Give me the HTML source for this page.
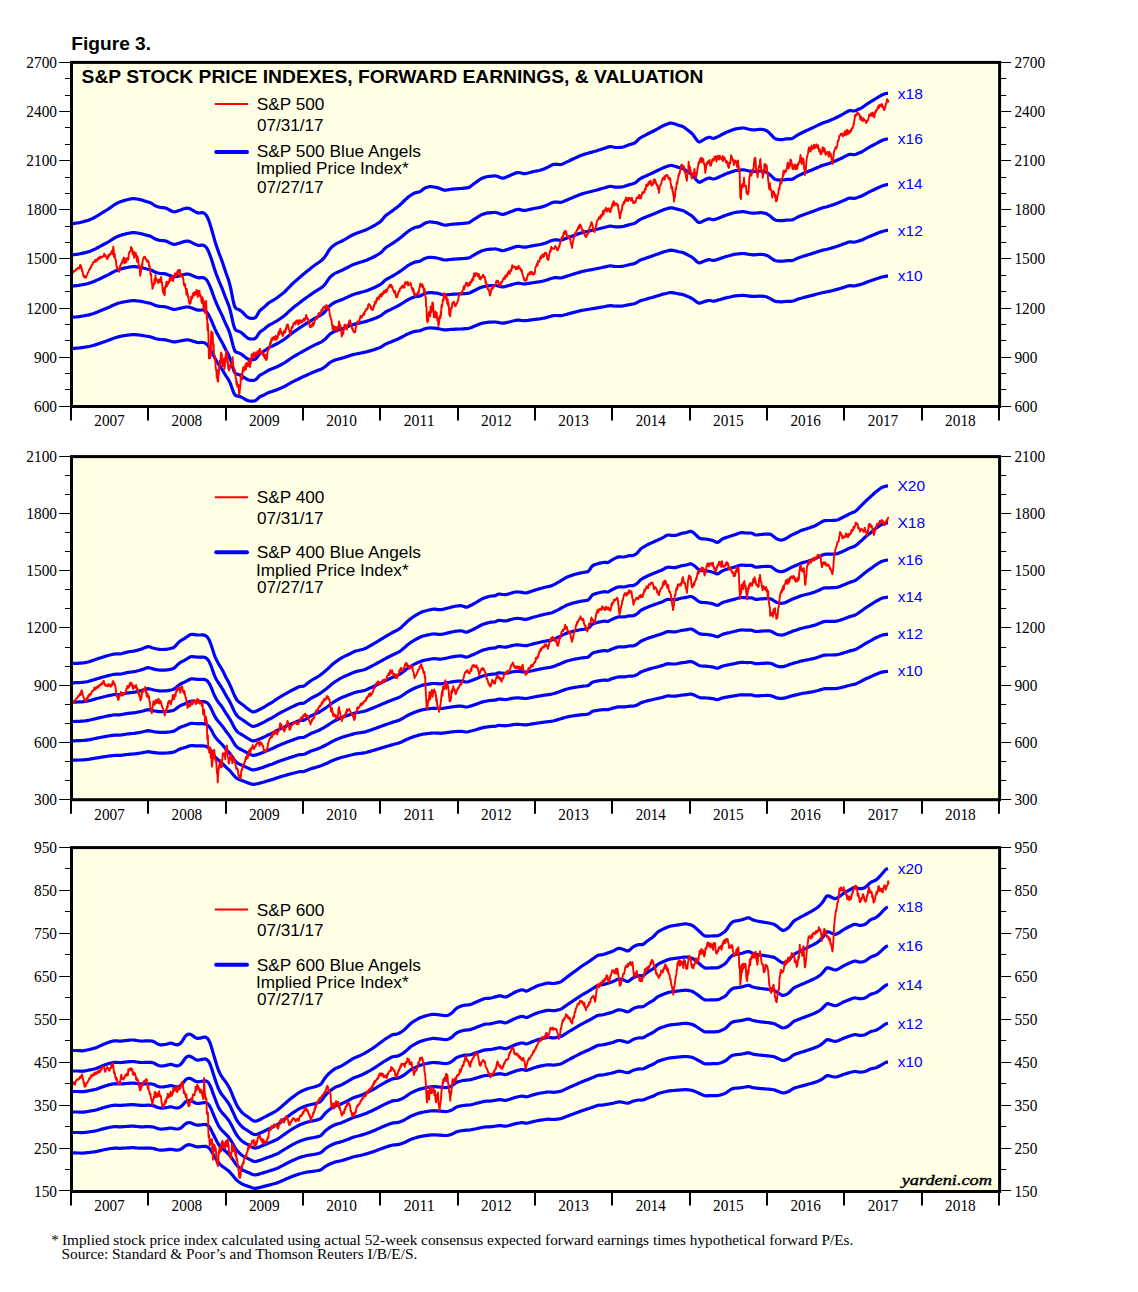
<!DOCTYPE html>
<html><head><meta charset="utf-8"><title>Figure 3</title><style>html,body{margin:0;padding:0;background:#fff}svg{display:block}</style></head><body>
<svg width="1138" height="1292" viewBox="0 0 1138 1292">
<style>
.ax{font-family:"Liberation Serif","Times New Roman",serif;font-size:16px;fill:#000}
.b{fill:none;stroke:#0000ff;stroke-width:3.2;stroke-linejoin:round;stroke-linecap:butt}
.r{fill:none;stroke:#ff0000;stroke-width:1.9;stroke-linejoin:round}
</style>
<rect width="1138" height="1292" fill="#fff"/>
<text x="71.36" y="49.80" textLength="79.72" lengthAdjust="spacingAndGlyphs" style='font-family:"Liberation Sans",Arial,sans-serif;font-size:19.00px;font-weight:bold;font-style:normal;fill:#000'>Figure 3.</text>
<rect x="71.5" y="62.4" width="928.1" height="344.1" fill="#ffffe6"/>
<polyline class="b" points="72.0,348.5 73.0,348.4 74.0,348.4 75.0,348.3 76.0,348.2 77.0,348.1 78.0,348.1 79.0,348.0 80.0,347.8 81.0,347.7 82.0,347.6 83.0,347.4 84.0,347.3 85.0,347.1 86.0,347.0 87.0,346.8 88.0,346.7 89.0,346.5 90.0,346.2 91.0,346.0 92.0,345.7 93.0,345.5 94.0,345.2 95.0,344.9 96.0,344.6 97.0,344.2 98.0,343.9 99.0,343.6 100.0,343.2 101.0,342.9 102.0,342.5 103.0,342.2 104.0,341.9 105.0,341.5 106.0,341.2 107.0,340.8 108.0,340.5 109.0,340.1 110.0,339.7 111.0,339.3 112.0,338.9 113.0,338.5 114.0,338.2 115.0,337.8 116.0,337.5 117.0,337.2 118.0,336.9 119.0,336.6 120.0,336.4 121.0,336.2 122.0,336.0 123.0,335.8 124.0,335.7 125.0,335.5 126.0,335.4 127.0,335.2 128.0,335.1 129.0,335.0 130.0,334.9 131.0,334.7 132.0,334.6 133.0,334.6 134.0,334.6 135.0,334.6 136.0,334.7 137.0,334.8 138.0,334.9 139.0,335.0 140.0,335.1 141.0,335.3 142.0,335.4 143.0,335.6 144.0,335.8 145.0,336.0 146.0,336.1 147.0,336.3 148.0,336.5 149.0,336.6 150.0,336.8 151.0,337.0 152.0,337.4 153.0,337.7 154.0,338.1 155.0,338.5 156.0,338.8 157.0,339.0 158.0,339.1 159.0,339.3 160.0,339.4 161.0,339.5 162.0,339.6 163.0,339.6 164.0,339.7 165.0,339.8 166.0,339.9 167.0,340.2 168.0,340.5 169.0,340.8 170.0,341.0 171.0,341.3 172.0,341.6 173.0,341.8 174.0,341.9 175.0,341.9 176.0,341.8 177.0,341.6 178.0,341.4 179.0,341.2 180.0,341.0 181.0,340.8 182.0,340.6 183.0,340.4 184.0,340.2 185.0,340.1 186.0,340.0 187.0,339.9 188.0,339.9 189.0,340.0 190.0,340.2 191.0,340.5 192.0,340.9 193.0,341.2 194.0,341.5 195.0,341.8 196.0,342.1 197.0,342.4 198.0,342.5 199.0,342.6 200.0,342.5 201.0,342.4 202.0,342.4 203.0,342.5 204.0,342.7 205.0,343.1 206.0,343.7 207.0,344.5 208.0,345.7 209.0,347.1 210.0,348.7 211.0,350.5 212.0,352.4 213.0,354.4 214.0,356.4 215.0,358.3 216.0,360.1 217.0,361.8 218.0,363.4 219.0,364.9 220.0,366.4 221.0,367.8 222.0,369.3 223.0,370.9 224.0,372.6 225.0,374.3 226.0,375.9 227.0,377.4 228.0,378.9 229.0,380.7 230.0,382.7 231.0,385.2 232.0,388.0 233.0,390.9 234.0,393.3 235.0,394.9 236.0,395.6 237.0,395.9 238.0,396.1 239.0,396.4 240.0,396.6 241.0,397.0 242.0,397.4 243.0,398.0 244.0,398.6 245.0,399.2 246.0,399.7 247.0,400.2 248.0,400.6 249.0,400.9 250.0,401.0 251.0,401.1 252.0,401.1 253.0,401.1 254.0,401.0 255.0,400.8 256.0,400.3 257.0,399.5 258.0,398.4 259.0,397.5 260.0,396.7 261.0,396.2 262.0,395.8 263.0,395.4 264.0,395.0 265.0,394.4 266.0,393.9 267.0,393.4 268.0,392.9 269.0,392.4 270.0,392.1 271.0,391.8 272.0,391.5 273.0,391.1 274.0,390.8 275.0,390.4 276.0,390.1 277.0,389.7 278.0,389.3 279.0,388.9 280.0,388.4 281.0,388.0 282.0,387.6 283.0,387.1 284.0,386.7 285.0,386.2 286.0,385.6 287.0,385.0 288.0,384.4 289.0,383.9 290.0,383.3 291.0,382.7 292.0,382.1 293.0,381.6 294.0,381.1 295.0,380.6 296.0,380.1 297.0,379.7 298.0,379.2 299.0,378.7 300.0,378.2 301.0,377.7 302.0,377.2 303.0,376.8 304.0,376.3 305.0,375.9 306.0,375.4 307.0,375.0 308.0,374.5 309.0,374.1 310.0,373.6 311.0,373.2 312.0,372.8 313.0,372.3 314.0,371.9 315.0,371.5 316.0,371.1 317.0,370.7 318.0,370.3 319.0,369.9 320.0,369.6 321.0,369.2 322.0,368.7 323.0,368.1 324.0,367.5 325.0,366.8 326.0,366.0 327.0,365.1 328.0,364.2 329.0,363.3 330.0,362.5 331.0,361.9 332.0,361.4 333.0,360.9 334.0,360.5 335.0,360.1 336.0,359.8 337.0,359.5 338.0,359.2 339.0,358.9 340.0,358.7 341.0,358.4 342.0,358.1 343.0,357.8 344.0,357.6 345.0,357.2 346.0,356.9 347.0,356.6 348.0,356.2 349.0,355.9 350.0,355.5 351.0,355.2 352.0,354.9 353.0,354.6 354.0,354.4 355.0,354.2 356.0,354.0 357.0,353.8 358.0,353.6 359.0,353.4 360.0,353.2 361.0,353.0 362.0,352.8 363.0,352.6 364.0,352.4 365.0,352.2 366.0,351.9 367.0,351.7 368.0,351.4 369.0,351.1 370.0,350.9 371.0,350.6 372.0,350.3 373.0,350.0 374.0,349.7 375.0,349.3 376.0,349.0 377.0,348.6 378.0,348.3 379.0,347.9 380.0,347.5 381.0,347.0 382.0,346.5 383.0,345.8 384.0,345.1 385.0,344.4 386.0,343.9 387.0,343.5 388.0,343.1 389.0,342.7 390.0,342.3 391.0,341.9 392.0,341.5 393.0,341.1 394.0,340.7 395.0,340.3 396.0,339.8 397.0,339.4 398.0,339.0 399.0,338.5 400.0,338.0 401.0,337.5 402.0,337.0 403.0,336.5 404.0,335.9 405.0,335.4 406.0,334.8 407.0,334.3 408.0,333.9 409.0,333.4 410.0,333.0 411.0,332.6 412.0,332.3 413.0,331.9 414.0,331.6 415.0,331.4 416.0,331.2 417.0,331.1 418.0,331.0 419.0,330.9 420.0,330.7 421.0,330.3 422.0,329.9 423.0,329.4 424.0,329.0 425.0,328.7 426.0,328.5 427.0,328.3 428.0,328.1 429.0,328.0 430.0,327.9 431.0,327.9 432.0,328.0 433.0,328.1 434.0,328.2 435.0,328.2 436.0,328.3 437.0,328.5 438.0,328.6 439.0,328.8 440.0,329.0 441.0,329.3 442.0,329.5 443.0,329.7 444.0,329.8 445.0,329.9 446.0,329.9 447.0,329.8 448.0,329.7 449.0,329.6 450.0,329.5 451.0,329.4 452.0,329.4 453.0,329.3 454.0,329.3 455.0,329.2 456.0,329.2 457.0,329.1 458.0,329.1 459.0,329.0 460.0,329.0 461.0,329.0 462.0,328.9 463.0,328.8 464.0,328.8 465.0,328.7 466.0,328.7 467.0,328.6 468.0,328.5 469.0,328.3 470.0,328.0 471.0,327.6 472.0,327.2 473.0,326.7 474.0,326.3 475.0,325.9 476.0,325.5 477.0,325.1 478.0,324.7 479.0,324.3 480.0,323.9 481.0,323.6 482.0,323.3 483.0,323.1 484.0,322.9 485.0,322.7 486.0,322.5 487.0,322.4 488.0,322.3 489.0,322.2 490.0,322.2 491.0,322.1 492.0,322.1 493.0,322.0 494.0,322.0 495.0,322.0 496.0,322.0 497.0,322.2 498.0,322.4 499.0,322.6 500.0,322.8 501.0,323.0 502.0,323.2 503.0,323.2 504.0,323.1 505.0,322.9 506.0,322.7 507.0,322.4 508.0,322.2 509.0,322.0 510.0,321.7 511.0,321.5 512.0,321.2 513.0,321.0 514.0,320.8 515.0,320.5 516.0,320.3 517.0,320.2 518.0,320.1 519.0,320.1 520.0,320.2 521.0,320.4 522.0,320.5 523.0,320.7 524.0,320.7 525.0,320.7 526.0,320.6 527.0,320.5 528.0,320.4 529.0,320.2 530.0,320.1 531.0,319.9 532.0,319.8 533.0,319.6 534.0,319.5 535.0,319.4 536.0,319.3 537.0,319.2 538.0,319.1 539.0,319.0 540.0,318.8 541.0,318.7 542.0,318.5 543.0,318.3 544.0,318.1 545.0,317.9 546.0,317.6 547.0,317.4 548.0,317.1 549.0,316.8 550.0,316.5 551.0,316.2 552.0,315.9 553.0,315.7 554.0,315.6 555.0,315.5 556.0,315.5 557.0,315.5 558.0,315.6 559.0,315.7 560.0,315.7 561.0,315.6 562.0,315.5 563.0,315.3 564.0,315.0 565.0,314.7 566.0,314.5 567.0,314.2 568.0,313.9 569.0,313.7 570.0,313.4 571.0,313.1 572.0,312.9 573.0,312.6 574.0,312.3 575.0,312.1 576.0,311.8 577.0,311.6 578.0,311.3 579.0,311.1 580.0,310.8 581.0,310.6 582.0,310.4 583.0,310.2 584.0,310.0 585.0,309.9 586.0,309.7 587.0,309.5 588.0,309.4 589.0,309.2 590.0,309.0 591.0,308.9 592.0,308.7 593.0,308.6 594.0,308.4 595.0,308.3 596.0,308.1 597.0,307.9 598.0,307.8 599.0,307.6 600.0,307.4 601.0,307.2 602.0,307.0 603.0,306.9 604.0,306.7 605.0,306.5 606.0,306.3 607.0,306.1 608.0,305.9 609.0,305.8 610.0,305.7 611.0,305.7 612.0,305.8 613.0,305.9 614.0,306.0 615.0,306.1 616.0,306.2 617.0,306.2 618.0,306.2 619.0,306.2 620.0,306.1 621.0,306.1 622.0,306.0 623.0,305.9 624.0,305.7 625.0,305.5 626.0,305.3 627.0,305.1 628.0,304.9 629.0,304.7 630.0,304.5 631.0,304.3 632.0,304.2 633.0,304.0 634.0,303.8 635.0,303.5 636.0,303.1 637.0,302.6 638.0,302.0 639.0,301.4 640.0,301.0 641.0,300.6 642.0,300.3 643.0,300.0 644.0,299.7 645.0,299.5 646.0,299.2 647.0,298.9 648.0,298.6 649.0,298.3 650.0,298.0 651.0,297.7 652.0,297.5 653.0,297.2 654.0,296.9 655.0,296.6 656.0,296.3 657.0,296.0 658.0,295.7 659.0,295.4 660.0,295.1 661.0,294.7 662.0,294.4 663.0,294.2 664.0,293.9 665.0,293.7 666.0,293.5 667.0,293.2 668.0,293.0 669.0,292.8 670.0,292.6 671.0,292.6 672.0,292.7 673.0,292.8 674.0,292.9 675.0,293.1 676.0,293.3 677.0,293.5 678.0,293.7 679.0,293.9 680.0,294.1 681.0,294.2 682.0,294.4 683.0,294.6 684.0,294.9 685.0,295.3 686.0,295.8 687.0,296.2 688.0,296.6 689.0,297.1 690.0,297.5 691.0,298.0 692.0,298.5 693.0,299.1 694.0,299.9 695.0,300.6 696.0,301.4 697.0,302.2 698.0,302.8 699.0,303.1 700.0,303.1 701.0,302.8 702.0,302.4 703.0,302.1 704.0,301.7 705.0,301.4 706.0,301.1 707.0,300.9 708.0,300.6 709.0,300.5 710.0,300.5 711.0,300.7 712.0,301.0 713.0,301.1 714.0,301.1 715.0,300.9 716.0,300.7 717.0,300.4 718.0,300.1 719.0,299.8 720.0,299.6 721.0,299.3 722.0,299.0 723.0,298.7 724.0,298.4 725.0,298.1 726.0,297.9 727.0,297.6 728.0,297.4 729.0,297.2 730.0,297.0 731.0,296.8 732.0,296.5 733.0,296.3 734.0,296.1 735.0,295.9 736.0,295.8 737.0,295.7 738.0,295.7 739.0,295.6 740.0,295.5 741.0,295.4 742.0,295.4 743.0,295.3 744.0,295.4 745.0,295.5 746.0,295.6 747.0,295.8 748.0,295.9 749.0,296.1 750.0,296.2 751.0,296.3 752.0,296.4 753.0,296.4 754.0,296.4 755.0,296.4 756.0,296.3 757.0,296.3 758.0,296.2 759.0,296.1 760.0,296.1 761.0,296.1 762.0,296.1 763.0,296.2 764.0,296.4 765.0,296.5 766.0,296.7 767.0,297.0 768.0,297.5 769.0,297.9 770.0,298.5 771.0,299.0 772.0,299.7 773.0,300.3 774.0,300.8 775.0,301.2 776.0,301.4 777.0,301.6 778.0,301.6 779.0,301.7 780.0,301.8 781.0,301.8 782.0,301.8 783.0,301.7 784.0,301.6 785.0,301.5 786.0,301.4 787.0,301.3 788.0,301.3 789.0,301.3 790.0,301.3 791.0,301.3 792.0,301.2 793.0,301.0 794.0,300.7 795.0,300.3 796.0,299.9 797.0,299.5 798.0,299.1 799.0,298.8 800.0,298.5 801.0,298.3 802.0,298.0 803.0,297.7 804.0,297.4 805.0,297.2 806.0,296.9 807.0,296.6 808.0,296.4 809.0,296.1 810.0,295.9 811.0,295.6 812.0,295.4 813.0,295.1 814.0,294.9 815.0,294.6 816.0,294.3 817.0,294.0 818.0,293.8 819.0,293.5 820.0,293.2 821.0,293.0 822.0,292.7 823.0,292.5 824.0,292.3 825.0,292.2 826.0,292.0 827.0,291.8 828.0,291.6 829.0,291.4 830.0,291.2 831.0,290.9 832.0,290.7 833.0,290.4 834.0,290.2 835.0,289.9 836.0,289.6 837.0,289.4 838.0,289.1 839.0,288.8 840.0,288.5 841.0,288.2 842.0,287.9 843.0,287.6 844.0,287.3 845.0,287.0 846.0,286.6 847.0,286.3 848.0,286.0 849.0,285.8 850.0,285.7 851.0,285.7 852.0,285.8 853.0,285.9 854.0,285.9 855.0,285.8 856.0,285.6 857.0,285.3 858.0,285.1 859.0,284.9 860.0,284.6 861.0,284.3 862.0,284.0 863.0,283.7 864.0,283.3 865.0,282.9 866.0,282.5 867.0,282.1 868.0,281.7 869.0,281.3 870.0,281.0 871.0,280.7 872.0,280.3 873.0,280.0 874.0,279.6 875.0,279.3 876.0,279.0 877.0,278.6 878.0,278.3 879.0,278.0 880.0,277.6 881.0,277.3 882.0,277.0 883.0,276.8 884.0,276.6 885.0,276.3 886.0,276.2 887.0,276.1 888.0,276.1"/>
<polyline class="b" points="72.0,317.3 73.0,317.2 74.0,317.1 75.0,317.0 76.0,317.0 77.0,316.9 78.0,316.8 79.0,316.6 80.0,316.5 81.0,316.3 82.0,316.2 83.0,316.0 84.0,315.8 85.0,315.6 86.0,315.5 87.0,315.3 88.0,315.1 89.0,314.9 90.0,314.6 91.0,314.3 92.0,314.0 93.0,313.7 94.0,313.3 95.0,313.0 96.0,312.6 97.0,312.2 98.0,311.8 99.0,311.4 100.0,310.9 101.0,310.5 102.0,310.1 103.0,309.7 104.0,309.3 105.0,308.9 106.0,308.5 107.0,308.1 108.0,307.7 109.0,307.2 110.0,306.8 111.0,306.3 112.0,305.8 113.0,305.3 114.0,304.9 115.0,304.5 116.0,304.1 117.0,303.7 118.0,303.3 119.0,303.0 120.0,302.8 121.0,302.5 122.0,302.3 123.0,302.1 124.0,301.9 125.0,301.7 126.0,301.5 127.0,301.4 128.0,301.2 129.0,301.1 130.0,300.9 131.0,300.8 132.0,300.6 133.0,300.6 134.0,300.6 135.0,300.7 136.0,300.8 137.0,300.9 138.0,301.0 139.0,301.1 140.0,301.2 141.0,301.4 142.0,301.6 143.0,301.8 144.0,302.0 145.0,302.2 146.0,302.5 147.0,302.7 148.0,302.8 149.0,303.0 150.0,303.2 151.0,303.5 152.0,303.9 153.0,304.4 154.0,304.8 155.0,305.3 156.0,305.6 157.0,305.9 158.0,306.1 159.0,306.3 160.0,306.4 161.0,306.5 162.0,306.6 163.0,306.6 164.0,306.7 165.0,306.8 166.0,307.0 167.0,307.3 168.0,307.6 169.0,308.0 170.0,308.3 171.0,308.7 172.0,309.0 173.0,309.3 174.0,309.4 175.0,309.4 176.0,309.2 177.0,309.0 178.0,308.8 179.0,308.5 180.0,308.3 181.0,308.1 182.0,307.8 183.0,307.6 184.0,307.3 185.0,307.2 186.0,307.0 187.0,307.0 188.0,307.0 189.0,307.1 190.0,307.4 191.0,307.7 192.0,308.1 193.0,308.5 194.0,308.9 195.0,309.2 196.0,309.6 197.0,309.9 198.0,310.1 199.0,310.2 200.0,310.1 201.0,310.0 202.0,310.0 203.0,310.0 204.0,310.3 205.0,310.8 206.0,311.5 207.0,312.5 208.0,313.9 209.0,315.6 210.0,317.6 211.0,319.7 212.0,322.0 213.0,324.4 214.0,326.8 215.0,329.1 216.0,331.2 217.0,333.2 218.0,335.1 219.0,337.0 220.0,338.7 221.0,340.5 222.0,342.3 223.0,344.2 224.0,346.2 225.0,348.2 226.0,350.2 227.0,352.0 228.0,353.8 229.0,355.9 230.0,358.4 231.0,361.3 232.0,364.7 233.0,368.2 234.0,371.1 235.0,372.9 236.0,373.8 237.0,374.2 238.0,374.4 239.0,374.7 240.0,375.0 241.0,375.5 242.0,376.0 243.0,376.7 244.0,377.4 245.0,378.1 246.0,378.8 247.0,379.3 248.0,379.8 249.0,380.1 250.0,380.3 251.0,380.4 252.0,380.4 253.0,380.4 254.0,380.3 255.0,380.0 256.0,379.4 257.0,378.5 258.0,377.2 259.0,376.0 260.0,375.2 261.0,374.6 262.0,374.1 263.0,373.6 264.0,373.0 265.0,372.4 266.0,371.8 267.0,371.2 268.0,370.5 269.0,370.0 270.0,369.6 271.0,369.2 272.0,368.8 273.0,368.4 274.0,368.0 275.0,367.6 276.0,367.2 277.0,366.7 278.0,366.2 279.0,365.7 280.0,365.2 281.0,364.7 282.0,364.2 283.0,363.6 284.0,363.1 285.0,362.5 286.0,361.8 287.0,361.1 288.0,360.4 289.0,359.7 290.0,359.0 291.0,358.3 292.0,357.7 293.0,357.0 294.0,356.4 295.0,355.8 296.0,355.3 297.0,354.7 298.0,354.1 299.0,353.5 300.0,352.9 301.0,352.4 302.0,351.8 303.0,351.2 304.0,350.7 305.0,350.1 306.0,349.6 307.0,349.0 308.0,348.5 309.0,348.0 310.0,347.4 311.0,346.9 312.0,346.4 313.0,345.9 314.0,345.4 315.0,344.9 316.0,344.4 317.0,343.9 318.0,343.5 319.0,343.0 320.0,342.6 321.0,342.1 322.0,341.5 323.0,340.9 324.0,340.1 325.0,339.3 326.0,338.3 327.0,337.2 328.0,336.1 329.0,335.0 330.0,334.1 331.0,333.4 332.0,332.7 333.0,332.2 334.0,331.6 335.0,331.2 336.0,330.8 337.0,330.5 338.0,330.1 339.0,329.8 340.0,329.5 341.0,329.2 342.0,328.8 343.0,328.5 344.0,328.1 345.0,327.8 346.0,327.4 347.0,327.0 348.0,326.6 349.0,326.1 350.0,325.7 351.0,325.3 352.0,325.0 353.0,324.7 354.0,324.4 355.0,324.1 356.0,323.8 357.0,323.6 358.0,323.3 359.0,323.1 360.0,322.9 361.0,322.6 362.0,322.4 363.0,322.2 364.0,321.9 365.0,321.7 366.0,321.4 367.0,321.1 368.0,320.8 369.0,320.5 370.0,320.1 371.0,319.8 372.0,319.4 373.0,319.1 374.0,318.7 375.0,318.3 376.0,317.9 377.0,317.5 378.0,317.0 379.0,316.6 380.0,316.1 381.0,315.5 382.0,314.8 383.0,314.0 384.0,313.2 385.0,312.4 386.0,311.8 387.0,311.3 388.0,310.8 389.0,310.3 390.0,309.9 391.0,309.4 392.0,308.9 393.0,308.4 394.0,307.9 395.0,307.4 396.0,306.9 397.0,306.4 398.0,305.8 399.0,305.3 400.0,304.7 401.0,304.1 402.0,303.5 403.0,302.8 404.0,302.2 405.0,301.5 406.0,300.9 407.0,300.3 408.0,299.7 409.0,299.2 410.0,298.7 411.0,298.3 412.0,297.8 413.0,297.4 414.0,297.1 415.0,296.8 416.0,296.6 417.0,296.4 418.0,296.3 419.0,296.2 420.0,295.9 421.0,295.5 422.0,295.0 423.0,294.4 424.0,293.9 425.0,293.5 426.0,293.3 427.0,293.0 428.0,292.8 429.0,292.7 430.0,292.6 431.0,292.6 432.0,292.7 433.0,292.8 434.0,292.9 435.0,293.0 436.0,293.1 437.0,293.2 438.0,293.4 439.0,293.7 440.0,293.9 441.0,294.2 442.0,294.5 443.0,294.7 444.0,294.9 445.0,295.0 446.0,294.9 447.0,294.9 448.0,294.7 449.0,294.6 450.0,294.5 451.0,294.4 452.0,294.3 453.0,294.2 454.0,294.2 455.0,294.1 456.0,294.1 457.0,294.0 458.0,294.0 459.0,293.9 460.0,293.9 461.0,293.8 462.0,293.8 463.0,293.7 464.0,293.6 465.0,293.6 466.0,293.5 467.0,293.4 468.0,293.3 469.0,293.1 470.0,292.7 471.0,292.2 472.0,291.7 473.0,291.2 474.0,290.7 475.0,290.2 476.0,289.7 477.0,289.2 478.0,288.8 479.0,288.3 480.0,287.8 481.0,287.4 482.0,287.1 483.0,286.8 484.0,286.6 485.0,286.3 486.0,286.1 487.0,286.0 488.0,285.8 489.0,285.8 490.0,285.7 491.0,285.7 492.0,285.6 493.0,285.5 494.0,285.5 495.0,285.5 496.0,285.5 497.0,285.7 498.0,285.9 499.0,286.2 500.0,286.5 501.0,286.7 502.0,286.9 503.0,286.9 504.0,286.8 505.0,286.6 506.0,286.3 507.0,286.0 508.0,285.7 509.0,285.4 510.0,285.2 511.0,284.9 512.0,284.6 513.0,284.3 514.0,284.0 515.0,283.7 516.0,283.5 517.0,283.3 518.0,283.2 519.0,283.2 520.0,283.4 521.0,283.5 522.0,283.7 523.0,283.9 524.0,284.0 525.0,283.9 526.0,283.8 527.0,283.7 528.0,283.5 529.0,283.3 530.0,283.2 531.0,283.0 532.0,282.8 533.0,282.7 534.0,282.5 535.0,282.4 536.0,282.2 537.0,282.1 538.0,282.0 539.0,281.8 540.0,281.7 541.0,281.5 542.0,281.3 543.0,281.0 544.0,280.8 545.0,280.5 546.0,280.3 547.0,279.9 548.0,279.6 549.0,279.2 550.0,278.8 551.0,278.5 552.0,278.2 553.0,278.0 554.0,277.8 555.0,277.7 556.0,277.7 557.0,277.7 558.0,277.8 559.0,277.9 560.0,277.9 561.0,277.9 562.0,277.7 563.0,277.4 564.0,277.1 565.0,276.8 566.0,276.4 567.0,276.1 568.0,275.8 569.0,275.5 570.0,275.2 571.0,274.8 572.0,274.5 573.0,274.2 574.0,273.9 575.0,273.6 576.0,273.3 577.0,273.0 578.0,272.7 579.0,272.4 580.0,272.1 581.0,271.8 582.0,271.5 583.0,271.3 584.0,271.1 585.0,270.9 586.0,270.7 587.0,270.5 588.0,270.3 589.0,270.1 590.0,269.9 591.0,269.8 592.0,269.6 593.0,269.4 594.0,269.2 595.0,269.0 596.0,268.8 597.0,268.6 598.0,268.4 599.0,268.2 600.0,268.0 601.0,267.8 602.0,267.5 603.0,267.3 604.0,267.1 605.0,266.9 606.0,266.7 607.0,266.4 608.0,266.2 609.0,266.0 610.0,265.9 611.0,265.9 612.0,266.0 613.0,266.2 614.0,266.3 615.0,266.5 616.0,266.5 617.0,266.5 618.0,266.5 619.0,266.5 620.0,266.5 621.0,266.4 622.0,266.3 623.0,266.2 624.0,266.0 625.0,265.7 626.0,265.5 627.0,265.2 628.0,265.0 629.0,264.7 630.0,264.5 631.0,264.3 632.0,264.1 633.0,263.9 634.0,263.7 635.0,263.3 636.0,262.8 637.0,262.2 638.0,261.5 639.0,260.8 640.0,260.3 641.0,259.8 642.0,259.5 643.0,259.1 644.0,258.8 645.0,258.4 646.0,258.1 647.0,257.7 648.0,257.4 649.0,257.1 650.0,256.7 651.0,256.4 652.0,256.0 653.0,255.7 654.0,255.3 655.0,255.0 656.0,254.6 657.0,254.3 658.0,253.9 659.0,253.5 660.0,253.2 661.0,252.8 662.0,252.4 663.0,252.1 664.0,251.8 665.0,251.5 666.0,251.2 667.0,251.0 668.0,250.7 669.0,250.4 670.0,250.3 671.0,250.2 672.0,250.3 673.0,250.4 674.0,250.6 675.0,250.8 676.0,251.1 677.0,251.3 678.0,251.5 679.0,251.8 680.0,252.0 681.0,252.1 682.0,252.3 683.0,252.6 684.0,253.0 685.0,253.5 686.0,254.0 687.0,254.5 688.0,255.0 689.0,255.6 690.0,256.1 691.0,256.6 692.0,257.3 693.0,258.0 694.0,258.9 695.0,259.8 696.0,260.8 697.0,261.7 698.0,262.4 699.0,262.8 700.0,262.8 701.0,262.4 702.0,262.0 703.0,261.6 704.0,261.2 705.0,260.8 706.0,260.4 707.0,260.1 708.0,259.8 709.0,259.7 710.0,259.7 711.0,260.0 712.0,260.2 713.0,260.4 714.0,260.4 715.0,260.2 716.0,259.9 717.0,259.6 718.0,259.2 719.0,258.9 720.0,258.6 721.0,258.2 722.0,257.9 723.0,257.5 724.0,257.2 725.0,256.8 726.0,256.5 727.0,256.2 728.0,256.0 729.0,255.7 730.0,255.5 731.0,255.2 732.0,254.9 733.0,254.7 734.0,254.4 735.0,254.2 736.0,254.1 737.0,254.0 738.0,253.9 739.0,253.8 740.0,253.7 741.0,253.6 742.0,253.5 743.0,253.5 744.0,253.6 745.0,253.7 746.0,253.8 747.0,254.0 748.0,254.2 749.0,254.4 750.0,254.5 751.0,254.6 752.0,254.7 753.0,254.8 754.0,254.8 755.0,254.8 756.0,254.7 757.0,254.6 758.0,254.5 759.0,254.4 760.0,254.4 761.0,254.4 762.0,254.4 763.0,254.5 764.0,254.7 765.0,254.9 766.0,255.2 767.0,255.5 768.0,256.0 769.0,256.6 770.0,257.3 771.0,257.9 772.0,258.7 773.0,259.4 774.0,260.1 775.0,260.5 776.0,260.8 777.0,261.0 778.0,261.1 779.0,261.2 780.0,261.2 781.0,261.3 782.0,261.2 783.0,261.2 784.0,261.0 785.0,260.9 786.0,260.8 787.0,260.7 788.0,260.7 789.0,260.7 790.0,260.7 791.0,260.7 792.0,260.6 793.0,260.3 794.0,259.9 795.0,259.4 796.0,258.9 797.0,258.5 798.0,258.0 799.0,257.7 800.0,257.3 801.0,257.0 802.0,256.7 803.0,256.3 804.0,256.0 805.0,255.7 806.0,255.4 807.0,255.1 808.0,254.8 809.0,254.5 810.0,254.2 811.0,253.9 812.0,253.6 813.0,253.2 814.0,252.9 815.0,252.6 816.0,252.3 817.0,251.9 818.0,251.6 819.0,251.3 820.0,251.0 821.0,250.7 822.0,250.4 823.0,250.1 824.0,249.9 825.0,249.7 826.0,249.5 827.0,249.3 828.0,249.0 829.0,248.8 830.0,248.5 831.0,248.2 832.0,247.9 833.0,247.6 834.0,247.3 835.0,247.0 836.0,246.7 837.0,246.3 838.0,246.0 839.0,245.7 840.0,245.3 841.0,245.0 842.0,244.6 843.0,244.2 844.0,243.8 845.0,243.5 846.0,243.1 847.0,242.7 848.0,242.3 849.0,242.0 850.0,241.9 851.0,241.9 852.0,242.0 853.0,242.2 854.0,242.2 855.0,242.0 856.0,241.8 857.0,241.5 858.0,241.2 859.0,240.9 860.0,240.6 861.0,240.3 862.0,239.9 863.0,239.5 864.0,239.0 865.0,238.5 866.0,238.1 867.0,237.6 868.0,237.1 869.0,236.7 870.0,236.3 871.0,235.9 872.0,235.5 873.0,235.1 874.0,234.7 875.0,234.2 876.0,233.8 877.0,233.4 878.0,233.0 879.0,232.6 880.0,232.2 881.0,231.9 882.0,231.5 883.0,231.2 884.0,231.0 885.0,230.7 886.0,230.5 887.0,230.4 888.0,230.4"/>
<polyline class="b" points="72.0,286.1 73.0,286.0 74.0,285.9 75.0,285.8 76.0,285.7 77.0,285.6 78.0,285.5 79.0,285.3 80.0,285.2 81.0,285.0 82.0,284.8 83.0,284.6 84.0,284.4 85.0,284.2 86.0,284.0 87.0,283.7 88.0,283.5 89.0,283.2 90.0,282.9 91.0,282.6 92.0,282.2 93.0,281.8 94.0,281.5 95.0,281.0 96.0,280.6 97.0,280.1 98.0,279.6 99.0,279.2 100.0,278.7 101.0,278.2 102.0,277.7 103.0,277.3 104.0,276.8 105.0,276.3 106.0,275.8 107.0,275.4 108.0,274.9 109.0,274.4 110.0,273.8 111.0,273.3 112.0,272.7 113.0,272.1 114.0,271.6 115.0,271.1 116.0,270.7 117.0,270.2 118.0,269.8 119.0,269.5 120.0,269.1 121.0,268.9 122.0,268.6 123.0,268.4 124.0,268.1 125.0,267.9 126.0,267.7 127.0,267.5 128.0,267.3 129.0,267.1 130.0,267.0 131.0,266.8 132.0,266.7 133.0,266.6 134.0,266.6 135.0,266.7 136.0,266.8 137.0,266.9 138.0,267.1 139.0,267.2 140.0,267.3 141.0,267.5 142.0,267.8 143.0,268.0 144.0,268.3 145.0,268.5 146.0,268.8 147.0,269.0 148.0,269.2 149.0,269.4 150.0,269.7 151.0,270.0 152.0,270.5 153.0,271.0 154.0,271.6 155.0,272.0 156.0,272.4 157.0,272.7 158.0,273.0 159.0,273.2 160.0,273.4 161.0,273.5 162.0,273.6 163.0,273.7 164.0,273.7 165.0,273.8 166.0,274.1 167.0,274.4 168.0,274.8 169.0,275.2 170.0,275.6 171.0,276.0 172.0,276.4 173.0,276.7 174.0,276.9 175.0,276.8 176.0,276.6 177.0,276.4 178.0,276.1 179.0,275.9 180.0,275.6 181.0,275.3 182.0,275.0 183.0,274.7 184.0,274.5 185.0,274.3 186.0,274.1 187.0,274.1 188.0,274.1 189.0,274.2 190.0,274.5 191.0,274.9 192.0,275.4 193.0,275.8 194.0,276.3 195.0,276.7 196.0,277.1 197.0,277.5 198.0,277.7 199.0,277.8 200.0,277.7 201.0,277.6 202.0,277.5 203.0,277.6 204.0,278.0 205.0,278.5 206.0,279.3 207.0,280.5 208.0,282.1 209.0,284.1 210.0,286.4 211.0,288.9 212.0,291.6 213.0,294.4 214.0,297.2 215.0,299.9 216.0,302.3 217.0,304.7 218.0,306.9 219.0,309.0 220.0,311.1 221.0,313.1 222.0,315.2 223.0,317.5 224.0,319.8 225.0,322.2 226.0,324.4 227.0,326.5 228.0,328.7 229.0,331.1 230.0,334.0 231.0,337.5 232.0,341.4 233.0,345.4 234.0,348.8 235.0,351.0 236.0,352.0 237.0,352.4 238.0,352.7 239.0,353.1 240.0,353.5 241.0,354.0 242.0,354.6 243.0,355.4 244.0,356.2 245.0,357.0 246.0,357.8 247.0,358.5 248.0,359.0 249.0,359.4 250.0,359.6 251.0,359.7 252.0,359.7 253.0,359.7 254.0,359.6 255.0,359.3 256.0,358.6 257.0,357.4 258.0,356.0 259.0,354.6 260.0,353.6 261.0,352.9 262.0,352.3 263.0,351.8 264.0,351.1 265.0,350.4 266.0,349.7 267.0,348.9 268.0,348.2 269.0,347.6 270.0,347.1 271.0,346.6 272.0,346.2 273.0,345.8 274.0,345.3 275.0,344.8 276.0,344.3 277.0,343.7 278.0,343.2 279.0,342.6 280.0,342.0 281.0,341.4 282.0,340.8 283.0,340.2 284.0,339.5 285.0,338.8 286.0,338.0 287.0,337.2 288.0,336.4 289.0,335.6 290.0,334.8 291.0,334.0 292.0,333.2 293.0,332.4 294.0,331.7 295.0,331.1 296.0,330.4 297.0,329.7 298.0,329.0 299.0,328.3 300.0,327.7 301.0,327.0 302.0,326.3 303.0,325.7 304.0,325.0 305.0,324.4 306.0,323.7 307.0,323.1 308.0,322.5 309.0,321.9 310.0,321.3 311.0,320.6 312.0,320.0 313.0,319.4 314.0,318.8 315.0,318.3 316.0,317.7 317.0,317.2 318.0,316.6 319.0,316.1 320.0,315.6 321.0,315.0 322.0,314.3 323.0,313.6 324.0,312.7 325.0,311.8 326.0,310.6 327.0,309.3 328.0,308.0 329.0,306.7 330.0,305.7 331.0,304.8 332.0,304.1 333.0,303.4 334.0,302.8 335.0,302.3 336.0,301.8 337.0,301.4 338.0,301.1 339.0,300.7 340.0,300.3 341.0,299.9 342.0,299.5 343.0,299.2 344.0,298.7 345.0,298.3 346.0,297.8 347.0,297.4 348.0,296.9 349.0,296.4 350.0,295.9 351.0,295.5 352.0,295.1 353.0,294.7 354.0,294.3 355.0,294.0 356.0,293.7 357.0,293.4 358.0,293.1 359.0,292.9 360.0,292.6 361.0,292.3 362.0,292.0 363.0,291.8 364.0,291.5 365.0,291.2 366.0,290.9 367.0,290.6 368.0,290.2 369.0,289.8 370.0,289.4 371.0,289.0 372.0,288.6 373.0,288.1 374.0,287.7 375.0,287.2 376.0,286.8 377.0,286.3 378.0,285.8 379.0,285.3 380.0,284.7 381.0,284.0 382.0,283.2 383.0,282.3 384.0,281.3 385.0,280.4 386.0,279.7 387.0,279.0 388.0,278.5 389.0,278.0 390.0,277.4 391.0,276.9 392.0,276.3 393.0,275.8 394.0,275.2 395.0,274.6 396.0,274.0 397.0,273.3 398.0,272.7 399.0,272.1 400.0,271.4 401.0,270.7 402.0,270.0 403.0,269.2 404.0,268.5 405.0,267.7 406.0,267.0 407.0,266.2 408.0,265.6 409.0,265.0 410.0,264.4 411.0,263.9 412.0,263.4 413.0,262.9 414.0,262.5 415.0,262.1 416.0,261.9 417.0,261.8 418.0,261.6 419.0,261.4 420.0,261.1 421.0,260.7 422.0,260.0 423.0,259.4 424.0,258.8 425.0,258.4 426.0,258.0 427.0,257.8 428.0,257.5 429.0,257.4 430.0,257.3 431.0,257.3 432.0,257.4 433.0,257.5 434.0,257.6 435.0,257.7 436.0,257.9 437.0,258.0 438.0,258.3 439.0,258.5 440.0,258.8 441.0,259.1 442.0,259.4 443.0,259.7 444.0,259.9 445.0,260.0 446.0,260.0 447.0,259.9 448.0,259.8 449.0,259.6 450.0,259.5 451.0,259.4 452.0,259.3 453.0,259.2 454.0,259.1 455.0,259.1 456.0,259.0 457.0,258.9 458.0,258.9 459.0,258.8 460.0,258.8 461.0,258.7 462.0,258.6 463.0,258.6 464.0,258.5 465.0,258.4 466.0,258.3 467.0,258.2 468.0,258.1 469.0,257.8 470.0,257.4 471.0,256.8 472.0,256.2 473.0,255.6 474.0,255.0 475.0,254.5 476.0,253.9 477.0,253.3 478.0,252.8 479.0,252.2 480.0,251.7 481.0,251.2 482.0,250.8 483.0,250.5 484.0,250.2 485.0,250.0 486.0,249.7 487.0,249.5 488.0,249.4 489.0,249.3 490.0,249.2 491.0,249.2 492.0,249.1 493.0,249.0 494.0,249.0 495.0,248.9 496.0,249.0 497.0,249.2 498.0,249.5 499.0,249.8 500.0,250.1 501.0,250.4 502.0,250.6 503.0,250.7 504.0,250.5 505.0,250.2 506.0,249.9 507.0,249.6 508.0,249.3 509.0,248.9 510.0,248.6 511.0,248.3 512.0,247.9 513.0,247.6 514.0,247.3 515.0,246.9 516.0,246.6 517.0,246.4 518.0,246.3 519.0,246.3 520.0,246.5 521.0,246.7 522.0,246.9 523.0,247.1 524.0,247.2 525.0,247.2 526.0,247.1 527.0,246.9 528.0,246.7 529.0,246.5 530.0,246.3 531.0,246.1 532.0,245.9 533.0,245.7 534.0,245.5 535.0,245.3 536.0,245.2 537.0,245.0 538.0,244.9 539.0,244.7 540.0,244.5 541.0,244.3 542.0,244.1 543.0,243.8 544.0,243.5 545.0,243.2 546.0,242.9 547.0,242.5 548.0,242.1 549.0,241.6 550.0,241.2 551.0,240.8 552.0,240.5 553.0,240.2 554.0,240.0 555.0,239.9 556.0,239.9 557.0,239.9 558.0,240.0 559.0,240.1 560.0,240.1 561.0,240.1 562.0,239.9 563.0,239.5 564.0,239.2 565.0,238.8 566.0,238.4 567.0,238.1 568.0,237.7 569.0,237.3 570.0,236.9 571.0,236.6 572.0,236.2 573.0,235.8 574.0,235.4 575.0,235.1 576.0,234.7 577.0,234.4 578.0,234.0 579.0,233.6 580.0,233.3 581.0,233.0 582.0,232.7 583.0,232.4 584.0,232.2 585.0,232.0 586.0,231.7 587.0,231.5 588.0,231.3 589.0,231.1 590.0,230.8 591.0,230.6 592.0,230.4 593.0,230.2 594.0,230.0 595.0,229.8 596.0,229.5 597.0,229.3 598.0,229.0 599.0,228.8 600.0,228.5 601.0,228.3 602.0,228.0 603.0,227.8 604.0,227.5 605.0,227.3 606.0,227.0 607.0,226.8 608.0,226.5 609.0,226.3 610.0,226.1 611.0,226.1 612.0,226.3 613.0,226.5 614.0,226.6 615.0,226.8 616.0,226.8 617.0,226.8 618.0,226.8 619.0,226.8 620.0,226.8 621.0,226.7 622.0,226.6 623.0,226.5 624.0,226.2 625.0,225.9 626.0,225.6 627.0,225.4 628.0,225.1 629.0,224.8 630.0,224.5 631.0,224.3 632.0,224.0 633.0,223.8 634.0,223.5 635.0,223.1 636.0,222.5 637.0,221.8 638.0,220.9 639.0,220.2 640.0,219.6 641.0,219.1 642.0,218.6 643.0,218.2 644.0,217.8 645.0,217.4 646.0,217.0 647.0,216.6 648.0,216.2 649.0,215.8 650.0,215.4 651.0,215.0 652.0,214.6 653.0,214.2 654.0,213.8 655.0,213.4 656.0,213.0 657.0,212.6 658.0,212.1 659.0,211.7 660.0,211.3 661.0,210.8 662.0,210.4 663.0,210.0 664.0,209.6 665.0,209.3 666.0,209.0 667.0,208.7 668.0,208.4 669.0,208.1 670.0,207.9 671.0,207.8 672.0,207.9 673.0,208.1 674.0,208.3 675.0,208.6 676.0,208.8 677.0,209.1 678.0,209.4 679.0,209.6 680.0,209.9 681.0,210.1 682.0,210.3 683.0,210.6 684.0,211.1 685.0,211.7 686.0,212.3 687.0,212.9 688.0,213.5 689.0,214.1 690.0,214.7 691.0,215.3 692.0,216.1 693.0,217.0 694.0,218.0 695.0,219.1 696.0,220.2 697.0,221.2 698.0,222.1 699.0,222.5 700.0,222.5 701.0,222.1 702.0,221.6 703.0,221.1 704.0,220.6 705.0,220.2 706.0,219.8 707.0,219.4 708.0,219.0 709.0,218.9 710.0,218.9 711.0,219.2 712.0,219.5 713.0,219.7 714.0,219.7 715.0,219.4 716.0,219.1 717.0,218.7 718.0,218.4 719.0,218.0 720.0,217.6 721.0,217.2 722.0,216.7 723.0,216.3 724.0,215.9 725.0,215.5 726.0,215.2 727.0,214.9 728.0,214.5 729.0,214.2 730.0,213.9 731.0,213.6 732.0,213.3 733.0,213.0 734.0,212.7 735.0,212.5 736.0,212.3 737.0,212.2 738.0,212.1 739.0,212.0 740.0,211.9 741.0,211.8 742.0,211.7 743.0,211.7 744.0,211.7 745.0,211.9 746.0,212.1 747.0,212.3 748.0,212.5 749.0,212.7 750.0,212.9 751.0,213.0 752.0,213.1 753.0,213.2 754.0,213.2 755.0,213.1 756.0,213.0 757.0,213.0 758.0,212.9 759.0,212.8 760.0,212.7 761.0,212.7 762.0,212.7 763.0,212.9 764.0,213.1 765.0,213.3 766.0,213.6 767.0,214.0 768.0,214.6 769.0,215.3 770.0,216.0 771.0,216.8 772.0,217.7 773.0,218.6 774.0,219.3 775.0,219.9 776.0,220.2 777.0,220.4 778.0,220.5 779.0,220.6 780.0,220.7 781.0,220.7 782.0,220.7 783.0,220.6 784.0,220.4 785.0,220.3 786.0,220.2 787.0,220.1 788.0,220.0 789.0,220.0 790.0,220.1 791.0,220.0 792.0,219.9 793.0,219.6 794.0,219.1 795.0,218.6 796.0,218.0 797.0,217.4 798.0,216.9 799.0,216.5 800.0,216.1 801.0,215.7 802.0,215.3 803.0,215.0 804.0,214.6 805.0,214.2 806.0,213.8 807.0,213.5 808.0,213.1 809.0,212.8 810.0,212.4 811.0,212.1 812.0,211.7 813.0,211.4 814.0,211.0 815.0,210.6 816.0,210.2 817.0,209.8 818.0,209.5 819.0,209.1 820.0,208.7 821.0,208.3 822.0,208.0 823.0,207.7 824.0,207.4 825.0,207.2 826.0,207.0 827.0,206.7 828.0,206.4 829.0,206.1 830.0,205.8 831.0,205.5 832.0,205.1 833.0,204.8 834.0,204.4 835.0,204.1 836.0,203.7 837.0,203.3 838.0,202.9 839.0,202.5 840.0,202.1 841.0,201.7 842.0,201.3 843.0,200.8 844.0,200.4 845.0,199.9 846.0,199.5 847.0,199.0 848.0,198.6 849.0,198.2 850.0,198.1 851.0,198.1 852.0,198.3 853.0,198.4 854.0,198.4 855.0,198.3 856.0,198.0 857.0,197.7 858.0,197.3 859.0,197.0 860.0,196.6 861.0,196.2 862.0,195.8 863.0,195.3 864.0,194.8 865.0,194.2 866.0,193.7 867.0,193.1 868.0,192.6 869.0,192.0 870.0,191.6 871.0,191.1 872.0,190.6 873.0,190.2 874.0,189.7 875.0,189.2 876.0,188.7 877.0,188.2 878.0,187.8 879.0,187.3 880.0,186.9 881.0,186.4 882.0,186.0 883.0,185.7 884.0,185.3 885.0,185.1 886.0,184.8 887.0,184.7 888.0,184.7"/>
<polyline class="b" points="72.0,254.9 73.0,254.8 74.0,254.7 75.0,254.5 76.0,254.4 77.0,254.3 78.0,254.2 79.0,254.0 80.0,253.8 81.0,253.6 82.0,253.4 83.0,253.1 84.0,252.9 85.0,252.7 86.0,252.4 87.0,252.2 88.0,251.9 89.0,251.6 90.0,251.3 91.0,250.9 92.0,250.4 93.0,250.0 94.0,249.6 95.0,249.1 96.0,248.6 97.0,248.0 98.0,247.5 99.0,247.0 100.0,246.4 101.0,245.9 102.0,245.3 103.0,244.8 104.0,244.2 105.0,243.7 106.0,243.2 107.0,242.6 108.0,242.1 109.0,241.5 110.0,240.9 111.0,240.2 112.0,239.6 113.0,238.9 114.0,238.3 115.0,237.8 116.0,237.2 117.0,236.7 118.0,236.3 119.0,235.9 120.0,235.5 121.0,235.2 122.0,234.9 123.0,234.6 124.0,234.3 125.0,234.1 126.0,233.8 127.0,233.6 128.0,233.4 129.0,233.2 130.0,233.0 131.0,232.8 132.0,232.7 133.0,232.6 134.0,232.6 135.0,232.7 136.0,232.8 137.0,233.0 138.0,233.1 139.0,233.3 140.0,233.5 141.0,233.7 142.0,233.9 143.0,234.2 144.0,234.5 145.0,234.8 146.0,235.1 147.0,235.4 148.0,235.6 149.0,235.8 150.0,236.1 151.0,236.5 152.0,237.1 153.0,237.7 154.0,238.3 155.0,238.8 156.0,239.3 157.0,239.6 158.0,239.9 159.0,240.2 160.0,240.4 161.0,240.5 162.0,240.6 163.0,240.7 164.0,240.7 165.0,240.9 166.0,241.1 167.0,241.5 168.0,242.0 169.0,242.5 170.0,242.9 171.0,243.4 172.0,243.8 173.0,244.2 174.0,244.3 175.0,244.3 176.0,244.1 177.0,243.8 178.0,243.5 179.0,243.2 180.0,242.9 181.0,242.6 182.0,242.2 183.0,241.9 184.0,241.6 185.0,241.4 186.0,241.2 187.0,241.1 188.0,241.2 189.0,241.3 190.0,241.6 191.0,242.1 192.0,242.6 193.0,243.1 194.0,243.7 195.0,244.1 196.0,244.6 197.0,245.0 198.0,245.3 199.0,245.4 200.0,245.3 201.0,245.2 202.0,245.1 203.0,245.2 204.0,245.6 205.0,246.2 206.0,247.1 207.0,248.5 208.0,250.3 209.0,252.6 210.0,255.2 211.0,258.1 212.0,261.1 213.0,264.3 214.0,267.5 215.0,270.6 216.0,273.5 217.0,276.1 218.0,278.6 219.0,281.1 220.0,283.4 221.0,285.8 222.0,288.2 223.0,290.7 224.0,293.4 225.0,296.1 226.0,298.7 227.0,301.1 228.0,303.6 229.0,306.3 230.0,309.7 231.0,313.6 232.0,318.1 233.0,322.7 234.0,326.6 235.0,329.1 236.0,330.2 237.0,330.7 238.0,331.0 239.0,331.4 240.0,331.9 241.0,332.4 242.0,333.1 243.0,334.0 244.0,335.0 245.0,336.0 246.0,336.8 247.0,337.6 248.0,338.2 249.0,338.7 250.0,338.9 251.0,339.0 252.0,339.0 253.0,339.0 254.0,338.9 255.0,338.5 256.0,337.7 257.0,336.4 258.0,334.8 259.0,333.2 260.0,332.0 261.0,331.2 262.0,330.6 263.0,329.9 264.0,329.2 265.0,328.4 266.0,327.5 267.0,326.7 268.0,325.9 269.0,325.2 270.0,324.6 271.0,324.1 272.0,323.6 273.0,323.1 274.0,322.5 275.0,321.9 276.0,321.4 277.0,320.8 278.0,320.1 279.0,319.5 280.0,318.8 281.0,318.1 282.0,317.4 283.0,316.7 284.0,315.9 285.0,315.1 286.0,314.3 287.0,313.3 288.0,312.4 289.0,311.4 290.0,310.5 291.0,309.6 292.0,308.7 293.0,307.9 294.0,307.1 295.0,306.3 296.0,305.5 297.0,304.7 298.0,303.9 299.0,303.2 300.0,302.4 301.0,301.6 302.0,300.9 303.0,300.1 304.0,299.4 305.0,298.6 306.0,297.9 307.0,297.2 308.0,296.5 309.0,295.8 310.0,295.1 311.0,294.4 312.0,293.7 313.0,293.0 314.0,292.3 315.0,291.7 316.0,291.0 317.0,290.4 318.0,289.8 319.0,289.2 320.0,288.6 321.0,287.9 322.0,287.2 323.0,286.3 324.0,285.3 325.0,284.2 326.0,282.9 327.0,281.5 328.0,279.9 329.0,278.5 330.0,277.3 331.0,276.3 332.0,275.5 333.0,274.7 334.0,274.0 335.0,273.4 336.0,272.9 337.0,272.4 338.0,272.0 339.0,271.6 340.0,271.1 341.0,270.7 342.0,270.3 343.0,269.8 344.0,269.3 345.0,268.8 346.0,268.3 347.0,267.8 348.0,267.2 349.0,266.7 350.0,266.1 351.0,265.6 352.0,265.1 353.0,264.7 354.0,264.3 355.0,263.9 356.0,263.6 357.0,263.3 358.0,262.9 359.0,262.6 360.0,262.3 361.0,262.0 362.0,261.7 363.0,261.4 364.0,261.0 365.0,260.7 366.0,260.4 367.0,260.0 368.0,259.5 369.0,259.1 370.0,258.6 371.0,258.2 372.0,257.7 373.0,257.2 374.0,256.7 375.0,256.2 376.0,255.7 377.0,255.1 378.0,254.5 379.0,253.9 380.0,253.3 381.0,252.5 382.0,251.6 383.0,250.5 384.0,249.4 385.0,248.4 386.0,247.5 387.0,246.8 388.0,246.2 389.0,245.6 390.0,245.0 391.0,244.4 392.0,243.7 393.0,243.1 394.0,242.4 395.0,241.7 396.0,241.0 397.0,240.3 398.0,239.6 399.0,238.9 400.0,238.1 401.0,237.3 402.0,236.5 403.0,235.6 404.0,234.7 405.0,233.9 406.0,233.0 407.0,232.2 408.0,231.5 409.0,230.8 410.0,230.1 411.0,229.5 412.0,228.9 413.0,228.4 414.0,227.9 415.0,227.5 416.0,227.3 417.0,227.1 418.0,226.9 419.0,226.7 420.0,226.3 421.0,225.8 422.0,225.1 423.0,224.4 424.0,223.7 425.0,223.2 426.0,222.8 427.0,222.5 428.0,222.3 429.0,222.0 430.0,221.9 431.0,222.0 432.0,222.1 433.0,222.2 434.0,222.3 435.0,222.5 436.0,222.6 437.0,222.8 438.0,223.1 439.0,223.4 440.0,223.7 441.0,224.1 442.0,224.4 443.0,224.8 444.0,225.0 445.0,225.1 446.0,225.1 447.0,225.0 448.0,224.8 449.0,224.7 450.0,224.5 451.0,224.4 452.0,224.2 453.0,224.1 454.0,224.1 455.0,224.0 456.0,223.9 457.0,223.9 458.0,223.8 459.0,223.7 460.0,223.7 461.0,223.6 462.0,223.5 463.0,223.4 464.0,223.3 465.0,223.2 466.0,223.1 467.0,223.0 468.0,222.9 469.0,222.6 470.0,222.1 471.0,221.4 472.0,220.7 473.0,220.0 474.0,219.4 475.0,218.7 476.0,218.1 477.0,217.5 478.0,216.8 479.0,216.2 480.0,215.6 481.0,215.0 482.0,214.6 483.0,214.2 484.0,213.9 485.0,213.6 486.0,213.3 487.0,213.1 488.0,212.9 489.0,212.9 490.0,212.8 491.0,212.7 492.0,212.6 493.0,212.5 494.0,212.5 495.0,212.4 496.0,212.5 497.0,212.7 498.0,213.0 499.0,213.4 500.0,213.8 501.0,214.1 502.0,214.3 503.0,214.4 504.0,214.2 505.0,213.9 506.0,213.5 507.0,213.2 508.0,212.8 509.0,212.4 510.0,212.0 511.0,211.6 512.0,211.3 513.0,210.9 514.0,210.5 515.0,210.1 516.0,209.8 517.0,209.5 518.0,209.4 519.0,209.4 520.0,209.6 521.0,209.9 522.0,210.1 523.0,210.3 524.0,210.4 525.0,210.4 526.0,210.3 527.0,210.1 528.0,209.8 529.0,209.6 530.0,209.4 531.0,209.1 532.0,208.9 533.0,208.7 534.0,208.5 535.0,208.3 536.0,208.1 537.0,208.0 538.0,207.8 539.0,207.6 540.0,207.4 541.0,207.1 542.0,206.9 543.0,206.5 544.0,206.2 545.0,205.9 546.0,205.5 547.0,205.1 548.0,204.6 549.0,204.1 550.0,203.6 551.0,203.1 552.0,202.7 553.0,202.4 554.0,202.2 555.0,202.1 556.0,202.0 557.0,202.1 558.0,202.2 559.0,202.3 560.0,202.4 561.0,202.3 562.0,202.0 563.0,201.7 564.0,201.3 565.0,200.8 566.0,200.4 567.0,200.0 568.0,199.6 569.0,199.1 570.0,198.7 571.0,198.3 572.0,197.9 573.0,197.4 574.0,197.0 575.0,196.6 576.0,196.2 577.0,195.8 578.0,195.4 579.0,194.9 580.0,194.6 581.0,194.2 582.0,193.9 583.0,193.6 584.0,193.3 585.0,193.0 586.0,192.8 587.0,192.5 588.0,192.3 589.0,192.0 590.0,191.7 591.0,191.5 592.0,191.3 593.0,191.0 594.0,190.8 595.0,190.5 596.0,190.3 597.0,190.0 598.0,189.7 599.0,189.4 600.0,189.1 601.0,188.8 602.0,188.5 603.0,188.2 604.0,188.0 605.0,187.7 606.0,187.4 607.0,187.1 608.0,186.8 609.0,186.5 610.0,186.4 611.0,186.4 612.0,186.5 613.0,186.7 614.0,186.9 615.0,187.1 616.0,187.1 617.0,187.2 618.0,187.1 619.0,187.1 620.0,187.1 621.0,187.0 622.0,186.9 623.0,186.7 624.0,186.5 625.0,186.1 626.0,185.8 627.0,185.5 628.0,185.1 629.0,184.8 630.0,184.5 631.0,184.2 632.0,184.0 633.0,183.7 634.0,183.4 635.0,182.9 636.0,182.2 637.0,181.4 638.0,180.4 639.0,179.6 640.0,178.9 641.0,178.3 642.0,177.8 643.0,177.3 644.0,176.8 645.0,176.4 646.0,175.9 647.0,175.5 648.0,175.0 649.0,174.6 650.0,174.1 651.0,173.6 652.0,173.2 653.0,172.7 654.0,172.3 655.0,171.8 656.0,171.3 657.0,170.8 658.0,170.3 659.0,169.8 660.0,169.4 661.0,168.9 662.0,168.4 663.0,167.9 664.0,167.5 665.0,167.1 666.0,166.8 667.0,166.4 668.0,166.1 669.0,165.7 670.0,165.5 671.0,165.4 672.0,165.5 673.0,165.7 674.0,166.0 675.0,166.3 676.0,166.6 677.0,166.9 678.0,167.2 679.0,167.5 680.0,167.8 681.0,168.0 682.0,168.3 683.0,168.6 684.0,169.2 685.0,169.8 686.0,170.5 687.0,171.2 688.0,171.9 689.0,172.6 690.0,173.3 691.0,174.0 692.0,174.8 693.0,175.9 694.0,177.0 695.0,178.3 696.0,179.5 697.0,180.7 698.0,181.7 699.0,182.2 700.0,182.2 701.0,181.7 702.0,181.2 703.0,180.6 704.0,180.1 705.0,179.5 706.0,179.1 707.0,178.6 708.0,178.3 709.0,178.1 710.0,178.1 711.0,178.4 712.0,178.8 713.0,179.0 714.0,179.0 715.0,178.7 716.0,178.3 717.0,177.9 718.0,177.5 719.0,177.0 720.0,176.6 721.0,176.1 722.0,175.6 723.0,175.2 724.0,174.7 725.0,174.3 726.0,173.8 727.0,173.5 728.0,173.1 729.0,172.8 730.0,172.4 731.0,172.1 732.0,171.7 733.0,171.4 734.0,171.1 735.0,170.8 736.0,170.6 737.0,170.4 738.0,170.3 739.0,170.2 740.0,170.1 741.0,170.0 742.0,169.9 743.0,169.8 744.0,169.9 745.0,170.0 746.0,170.3 747.0,170.5 748.0,170.8 749.0,171.0 750.0,171.2 751.0,171.3 752.0,171.5 753.0,171.5 754.0,171.5 755.0,171.5 756.0,171.4 757.0,171.3 758.0,171.2 759.0,171.1 760.0,171.0 761.0,171.0 762.0,171.0 763.0,171.2 764.0,171.4 765.0,171.7 766.0,172.1 767.0,172.5 768.0,173.2 769.0,174.0 770.0,174.8 771.0,175.7 772.0,176.7 773.0,177.7 774.0,178.6 775.0,179.2 776.0,179.6 777.0,179.8 778.0,179.9 779.0,180.0 780.0,180.1 781.0,180.2 782.0,180.1 783.0,180.0 784.0,179.9 785.0,179.7 786.0,179.5 787.0,179.4 788.0,179.4 789.0,179.4 790.0,179.4 791.0,179.4 792.0,179.2 793.0,178.9 794.0,178.3 795.0,177.7 796.0,177.0 797.0,176.4 798.0,175.9 799.0,175.4 800.0,174.9 801.0,174.5 802.0,174.0 803.0,173.6 804.0,173.1 805.0,172.7 806.0,172.3 807.0,171.9 808.0,171.5 809.0,171.1 810.0,170.7 811.0,170.3 812.0,169.9 813.0,169.5 814.0,169.0 815.0,168.6 816.0,168.2 817.0,167.7 818.0,167.3 819.0,166.9 820.0,166.4 821.0,166.0 822.0,165.6 823.0,165.3 824.0,165.0 825.0,164.7 826.0,164.4 827.0,164.2 828.0,163.8 829.0,163.5 830.0,163.1 831.0,162.7 832.0,162.4 833.0,162.0 834.0,161.6 835.0,161.1 836.0,160.7 837.0,160.3 838.0,159.8 839.0,159.3 840.0,158.9 841.0,158.4 842.0,158.0 843.0,157.5 844.0,156.9 845.0,156.4 846.0,155.9 847.0,155.4 848.0,154.9 849.0,154.5 850.0,154.3 851.0,154.4 852.0,154.5 853.0,154.7 854.0,154.7 855.0,154.5 856.0,154.2 857.0,153.8 858.0,153.4 859.0,153.0 860.0,152.6 861.0,152.2 862.0,151.7 863.0,151.1 864.0,150.5 865.0,149.9 866.0,149.2 867.0,148.6 868.0,148.0 869.0,147.4 870.0,146.8 871.0,146.3 872.0,145.8 873.0,145.2 874.0,144.7 875.0,144.1 876.0,143.6 877.0,143.1 878.0,142.5 879.0,142.0 880.0,141.5 881.0,141.0 882.0,140.5 883.0,140.1 884.0,139.7 885.0,139.4 886.0,139.2 887.0,139.0 888.0,139.0"/>
<polyline class="b" points="72.0,223.7 73.0,223.6 74.0,223.4 75.0,223.3 76.0,223.1 77.0,223.0 78.0,222.9 79.0,222.7 80.0,222.5 81.0,222.2 82.0,222.0 83.0,221.7 84.0,221.4 85.0,221.2 86.0,220.9 87.0,220.7 88.0,220.4 89.0,220.0 90.0,219.6 91.0,219.1 92.0,218.7 93.0,218.2 94.0,217.7 95.0,217.2 96.0,216.6 97.0,216.0 98.0,215.4 99.0,214.8 100.0,214.1 101.0,213.5 102.0,212.9 103.0,212.3 104.0,211.7 105.0,211.1 106.0,210.5 107.0,209.9 108.0,209.2 109.0,208.6 110.0,207.9 111.0,207.2 112.0,206.4 113.0,205.7 114.0,205.0 115.0,204.4 116.0,203.8 117.0,203.3 118.0,202.7 119.0,202.3 120.0,201.9 121.0,201.5 122.0,201.2 123.0,200.9 124.0,200.6 125.0,200.3 126.0,200.0 127.0,199.8 128.0,199.5 129.0,199.3 130.0,199.1 131.0,198.9 132.0,198.7 133.0,198.6 134.0,198.6 135.0,198.7 136.0,198.9 137.0,199.0 138.0,199.2 139.0,199.4 140.0,199.6 141.0,199.8 142.0,200.1 143.0,200.4 144.0,200.8 145.0,201.1 146.0,201.4 147.0,201.7 148.0,202.0 149.0,202.3 150.0,202.6 151.0,203.0 152.0,203.6 153.0,204.3 154.0,205.0 155.0,205.6 156.0,206.1 157.0,206.5 158.0,206.8 159.0,207.1 160.0,207.3 161.0,207.5 162.0,207.6 163.0,207.7 164.0,207.8 165.0,207.9 166.0,208.2 167.0,208.6 168.0,209.2 169.0,209.7 170.0,210.2 171.0,210.7 172.0,211.2 173.0,211.6 174.0,211.8 175.0,211.8 176.0,211.5 177.0,211.2 178.0,210.9 179.0,210.5 180.0,210.2 181.0,209.8 182.0,209.5 183.0,209.1 184.0,208.7 185.0,208.5 186.0,208.3 187.0,208.2 188.0,208.2 189.0,208.4 190.0,208.8 191.0,209.3 192.0,209.9 193.0,210.5 194.0,211.0 195.0,211.6 196.0,212.1 197.0,212.6 198.0,212.9 199.0,213.0 200.0,212.9 201.0,212.7 202.0,212.6 203.0,212.8 204.0,213.2 205.0,213.9 206.0,215.0 207.0,216.5 208.0,218.6 209.0,221.1 210.0,224.1 211.0,227.3 212.0,230.7 213.0,234.3 214.0,237.9 215.0,241.4 216.0,244.6 217.0,247.6 218.0,250.4 219.0,253.2 220.0,255.8 221.0,258.4 222.0,261.1 223.0,264.0 224.0,267.0 225.0,270.1 226.0,273.0 227.0,275.7 228.0,278.4 229.0,281.6 230.0,285.3 231.0,289.7 232.0,294.8 233.0,300.0 234.0,304.4 235.0,307.1 236.0,308.4 237.0,309.0 238.0,309.3 239.0,309.8 240.0,310.3 241.0,310.9 242.0,311.7 243.0,312.7 244.0,313.8 245.0,314.9 246.0,315.9 247.0,316.7 248.0,317.4 249.0,317.9 250.0,318.2 251.0,318.3 252.0,318.3 253.0,318.3 254.0,318.1 255.0,317.8 256.0,316.9 257.0,315.4 258.0,313.6 259.0,311.8 260.0,310.5 261.0,309.6 262.0,308.9 263.0,308.1 264.0,307.3 265.0,306.4 266.0,305.4 267.0,304.5 268.0,303.5 269.0,302.7 270.0,302.1 271.0,301.5 272.0,301.0 273.0,300.4 274.0,299.7 275.0,299.1 276.0,298.5 277.0,297.8 278.0,297.1 279.0,296.3 280.0,295.5 281.0,294.8 282.0,294.0 283.0,293.2 284.0,292.4 285.0,291.5 286.0,290.5 287.0,289.4 288.0,288.4 289.0,287.3 290.0,286.3 291.0,285.2 292.0,284.2 293.0,283.3 294.0,282.4 295.0,281.5 296.0,280.6 297.0,279.7 298.0,278.9 299.0,278.0 300.0,277.1 301.0,276.3 302.0,275.4 303.0,274.5 304.0,273.7 305.0,272.9 306.0,272.1 307.0,271.3 308.0,270.5 309.0,269.7 310.0,268.9 311.0,268.1 312.0,267.3 313.0,266.5 314.0,265.8 315.0,265.0 316.0,264.3 317.0,263.6 318.0,263.0 319.0,262.3 320.0,261.6 321.0,260.8 322.0,260.0 323.0,259.0 324.0,257.9 325.0,256.7 326.0,255.2 327.0,253.6 328.0,251.8 329.0,250.2 330.0,248.9 331.0,247.8 332.0,246.8 333.0,246.0 334.0,245.2 335.0,244.5 336.0,243.9 337.0,243.4 338.0,242.9 339.0,242.4 340.0,241.9 341.0,241.5 342.0,241.0 343.0,240.5 344.0,239.9 345.0,239.4 346.0,238.8 347.0,238.2 348.0,237.6 349.0,236.9 350.0,236.3 351.0,235.7 352.0,235.2 353.0,234.7 354.0,234.3 355.0,233.9 356.0,233.5 357.0,233.1 358.0,232.7 359.0,232.4 360.0,232.0 361.0,231.7 362.0,231.3 363.0,231.0 364.0,230.6 365.0,230.2 366.0,229.8 367.0,229.4 368.0,228.9 369.0,228.4 370.0,227.9 371.0,227.4 372.0,226.8 373.0,226.3 374.0,225.7 375.0,225.2 376.0,224.5 377.0,223.9 378.0,223.3 379.0,222.6 380.0,221.9 381.0,221.0 382.0,220.0 383.0,218.8 384.0,217.5 385.0,216.3 386.0,215.4 387.0,214.6 388.0,213.9 389.0,213.2 390.0,212.5 391.0,211.8 392.0,211.1 393.0,210.4 394.0,209.6 395.0,208.8 396.0,208.1 397.0,207.3 398.0,206.5 399.0,205.7 400.0,204.8 401.0,203.9 402.0,203.0 403.0,202.0 404.0,201.0 405.0,200.0 406.0,199.1 407.0,198.2 408.0,197.3 409.0,196.5 410.0,195.8 411.0,195.1 412.0,194.5 413.0,193.9 414.0,193.3 415.0,192.9 416.0,192.6 417.0,192.4 418.0,192.2 419.0,192.0 420.0,191.6 421.0,191.0 422.0,190.2 423.0,189.3 424.0,188.6 425.0,188.0 426.0,187.6 427.0,187.3 428.0,187.0 429.0,186.7 430.0,186.6 431.0,186.6 432.0,186.7 433.0,186.9 434.0,187.0 435.0,187.2 436.0,187.4 437.0,187.6 438.0,187.9 439.0,188.2 440.0,188.6 441.0,189.0 442.0,189.4 443.0,189.8 444.0,190.1 445.0,190.2 446.0,190.1 447.0,190.0 448.0,189.8 449.0,189.7 450.0,189.5 451.0,189.3 452.0,189.2 453.0,189.1 454.0,189.0 455.0,188.9 456.0,188.8 457.0,188.8 458.0,188.7 459.0,188.6 460.0,188.5 461.0,188.5 462.0,188.4 463.0,188.3 464.0,188.2 465.0,188.1 466.0,187.9 467.0,187.8 468.0,187.7 469.0,187.4 470.0,186.8 471.0,186.0 472.0,185.2 473.0,184.5 474.0,183.7 475.0,183.0 476.0,182.3 477.0,181.6 478.0,180.8 479.0,180.1 480.0,179.4 481.0,178.8 482.0,178.3 483.0,177.9 484.0,177.6 485.0,177.2 486.0,176.9 487.0,176.7 488.0,176.5 489.0,176.4 490.0,176.3 491.0,176.2 492.0,176.1 493.0,176.0 494.0,175.9 495.0,175.9 496.0,176.0 497.0,176.2 498.0,176.6 499.0,177.0 500.0,177.4 501.0,177.8 502.0,178.1 503.0,178.1 504.0,177.9 505.0,177.6 506.0,177.2 507.0,176.7 508.0,176.3 509.0,175.9 510.0,175.5 511.0,175.0 512.0,174.6 513.0,174.2 514.0,173.8 515.0,173.3 516.0,172.9 517.0,172.6 518.0,172.5 519.0,172.6 520.0,172.8 521.0,173.0 522.0,173.3 523.0,173.6 524.0,173.7 525.0,173.6 526.0,173.5 527.0,173.2 528.0,173.0 529.0,172.7 530.0,172.5 531.0,172.2 532.0,171.9 533.0,171.7 534.0,171.5 535.0,171.3 536.0,171.1 537.0,170.9 538.0,170.7 539.0,170.5 540.0,170.2 541.0,170.0 542.0,169.6 543.0,169.3 544.0,168.9 545.0,168.5 546.0,168.1 547.0,167.6 548.0,167.1 549.0,166.5 550.0,166.0 551.0,165.4 552.0,165.0 553.0,164.6 554.0,164.4 555.0,164.3 556.0,164.2 557.0,164.3 558.0,164.4 559.0,164.5 560.0,164.6 561.0,164.5 562.0,164.2 563.0,163.8 564.0,163.3 565.0,162.9 566.0,162.4 567.0,161.9 568.0,161.4 569.0,161.0 570.0,160.5 571.0,160.0 572.0,159.5 573.0,159.0 574.0,158.6 575.0,158.1 576.0,157.6 577.0,157.2 578.0,156.7 579.0,156.2 580.0,155.8 581.0,155.4 582.0,155.0 583.0,154.7 584.0,154.4 585.0,154.1 586.0,153.8 587.0,153.5 588.0,153.2 589.0,152.9 590.0,152.6 591.0,152.4 592.0,152.1 593.0,151.8 594.0,151.5 595.0,151.3 596.0,151.0 597.0,150.7 598.0,150.3 599.0,150.0 600.0,149.7 601.0,149.4 602.0,149.0 603.0,148.7 604.0,148.4 605.0,148.1 606.0,147.7 607.0,147.4 608.0,147.1 609.0,146.8 610.0,146.6 611.0,146.6 612.0,146.8 613.0,147.0 614.0,147.2 615.0,147.4 616.0,147.5 617.0,147.5 618.0,147.5 619.0,147.4 620.0,147.4 621.0,147.4 622.0,147.2 623.0,147.0 624.0,146.7 625.0,146.3 626.0,146.0 627.0,145.6 628.0,145.2 629.0,144.8 630.0,144.5 631.0,144.2 632.0,143.9 633.0,143.6 634.0,143.2 635.0,142.7 636.0,141.9 637.0,141.0 638.0,139.9 639.0,138.9 640.0,138.1 641.0,137.5 642.0,136.9 643.0,136.4 644.0,135.9 645.0,135.4 646.0,134.9 647.0,134.3 648.0,133.8 649.0,133.3 650.0,132.8 651.0,132.3 652.0,131.8 653.0,131.2 654.0,130.7 655.0,130.2 656.0,129.7 657.0,129.1 658.0,128.6 659.0,128.0 660.0,127.5 661.0,126.9 662.0,126.3 663.0,125.8 664.0,125.4 665.0,125.0 666.0,124.6 667.0,124.2 668.0,123.8 669.0,123.4 670.0,123.1 671.0,123.0 672.0,123.2 673.0,123.4 674.0,123.7 675.0,124.0 676.0,124.3 677.0,124.7 678.0,125.0 679.0,125.4 680.0,125.7 681.0,125.9 682.0,126.2 683.0,126.7 684.0,127.3 685.0,128.0 686.0,128.7 687.0,129.5 688.0,130.3 689.0,131.1 690.0,131.8 691.0,132.7 692.0,133.6 693.0,134.8 694.0,136.1 695.0,137.5 696.0,138.9 697.0,140.3 698.0,141.4 699.0,141.9 700.0,141.9 701.0,141.4 702.0,140.7 703.0,140.1 704.0,139.5 705.0,138.9 706.0,138.4 707.0,137.9 708.0,137.5 709.0,137.3 710.0,137.3 711.0,137.7 712.0,138.1 713.0,138.3 714.0,138.3 715.0,138.0 716.0,137.5 717.0,137.1 718.0,136.6 719.0,136.1 720.0,135.6 721.0,135.0 722.0,134.5 723.0,134.0 724.0,133.5 725.0,133.0 726.0,132.5 727.0,132.1 728.0,131.7 729.0,131.3 730.0,130.9 731.0,130.5 732.0,130.1 733.0,129.7 734.0,129.4 735.0,129.1 736.0,128.8 737.0,128.7 738.0,128.5 739.0,128.4 740.0,128.3 741.0,128.1 742.0,128.0 743.0,128.0 744.0,128.0 745.0,128.2 746.0,128.5 747.0,128.8 748.0,129.0 749.0,129.3 750.0,129.5 751.0,129.7 752.0,129.8 753.0,129.9 754.0,129.9 755.0,129.9 756.0,129.8 757.0,129.6 758.0,129.5 759.0,129.4 760.0,129.3 761.0,129.3 762.0,129.4 763.0,129.5 764.0,129.8 765.0,130.1 766.0,130.5 767.0,131.0 768.0,131.8 769.0,132.6 770.0,133.6 771.0,134.6 772.0,135.7 773.0,136.8 774.0,137.8 775.0,138.5 776.0,139.0 777.0,139.2 778.0,139.3 779.0,139.5 780.0,139.6 781.0,139.6 782.0,139.6 783.0,139.5 784.0,139.3 785.0,139.1 786.0,138.9 787.0,138.8 788.0,138.7 789.0,138.8 790.0,138.8 791.0,138.7 792.0,138.5 793.0,138.1 794.0,137.5 795.0,136.8 796.0,136.1 797.0,135.4 798.0,134.8 799.0,134.2 800.0,133.7 801.0,133.2 802.0,132.7 803.0,132.2 804.0,131.7 805.0,131.2 806.0,130.8 807.0,130.3 808.0,129.9 809.0,129.4 810.0,129.0 811.0,128.5 812.0,128.1 813.0,127.6 814.0,127.1 815.0,126.6 816.0,126.1 817.0,125.6 818.0,125.1 819.0,124.7 820.0,124.2 821.0,123.7 822.0,123.3 823.0,122.9 824.0,122.5 825.0,122.2 826.0,121.9 827.0,121.6 828.0,121.2 829.0,120.9 830.0,120.4 831.0,120.0 832.0,119.6 833.0,119.1 834.0,118.7 835.0,118.2 836.0,117.7 837.0,117.2 838.0,116.7 839.0,116.2 840.0,115.7 841.0,115.2 842.0,114.6 843.0,114.1 844.0,113.5 845.0,112.9 846.0,112.3 847.0,111.7 848.0,111.2 849.0,110.7 850.0,110.5 851.0,110.6 852.0,110.8 853.0,111.0 854.0,111.0 855.0,110.8 856.0,110.4 857.0,110.0 858.0,109.5 859.0,109.1 860.0,108.7 861.0,108.2 862.0,107.6 863.0,106.9 864.0,106.2 865.0,105.5 866.0,104.8 867.0,104.1 868.0,103.4 869.0,102.8 870.0,102.1 871.0,101.5 872.0,100.9 873.0,100.3 874.0,99.7 875.0,99.1 876.0,98.5 877.0,97.9 878.0,97.3 879.0,96.7 880.0,96.1 881.0,95.5 882.0,95.0 883.0,94.6 884.0,94.1 885.0,93.8 886.0,93.5 887.0,93.3 888.0,93.3"/>
<polyline class="r" points="71.9,272.9 72.2,273.3 72.5,272.8 72.9,271.2 73.2,272.3 73.6,272.1 73.9,271.0 74.2,271.4 74.6,271.2 74.9,270.9 75.3,270.4 75.6,270.5 75.9,269.4 76.3,269.3 76.6,268.9 77.0,269.5 77.3,269.0 77.6,268.5 78.0,267.8 78.3,267.8 78.7,267.9 79.0,267.5 79.3,268.5 79.7,268.4 80.0,265.2 80.4,265.0 80.7,265.9 81.0,265.8 81.4,267.2 81.7,268.6 82.1,271.5 82.4,270.6 82.7,271.8 83.1,274.9 83.4,275.7 83.8,276.7 84.1,276.6 84.4,275.7 84.8,277.1 85.1,277.8 85.5,277.1 85.8,277.6 86.1,277.2 86.5,275.7 86.8,275.3 87.2,274.7 87.5,273.9 87.8,272.6 88.2,272.4 88.5,272.0 88.9,271.0 89.2,269.4 89.5,269.8 89.9,268.5 90.2,268.9 90.6,267.0 90.9,267.7 91.2,266.7 91.6,265.0 91.9,264.9 92.3,264.7 92.6,264.5 92.9,263.0 93.3,262.0 93.6,262.4 94.0,261.6 94.3,261.7 94.6,262.0 95.0,260.0 95.3,260.8 95.7,261.7 96.0,260.5 96.3,259.6 96.7,260.4 97.0,260.1 97.4,260.4 97.7,259.3 98.0,257.9 98.4,258.4 98.7,258.1 99.1,258.9 99.4,258.5 99.7,256.7 100.1,256.4 100.4,257.9 100.8,258.0 101.1,256.8 101.4,256.9 101.8,257.1 102.1,257.1 102.5,257.2 102.8,256.6 103.1,256.0 103.5,255.5 103.8,256.4 104.2,253.7 104.5,254.7 104.8,255.5 105.2,254.8 105.5,256.3 105.9,256.1 106.2,257.6 106.5,257.5 106.9,258.3 107.2,259.1 107.6,258.1 107.9,256.4 108.2,255.1 108.6,257.1 108.9,255.8 109.3,254.6 109.6,254.7 109.9,254.1 110.3,254.8 110.6,253.9 111.0,253.4 111.3,252.0 111.6,252.9 112.0,250.8 112.3,252.5 112.7,254.3 113.0,249.4 113.3,246.6 113.7,250.4 114.0,256.9 114.4,253.9 114.7,253.8 115.0,258.4 115.4,258.4 115.7,260.3 116.1,262.4 116.4,265.9 116.7,265.8 117.1,267.7 117.4,268.2 117.8,267.9 118.1,269.4 118.4,269.5 118.8,271.9 119.1,271.4 119.5,269.0 119.8,270.3 120.1,265.9 120.5,265.0 120.8,265.3 121.2,263.4 121.5,262.8 121.8,263.5 122.2,263.1 122.5,260.0 122.9,262.3 123.2,260.0 123.5,258.2 123.9,257.6 124.2,259.0 124.6,263.4 124.9,260.0 125.2,261.8 125.6,258.5 125.9,260.9 126.3,262.4 126.6,260.2 126.9,258.1 127.3,258.4 127.6,258.7 128.0,258.1 128.3,259.7 128.6,256.2 129.0,253.0 129.3,252.3 129.7,251.8 130.0,251.7 130.3,251.0 130.7,250.9 131.0,247.0 131.4,250.4 131.7,249.3 132.0,248.2 132.4,251.6 132.7,254.2 133.1,253.7 133.4,253.3 133.7,251.4 134.1,257.7 134.4,257.0 134.8,253.2 135.1,253.1 135.4,255.0 135.8,252.9 136.1,256.1 136.5,256.5 136.8,260.4 137.1,261.7 137.5,256.1 137.8,260.0 138.2,258.8 138.5,264.0 138.8,264.9 139.2,267.3 139.5,266.5 139.9,272.6 140.2,275.7 140.5,273.1 140.9,272.5 141.2,269.1 141.6,267.8 141.9,263.9 142.2,266.9 142.6,261.4 142.9,259.6 143.3,259.2 143.6,257.2 143.9,257.7 144.3,257.4 144.6,258.2 145.0,256.7 145.3,257.8 145.6,258.7 146.0,258.9 146.3,259.9 146.7,259.8 147.0,261.9 147.3,260.8 147.7,261.1 148.0,260.5 148.4,261.8 148.7,261.8 149.0,266.0 149.4,265.1 149.7,266.5 150.1,270.7 150.4,273.9 150.7,275.1 151.1,274.0 151.4,280.2 151.8,283.5 152.1,282.9 152.4,288.8 152.8,287.8 153.1,285.1 153.5,285.7 153.8,284.4 154.1,283.8 154.5,279.0 154.8,283.6 155.2,279.1 155.5,275.2 155.8,279.3 156.2,278.8 156.5,280.4 156.9,279.8 157.2,280.5 157.5,281.7 157.9,280.3 158.2,283.1 158.6,281.2 158.9,279.7 159.2,281.0 159.6,282.0 159.9,280.8 160.3,278.9 160.6,281.3 160.9,276.9 161.3,278.7 161.6,282.8 162.0,282.4 162.3,286.4 162.6,288.7 163.0,292.5 163.3,291.4 163.7,292.9 164.0,294.2 164.3,287.9 164.7,295.2 165.0,289.0 165.4,285.8 165.7,287.1 166.0,285.8 166.4,281.6 166.7,285.0 167.1,286.2 167.4,283.7 167.7,283.1 168.1,284.2 168.4,281.5 168.8,282.9 169.1,282.5 169.4,280.2 169.8,277.6 170.1,278.8 170.5,277.4 170.8,280.5 171.1,279.3 171.5,280.1 171.8,278.8 172.2,278.6 172.5,276.2 172.8,278.3 173.2,281.1 173.5,277.4 173.9,275.6 174.2,275.6 174.5,274.5 174.9,273.4 175.2,274.5 175.6,273.5 175.9,276.5 176.2,274.1 176.6,273.6 176.9,274.5 177.3,271.7 177.6,274.2 177.9,270.9 178.3,269.9 178.6,270.9 179.0,272.0 179.3,270.0 179.6,272.5 180.0,270.2 180.3,276.3 180.7,275.4 181.0,274.5 181.3,274.1 181.7,275.6 182.0,276.9 182.4,276.0 182.7,276.5 183.0,278.6 183.4,279.2 183.7,283.2 184.1,285.6 184.4,284.9 184.7,286.3 185.1,284.0 185.4,288.0 185.8,288.7 186.1,290.7 186.4,294.5 186.8,289.0 187.1,293.3 187.5,292.9 187.8,297.0 188.1,295.5 188.5,297.6 188.8,300.5 189.2,303.0 189.5,303.8 189.8,302.9 190.2,301.7 190.5,303.2 190.9,301.2 191.2,296.6 191.5,299.2 191.9,298.4 192.2,298.3 192.6,295.1 192.9,296.4 193.2,292.9 193.6,294.7 193.9,293.0 194.3,294.5 194.6,295.4 194.9,292.0 195.3,292.1 195.6,292.1 196.0,294.1 196.3,293.5 196.6,289.9 197.0,292.3 197.3,293.8 197.7,296.9 198.0,290.8 198.3,291.4 198.7,295.3 199.0,291.5 199.4,290.8 199.7,294.1 200.0,296.3 200.4,294.4 200.7,296.7 201.1,297.2 201.4,301.7 201.7,299.7 202.1,303.1 202.4,297.3 202.8,298.8 203.1,300.1 203.4,308.0 203.8,308.4 204.1,301.2 204.5,309.0 204.8,312.9 205.1,309.4 205.5,308.3 205.8,309.4 206.2,301.0 206.5,311.6 206.8,319.1 207.2,317.5 207.5,330.1 207.9,324.0 208.2,330.4 208.5,337.3 208.9,358.4 209.2,349.4 209.6,356.1 209.9,358.4 210.2,354.5 210.6,356.6 210.9,343.2 211.3,331.4 211.6,344.1 211.9,335.9 212.3,337.8 212.6,332.7 213.0,343.5 213.3,348.8 213.6,343.9 214.0,353.8 214.3,354.9 214.7,356.2 215.0,359.7 215.3,361.3 215.7,367.6 216.0,369.9 216.4,369.4 216.7,377.2 217.0,374.4 217.4,379.3 217.7,381.3 218.1,381.5 218.4,369.8 218.7,374.7 219.1,369.0 219.4,364.8 219.8,360.6 220.1,364.2 220.4,362.0 220.8,355.4 221.1,352.5 221.5,353.9 221.8,354.2 222.1,362.4 222.5,366.2 222.8,365.2 223.2,362.8 223.5,358.8 223.8,359.9 224.2,363.8 224.5,368.9 224.9,365.1 225.2,358.2 225.5,356.8 225.9,353.6 226.2,350.7 226.6,351.7 226.9,353.0 227.2,362.1 227.6,358.7 227.9,364.2 228.3,368.6 228.6,364.5 228.9,370.4 229.3,369.9 229.6,367.0 230.0,368.0 230.3,366.7 230.6,365.0 231.0,364.1 231.3,364.6 231.7,365.3 232.0,360.3 232.3,361.5 232.7,357.2 233.0,363.4 233.4,367.3 233.7,367.9 234.0,369.4 234.4,371.8 234.7,369.5 235.1,371.1 235.4,374.8 235.7,378.3 236.1,378.4 236.4,384.2 236.8,381.1 237.1,383.7 237.4,386.7 237.8,385.2 238.1,384.5 238.5,384.9 238.8,389.7 239.1,394.7 239.5,393.9 239.8,390.4 240.2,385.9 240.5,384.7 240.8,375.8 241.2,378.3 241.5,377.7 241.9,373.1 242.2,379.4 242.5,371.7 242.9,369.2 243.2,367.2 243.6,371.2 243.9,367.4 244.2,369.7 244.6,369.9 244.9,368.8 245.3,364.5 245.6,364.6 245.9,369.5 246.3,363.9 246.6,363.0 247.0,364.0 247.3,366.3 247.6,365.5 248.0,366.1 248.3,362.0 248.7,365.0 249.0,364.8 249.3,359.8 249.7,364.9 250.0,367.0 250.4,361.6 250.7,361.0 251.0,363.1 251.4,357.3 251.7,354.1 252.1,354.1 252.4,355.1 252.7,354.9 253.1,356.8 253.4,356.1 253.8,352.5 254.1,354.9 254.4,358.0 254.8,357.5 255.1,356.8 255.5,354.7 255.8,355.7 256.1,352.3 256.5,354.3 256.8,353.2 257.2,355.0 257.5,354.2 257.8,351.1 258.2,352.2 258.5,354.2 258.9,350.8 259.2,350.6 259.5,350.1 259.9,348.6 260.2,352.0 260.6,353.5 260.9,353.0 261.2,351.8 261.6,351.5 261.9,352.2 262.3,351.3 262.6,353.9 262.9,355.2 263.3,355.8 263.6,354.2 264.0,354.9 264.3,355.2 264.6,358.4 265.0,357.4 265.3,354.4 265.7,356.9 266.0,360.0 266.3,359.5 266.7,359.8 267.0,358.0 267.4,353.3 267.7,351.1 268.0,349.9 268.4,350.1 268.7,349.6 269.1,348.9 269.4,346.1 269.7,346.0 270.1,343.3 270.4,342.0 270.8,343.6 271.1,341.3 271.4,338.7 271.8,338.9 272.1,340.6 272.5,337.7 272.8,338.8 273.1,339.3 273.5,337.7 273.8,336.9 274.2,337.8 274.5,337.7 274.8,339.9 275.2,339.2 275.5,336.0 275.9,335.9 276.2,337.7 276.5,339.5 276.9,337.8 277.2,337.0 277.6,338.4 277.9,335.8 278.2,334.2 278.6,331.8 278.9,331.8 279.3,334.8 279.6,330.5 279.9,330.7 280.3,328.6 280.6,330.6 281.0,332.4 281.3,331.9 281.6,333.2 282.0,333.9 282.3,334.1 282.7,336.0 283.0,335.7 283.3,333.6 283.7,332.0 284.0,330.9 284.4,331.6 284.7,330.4 285.0,332.7 285.4,332.0 285.7,329.4 286.1,327.8 286.4,329.2 286.7,325.1 287.1,325.0 287.4,326.1 287.8,324.4 288.1,325.6 288.4,326.9 288.8,329.2 289.1,330.1 289.5,331.4 289.8,332.8 290.1,333.4 290.5,335.2 290.8,332.4 291.2,330.0 291.5,328.1 291.8,326.9 292.2,326.9 292.5,327.9 292.9,326.4 293.2,324.4 293.5,323.3 293.9,323.5 294.2,323.6 294.6,323.3 294.9,322.1 295.2,322.7 295.6,324.5 295.9,321.3 296.3,322.4 296.6,320.6 296.9,322.4 297.3,321.9 297.6,320.3 298.0,322.1 298.3,324.5 298.6,323.3 299.0,324.1 299.3,322.9 299.7,320.2 300.0,322.2 300.3,321.8 300.7,320.5 301.0,322.5 301.4,322.5 301.7,321.5 302.0,322.4 302.4,320.5 302.7,321.4 303.1,319.7 303.4,320.6 303.7,318.8 304.1,320.9 304.4,319.9 304.8,320.7 305.1,318.2 305.4,317.5 305.8,318.6 306.1,314.9 306.5,315.5 306.8,318.3 307.1,318.6 307.5,319.4 307.8,318.3 308.2,319.5 308.5,320.1 308.8,320.9 309.2,322.1 309.5,325.0 309.9,327.2 310.2,327.3 310.5,325.5 310.9,325.2 311.2,325.7 311.6,326.8 311.9,325.8 312.2,324.7 312.6,322.7 312.9,325.8 313.3,323.0 313.6,324.6 313.9,324.5 314.3,322.7 314.6,320.7 315.0,320.4 315.3,318.4 315.6,318.9 316.0,318.3 316.3,318.2 316.7,318.4 317.0,319.0 317.3,316.6 317.7,317.1 318.0,315.0 318.4,314.0 318.7,313.7 319.0,312.9 319.4,314.5 319.7,314.7 320.1,314.8 320.4,313.2 320.7,312.7 321.1,311.3 321.4,310.0 321.8,311.1 322.1,310.9 322.4,309.1 322.8,310.1 323.1,307.5 323.5,308.2 323.8,307.6 324.1,307.3 324.5,306.3 324.8,308.0 325.2,307.8 325.5,308.1 325.8,307.0 326.2,305.3 326.5,305.9 326.9,305.2 327.2,307.3 327.5,309.2 327.9,308.7 328.2,307.3 328.6,307.6 328.9,310.2 329.2,309.4 329.6,313.0 329.9,315.4 330.3,316.0 330.6,317.3 330.9,319.7 331.3,319.6 331.6,320.6 332.0,324.6 332.3,325.8 332.6,329.6 333.0,327.1 333.3,325.4 333.7,329.5 334.0,330.9 334.3,328.7 334.7,327.0 335.0,329.0 335.4,327.0 335.7,328.9 336.0,327.0 336.4,329.3 336.7,327.5 337.1,329.1 337.4,331.6 337.7,328.8 338.1,328.9 338.4,325.9 338.8,323.9 339.1,321.5 339.4,324.3 339.8,323.7 340.1,327.8 340.5,325.6 340.8,327.6 341.1,329.8 341.5,333.7 341.8,336.5 342.2,334.7 342.5,333.9 342.8,331.1 343.2,334.0 343.5,331.7 343.9,329.2 344.2,328.4 344.5,324.8 344.9,324.6 345.2,328.1 345.6,328.3 345.9,327.8 346.2,325.7 346.6,327.4 346.9,329.6 347.3,325.2 347.6,325.2 347.9,324.1 348.3,324.5 348.6,323.6 349.0,322.6 349.3,320.7 349.6,321.0 350.0,320.3 350.3,321.9 350.7,323.2 351.0,325.3 351.3,324.9 351.7,325.9 352.0,328.6 352.4,328.2 352.7,328.6 353.0,330.7 353.4,331.1 353.7,331.6 354.1,332.4 354.4,331.6 354.7,332.4 355.1,332.4 355.4,330.8 355.8,327.2 356.1,327.2 356.4,325.1 356.8,324.3 357.1,323.5 357.5,321.5 357.8,323.1 358.1,321.9 358.5,321.9 358.8,321.5 359.2,321.6 359.5,321.2 359.8,318.2 360.2,318.4 360.5,316.0 360.9,316.5 361.2,317.4 361.5,317.5 361.9,317.5 362.2,315.5 362.6,315.2 362.9,314.5 363.2,315.1 363.6,315.2 363.9,312.9 364.3,314.5 364.6,312.8 364.9,311.0 365.3,311.1 365.6,310.9 366.0,310.3 366.3,308.6 366.6,309.8 367.0,308.4 367.3,309.1 367.7,308.8 368.0,305.7 368.3,304.7 368.7,304.0 369.0,304.7 369.4,304.4 369.7,305.4 370.0,305.0 370.4,306.7 370.7,308.6 371.1,306.9 371.4,308.0 371.7,309.3 372.1,309.8 372.4,309.0 372.8,310.0 373.1,309.2 373.4,307.9 373.8,305.2 374.1,306.9 374.5,304.8 374.8,302.6 375.1,301.8 375.5,301.2 375.8,303.5 376.2,301.9 376.5,301.0 376.8,298.1 377.2,300.0 377.5,298.3 377.9,297.5 378.2,298.8 378.5,297.3 378.9,298.4 379.2,298.8 379.6,295.5 379.9,296.0 380.2,294.4 380.6,295.3 380.9,296.4 381.3,294.0 381.6,296.5 381.9,294.7 382.3,293.0 382.6,293.4 383.0,294.3 383.3,291.9 383.6,292.5 384.0,290.9 384.3,293.0 384.7,292.3 385.0,291.2 385.3,292.2 385.7,289.7 386.0,289.7 386.4,292.0 386.7,290.2 387.0,291.1 387.4,289.9 387.7,288.2 388.1,288.0 388.4,288.1 388.7,287.3 389.1,286.4 389.4,285.9 389.8,284.7 390.1,285.9 390.4,286.4 390.8,286.8 391.1,284.6 391.5,287.2 391.8,287.4 392.1,286.2 392.5,287.8 392.8,289.4 393.2,289.9 393.5,290.6 393.8,291.8 394.2,292.7 394.5,292.6 394.9,291.0 395.2,292.6 395.5,294.9 395.9,295.4 396.2,297.4 396.6,297.4 396.9,296.1 397.2,297.2 397.6,293.9 397.9,294.6 398.3,292.8 398.6,291.4 398.9,292.0 399.3,290.4 399.6,291.1 400.0,288.5 400.3,288.9 400.6,287.9 401.0,288.0 401.3,287.6 401.7,286.4 402.0,287.8 402.3,285.9 402.7,285.4 403.0,287.1 403.4,287.4 403.7,287.0 404.0,286.1 404.4,287.6 404.7,283.9 405.1,283.0 405.4,282.1 405.7,283.7 406.1,283.2 406.4,283.6 406.8,283.9 407.1,282.8 407.4,282.0 407.8,281.7 408.1,285.5 408.5,285.4 408.8,285.1 409.1,284.2 409.5,284.3 409.8,284.3 410.2,284.5 410.5,282.7 410.8,284.7 411.2,285.2 411.5,286.9 411.9,287.9 412.2,289.5 412.5,289.6 412.9,291.2 413.2,288.5 413.6,289.9 413.9,294.0 414.2,292.7 414.6,293.9 414.9,295.8 415.3,294.7 415.6,296.4 415.9,294.8 416.3,294.1 416.6,294.7 417.0,293.8 417.3,294.4 417.6,293.6 418.0,293.3 418.3,291.1 418.7,293.5 419.0,290.3 419.3,288.4 419.7,287.5 420.0,285.5 420.4,283.5 420.7,284.0 421.0,285.4 421.4,285.7 421.7,286.2 422.1,284.8 422.4,284.3 422.7,287.5 423.1,286.1 423.4,287.6 423.8,289.7 424.1,292.8 424.4,288.8 424.8,290.3 425.1,292.3 425.5,297.7 425.8,297.3 426.1,306.6 426.5,306.8 426.8,317.4 427.2,321.8 427.5,322.3 427.8,315.9 428.2,320.8 428.5,315.7 428.9,312.4 429.2,311.8 429.5,311.6 429.9,314.2 430.2,316.4 430.6,306.4 430.9,307.8 431.2,312.3 431.6,310.5 431.9,310.3 432.3,302.6 432.6,308.4 432.9,302.7 433.3,307.5 433.6,313.4 434.0,317.4 434.3,314.7 434.6,315.7 435.0,311.7 435.3,311.6 435.7,317.4 436.0,316.0 436.3,315.9 436.7,312.6 437.0,317.2 437.4,320.7 437.7,318.2 438.0,319.0 438.4,326.1 438.7,324.8 439.1,323.2 439.4,317.9 439.7,316.3 440.1,315.4 440.4,318.4 440.8,312.0 441.1,315.7 441.4,307.2 441.8,304.8 442.1,307.0 442.5,303.4 442.8,299.6 443.1,299.6 443.5,300.5 443.8,293.1 444.2,294.5 444.5,294.4 444.8,294.0 445.2,297.7 445.5,295.2 445.9,295.4 446.2,297.0 446.5,299.8 446.9,298.2 447.2,303.1 447.6,298.7 447.9,305.1 448.2,302.2 448.6,304.5 448.9,308.0 449.3,314.8 449.6,315.0 449.9,312.8 450.3,316.4 450.6,311.9 451.0,308.0 451.3,308.8 451.6,307.1 452.0,307.4 452.3,302.9 452.7,302.6 453.0,302.4 453.3,302.5 453.7,302.5 454.0,301.7 454.4,304.8 454.7,304.9 455.0,305.9 455.4,305.4 455.7,306.2 456.1,303.8 456.4,303.9 456.7,304.0 457.1,302.5 457.4,302.2 457.8,300.7 458.1,300.7 458.4,298.4 458.8,295.4 459.1,296.0 459.5,294.9 459.8,293.5 460.1,294.4 460.5,293.9 460.8,293.6 461.2,292.3 461.5,292.2 461.8,291.8 462.2,293.0 462.5,290.3 462.9,289.9 463.2,289.8 463.5,287.2 463.9,286.2 464.2,289.6 464.6,286.0 464.9,287.1 465.2,285.5 465.6,284.8 465.9,282.9 466.3,283.1 466.6,284.7 466.9,282.6 467.3,284.2 467.6,284.4 468.0,286.3 468.3,284.1 468.6,285.4 469.0,285.3 469.3,284.0 469.7,282.1 470.0,285.0 470.3,282.0 470.7,281.6 471.0,282.5 471.4,282.6 471.7,279.9 472.0,279.6 472.4,278.7 472.7,279.6 473.1,280.4 473.4,276.2 473.7,277.4 474.1,273.5 474.4,274.7 474.8,273.5 475.1,276.2 475.4,274.6 475.8,273.1 476.1,273.1 476.5,273.1 476.8,274.0 477.1,274.0 477.5,274.9 477.8,276.3 478.2,275.9 478.5,274.0 478.8,273.9 479.2,275.6 479.5,278.8 479.9,278.9 480.2,279.3 480.5,279.5 480.9,277.5 481.2,276.8 481.6,277.9 481.9,277.0 482.2,276.2 482.6,276.4 482.9,275.0 483.3,274.9 483.6,275.6 483.9,277.3 484.3,277.6 484.6,276.7 485.0,277.9 485.3,280.2 485.6,283.0 486.0,281.4 486.3,283.3 486.7,284.1 487.0,286.2 487.3,287.2 487.7,289.4 488.0,289.5 488.4,289.0 488.7,289.4 489.0,291.0 489.4,292.1 489.7,294.7 490.1,295.5 490.4,293.6 490.7,293.2 491.1,290.5 491.4,288.6 491.8,289.5 492.1,288.8 492.4,286.6 492.8,288.6 493.1,286.4 493.5,285.4 493.8,286.8 494.1,286.6 494.5,286.0 494.8,285.8 495.2,285.7 495.5,284.8 495.8,284.0 496.2,281.5 496.5,280.8 496.9,282.2 497.2,280.7 497.5,281.1 497.9,281.5 498.2,280.8 498.6,281.6 498.9,284.1 499.2,283.8 499.6,285.3 499.9,285.8 500.3,285.5 500.6,285.0 500.9,283.3 501.3,282.0 501.6,282.6 502.0,282.2 502.3,280.9 502.6,281.0 503.0,279.0 503.3,279.5 503.7,278.4 504.0,277.8 504.3,277.4 504.7,276.9 505.0,279.0 505.4,275.5 505.7,275.9 506.0,276.9 506.4,276.4 506.7,275.0 507.1,276.4 507.4,273.8 507.7,272.7 508.1,274.1 508.4,272.3 508.8,271.1 509.1,273.3 509.4,273.8 509.8,273.8 510.1,272.0 510.5,271.4 510.8,269.4 511.1,271.0 511.5,269.8 511.8,268.8 512.2,265.1 512.5,266.2 512.8,267.0 513.2,267.4 513.5,267.2 513.9,266.5 514.2,266.2 514.5,267.2 514.9,267.5 515.2,267.6 515.6,267.2 515.9,269.3 516.2,267.2 516.6,267.7 516.9,267.1 517.3,268.4 517.6,269.0 517.9,268.8 518.3,268.1 518.6,265.6 519.0,268.2 519.3,267.5 519.6,267.4 520.0,268.1 520.3,268.5 520.7,269.9 521.0,270.8 521.3,270.9 521.7,269.7 522.0,272.0 522.4,273.9 522.7,275.2 523.0,275.6 523.4,276.9 523.7,278.5 524.1,278.3 524.4,280.6 524.7,278.8 525.1,279.6 525.4,280.8 525.8,280.6 526.1,279.5 526.4,280.3 526.8,279.5 527.1,277.1 527.5,276.8 527.8,275.2 528.1,274.0 528.5,274.3 528.8,273.9 529.2,274.4 529.5,272.4 529.8,274.0 530.2,273.0 530.5,273.8 530.9,271.7 531.2,272.0 531.5,272.6 531.9,273.7 532.2,272.1 532.6,274.4 532.9,274.1 533.2,273.1 533.6,274.5 533.9,274.0 534.3,274.1 534.6,273.7 534.9,271.6 535.3,268.7 535.6,267.0 536.0,266.6 536.3,266.0 536.6,264.3 537.0,263.6 537.3,264.3 537.7,265.5 538.0,260.9 538.3,262.3 538.7,261.5 539.0,261.8 539.4,261.7 539.7,260.4 540.0,258.7 540.4,257.4 540.7,256.3 541.1,258.5 541.4,257.5 541.7,256.5 542.1,256.1 542.4,254.5 542.8,255.7 543.1,256.9 543.4,257.0 543.8,254.2 544.1,256.2 544.5,254.5 544.8,252.8 545.1,252.8 545.5,252.9 545.8,253.8 546.2,253.0 546.5,253.4 546.8,255.4 547.2,258.9 547.5,258.1 547.9,259.7 548.2,259.1 548.5,259.8 548.9,255.1 549.2,255.6 549.6,252.4 549.9,251.2 550.2,250.4 550.6,251.7 550.9,248.7 551.3,246.7 551.6,249.3 551.9,247.9 552.3,248.1 552.6,248.4 553.0,248.6 553.3,248.4 553.6,248.7 554.0,248.8 554.3,249.1 554.7,247.7 555.0,246.8 555.3,246.0 555.7,247.4 556.0,246.9 556.4,247.3 556.7,248.1 557.0,250.0 557.4,249.6 557.7,250.4 558.1,249.2 558.4,248.4 558.7,247.9 559.1,246.0 559.4,246.7 559.8,244.0 560.1,243.8 560.4,240.6 560.8,239.9 561.1,239.9 561.5,239.4 561.8,237.0 562.1,237.8 562.5,238.3 562.8,237.5 563.2,235.3 563.5,234.1 563.8,232.5 564.2,233.4 564.5,234.0 564.9,232.0 565.2,230.6 565.5,232.6 565.9,234.1 566.2,231.4 566.6,233.6 566.9,236.9 567.2,236.7 567.6,236.7 567.9,236.7 568.3,237.7 568.6,236.1 568.9,235.9 569.3,237.5 569.6,237.6 570.0,239.5 570.3,238.6 570.6,241.9 571.0,243.8 571.3,244.3 571.7,245.4 572.0,248.0 572.3,245.2 572.7,243.1 573.0,241.2 573.4,240.3 573.7,238.3 574.0,237.8 574.4,236.4 574.7,234.4 575.1,232.9 575.4,234.8 575.7,233.2 576.1,231.9 576.4,231.0 576.8,230.0 577.1,230.5 577.4,230.2 577.8,228.6 578.1,227.6 578.5,226.8 578.8,226.1 579.1,228.6 579.5,226.6 579.8,224.5 580.2,224.9 580.5,224.9 580.8,226.7 581.2,226.2 581.5,227.9 581.9,228.6 582.2,230.1 582.5,231.5 582.9,232.0 583.2,232.4 583.6,230.2 583.9,230.9 584.2,232.3 584.6,235.3 584.9,235.2 585.3,236.3 585.6,235.7 585.9,236.9 586.3,237.0 586.6,235.0 587.0,235.2 587.3,235.0 587.6,233.1 588.0,233.2 588.3,233.4 588.7,231.2 589.0,229.9 589.3,228.6 589.7,227.3 590.0,227.2 590.4,226.0 590.7,225.2 591.0,223.9 591.4,222.1 591.7,222.1 592.1,224.6 592.4,224.4 592.7,225.7 593.1,229.3 593.4,230.5 593.8,229.6 594.1,231.5 594.4,231.2 594.8,232.0 595.1,228.9 595.5,227.7 595.8,227.9 596.1,224.5 596.5,224.9 596.8,221.7 597.2,221.0 597.5,220.0 597.8,219.7 598.2,219.5 598.5,218.9 598.9,217.3 599.2,218.7 599.5,218.6 599.9,218.9 600.2,218.8 600.6,215.2 600.9,216.8 601.2,217.0 601.6,214.6 601.9,215.3 602.3,215.7 602.6,213.1 602.9,211.0 603.3,211.2 603.6,214.3 604.0,212.5 604.3,210.1 604.6,210.3 605.0,209.4 605.3,209.7 605.7,210.3 606.0,207.6 606.3,209.6 606.7,211.5 607.0,210.0 607.4,209.2 607.7,210.9 608.0,208.8 608.4,208.4 608.7,208.2 609.1,209.8 609.4,211.1 609.7,211.1 610.1,212.0 610.4,212.0 610.8,210.7 611.1,208.1 611.4,207.2 611.8,208.0 612.1,204.8 612.5,204.1 612.8,203.0 613.1,202.7 613.5,201.8 613.8,201.2 614.2,205.8 614.5,205.3 614.8,203.2 615.2,203.5 615.5,204.5 615.9,203.6 616.2,204.6 616.5,203.4 616.9,203.9 617.2,205.3 617.6,205.9 617.9,204.8 618.2,207.7 618.6,209.7 618.9,212.4 619.3,212.9 619.6,216.1 619.9,218.4 620.3,215.6 620.6,212.8 621.0,213.1 621.3,210.3 621.6,210.4 622.0,210.3 622.3,205.9 622.7,204.3 623.0,204.2 623.3,204.5 623.7,201.9 624.0,203.5 624.4,203.2 624.7,202.3 625.0,200.0 625.4,200.7 625.7,200.3 626.1,197.4 626.4,200.9 626.7,199.1 627.1,199.5 627.4,198.7 627.8,199.6 628.1,201.0 628.4,199.1 628.8,197.6 629.1,198.8 629.5,198.2 629.8,198.7 630.1,199.2 630.5,199.2 630.8,200.7 631.2,198.0 631.5,198.7 631.8,197.6 632.2,199.3 632.5,200.5 632.9,200.6 633.2,203.1 633.5,202.3 633.9,201.8 634.2,203.2 634.6,202.5 634.9,201.7 635.2,201.4 635.6,202.1 635.9,200.8 636.3,199.3 636.6,198.0 636.9,197.2 637.3,197.7 637.6,198.0 638.0,198.1 638.3,198.1 638.6,197.5 639.0,194.9 639.3,195.1 639.7,195.4 640.0,198.5 640.3,196.7 640.7,197.5 641.0,198.3 641.4,196.6 641.7,194.7 642.0,193.8 642.4,192.1 642.7,192.8 643.1,193.5 643.4,192.6 643.7,192.1 644.1,191.4 644.4,192.3 644.8,189.0 645.1,188.7 645.4,189.0 645.8,189.5 646.1,184.7 646.5,185.3 646.8,185.6 647.1,184.4 647.5,186.1 647.8,185.5 648.2,184.3 648.5,182.2 648.8,181.9 649.2,182.1 649.5,183.9 649.9,182.1 650.2,180.6 650.5,180.6 650.9,181.6 651.2,184.7 651.6,185.8 651.9,183.2 652.2,183.9 652.6,184.6 652.9,184.5 653.3,182.5 653.6,180.3 653.9,180.7 654.3,179.1 654.6,181.5 655.0,182.9 655.3,180.0 655.6,181.6 656.0,182.6 656.3,184.2 656.7,185.0 657.0,185.6 657.3,184.7 657.7,185.7 658.0,188.8 658.4,188.3 658.7,189.6 659.0,192.9 659.4,190.4 659.7,186.6 660.1,185.9 660.4,185.9 660.7,183.9 661.1,184.1 661.4,183.7 661.8,180.9 662.1,179.9 662.4,179.9 662.8,178.0 663.1,179.4 663.5,178.7 663.8,179.6 664.1,177.6 664.5,176.3 664.8,179.5 665.2,176.4 665.5,175.8 665.8,175.4 666.2,175.8 666.5,174.9 666.9,175.9 667.2,175.1 667.5,175.2 667.9,176.6 668.2,178.1 668.6,178.7 668.9,177.4 669.2,179.2 669.6,179.4 669.9,179.9 670.3,178.5 670.6,182.9 670.9,183.9 671.3,188.0 671.6,188.5 672.0,186.9 672.3,186.9 672.6,191.9 673.0,191.5 673.3,195.2 673.7,196.2 674.0,201.6 674.3,198.4 674.7,197.9 675.0,196.0 675.4,191.1 675.7,188.4 676.0,189.4 676.4,186.0 676.7,182.2 677.1,183.3 677.4,183.7 677.7,179.4 678.1,179.0 678.4,175.2 678.8,176.2 679.1,173.1 679.4,174.3 679.8,172.6 680.1,170.3 680.5,169.7 680.8,167.5 681.1,165.2 681.5,164.8 681.8,166.3 682.2,165.0 682.5,167.1 682.8,167.8 683.2,167.8 683.5,166.1 683.9,166.5 684.2,167.9 684.5,172.0 684.9,170.9 685.2,172.5 685.6,174.6 685.9,176.6 686.2,177.5 686.6,179.2 686.9,180.7 687.3,175.5 687.6,174.3 687.9,173.5 688.3,169.9 688.6,161.8 689.0,166.0 689.3,167.7 689.6,169.2 690.0,167.0 690.3,171.3 690.7,170.2 691.0,174.5 691.3,176.2 691.7,178.5 692.0,176.7 692.4,174.2 692.7,176.1 693.0,175.5 693.4,172.2 693.7,173.2 694.1,171.4 694.4,169.0 694.7,171.2 695.1,172.9 695.4,175.2 695.8,177.5 696.1,176.9 696.4,175.3 696.8,174.7 697.1,172.0 697.5,169.4 697.8,167.1 698.1,166.3 698.5,162.5 698.8,164.1 699.2,162.0 699.5,162.6 699.8,159.5 700.2,162.0 700.5,161.0 700.9,157.8 701.2,159.6 701.5,158.3 701.9,162.2 702.2,161.1 702.6,158.5 702.9,159.4 703.2,159.1 703.6,161.9 703.9,163.0 704.3,164.9 704.6,164.0 704.9,168.2 705.3,172.9 705.6,170.4 706.0,167.9 706.3,166.7 706.6,163.8 707.0,164.1 707.3,161.8 707.7,163.0 708.0,162.5 708.3,161.5 708.7,163.4 709.0,160.5 709.4,161.9 709.7,160.0 710.0,164.6 710.4,165.8 710.7,164.5 711.1,165.4 711.4,163.6 711.7,162.7 712.1,160.7 712.4,159.1 712.8,160.2 713.1,159.2 713.4,158.9 713.8,160.6 714.1,159.5 714.5,156.6 714.8,157.8 715.1,157.1 715.5,157.6 715.8,156.2 716.2,159.5 716.5,161.5 716.8,156.9 717.2,158.3 717.5,158.5 717.9,155.7 718.2,156.6 718.5,158.9 718.9,158.6 719.2,159.6 719.6,155.8 719.9,155.7 720.2,157.7 720.6,158.7 720.9,158.8 721.3,158.4 721.6,158.6 721.9,158.7 722.3,160.3 722.6,156.0 723.0,161.0 723.3,159.2 723.6,157.1 724.0,159.6 724.3,157.2 724.7,159.3 725.0,158.6 725.3,159.9 725.7,160.5 726.0,162.5 726.4,160.9 726.7,161.5 727.0,162.8 727.4,161.7 727.7,165.3 728.1,166.3 728.4,165.1 728.7,167.8 729.1,167.8 729.4,162.7 729.8,163.3 730.1,163.6 730.4,162.2 730.8,158.0 731.1,155.2 731.5,156.5 731.8,156.9 732.1,158.2 732.5,158.9 732.8,160.5 733.2,159.6 733.5,160.4 733.8,165.0 734.2,162.9 734.5,163.3 734.9,162.7 735.2,162.4 735.5,160.5 735.9,162.2 736.2,161.8 736.6,163.4 736.9,166.7 737.2,163.9 737.6,164.6 737.9,160.4 738.3,163.9 738.6,170.9 738.9,168.9 739.3,167.6 739.6,171.2 740.0,186.5 740.3,197.4 740.6,194.7 741.0,199.0 741.3,190.6 741.7,187.7 742.0,184.9 742.3,187.6 742.7,183.8 743.0,186.9 743.4,184.2 743.7,182.6 744.0,177.8 744.4,183.9 744.7,185.3 745.1,186.5 745.4,186.5 745.7,186.8 746.1,185.8 746.4,192.2 746.8,193.4 747.1,193.3 747.4,193.6 747.8,194.6 748.1,191.5 748.5,192.7 748.8,188.9 749.1,182.4 749.5,177.1 749.8,175.5 750.2,173.5 750.5,174.8 750.8,175.4 751.2,175.7 751.5,174.8 751.9,172.6 752.2,173.3 752.5,169.6 752.9,169.4 753.2,170.5 753.6,168.6 753.9,163.3 754.2,161.1 754.6,158.3 754.9,164.9 755.3,157.6 755.6,159.9 755.9,167.8 756.3,169.9 756.6,172.8 757.0,170.8 757.3,174.8 757.6,177.2 758.0,172.6 758.3,170.6 758.7,167.2 759.0,166.0 759.3,165.7 759.7,167.4 760.0,160.8 760.4,159.0 760.7,163.6 761.0,166.6 761.4,171.8 761.7,172.6 762.1,170.4 762.4,174.0 762.7,177.7 763.1,175.9 763.4,172.6 763.8,173.6 764.1,170.2 764.4,164.2 764.8,170.5 765.1,164.3 765.5,164.3 765.8,164.7 766.1,166.2 766.5,167.7 766.8,165.8 767.2,171.8 767.5,173.1 767.8,175.2 768.2,180.1 768.5,183.0 768.9,185.9 769.2,189.2 769.5,187.9 769.9,183.1 770.2,187.2 770.6,188.8 770.9,190.4 771.2,190.2 771.6,190.4 771.9,195.5 772.3,197.7 772.6,192.4 772.9,194.4 773.3,192.8 773.6,191.3 774.0,192.9 774.3,193.6 774.6,194.1 775.0,197.0 775.3,194.7 775.7,198.5 776.0,201.4 776.3,200.2 776.7,201.0 777.0,200.0 777.4,196.3 777.7,194.7 778.0,194.5 778.4,193.9 778.7,188.5 779.1,188.7 779.4,189.4 779.7,186.6 780.1,183.4 780.4,181.6 780.8,181.2 781.1,178.9 781.4,183.6 781.8,179.0 782.1,178.7 782.5,177.4 782.8,177.1 783.1,174.2 783.5,170.8 783.8,174.7 784.2,171.7 784.5,171.0 784.8,170.6 785.2,172.2 785.5,171.4 785.9,171.6 786.2,170.7 786.5,168.8 786.9,168.2 787.2,165.9 787.6,162.8 787.9,164.4 788.2,163.2 788.6,168.6 788.9,168.0 789.3,166.9 789.6,163.4 789.9,166.1 790.3,160.7 790.6,159.4 791.0,160.2 791.3,160.7 791.6,163.1 792.0,164.4 792.3,168.3 792.7,168.4 793.0,169.3 793.3,168.6 793.7,167.6 794.0,166.3 794.4,164.5 794.7,165.2 795.0,166.5 795.4,169.3 795.7,165.4 796.1,164.9 796.4,168.1 796.7,166.5 797.1,169.1 797.4,167.7 797.8,165.8 798.1,163.3 798.4,164.6 798.8,162.9 799.1,162.0 799.5,161.0 799.8,162.0 800.1,158.9 800.5,155.0 800.8,158.0 801.2,160.7 801.5,163.4 801.8,164.0 802.2,162.4 802.5,158.6 802.9,158.3 803.2,161.8 803.5,159.3 803.9,163.9 804.2,169.2 804.6,169.5 804.9,175.1 805.2,173.6 805.6,172.9 805.9,168.4 806.3,162.7 806.6,160.3 806.9,157.0 807.3,155.8 807.6,154.8 808.0,153.2 808.3,151.8 808.6,149.6 809.0,147.4 809.3,148.6 809.7,148.0 810.0,147.9 810.3,151.6 810.7,151.1 811.0,148.8 811.4,146.2 811.7,145.6 812.0,147.6 812.4,149.0 812.7,147.4 813.1,147.4 813.4,147.5 813.7,148.5 814.1,144.6 814.4,146.1 814.8,146.8 815.1,147.9 815.4,147.5 815.8,145.4 816.1,145.5 816.5,144.3 816.8,146.4 817.1,147.0 817.5,147.7 817.8,146.0 818.2,145.3 818.5,148.8 818.8,148.7 819.2,151.5 819.5,151.2 819.9,149.1 820.2,152.2 820.5,154.4 820.9,153.4 821.2,151.8 821.6,153.8 821.9,151.8 822.2,150.6 822.6,147.2 822.9,150.0 823.3,147.6 823.6,148.6 823.9,151.7 824.3,149.1 824.6,148.6 825.0,150.3 825.3,153.7 825.6,154.8 826.0,152.2 826.3,153.6 826.7,153.6 827.0,153.3 827.3,153.3 827.7,152.0 828.0,153.8 828.4,155.0 828.7,156.7 829.0,156.4 829.4,151.9 829.7,152.4 830.1,154.8 830.4,155.4 830.7,153.6 831.1,156.5 831.4,158.0 831.8,159.8 832.1,161.2 832.4,163.9 832.8,163.4 833.1,160.5 833.5,155.9 833.8,153.2 834.1,151.1 834.5,150.3 834.8,149.4 835.2,148.7 835.5,147.3 835.8,148.8 836.2,148.7 836.5,148.3 836.9,146.4 837.2,145.9 837.5,143.0 837.9,141.1 838.2,140.3 838.6,140.6 838.9,138.9 839.2,136.2 839.6,136.1 839.9,135.7 840.3,135.3 840.6,134.0 840.9,134.4 841.3,133.7 841.6,133.5 842.0,133.6 842.3,134.5 842.6,136.0 843.0,136.3 843.3,135.2 843.7,133.6 844.0,133.4 844.3,133.4 844.7,135.4 845.0,131.1 845.4,133.6 845.7,131.3 846.0,132.9 846.4,134.9 846.7,132.3 847.1,129.8 847.4,133.1 847.7,134.2 848.1,133.0 848.4,133.4 848.8,130.7 849.1,132.3 849.4,133.3 849.8,132.1 850.1,131.1 850.5,131.9 850.8,131.8 851.1,129.1 851.5,130.3 851.8,129.3 852.2,127.7 852.5,128.2 852.8,127.2 853.2,126.2 853.5,123.7 853.9,124.1 854.2,120.6 854.5,119.9 854.9,116.7 855.2,114.8 855.6,116.0 855.9,115.2 856.2,115.0 856.6,115.2 856.9,114.6 857.3,112.4 857.6,112.8 857.9,113.3 858.3,113.3 858.6,114.1 859.0,114.4 859.3,114.5 859.6,115.3 860.0,116.5 860.3,119.5 860.7,117.1 861.0,118.4 861.3,116.6 861.7,120.2 862.0,119.2 862.4,119.6 862.7,121.1 863.0,121.1 863.4,118.1 863.7,119.7 864.1,119.2 864.4,120.1 864.7,119.8 865.1,120.6 865.4,120.9 865.8,121.0 866.1,123.1 866.4,120.9 866.8,122.0 867.1,121.0 867.5,120.9 867.8,119.9 868.1,119.3 868.5,118.1 868.8,117.1 869.2,114.7 869.5,115.4 869.8,115.7 870.2,114.5 870.5,113.8 870.9,113.4 871.2,115.9 871.5,114.6 871.9,114.2 872.2,113.0 872.6,112.6 872.9,112.8 873.2,116.4 873.6,114.2 873.9,116.5 874.3,117.4 874.6,116.0 874.9,113.0 875.3,111.5 875.6,112.8 876.0,110.2 876.3,110.8 876.6,110.5 877.0,110.0 877.3,109.8 877.7,107.0 878.0,106.8 878.3,107.8 878.7,105.4 879.0,108.0 879.4,106.1 879.7,106.0 880.0,104.8 880.4,106.0 880.7,105.0 881.1,105.2 881.4,104.1 881.7,106.5 882.1,104.3 882.4,106.5 882.8,107.2 883.1,108.0 883.4,106.8 883.8,109.2 884.1,110.1 884.5,109.8 884.8,108.7 885.1,106.9 885.5,106.5 885.8,103.8 886.2,103.8 886.5,103.1 886.8,100.7 887.2,99.1 887.5,100.2 887.9,100.4 888.2,101.8 888.5,100.6"/>
<rect x="71.5" y="62.4" width="928.1" height="344.1" fill="none" stroke="#000" stroke-width="3"/>
<text x="33.96" y="411.80" textLength="23.04" lengthAdjust="spacingAndGlyphs" style='font-family:"Liberation Serif","Times New Roman",serif;font-size:16.00px;font-weight:normal;font-style:normal;fill:#000'>600</text>
<text x="1014.40" y="411.80" textLength="23.04" lengthAdjust="spacingAndGlyphs" style='font-family:"Liberation Serif","Times New Roman",serif;font-size:16.00px;font-weight:normal;font-style:normal;fill:#000'>600</text>
<text x="33.96" y="362.67" textLength="23.04" lengthAdjust="spacingAndGlyphs" style='font-family:"Liberation Serif","Times New Roman",serif;font-size:16.00px;font-weight:normal;font-style:normal;fill:#000'>900</text>
<text x="1014.40" y="362.67" textLength="23.04" lengthAdjust="spacingAndGlyphs" style='font-family:"Liberation Serif","Times New Roman",serif;font-size:16.00px;font-weight:normal;font-style:normal;fill:#000'>900</text>
<text x="26.28" y="313.54" textLength="30.72" lengthAdjust="spacingAndGlyphs" style='font-family:"Liberation Serif","Times New Roman",serif;font-size:16.00px;font-weight:normal;font-style:normal;fill:#000'>1200</text>
<text x="1014.40" y="313.54" textLength="30.72" lengthAdjust="spacingAndGlyphs" style='font-family:"Liberation Serif","Times New Roman",serif;font-size:16.00px;font-weight:normal;font-style:normal;fill:#000'>1200</text>
<text x="26.28" y="264.41" textLength="30.72" lengthAdjust="spacingAndGlyphs" style='font-family:"Liberation Serif","Times New Roman",serif;font-size:16.00px;font-weight:normal;font-style:normal;fill:#000'>1500</text>
<text x="1014.40" y="264.41" textLength="30.72" lengthAdjust="spacingAndGlyphs" style='font-family:"Liberation Serif","Times New Roman",serif;font-size:16.00px;font-weight:normal;font-style:normal;fill:#000'>1500</text>
<text x="26.28" y="215.29" textLength="30.72" lengthAdjust="spacingAndGlyphs" style='font-family:"Liberation Serif","Times New Roman",serif;font-size:16.00px;font-weight:normal;font-style:normal;fill:#000'>1800</text>
<text x="1014.40" y="215.29" textLength="30.72" lengthAdjust="spacingAndGlyphs" style='font-family:"Liberation Serif","Times New Roman",serif;font-size:16.00px;font-weight:normal;font-style:normal;fill:#000'>1800</text>
<text x="26.28" y="166.16" textLength="30.72" lengthAdjust="spacingAndGlyphs" style='font-family:"Liberation Serif","Times New Roman",serif;font-size:16.00px;font-weight:normal;font-style:normal;fill:#000'>2100</text>
<text x="1014.40" y="166.16" textLength="30.72" lengthAdjust="spacingAndGlyphs" style='font-family:"Liberation Serif","Times New Roman",serif;font-size:16.00px;font-weight:normal;font-style:normal;fill:#000'>2100</text>
<text x="26.28" y="117.03" textLength="30.72" lengthAdjust="spacingAndGlyphs" style='font-family:"Liberation Serif","Times New Roman",serif;font-size:16.00px;font-weight:normal;font-style:normal;fill:#000'>2400</text>
<text x="1014.40" y="117.03" textLength="30.72" lengthAdjust="spacingAndGlyphs" style='font-family:"Liberation Serif","Times New Roman",serif;font-size:16.00px;font-weight:normal;font-style:normal;fill:#000'>2400</text>
<text x="26.28" y="67.90" textLength="30.72" lengthAdjust="spacingAndGlyphs" style='font-family:"Liberation Serif","Times New Roman",serif;font-size:16.00px;font-weight:normal;font-style:normal;fill:#000'>2700</text>
<text x="1014.40" y="67.90" textLength="30.72" lengthAdjust="spacingAndGlyphs" style='font-family:"Liberation Serif","Times New Roman",serif;font-size:16.00px;font-weight:normal;font-style:normal;fill:#000'>2700</text>
<path d="M59.2 406.5H70.3M1001 406.5H1011.2M65 389.5H70.3M1001 389.5H1006.2M65 373.5H70.3M1001 373.5H1006.2M59.2 357.5H70.3M1001 357.5H1011.2M65 340.5H70.3M1001 340.5H1006.2M65 324.5H70.3M1001 324.5H1006.2M59.2 308.5H70.3M1001 308.5H1011.2M65 291.5H70.3M1001 291.5H1006.2M65 275.5H70.3M1001 275.5H1006.2M59.2 258.5H70.3M1001 258.5H1011.2M65 242.5H70.3M1001 242.5H1006.2M65 226.5H70.3M1001 226.5H1006.2M59.2 209.5H70.3M1001 209.5H1011.2M65 193.5H70.3M1001 193.5H1006.2M65 177.5H70.3M1001 177.5H1006.2M59.2 160.5H70.3M1001 160.5H1011.2M65 144.5H70.3M1001 144.5H1006.2M65 127.5H70.3M1001 127.5H1006.2M59.2 111.5H70.3M1001 111.5H1011.2M65 95.5H70.3M1001 95.5H1006.2M65 78.5H70.3M1001 78.5H1006.2M59.2 62.5H70.3M1001 62.5H1011.2" stroke="#000" stroke-width="1.15" fill="none"/>
<path d="M71.0 407.9V420.5M148.0 407.9V420.5M226.0 407.9V420.5M303.0 407.9V420.5M380.0 407.9V420.5M458.0 407.9V420.5M535.0 407.9V420.5M612.0 407.9V420.5M690.0 407.9V420.5M767.0 407.9V420.5M844.0 407.9V420.5M922.0 407.9V420.5M999.0 407.9V420.5" stroke="#000" stroke-width="2" fill="none"/>
<text x="94.27" y="425.80" textLength="30.47" lengthAdjust="spacingAndGlyphs" style='font-family:"Liberation Serif","Times New Roman",serif;font-size:16.00px;font-weight:normal;font-style:normal;fill:#000'>2007</text>
<text x="171.61" y="425.80" textLength="30.62" lengthAdjust="spacingAndGlyphs" style='font-family:"Liberation Serif","Times New Roman",serif;font-size:16.00px;font-weight:normal;font-style:normal;fill:#000'>2008</text>
<text x="248.96" y="425.80" textLength="30.62" lengthAdjust="spacingAndGlyphs" style='font-family:"Liberation Serif","Times New Roman",serif;font-size:16.00px;font-weight:normal;font-style:normal;fill:#000'>2009</text>
<text x="326.31" y="425.80" textLength="30.62" lengthAdjust="spacingAndGlyphs" style='font-family:"Liberation Serif","Times New Roman",serif;font-size:16.00px;font-weight:normal;font-style:normal;fill:#000'>2010</text>
<text x="403.64" y="425.80" textLength="31.03" lengthAdjust="spacingAndGlyphs" style='font-family:"Liberation Serif","Times New Roman",serif;font-size:16.00px;font-weight:normal;font-style:normal;fill:#000'>2011</text>
<text x="481.01" y="425.80" textLength="30.79" lengthAdjust="spacingAndGlyphs" style='font-family:"Liberation Serif","Times New Roman",serif;font-size:16.00px;font-weight:normal;font-style:normal;fill:#000'>2012</text>
<text x="558.36" y="425.80" textLength="30.63" lengthAdjust="spacingAndGlyphs" style='font-family:"Liberation Serif","Times New Roman",serif;font-size:16.00px;font-weight:normal;font-style:normal;fill:#000'>2013</text>
<text x="635.72" y="425.80" textLength="30.15" lengthAdjust="spacingAndGlyphs" style='font-family:"Liberation Serif","Times New Roman",serif;font-size:16.00px;font-weight:normal;font-style:normal;fill:#000'>2014</text>
<text x="713.06" y="425.80" textLength="30.63" lengthAdjust="spacingAndGlyphs" style='font-family:"Liberation Serif","Times New Roman",serif;font-size:16.00px;font-weight:normal;font-style:normal;fill:#000'>2015</text>
<text x="790.42" y="425.80" textLength="30.47" lengthAdjust="spacingAndGlyphs" style='font-family:"Liberation Serif","Times New Roman",serif;font-size:16.00px;font-weight:normal;font-style:normal;fill:#000'>2016</text>
<text x="867.77" y="425.80" textLength="30.47" lengthAdjust="spacingAndGlyphs" style='font-family:"Liberation Serif","Times New Roman",serif;font-size:16.00px;font-weight:normal;font-style:normal;fill:#000'>2017</text>
<text x="945.11" y="425.80" textLength="30.63" lengthAdjust="spacingAndGlyphs" style='font-family:"Liberation Serif","Times New Roman",serif;font-size:16.00px;font-weight:normal;font-style:normal;fill:#000'>2018</text>
<rect x="71.5" y="456.6" width="928.1" height="343.1" fill="#ffffe6"/>
<polyline class="b" points="72.0,760.2 73.0,760.2 74.0,760.1 75.0,760.1 76.0,760.1 77.0,760.1 78.0,760.0 79.0,760.0 80.0,760.0 81.0,760.0 82.0,759.9 83.0,759.9 84.0,759.8 85.0,759.7 86.0,759.6 87.0,759.5 88.0,759.4 89.0,759.3 90.0,759.1 91.0,758.9 92.0,758.8 93.0,758.6 94.0,758.4 95.0,758.2 96.0,758.1 97.0,757.9 98.0,757.7 99.0,757.6 100.0,757.4 101.0,757.2 102.0,757.1 103.0,756.9 104.0,756.8 105.0,756.6 106.0,756.5 107.0,756.3 108.0,756.2 109.0,756.0 110.0,755.9 111.0,755.8 112.0,755.7 113.0,755.6 114.0,755.5 115.0,755.4 116.0,755.4 117.0,755.4 118.0,755.4 119.0,755.4 120.0,755.3 121.0,755.3 122.0,755.1 123.0,755.0 124.0,754.9 125.0,754.7 126.0,754.6 127.0,754.5 128.0,754.4 129.0,754.3 130.0,754.2 131.0,754.2 132.0,754.1 133.0,754.0 134.0,753.9 135.0,753.9 136.0,753.7 137.0,753.6 138.0,753.4 139.0,753.3 140.0,753.1 141.0,753.0 142.0,752.8 143.0,752.6 144.0,752.4 145.0,752.2 146.0,752.0 147.0,751.8 148.0,751.7 149.0,751.8 150.0,751.9 151.0,752.1 152.0,752.3 153.0,752.4 154.0,752.6 155.0,752.7 156.0,752.8 157.0,752.9 158.0,753.0 159.0,753.1 160.0,753.1 161.0,753.2 162.0,753.2 163.0,753.1 164.0,753.1 165.0,753.1 166.0,753.0 167.0,753.0 168.0,752.9 169.0,752.8 170.0,752.7 171.0,752.6 172.0,752.4 173.0,752.3 174.0,752.0 175.0,751.6 176.0,751.1 177.0,750.5 178.0,749.9 179.0,749.4 180.0,749.0 181.0,748.6 182.0,748.3 183.0,748.1 184.0,747.8 185.0,747.5 186.0,747.2 187.0,746.8 188.0,746.4 189.0,746.1 190.0,745.8 191.0,745.6 192.0,745.6 193.0,745.6 194.0,745.7 195.0,745.8 196.0,745.8 197.0,745.9 198.0,745.9 199.0,745.9 200.0,745.9 201.0,745.9 202.0,745.9 203.0,745.9 204.0,746.0 205.0,746.1 206.0,746.4 207.0,746.8 208.0,747.4 209.0,748.3 210.0,749.4 211.0,750.7 212.0,752.2 213.0,753.8 214.0,755.3 215.0,756.7 216.0,757.9 217.0,758.9 218.0,759.8 219.0,760.7 220.0,761.5 221.0,762.3 222.0,763.1 223.0,764.1 224.0,765.1 225.0,766.1 226.0,767.1 227.0,768.1 228.0,769.0 229.0,769.9 230.0,770.9 231.0,772.0 232.0,773.2 233.0,774.4 234.0,775.6 235.0,776.7 236.0,777.6 237.0,778.4 238.0,779.0 239.0,779.4 240.0,779.8 241.0,780.2 242.0,780.5 243.0,780.9 244.0,781.3 245.0,781.7 246.0,782.1 247.0,782.5 248.0,782.9 249.0,783.2 250.0,783.6 251.0,783.9 252.0,784.2 253.0,784.3 254.0,784.3 255.0,784.2 256.0,784.0 257.0,783.8 258.0,783.6 259.0,783.3 260.0,783.1 261.0,782.8 262.0,782.5 263.0,782.3 264.0,782.0 265.0,781.7 266.0,781.3 267.0,781.0 268.0,780.7 269.0,780.4 270.0,780.2 271.0,779.9 272.0,779.6 273.0,779.3 274.0,778.9 275.0,778.6 276.0,778.2 277.0,777.9 278.0,777.5 279.0,777.2 280.0,776.9 281.0,776.6 282.0,776.3 283.0,776.0 284.0,775.7 285.0,775.5 286.0,775.2 287.0,774.9 288.0,774.6 289.0,774.3 290.0,774.1 291.0,773.8 292.0,773.5 293.0,773.3 294.0,773.0 295.0,772.8 296.0,772.5 297.0,772.2 298.0,772.0 299.0,771.8 300.0,771.6 301.0,771.6 302.0,771.6 303.0,771.6 304.0,771.4 305.0,771.1 306.0,770.7 307.0,770.3 308.0,769.9 309.0,769.5 310.0,769.1 311.0,768.7 312.0,768.4 313.0,768.1 314.0,767.9 315.0,767.6 316.0,767.3 317.0,767.0 318.0,766.7 319.0,766.4 320.0,766.0 321.0,765.7 322.0,765.3 323.0,764.9 324.0,764.5 325.0,764.1 326.0,763.6 327.0,763.2 328.0,762.7 329.0,762.2 330.0,761.7 331.0,761.3 332.0,760.8 333.0,760.4 334.0,760.0 335.0,759.6 336.0,759.2 337.0,758.9 338.0,758.5 339.0,758.2 340.0,757.8 341.0,757.5 342.0,757.2 343.0,757.0 344.0,756.7 345.0,756.5 346.0,756.2 347.0,756.0 348.0,755.7 349.0,755.5 350.0,755.3 351.0,755.0 352.0,754.8 353.0,754.5 354.0,754.3 355.0,754.1 356.0,753.9 357.0,753.8 358.0,753.6 359.0,753.5 360.0,753.4 361.0,753.3 362.0,753.2 363.0,753.1 364.0,752.9 365.0,752.7 366.0,752.5 367.0,752.2 368.0,751.9 369.0,751.6 370.0,751.4 371.0,751.1 372.0,750.8 373.0,750.5 374.0,750.2 375.0,749.9 376.0,749.6 377.0,749.3 378.0,749.0 379.0,748.7 380.0,748.4 381.0,748.1 382.0,747.8 383.0,747.5 384.0,747.2 385.0,746.9 386.0,746.6 387.0,746.3 388.0,746.0 389.0,745.7 390.0,745.4 391.0,745.1 392.0,744.8 393.0,744.6 394.0,744.3 395.0,744.0 396.0,743.8 397.0,743.5 398.0,743.2 399.0,743.0 400.0,742.6 401.0,742.2 402.0,741.7 403.0,741.3 404.0,740.8 405.0,740.3 406.0,739.8 407.0,739.3 408.0,738.9 409.0,738.5 410.0,738.1 411.0,737.7 412.0,737.3 413.0,736.9 414.0,736.6 415.0,736.3 416.0,736.0 417.0,735.7 418.0,735.4 419.0,735.1 420.0,734.8 421.0,734.6 422.0,734.3 423.0,734.2 424.0,734.0 425.0,733.9 426.0,733.8 427.0,733.7 428.0,733.5 429.0,733.4 430.0,733.3 431.0,733.2 432.0,733.1 433.0,733.0 434.0,733.0 435.0,733.0 436.0,733.1 437.0,733.1 438.0,733.2 439.0,733.2 440.0,733.3 441.0,733.3 442.0,733.2 443.0,733.1 444.0,732.9 445.0,732.8 446.0,732.7 447.0,732.5 448.0,732.4 449.0,732.3 450.0,732.1 451.0,732.0 452.0,731.9 453.0,731.8 454.0,731.7 455.0,731.5 456.0,731.5 457.0,731.4 458.0,731.3 459.0,731.3 460.0,731.3 461.0,731.3 462.0,731.4 463.0,731.5 464.0,731.7 465.0,731.9 466.0,732.0 467.0,732.0 468.0,731.8 469.0,731.5 470.0,731.3 471.0,731.0 472.0,730.8 473.0,730.5 474.0,730.2 475.0,730.0 476.0,729.7 477.0,729.4 478.0,729.0 479.0,728.7 480.0,728.4 481.0,728.1 482.0,727.9 483.0,727.6 484.0,727.4 485.0,727.3 486.0,727.1 487.0,727.0 488.0,726.8 489.0,726.7 490.0,726.6 491.0,726.5 492.0,726.4 493.0,726.4 494.0,726.3 495.0,726.3 496.0,726.1 497.0,725.8 498.0,725.5 499.0,725.4 500.0,725.4 501.0,725.5 502.0,725.6 503.0,725.7 504.0,725.7 505.0,725.8 506.0,725.7 507.0,725.6 508.0,725.5 509.0,725.3 510.0,725.2 511.0,725.0 512.0,724.8 513.0,724.7 514.0,724.5 515.0,724.4 516.0,724.4 517.0,724.4 518.0,724.4 519.0,724.4 520.0,724.5 521.0,724.5 522.0,724.6 523.0,724.7 524.0,724.8 525.0,724.9 526.0,724.9 527.0,724.8 528.0,724.6 529.0,724.5 530.0,724.3 531.0,724.1 532.0,723.9 533.0,723.8 534.0,723.6 535.0,723.5 536.0,723.3 537.0,723.2 538.0,723.0 539.0,722.9 540.0,722.7 541.0,722.6 542.0,722.4 543.0,722.3 544.0,722.2 545.0,722.0 546.0,721.9 547.0,721.8 548.0,721.7 549.0,721.6 550.0,721.5 551.0,721.3 552.0,721.2 553.0,721.0 554.0,720.7 555.0,720.4 556.0,720.2 557.0,719.9 558.0,719.6 559.0,719.3 560.0,719.0 561.0,718.7 562.0,718.4 563.0,718.1 564.0,717.8 565.0,717.5 566.0,717.2 567.0,717.0 568.0,716.8 569.0,716.6 570.0,716.4 571.0,716.2 572.0,716.0 573.0,715.9 574.0,715.7 575.0,715.6 576.0,715.4 577.0,715.3 578.0,715.2 579.0,715.1 580.0,714.9 581.0,714.8 582.0,714.7 583.0,714.7 584.0,714.6 585.0,714.5 586.0,714.4 587.0,714.3 588.0,714.1 589.0,713.7 590.0,713.0 591.0,712.2 592.0,711.6 593.0,711.2 594.0,710.9 595.0,710.7 596.0,710.6 597.0,710.4 598.0,710.3 599.0,710.1 600.0,710.0 601.0,709.9 602.0,709.7 603.0,709.6 604.0,709.6 605.0,709.5 606.0,709.6 607.0,709.7 608.0,709.7 609.0,709.4 610.0,709.1 611.0,708.7 612.0,708.4 613.0,708.1 614.0,707.9 615.0,707.6 616.0,707.4 617.0,707.1 618.0,706.9 619.0,706.8 620.0,706.8 621.0,706.8 622.0,706.9 623.0,706.9 624.0,706.9 625.0,706.8 626.0,706.7 627.0,706.5 628.0,706.4 629.0,706.3 630.0,706.2 631.0,706.2 632.0,706.2 633.0,706.1 634.0,706.0 635.0,705.7 636.0,705.4 637.0,705.0 638.0,704.5 639.0,703.9 640.0,703.3 641.0,702.8 642.0,702.4 643.0,702.1 644.0,701.8 645.0,701.5 646.0,701.2 647.0,700.9 648.0,700.7 649.0,700.4 650.0,700.2 651.0,700.0 652.0,699.7 653.0,699.5 654.0,699.3 655.0,699.0 656.0,698.8 657.0,698.6 658.0,698.4 659.0,698.2 660.0,697.9 661.0,697.7 662.0,697.5 663.0,697.2 664.0,696.9 665.0,696.6 666.0,696.2 667.0,696.0 668.0,695.9 669.0,695.9 670.0,696.0 671.0,696.1 672.0,696.1 673.0,696.1 674.0,696.1 675.0,696.1 676.0,696.1 677.0,695.9 678.0,695.7 679.0,695.5 680.0,695.4 681.0,695.2 682.0,695.1 683.0,695.0 684.0,694.9 685.0,694.8 686.0,694.7 687.0,694.6 688.0,694.4 689.0,694.2 690.0,694.1 691.0,694.1 692.0,694.3 693.0,694.6 694.0,695.0 695.0,695.4 696.0,695.9 697.0,696.4 698.0,696.9 699.0,697.3 700.0,697.6 701.0,697.8 702.0,697.8 703.0,697.9 704.0,697.9 705.0,697.9 706.0,698.0 707.0,698.0 708.0,698.1 709.0,698.2 710.0,698.3 711.0,698.4 712.0,698.6 713.0,698.7 714.0,698.9 715.0,699.2 716.0,699.5 717.0,699.6 718.0,699.5 719.0,699.2 720.0,698.8 721.0,698.4 722.0,698.1 723.0,697.8 724.0,697.6 725.0,697.4 726.0,697.2 727.0,697.1 728.0,696.9 729.0,696.7 730.0,696.6 731.0,696.4 732.0,696.2 733.0,696.1 734.0,695.9 735.0,695.7 736.0,695.6 737.0,695.4 738.0,695.2 739.0,695.0 740.0,694.9 741.0,694.8 742.0,694.8 743.0,694.8 744.0,694.8 745.0,694.9 746.0,694.9 747.0,694.9 748.0,694.9 749.0,694.9 750.0,694.9 751.0,694.9 752.0,695.0 753.0,695.3 754.0,695.6 755.0,695.8 756.0,695.9 757.0,695.9 758.0,695.9 759.0,695.8 760.0,695.7 761.0,695.6 762.0,695.6 763.0,695.5 764.0,695.5 765.0,695.5 766.0,695.4 767.0,695.4 768.0,695.4 769.0,695.5 770.0,695.5 771.0,695.7 772.0,696.0 773.0,696.4 774.0,696.8 775.0,697.2 776.0,697.6 777.0,697.9 778.0,698.1 779.0,698.3 780.0,698.4 781.0,698.4 782.0,698.4 783.0,698.3 784.0,698.1 785.0,697.9 786.0,697.7 787.0,697.4 788.0,697.0 789.0,696.7 790.0,696.4 791.0,696.1 792.0,695.9 793.0,695.6 794.0,695.4 795.0,695.1 796.0,694.9 797.0,694.7 798.0,694.4 799.0,694.2 800.0,693.9 801.0,693.7 802.0,693.5 803.0,693.3 804.0,693.2 805.0,693.0 806.0,692.9 807.0,692.7 808.0,692.6 809.0,692.4 810.0,692.2 811.0,692.1 812.0,691.9 813.0,691.7 814.0,691.5 815.0,691.3 816.0,691.0 817.0,690.8 818.0,690.5 819.0,690.2 820.0,689.9 821.0,689.6 822.0,689.3 823.0,689.0 824.0,688.8 825.0,688.7 826.0,688.7 827.0,688.7 828.0,688.7 829.0,688.7 830.0,688.7 831.0,688.6 832.0,688.6 833.0,688.6 834.0,688.6 835.0,688.6 836.0,688.5 837.0,688.4 838.0,688.3 839.0,688.0 840.0,687.8 841.0,687.6 842.0,687.3 843.0,687.1 844.0,686.8 845.0,686.6 846.0,686.3 847.0,686.0 848.0,685.7 849.0,685.5 850.0,685.2 851.0,685.0 852.0,684.8 853.0,684.6 854.0,684.4 855.0,684.1 856.0,683.8 857.0,683.4 858.0,682.9 859.0,682.4 860.0,681.9 861.0,681.4 862.0,680.8 863.0,680.3 864.0,679.8 865.0,679.3 866.0,678.8 867.0,678.3 868.0,677.9 869.0,677.5 870.0,677.0 871.0,676.6 872.0,676.1 873.0,675.6 874.0,675.2 875.0,674.7 876.0,674.3 877.0,673.9 878.0,673.5 879.0,673.1 880.0,672.7 881.0,672.4 882.0,672.1 883.0,671.9 884.0,671.8 885.0,671.6 886.0,671.5 887.0,671.4 888.0,671.3"/>
<polyline class="b" points="72.0,740.8 73.0,740.8 74.0,740.8 75.0,740.8 76.0,740.7 77.0,740.7 78.0,740.7 79.0,740.7 80.0,740.6 81.0,740.6 82.0,740.5 83.0,740.5 84.0,740.4 85.0,740.3 86.0,740.2 87.0,740.1 88.0,739.9 89.0,739.8 90.0,739.6 91.0,739.4 92.0,739.2 93.0,738.9 94.0,738.7 95.0,738.5 96.0,738.3 97.0,738.1 98.0,737.9 99.0,737.7 100.0,737.5 101.0,737.3 102.0,737.1 103.0,737.0 104.0,736.8 105.0,736.6 106.0,736.4 107.0,736.2 108.0,736.0 109.0,735.9 110.0,735.7 111.0,735.6 112.0,735.4 113.0,735.3 114.0,735.2 115.0,735.1 116.0,735.1 117.0,735.1 118.0,735.1 119.0,735.1 120.0,735.1 121.0,735.0 122.0,734.8 123.0,734.7 124.0,734.5 125.0,734.3 126.0,734.2 127.0,734.0 128.0,733.9 129.0,733.8 130.0,733.7 131.0,733.6 132.0,733.5 133.0,733.5 134.0,733.4 135.0,733.3 136.0,733.1 137.0,732.9 138.0,732.8 139.0,732.6 140.0,732.4 141.0,732.2 142.0,732.0 143.0,731.8 144.0,731.5 145.0,731.3 146.0,731.0 147.0,730.8 148.0,730.7 149.0,730.8 150.0,730.9 151.0,731.1 152.0,731.3 153.0,731.5 154.0,731.7 155.0,731.9 156.0,732.0 157.0,732.1 158.0,732.2 159.0,732.3 160.0,732.4 161.0,732.4 162.0,732.4 163.0,732.4 164.0,732.4 165.0,732.3 166.0,732.3 167.0,732.2 168.0,732.1 169.0,732.0 170.0,731.9 171.0,731.7 172.0,731.6 173.0,731.4 174.0,731.0 175.0,730.5 176.0,729.9 177.0,729.2 178.0,728.6 179.0,727.9 180.0,727.4 181.0,727.0 182.0,726.6 183.0,726.3 184.0,726.0 185.0,725.6 186.0,725.2 187.0,724.8 188.0,724.4 189.0,724.0 190.0,723.6 191.0,723.4 192.0,723.4 193.0,723.4 194.0,723.5 195.0,723.5 196.0,723.6 197.0,723.7 198.0,723.7 199.0,723.8 200.0,723.7 201.0,723.7 202.0,723.7 203.0,723.7 204.0,723.8 205.0,724.0 206.0,724.3 207.0,724.8 208.0,725.5 209.0,726.6 210.0,727.9 211.0,729.5 212.0,731.3 213.0,733.2 214.0,735.0 215.0,736.7 216.0,738.1 217.0,739.3 218.0,740.4 219.0,741.4 220.0,742.4 221.0,743.4 222.0,744.4 223.0,745.5 224.0,746.8 225.0,748.0 226.0,749.2 227.0,750.3 228.0,751.4 229.0,752.5 230.0,753.8 231.0,755.1 232.0,756.5 233.0,758.0 234.0,759.4 235.0,760.7 236.0,761.8 237.0,762.7 238.0,763.4 239.0,763.9 240.0,764.4 241.0,764.8 242.0,765.3 243.0,765.7 244.0,766.2 245.0,766.7 246.0,767.1 247.0,767.6 248.0,768.1 249.0,768.5 250.0,769.0 251.0,769.4 252.0,769.7 253.0,769.9 254.0,769.8 255.0,769.7 256.0,769.4 257.0,769.2 258.0,768.9 259.0,768.6 260.0,768.3 261.0,768.0 262.0,767.7 263.0,767.4 264.0,767.0 265.0,766.6 266.0,766.2 267.0,765.9 268.0,765.5 269.0,765.1 270.0,764.8 271.0,764.5 272.0,764.2 273.0,763.8 274.0,763.3 275.0,762.9 276.0,762.5 277.0,762.1 278.0,761.7 279.0,761.3 280.0,760.9 281.0,760.5 282.0,760.2 283.0,759.9 284.0,759.5 285.0,759.2 286.0,758.9 287.0,758.5 288.0,758.2 289.0,757.9 290.0,757.5 291.0,757.2 292.0,756.9 293.0,756.6 294.0,756.3 295.0,755.9 296.0,755.6 297.0,755.3 298.0,755.0 299.0,754.8 300.0,754.6 301.0,754.6 302.0,754.6 303.0,754.5 304.0,754.3 305.0,753.9 306.0,753.5 307.0,753.0 308.0,752.5 309.0,752.0 310.0,751.5 311.0,751.1 312.0,750.7 313.0,750.4 314.0,750.1 315.0,749.7 316.0,749.4 317.0,749.1 318.0,748.7 319.0,748.3 320.0,747.9 321.0,747.4 322.0,747.0 323.0,746.5 324.0,746.0 325.0,745.5 326.0,745.0 327.0,744.4 328.0,743.9 329.0,743.3 330.0,742.7 331.0,742.2 332.0,741.6 333.0,741.1 334.0,740.6 335.0,740.1 336.0,739.7 337.0,739.3 338.0,738.9 339.0,738.4 340.0,738.0 341.0,737.7 342.0,737.3 343.0,737.0 344.0,736.7 345.0,736.4 346.0,736.1 347.0,735.8 348.0,735.5 349.0,735.2 350.0,734.9 351.0,734.7 352.0,734.4 353.0,734.1 354.0,733.8 355.0,733.5 356.0,733.3 357.0,733.1 358.0,733.0 359.0,732.9 360.0,732.7 361.0,732.6 362.0,732.4 363.0,732.3 364.0,732.1 365.0,731.9 366.0,731.6 367.0,731.3 368.0,730.9 369.0,730.6 370.0,730.3 371.0,729.9 372.0,729.6 373.0,729.2 374.0,728.9 375.0,728.5 376.0,728.2 377.0,727.8 378.0,727.4 379.0,727.1 380.0,726.7 381.0,726.3 382.0,726.0 383.0,725.6 384.0,725.2 385.0,724.9 386.0,724.5 387.0,724.2 388.0,723.8 389.0,723.5 390.0,723.1 391.0,722.8 392.0,722.4 393.0,722.1 394.0,721.8 395.0,721.5 396.0,721.2 397.0,720.9 398.0,720.5 399.0,720.2 400.0,719.8 401.0,719.3 402.0,718.7 403.0,718.2 404.0,717.6 405.0,717.0 406.0,716.4 407.0,715.8 408.0,715.3 409.0,714.8 410.0,714.3 411.0,713.8 412.0,713.4 413.0,713.0 414.0,712.5 415.0,712.1 416.0,711.8 417.0,711.4 418.0,711.1 419.0,710.8 420.0,710.4 421.0,710.1 422.0,709.9 423.0,709.6 424.0,709.5 425.0,709.3 426.0,709.2 427.0,709.0 428.0,708.9 429.0,708.8 430.0,708.6 431.0,708.5 432.0,708.3 433.0,708.3 434.0,708.2 435.0,708.3 436.0,708.3 437.0,708.4 438.0,708.5 439.0,708.5 440.0,708.6 441.0,708.6 442.0,708.5 443.0,708.3 444.0,708.2 445.0,708.0 446.0,707.8 447.0,707.7 448.0,707.5 449.0,707.4 450.0,707.2 451.0,707.0 452.0,706.9 453.0,706.8 454.0,706.6 455.0,706.5 456.0,706.4 457.0,706.3 458.0,706.2 459.0,706.2 460.0,706.1 461.0,706.2 462.0,706.3 463.0,706.4 464.0,706.7 465.0,706.9 466.0,707.0 467.0,707.0 468.0,706.8 469.0,706.5 470.0,706.2 471.0,705.9 472.0,705.6 473.0,705.2 474.0,704.9 475.0,704.6 476.0,704.2 477.0,703.9 478.0,703.5 479.0,703.1 480.0,702.8 481.0,702.4 482.0,702.1 483.0,701.8 484.0,701.6 485.0,701.4 486.0,701.2 487.0,701.0 488.0,700.8 489.0,700.7 490.0,700.5 491.0,700.4 492.0,700.3 493.0,700.3 494.0,700.2 495.0,700.1 496.0,699.9 497.0,699.6 498.0,699.3 499.0,699.1 500.0,699.2 501.0,699.2 502.0,699.3 503.0,699.4 504.0,699.5 505.0,699.6 506.0,699.5 507.0,699.4 508.0,699.2 509.0,699.0 510.0,698.8 511.0,698.6 512.0,698.4 513.0,698.2 514.0,698.1 515.0,698.0 516.0,697.9 517.0,697.9 518.0,697.9 519.0,697.9 520.0,698.0 521.0,698.1 522.0,698.2 523.0,698.3 524.0,698.4 525.0,698.5 526.0,698.5 527.0,698.4 528.0,698.2 529.0,698.0 530.0,697.8 531.0,697.6 532.0,697.4 533.0,697.2 534.0,697.0 535.0,696.8 536.0,696.6 537.0,696.4 538.0,696.2 539.0,696.1 540.0,695.9 541.0,695.7 542.0,695.6 543.0,695.4 544.0,695.2 545.0,695.1 546.0,695.0 547.0,694.8 548.0,694.7 549.0,694.6 550.0,694.4 551.0,694.3 552.0,694.0 553.0,693.8 554.0,693.5 555.0,693.2 556.0,692.9 557.0,692.5 558.0,692.2 559.0,691.8 560.0,691.5 561.0,691.1 562.0,690.7 563.0,690.4 564.0,690.0 565.0,689.6 566.0,689.3 567.0,689.0 568.0,688.8 569.0,688.5 570.0,688.3 571.0,688.1 572.0,687.9 573.0,687.7 574.0,687.5 575.0,687.3 576.0,687.2 577.0,687.0 578.0,686.9 579.0,686.7 580.0,686.6 581.0,686.4 582.0,686.3 583.0,686.2 584.0,686.1 585.0,686.0 586.0,686.0 587.0,685.8 588.0,685.6 589.0,685.1 590.0,684.2 591.0,683.3 592.0,682.5 593.0,682.0 594.0,681.7 595.0,681.5 596.0,681.3 597.0,681.1 598.0,680.9 599.0,680.8 600.0,680.6 601.0,680.5 602.0,680.3 603.0,680.2 604.0,680.1 605.0,680.1 606.0,680.2 607.0,680.3 608.0,680.2 609.0,680.0 610.0,679.5 611.0,679.1 612.0,678.7 613.0,678.4 614.0,678.1 615.0,677.8 616.0,677.5 617.0,677.2 618.0,677.0 619.0,676.9 620.0,676.8 621.0,676.9 622.0,676.9 623.0,676.9 624.0,676.9 625.0,676.8 626.0,676.6 627.0,676.5 628.0,676.3 629.0,676.1 630.0,676.1 631.0,676.1 632.0,676.1 633.0,676.0 634.0,675.8 635.0,675.5 636.0,675.1 637.0,674.6 638.0,674.0 639.0,673.3 640.0,672.5 641.0,672.0 642.0,671.5 643.0,671.2 644.0,670.8 645.0,670.4 646.0,670.1 647.0,669.8 648.0,669.4 649.0,669.1 650.0,668.9 651.0,668.6 652.0,668.3 653.0,668.0 654.0,667.8 655.0,667.5 656.0,667.2 657.0,667.0 658.0,666.7 659.0,666.4 660.0,666.2 661.0,665.9 662.0,665.6 663.0,665.3 664.0,664.9 665.0,664.5 666.0,664.1 667.0,663.9 668.0,663.7 669.0,663.8 670.0,663.8 671.0,663.9 672.0,664.0 673.0,664.0 674.0,664.0 675.0,664.0 676.0,663.9 677.0,663.7 678.0,663.5 679.0,663.3 680.0,663.1 681.0,662.9 682.0,662.7 683.0,662.6 684.0,662.5 685.0,662.4 686.0,662.3 687.0,662.1 688.0,661.9 689.0,661.7 690.0,661.6 691.0,661.6 692.0,661.8 693.0,662.1 694.0,662.6 695.0,663.2 696.0,663.7 697.0,664.3 698.0,664.9 699.0,665.4 700.0,665.8 701.0,666.0 702.0,666.0 703.0,666.1 704.0,666.1 705.0,666.1 706.0,666.2 707.0,666.3 708.0,666.4 709.0,666.5 710.0,666.6 711.0,666.8 712.0,666.9 713.0,667.1 714.0,667.4 715.0,667.7 716.0,668.0 717.0,668.2 718.0,668.1 719.0,667.7 720.0,667.2 721.0,666.7 722.0,666.3 723.0,666.0 724.0,665.7 725.0,665.5 726.0,665.3 727.0,665.1 728.0,664.9 729.0,664.7 730.0,664.5 731.0,664.3 732.0,664.1 733.0,663.9 734.0,663.7 735.0,663.5 736.0,663.3 737.0,663.1 738.0,662.9 739.0,662.6 740.0,662.5 741.0,662.4 742.0,662.3 743.0,662.4 744.0,662.4 745.0,662.5 746.0,662.5 747.0,662.6 748.0,662.6 749.0,662.5 750.0,662.5 751.0,662.5 752.0,662.7 753.0,663.0 754.0,663.3 755.0,663.6 756.0,663.7 757.0,663.7 758.0,663.7 759.0,663.6 760.0,663.5 761.0,663.4 762.0,663.3 763.0,663.3 764.0,663.3 765.0,663.2 766.0,663.2 767.0,663.2 768.0,663.2 769.0,663.2 770.0,663.3 771.0,663.5 772.0,663.8 773.0,664.3 774.0,664.8 775.0,665.3 776.0,665.7 777.0,666.1 778.0,666.3 779.0,666.6 780.0,666.7 781.0,666.8 782.0,666.7 783.0,666.6 784.0,666.4 785.0,666.1 786.0,665.8 787.0,665.5 788.0,665.1 789.0,664.7 790.0,664.3 791.0,664.0 792.0,663.7 793.0,663.4 794.0,663.1 795.0,662.8 796.0,662.5 797.0,662.3 798.0,662.0 799.0,661.7 800.0,661.3 801.0,661.1 802.0,660.8 803.0,660.7 804.0,660.5 805.0,660.3 806.0,660.1 807.0,659.9 808.0,659.7 809.0,659.5 810.0,659.3 811.0,659.1 812.0,658.9 813.0,658.7 814.0,658.4 815.0,658.2 816.0,657.9 817.0,657.5 818.0,657.2 819.0,656.8 820.0,656.5 821.0,656.1 822.0,655.8 823.0,655.4 824.0,655.2 825.0,655.1 826.0,655.1 827.0,655.0 828.0,655.0 829.0,655.0 830.0,655.0 831.0,655.0 832.0,655.0 833.0,655.0 834.0,654.9 835.0,654.9 836.0,654.8 837.0,654.7 838.0,654.5 839.0,654.3 840.0,654.0 841.0,653.7 842.0,653.4 843.0,653.1 844.0,652.8 845.0,652.5 846.0,652.2 847.0,651.9 848.0,651.5 849.0,651.2 850.0,650.9 851.0,650.6 852.0,650.4 853.0,650.2 854.0,649.9 855.0,649.6 856.0,649.2 857.0,648.7 858.0,648.1 859.0,647.5 860.0,646.9 861.0,646.3 862.0,645.7 863.0,645.0 864.0,644.4 865.0,643.8 866.0,643.2 867.0,642.7 868.0,642.1 869.0,641.6 870.0,641.1 871.0,640.5 872.0,640.0 873.0,639.4 874.0,638.8 875.0,638.3 876.0,637.8 877.0,637.3 878.0,636.9 879.0,636.4 880.0,635.9 881.0,635.5 882.0,635.2 883.0,634.9 884.0,634.7 885.0,634.6 886.0,634.4 887.0,634.3 888.0,634.2"/>
<polyline class="b" points="72.0,721.5 73.0,721.5 74.0,721.5 75.0,721.4 76.0,721.4 77.0,721.4 78.0,721.3 79.0,721.3 80.0,721.3 81.0,721.2 82.0,721.2 83.0,721.1 84.0,721.0 85.0,720.9 86.0,720.7 87.0,720.6 88.0,720.4 89.0,720.2 90.0,720.0 91.0,719.8 92.0,719.5 93.0,719.3 94.0,719.1 95.0,718.8 96.0,718.6 97.0,718.3 98.0,718.1 99.0,717.9 100.0,717.6 101.0,717.4 102.0,717.2 103.0,717.0 104.0,716.8 105.0,716.5 106.0,716.3 107.0,716.1 108.0,715.9 109.0,715.7 110.0,715.6 111.0,715.4 112.0,715.2 113.0,715.0 114.0,714.9 115.0,714.8 116.0,714.8 117.0,714.8 118.0,714.8 119.0,714.8 120.0,714.8 121.0,714.6 122.0,714.5 123.0,714.3 124.0,714.1 125.0,713.9 126.0,713.7 127.0,713.6 128.0,713.4 129.0,713.3 130.0,713.2 131.0,713.1 132.0,713.0 133.0,712.9 134.0,712.8 135.0,712.7 136.0,712.5 137.0,712.3 138.0,712.1 139.0,711.9 140.0,711.7 141.0,711.5 142.0,711.2 143.0,711.0 144.0,710.7 145.0,710.4 146.0,710.1 147.0,709.8 148.0,709.7 149.0,709.8 150.0,709.9 151.0,710.2 152.0,710.4 153.0,710.7 154.0,710.9 155.0,711.0 156.0,711.2 157.0,711.3 158.0,711.4 159.0,711.6 160.0,711.6 161.0,711.7 162.0,711.7 163.0,711.7 164.0,711.6 165.0,711.6 166.0,711.5 167.0,711.5 168.0,711.4 169.0,711.2 170.0,711.1 171.0,710.9 172.0,710.7 173.0,710.5 174.0,710.1 175.0,709.5 176.0,708.8 177.0,708.0 178.0,707.2 179.0,706.5 180.0,705.9 181.0,705.4 182.0,704.9 183.0,704.6 184.0,704.2 185.0,703.8 186.0,703.3 187.0,702.8 188.0,702.3 189.0,701.8 190.0,701.4 191.0,701.2 192.0,701.1 193.0,701.1 194.0,701.2 195.0,701.3 196.0,701.4 197.0,701.5 198.0,701.6 199.0,701.6 200.0,701.6 201.0,701.5 202.0,701.5 203.0,701.5 204.0,701.6 205.0,701.9 206.0,702.2 207.0,702.8 208.0,703.6 209.0,704.8 210.0,706.4 211.0,708.3 212.0,710.4 213.0,712.6 214.0,714.7 215.0,716.7 216.0,718.3 217.0,719.7 218.0,721.0 219.0,722.2 220.0,723.3 221.0,724.5 222.0,725.7 223.0,727.0 224.0,728.4 225.0,729.9 226.0,731.3 227.0,732.6 228.0,733.8 229.0,735.1 230.0,736.6 231.0,738.1 232.0,739.8 233.0,741.5 234.0,743.1 235.0,744.7 236.0,746.0 237.0,747.1 238.0,747.9 239.0,748.5 240.0,749.0 241.0,749.5 242.0,750.0 243.0,750.5 244.0,751.1 245.0,751.6 246.0,752.2 247.0,752.8 248.0,753.3 249.0,753.8 250.0,754.3 251.0,754.8 252.0,755.2 253.0,755.4 254.0,755.3 255.0,755.1 256.0,754.9 257.0,754.6 258.0,754.3 259.0,753.9 260.0,753.6 261.0,753.2 262.0,752.8 263.0,752.5 264.0,752.0 265.0,751.6 266.0,751.1 267.0,750.7 268.0,750.3 269.0,749.9 270.0,749.5 271.0,749.1 272.0,748.7 273.0,748.2 274.0,747.8 275.0,747.3 276.0,746.8 277.0,746.3 278.0,745.8 279.0,745.4 280.0,744.9 281.0,744.5 282.0,744.1 283.0,743.7 284.0,743.3 285.0,742.9 286.0,742.5 287.0,742.1 288.0,741.7 289.0,741.4 290.0,741.0 291.0,740.6 292.0,740.2 293.0,739.9 294.0,739.5 295.0,739.1 296.0,738.8 297.0,738.4 298.0,738.1 299.0,737.8 300.0,737.6 301.0,737.5 302.0,737.5 303.0,737.5 304.0,737.2 305.0,736.8 306.0,736.2 307.0,735.7 308.0,735.1 309.0,734.5 310.0,734.0 311.0,733.5 312.0,733.1 313.0,732.7 314.0,732.3 315.0,731.9 316.0,731.5 317.0,731.1 318.0,730.7 319.0,730.2 320.0,729.7 321.0,729.2 322.0,728.6 323.0,728.1 324.0,727.5 325.0,727.0 326.0,726.3 327.0,725.7 328.0,725.1 329.0,724.4 330.0,723.7 331.0,723.0 332.0,722.4 333.0,721.8 334.0,721.2 335.0,720.7 336.0,720.2 337.0,719.7 338.0,719.2 339.0,718.7 340.0,718.2 341.0,717.8 342.0,717.4 343.0,717.0 344.0,716.7 345.0,716.3 346.0,716.0 347.0,715.7 348.0,715.3 349.0,715.0 350.0,714.6 351.0,714.3 352.0,713.9 353.0,713.6 354.0,713.3 355.0,713.0 356.0,712.7 357.0,712.5 358.0,712.4 359.0,712.2 360.0,712.0 361.0,711.9 362.0,711.7 363.0,711.5 364.0,711.3 365.0,711.1 366.0,710.7 367.0,710.4 368.0,710.0 369.0,709.6 370.0,709.2 371.0,708.8 372.0,708.4 373.0,708.0 374.0,707.6 375.0,707.1 376.0,706.7 377.0,706.3 378.0,705.9 379.0,705.4 380.0,705.0 381.0,704.6 382.0,704.1 383.0,703.7 384.0,703.3 385.0,702.9 386.0,702.5 387.0,702.0 388.0,701.6 389.0,701.2 390.0,700.8 391.0,700.4 392.0,700.0 393.0,699.6 394.0,699.3 395.0,698.9 396.0,698.6 397.0,698.2 398.0,697.8 399.0,697.4 400.0,696.9 401.0,696.4 402.0,695.7 403.0,695.0 404.0,694.4 405.0,693.7 406.0,693.0 407.0,692.3 408.0,691.7 409.0,691.1 410.0,690.5 411.0,690.0 412.0,689.5 413.0,689.0 414.0,688.5 415.0,688.0 416.0,687.6 417.0,687.2 418.0,686.8 419.0,686.4 420.0,686.1 421.0,685.7 422.0,685.4 423.0,685.1 424.0,684.9 425.0,684.7 426.0,684.6 427.0,684.4 428.0,684.2 429.0,684.1 430.0,683.9 431.0,683.7 432.0,683.6 433.0,683.5 434.0,683.5 435.0,683.5 436.0,683.6 437.0,683.7 438.0,683.7 439.0,683.8 440.0,683.9 441.0,683.8 442.0,683.7 443.0,683.6 444.0,683.4 445.0,683.2 446.0,683.0 447.0,682.8 448.0,682.6 449.0,682.5 450.0,682.3 451.0,682.1 452.0,681.9 453.0,681.7 454.0,681.6 455.0,681.4 456.0,681.3 457.0,681.2 458.0,681.1 459.0,681.1 460.0,681.0 461.0,681.0 462.0,681.2 463.0,681.4 464.0,681.6 465.0,681.9 466.0,682.0 467.0,682.0 468.0,681.8 469.0,681.4 470.0,681.0 471.0,680.7 472.0,680.3 473.0,680.0 474.0,679.6 475.0,679.2 476.0,678.8 477.0,678.4 478.0,677.9 479.0,677.5 480.0,677.1 481.0,676.7 482.0,676.3 483.0,676.0 484.0,675.7 485.0,675.5 486.0,675.3 487.0,675.0 488.0,674.8 489.0,674.6 490.0,674.5 491.0,674.3 492.0,674.2 493.0,674.2 494.0,674.2 495.0,674.0 496.0,673.8 497.0,673.3 498.0,673.0 499.0,672.8 500.0,672.9 501.0,673.0 502.0,673.1 503.0,673.2 504.0,673.3 505.0,673.3 506.0,673.3 507.0,673.1 508.0,673.0 509.0,672.7 510.0,672.5 511.0,672.3 512.0,672.0 513.0,671.8 514.0,671.6 515.0,671.5 516.0,671.4 517.0,671.4 518.0,671.4 519.0,671.4 520.0,671.5 521.0,671.6 522.0,671.7 523.0,671.9 524.0,672.0 525.0,672.1 526.0,672.1 527.0,672.0 528.0,671.8 529.0,671.5 530.0,671.3 531.0,671.0 532.0,670.8 533.0,670.6 534.0,670.3 535.0,670.1 536.0,669.9 537.0,669.7 538.0,669.5 539.0,669.3 540.0,669.1 541.0,668.9 542.0,668.7 543.0,668.5 544.0,668.3 545.0,668.1 546.0,668.0 547.0,667.8 548.0,667.7 549.0,667.5 550.0,667.4 551.0,667.2 552.0,666.9 553.0,666.6 554.0,666.3 555.0,665.9 556.0,665.5 557.0,665.1 558.0,664.7 559.0,664.3 560.0,663.9 561.0,663.5 562.0,663.1 563.0,662.6 564.0,662.2 565.0,661.8 566.0,661.4 567.0,661.0 568.0,660.7 569.0,660.5 570.0,660.2 571.0,660.0 572.0,659.7 573.0,659.5 574.0,659.3 575.0,659.1 576.0,658.9 577.0,658.7 578.0,658.5 579.0,658.4 580.0,658.2 581.0,658.0 582.0,657.9 583.0,657.8 584.0,657.7 585.0,657.6 586.0,657.5 587.0,657.4 588.0,657.1 589.0,656.5 590.0,655.5 591.0,654.4 592.0,653.5 593.0,652.9 594.0,652.5 595.0,652.3 596.0,652.1 597.0,651.8 598.0,651.6 599.0,651.4 600.0,651.2 601.0,651.1 602.0,650.9 603.0,650.8 604.0,650.6 605.0,650.6 606.0,650.8 607.0,650.9 608.0,650.8 609.0,650.5 610.0,650.0 611.0,649.5 612.0,649.0 613.0,648.7 614.0,648.3 615.0,647.9 616.0,647.6 617.0,647.2 618.0,647.0 619.0,646.9 620.0,646.8 621.0,646.9 622.0,646.9 623.0,647.0 624.0,646.9 625.0,646.8 626.0,646.6 627.0,646.4 628.0,646.2 629.0,646.0 630.0,645.9 631.0,645.9 632.0,646.0 633.0,645.9 634.0,645.6 635.0,645.3 636.0,644.8 637.0,644.3 638.0,643.5 639.0,642.7 640.0,641.8 641.0,641.2 642.0,640.7 643.0,640.2 644.0,639.8 645.0,639.4 646.0,639.0 647.0,638.6 648.0,638.2 649.0,637.9 650.0,637.5 651.0,637.2 652.0,636.9 653.0,636.6 654.0,636.3 655.0,635.9 656.0,635.6 657.0,635.3 658.0,635.0 659.0,634.7 660.0,634.4 661.0,634.1 662.0,633.7 663.0,633.4 664.0,632.9 665.0,632.5 666.0,632.0 667.0,631.7 668.0,631.6 669.0,631.6 670.0,631.7 671.0,631.7 672.0,631.8 673.0,631.9 674.0,631.9 675.0,631.9 676.0,631.7 677.0,631.5 678.0,631.3 679.0,631.0 680.0,630.8 681.0,630.5 682.0,630.4 683.0,630.2 684.0,630.1 685.0,630.0 686.0,629.8 687.0,629.7 688.0,629.4 689.0,629.2 690.0,629.0 691.0,629.0 692.0,629.2 693.0,629.7 694.0,630.2 695.0,630.9 696.0,631.6 697.0,632.2 698.0,632.9 699.0,633.5 700.0,633.9 701.0,634.1 702.0,634.2 703.0,634.3 704.0,634.3 705.0,634.4 706.0,634.4 707.0,634.5 708.0,634.6 709.0,634.8 710.0,634.9 711.0,635.1 712.0,635.3 713.0,635.5 714.0,635.8 715.0,636.2 716.0,636.5 717.0,636.7 718.0,636.6 719.0,636.2 720.0,635.6 721.0,635.1 722.0,634.6 723.0,634.2 724.0,633.9 725.0,633.6 726.0,633.4 727.0,633.1 728.0,632.9 729.0,632.7 730.0,632.5 731.0,632.2 732.0,632.0 733.0,631.8 734.0,631.5 735.0,631.3 736.0,631.1 737.0,630.8 738.0,630.5 739.0,630.3 740.0,630.1 741.0,630.0 742.0,629.9 743.0,630.0 744.0,630.0 745.0,630.1 746.0,630.1 747.0,630.2 748.0,630.2 749.0,630.2 750.0,630.1 751.0,630.2 752.0,630.3 753.0,630.7 754.0,631.0 755.0,631.4 756.0,631.5 757.0,631.5 758.0,631.5 759.0,631.4 760.0,631.2 761.0,631.2 762.0,631.1 763.0,631.0 764.0,631.0 765.0,630.9 766.0,630.9 767.0,630.9 768.0,630.9 769.0,630.9 770.0,631.0 771.0,631.2 772.0,631.7 773.0,632.2 774.0,632.8 775.0,633.4 776.0,633.9 777.0,634.3 778.0,634.6 779.0,634.8 780.0,635.0 781.0,635.1 782.0,635.0 783.0,634.9 784.0,634.6 785.0,634.3 786.0,634.0 787.0,633.6 788.0,633.1 789.0,632.7 790.0,632.3 791.0,631.9 792.0,631.5 793.0,631.1 794.0,630.8 795.0,630.5 796.0,630.2 797.0,629.8 798.0,629.5 799.0,629.1 800.0,628.8 801.0,628.5 802.0,628.2 803.0,628.0 804.0,627.7 805.0,627.5 806.0,627.3 807.0,627.1 808.0,626.9 809.0,626.7 810.0,626.4 811.0,626.2 812.0,625.9 813.0,625.6 814.0,625.4 815.0,625.0 816.0,624.7 817.0,624.3 818.0,623.9 819.0,623.5 820.0,623.1 821.0,622.7 822.0,622.2 823.0,621.9 824.0,621.6 825.0,621.5 826.0,621.4 827.0,621.4 828.0,621.4 829.0,621.4 830.0,621.4 831.0,621.4 832.0,621.4 833.0,621.3 834.0,621.3 835.0,621.3 836.0,621.2 837.0,621.1 838.0,620.8 839.0,620.5 840.0,620.2 841.0,619.9 842.0,619.5 843.0,619.2 844.0,618.8 845.0,618.5 846.0,618.1 847.0,617.7 848.0,617.3 849.0,616.9 850.0,616.6 851.0,616.3 852.0,616.0 853.0,615.7 854.0,615.4 855.0,615.1 856.0,614.6 857.0,614.0 858.0,613.3 859.0,612.6 860.0,611.9 861.0,611.2 862.0,610.5 863.0,609.7 864.0,609.0 865.0,608.3 866.0,607.6 867.0,607.0 868.0,606.3 869.0,605.7 870.0,605.1 871.0,604.5 872.0,603.8 873.0,603.2 874.0,602.5 875.0,601.9 876.0,601.3 877.0,600.8 878.0,600.2 879.0,599.7 880.0,599.1 881.0,598.6 882.0,598.2 883.0,597.9 884.0,597.7 885.0,597.6 886.0,597.4 887.0,597.2 888.0,597.1"/>
<polyline class="b" points="72.0,702.2 73.0,702.2 74.0,702.1 75.0,702.1 76.0,702.1 77.0,702.0 78.0,702.0 79.0,701.9 80.0,701.9 81.0,701.9 82.0,701.8 83.0,701.7 84.0,701.6 85.0,701.4 86.0,701.3 87.0,701.1 88.0,700.9 89.0,700.7 90.0,700.5 91.0,700.2 92.0,699.9 93.0,699.7 94.0,699.4 95.0,699.1 96.0,698.8 97.0,698.5 98.0,698.3 99.0,698.0 100.0,697.8 101.0,697.5 102.0,697.3 103.0,697.0 104.0,696.7 105.0,696.5 106.0,696.2 107.0,696.0 108.0,695.8 109.0,695.6 110.0,695.4 111.0,695.2 112.0,695.0 113.0,694.8 114.0,694.6 115.0,694.5 116.0,694.5 117.0,694.5 118.0,694.5 119.0,694.5 120.0,694.5 121.0,694.3 122.0,694.1 123.0,693.9 124.0,693.7 125.0,693.5 126.0,693.3 127.0,693.1 128.0,692.9 129.0,692.8 130.0,692.7 131.0,692.6 132.0,692.5 133.0,692.3 134.0,692.2 135.0,692.1 136.0,691.9 137.0,691.7 138.0,691.4 139.0,691.2 140.0,690.9 141.0,690.7 142.0,690.4 143.0,690.1 144.0,689.8 145.0,689.4 146.0,689.1 147.0,688.8 148.0,688.7 149.0,688.8 150.0,689.0 151.0,689.2 152.0,689.5 153.0,689.8 154.0,690.0 155.0,690.2 156.0,690.4 157.0,690.5 158.0,690.7 159.0,690.8 160.0,690.9 161.0,691.0 162.0,691.0 163.0,690.9 164.0,690.9 165.0,690.8 166.0,690.8 167.0,690.7 168.0,690.6 169.0,690.4 170.0,690.2 171.0,690.0 172.0,689.8 173.0,689.5 174.0,689.1 175.0,688.4 176.0,687.6 177.0,686.7 178.0,685.8 179.0,685.0 180.0,684.3 181.0,683.7 182.0,683.2 183.0,682.8 184.0,682.4 185.0,681.9 186.0,681.4 187.0,680.8 188.0,680.2 189.0,679.7 190.0,679.2 191.0,678.9 192.0,678.9 193.0,678.9 194.0,679.0 195.0,679.1 196.0,679.2 197.0,679.3 198.0,679.4 199.0,679.4 200.0,679.4 201.0,679.3 202.0,679.3 203.0,679.3 204.0,679.4 205.0,679.7 206.0,680.1 207.0,680.8 208.0,681.7 209.0,683.1 210.0,684.9 211.0,687.1 212.0,689.4 213.0,692.0 214.0,694.4 215.0,696.6 216.0,698.5 217.0,700.1 218.0,701.6 219.0,703.0 220.0,704.3 221.0,705.6 222.0,706.9 223.0,708.4 224.0,710.1 225.0,711.7 226.0,713.3 227.0,714.8 228.0,716.2 229.0,717.8 230.0,719.4 231.0,721.2 232.0,723.1 233.0,725.0 234.0,726.9 235.0,728.6 236.0,730.1 237.0,731.4 238.0,732.3 239.0,733.0 240.0,733.6 241.0,734.2 242.0,734.7 243.0,735.3 244.0,736.0 245.0,736.6 246.0,737.3 247.0,737.9 248.0,738.5 249.0,739.1 250.0,739.7 251.0,740.2 252.0,740.6 253.0,740.9 254.0,740.8 255.0,740.6 256.0,740.3 257.0,740.0 258.0,739.6 259.0,739.2 260.0,738.8 261.0,738.4 262.0,738.0 263.0,737.5 264.0,737.1 265.0,736.6 266.0,736.1 267.0,735.5 268.0,735.0 269.0,734.6 270.0,734.2 271.0,733.7 272.0,733.3 273.0,732.7 274.0,732.2 275.0,731.6 276.0,731.1 277.0,730.5 278.0,730.0 279.0,729.4 280.0,728.9 281.0,728.5 282.0,728.0 283.0,727.6 284.0,727.1 285.0,726.7 286.0,726.2 287.0,725.8 288.0,725.3 289.0,724.9 290.0,724.4 291.0,724.0 292.0,723.6 293.0,723.2 294.0,722.7 295.0,722.3 296.0,721.9 297.0,721.5 298.0,721.1 299.0,720.8 300.0,720.5 301.0,720.5 302.0,720.5 303.0,720.4 304.0,720.1 305.0,719.6 306.0,719.0 307.0,718.4 308.0,717.7 309.0,717.1 310.0,716.5 311.0,715.9 312.0,715.4 313.0,714.9 314.0,714.5 315.0,714.0 316.0,713.6 317.0,713.1 318.0,712.7 319.0,712.2 320.0,711.6 321.0,711.0 322.0,710.3 323.0,709.7 324.0,709.1 325.0,708.4 326.0,707.7 327.0,707.0 328.0,706.2 329.0,705.5 330.0,704.7 331.0,703.9 332.0,703.2 333.0,702.5 334.0,701.8 335.0,701.2 336.0,700.7 337.0,700.1 338.0,699.5 339.0,699.0 340.0,698.4 341.0,697.9 342.0,697.5 343.0,697.1 344.0,696.7 345.0,696.3 346.0,695.9 347.0,695.5 348.0,695.1 349.0,694.7 350.0,694.3 351.0,693.9 352.0,693.5 353.0,693.2 354.0,692.8 355.0,692.4 356.0,692.2 357.0,691.9 358.0,691.7 359.0,691.5 360.0,691.4 361.0,691.2 362.0,691.0 363.0,690.8 364.0,690.6 365.0,690.3 366.0,689.9 367.0,689.4 368.0,689.0 369.0,688.5 370.0,688.1 371.0,687.6 372.0,687.2 373.0,686.7 374.0,686.2 375.0,685.8 376.0,685.3 377.0,684.8 378.0,684.3 379.0,683.8 380.0,683.3 381.0,682.8 382.0,682.3 383.0,681.8 384.0,681.4 385.0,680.9 386.0,680.4 387.0,679.9 388.0,679.5 389.0,679.0 390.0,678.5 391.0,678.1 392.0,677.6 393.0,677.2 394.0,676.8 395.0,676.4 396.0,676.0 397.0,675.5 398.0,675.1 399.0,674.6 400.0,674.1 401.0,673.4 402.0,672.7 403.0,671.9 404.0,671.2 405.0,670.4 406.0,669.6 407.0,668.8 408.0,668.1 409.0,667.4 410.0,666.8 411.0,666.2 412.0,665.6 413.0,665.0 414.0,664.4 415.0,663.9 416.0,663.4 417.0,663.0 418.0,662.5 419.0,662.1 420.0,661.7 421.0,661.2 422.0,660.9 423.0,660.6 424.0,660.3 425.0,660.1 426.0,660.0 427.0,659.8 428.0,659.6 429.0,659.4 430.0,659.2 431.0,659.0 432.0,658.9 433.0,658.7 434.0,658.7 435.0,658.7 436.0,658.8 437.0,658.9 438.0,659.0 439.0,659.1 440.0,659.2 441.0,659.1 442.0,659.0 443.0,658.8 444.0,658.6 445.0,658.4 446.0,658.2 447.0,658.0 448.0,657.8 449.0,657.5 450.0,657.3 451.0,657.1 452.0,656.9 453.0,656.7 454.0,656.6 455.0,656.4 456.0,656.3 457.0,656.1 458.0,656.1 459.0,656.0 460.0,655.9 461.0,655.9 462.0,656.1 463.0,656.3 464.0,656.6 465.0,656.9 466.0,657.1 467.0,657.0 468.0,656.8 469.0,656.4 470.0,655.9 471.0,655.5 472.0,655.1 473.0,654.7 474.0,654.3 475.0,653.8 476.0,653.4 477.0,652.9 478.0,652.4 479.0,651.9 480.0,651.4 481.0,650.9 482.0,650.5 483.0,650.1 484.0,649.8 485.0,649.6 486.0,649.3 487.0,649.1 488.0,648.8 489.0,648.6 490.0,648.4 491.0,648.3 492.0,648.2 493.0,648.1 494.0,648.1 495.0,647.9 496.0,647.6 497.0,647.1 498.0,646.7 499.0,646.6 500.0,646.6 501.0,646.7 502.0,646.9 503.0,647.0 504.0,647.1 505.0,647.1 506.0,647.1 507.0,646.9 508.0,646.7 509.0,646.4 510.0,646.2 511.0,645.9 512.0,645.6 513.0,645.4 514.0,645.2 515.0,645.0 516.0,644.9 517.0,644.9 518.0,644.9 519.0,645.0 520.0,645.0 521.0,645.2 522.0,645.3 523.0,645.5 524.0,645.6 525.0,645.7 526.0,645.7 527.0,645.6 528.0,645.3 529.0,645.0 530.0,644.8 531.0,644.5 532.0,644.2 533.0,643.9 534.0,643.7 535.0,643.4 536.0,643.2 537.0,643.0 538.0,642.7 539.0,642.5 540.0,642.3 541.0,642.0 542.0,641.8 543.0,641.6 544.0,641.4 545.0,641.2 546.0,641.0 547.0,640.8 548.0,640.7 549.0,640.5 550.0,640.3 551.0,640.1 552.0,639.8 553.0,639.4 554.0,639.0 555.0,638.6 556.0,638.2 557.0,637.8 558.0,637.3 559.0,636.8 560.0,636.4 561.0,635.9 562.0,635.4 563.0,634.9 564.0,634.4 565.0,633.9 566.0,633.5 567.0,633.1 568.0,632.7 569.0,632.4 570.0,632.2 571.0,631.9 572.0,631.6 573.0,631.3 574.0,631.1 575.0,630.8 576.0,630.6 577.0,630.4 578.0,630.2 579.0,630.0 580.0,629.8 581.0,629.6 582.0,629.5 583.0,629.4 584.0,629.2 585.0,629.1 586.0,629.0 587.0,628.9 588.0,628.5 589.0,627.8 590.0,626.7 591.0,625.5 592.0,624.4 593.0,623.8 594.0,623.4 595.0,623.1 596.0,622.8 597.0,622.6 598.0,622.3 599.0,622.1 600.0,621.9 601.0,621.7 602.0,621.5 603.0,621.3 604.0,621.2 605.0,621.2 606.0,621.3 607.0,621.5 608.0,621.4 609.0,621.0 610.0,620.4 611.0,619.9 612.0,619.4 613.0,618.9 614.0,618.5 615.0,618.1 616.0,617.7 617.0,617.3 618.0,617.0 619.0,616.9 620.0,616.8 621.0,616.9 622.0,616.9 623.0,617.0 624.0,616.9 625.0,616.8 626.0,616.6 627.0,616.3 628.0,616.1 629.0,615.9 630.0,615.8 631.0,615.8 632.0,615.8 633.0,615.7 634.0,615.5 635.0,615.0 636.0,614.5 637.0,613.9 638.0,613.1 639.0,612.1 640.0,611.1 641.0,610.3 642.0,609.8 643.0,609.3 644.0,608.8 645.0,608.3 646.0,607.9 647.0,607.4 648.0,607.0 649.0,606.6 650.0,606.2 651.0,605.8 652.0,605.5 653.0,605.1 654.0,604.7 655.0,604.4 656.0,604.0 657.0,603.7 658.0,603.3 659.0,603.0 660.0,602.6 661.0,602.3 662.0,601.9 663.0,601.5 664.0,601.0 665.0,600.4 666.0,599.9 667.0,599.5 668.0,599.4 669.0,599.4 670.0,599.5 671.0,599.6 672.0,599.7 673.0,599.7 674.0,599.7 675.0,599.7 676.0,599.6 677.0,599.4 678.0,599.1 679.0,598.8 680.0,598.5 681.0,598.2 682.0,598.0 683.0,597.9 684.0,597.7 685.0,597.6 686.0,597.4 687.0,597.2 688.0,597.0 689.0,596.7 690.0,596.5 691.0,596.5 692.0,596.7 693.0,597.2 694.0,597.9 695.0,598.6 696.0,599.4 697.0,600.2 698.0,600.9 699.0,601.6 700.0,602.1 701.0,602.3 702.0,602.4 703.0,602.5 704.0,602.5 705.0,602.6 706.0,602.6 707.0,602.7 708.0,602.9 709.0,603.0 710.0,603.2 711.0,603.4 712.0,603.6 713.0,603.9 714.0,604.2 715.0,604.7 716.0,605.1 717.0,605.3 718.0,605.2 719.0,604.7 720.0,604.0 721.0,603.4 722.0,602.8 723.0,602.4 724.0,602.0 725.0,601.7 726.0,601.5 727.0,601.2 728.0,600.9 729.0,600.7 730.0,600.4 731.0,600.1 732.0,599.9 733.0,599.6 734.0,599.4 735.0,599.1 736.0,598.8 737.0,598.5 738.0,598.2 739.0,597.9 740.0,597.7 741.0,597.5 742.0,597.5 743.0,597.6 744.0,597.6 745.0,597.7 746.0,597.7 747.0,597.8 748.0,597.8 749.0,597.8 750.0,597.8 751.0,597.8 752.0,598.0 753.0,598.3 754.0,598.8 755.0,599.2 756.0,599.4 757.0,599.4 758.0,599.3 759.0,599.1 760.0,599.0 761.0,598.9 762.0,598.8 763.0,598.8 764.0,598.7 765.0,598.7 766.0,598.6 767.0,598.6 768.0,598.6 769.0,598.6 770.0,598.8 771.0,599.0 772.0,599.5 773.0,600.1 774.0,600.8 775.0,601.5 776.0,602.0 777.0,602.5 778.0,602.8 779.0,603.1 780.0,603.4 781.0,603.4 782.0,603.3 783.0,603.1 784.0,602.9 785.0,602.6 786.0,602.2 787.0,601.7 788.0,601.2 789.0,600.7 790.0,600.2 791.0,599.7 792.0,599.3 793.0,598.9 794.0,598.5 795.0,598.1 796.0,597.8 797.0,597.4 798.0,597.0 799.0,596.6 800.0,596.2 801.0,595.8 802.0,595.5 803.0,595.3 804.0,595.0 805.0,594.8 806.0,594.5 807.0,594.3 808.0,594.0 809.0,593.8 810.0,593.5 811.0,593.2 812.0,592.9 813.0,592.6 814.0,592.3 815.0,591.9 816.0,591.5 817.0,591.1 818.0,590.7 819.0,590.2 820.0,589.7 821.0,589.2 822.0,588.7 823.0,588.3 824.0,588.0 825.0,587.9 826.0,587.8 827.0,587.8 828.0,587.8 829.0,587.8 830.0,587.8 831.0,587.7 832.0,587.7 833.0,587.7 834.0,587.7 835.0,587.6 836.0,587.5 837.0,587.4 838.0,587.1 839.0,586.8 840.0,586.4 841.0,586.0 842.0,585.6 843.0,585.2 844.0,584.8 845.0,584.4 846.0,584.0 847.0,583.5 848.0,583.1 849.0,582.7 850.0,582.3 851.0,581.9 852.0,581.6 853.0,581.3 854.0,580.9 855.0,580.5 856.0,580.0 857.0,579.3 858.0,578.5 859.0,577.7 860.0,576.9 861.0,576.1 862.0,575.3 863.0,574.5 864.0,573.6 865.0,572.8 866.0,572.0 867.0,571.3 868.0,570.5 869.0,569.8 870.0,569.1 871.0,568.4 872.0,567.7 873.0,566.9 874.0,566.2 875.0,565.5 876.0,564.8 877.0,564.2 878.0,563.5 879.0,562.9 880.0,562.3 881.0,561.7 882.0,561.3 883.0,561.0 884.0,560.7 885.0,560.5 886.0,560.3 887.0,560.1 888.0,560.0"/>
<polyline class="b" points="72.0,682.8 73.0,682.8 74.0,682.8 75.0,682.7 76.0,682.7 77.0,682.7 78.0,682.6 79.0,682.6 80.0,682.5 81.0,682.5 82.0,682.4 83.0,682.3 84.0,682.2 85.0,682.0 86.0,681.9 87.0,681.7 88.0,681.5 89.0,681.2 90.0,680.9 91.0,680.6 92.0,680.3 93.0,680.0 94.0,679.7 95.0,679.4 96.0,679.1 97.0,678.8 98.0,678.5 99.0,678.2 100.0,677.9 101.0,677.6 102.0,677.3 103.0,677.0 104.0,676.7 105.0,676.5 106.0,676.2 107.0,675.9 108.0,675.7 109.0,675.4 110.0,675.2 111.0,675.0 112.0,674.8 113.0,674.5 114.0,674.4 115.0,674.3 116.0,674.2 117.0,674.2 118.0,674.2 119.0,674.2 120.0,674.2 121.0,674.0 122.0,673.8 123.0,673.6 124.0,673.3 125.0,673.1 126.0,672.8 127.0,672.6 128.0,672.4 129.0,672.3 130.0,672.2 131.0,672.0 132.0,671.9 133.0,671.8 134.0,671.7 135.0,671.5 136.0,671.3 137.0,671.0 138.0,670.7 139.0,670.5 140.0,670.2 141.0,669.9 142.0,669.6 143.0,669.3 144.0,668.9 145.0,668.5 146.0,668.1 147.0,667.8 148.0,667.7 149.0,667.8 150.0,668.0 151.0,668.3 152.0,668.6 153.0,668.9 154.0,669.1 155.0,669.4 156.0,669.6 157.0,669.8 158.0,669.9 159.0,670.0 160.0,670.2 161.0,670.2 162.0,670.2 163.0,670.2 164.0,670.1 165.0,670.1 166.0,670.0 167.0,669.9 168.0,669.8 169.0,669.6 170.0,669.4 171.0,669.2 172.0,669.0 173.0,668.6 174.0,668.1 175.0,667.4 176.0,666.4 177.0,665.4 178.0,664.4 179.0,663.5 180.0,662.7 181.0,662.1 182.0,661.5 183.0,661.1 184.0,660.6 185.0,660.0 186.0,659.4 187.0,658.8 188.0,658.1 189.0,657.5 190.0,657.0 191.0,656.7 192.0,656.6 193.0,656.7 194.0,656.8 195.0,656.9 196.0,657.0 197.0,657.1 198.0,657.2 199.0,657.2 200.0,657.2 201.0,657.1 202.0,657.1 203.0,657.1 204.0,657.3 205.0,657.6 206.0,658.0 207.0,658.8 208.0,659.9 209.0,661.4 210.0,663.4 211.0,665.8 212.0,668.5 213.0,671.4 214.0,674.1 215.0,676.6 216.0,678.7 217.0,680.5 218.0,682.2 219.0,683.7 220.0,685.2 221.0,686.6 222.0,688.2 223.0,689.9 224.0,691.7 225.0,693.6 226.0,695.4 227.0,697.1 228.0,698.7 229.0,700.4 230.0,702.2 231.0,704.2 232.0,706.4 233.0,708.5 234.0,710.7 235.0,712.6 236.0,714.3 237.0,715.7 238.0,716.7 239.0,717.5 240.0,718.2 241.0,718.8 242.0,719.5 243.0,720.1 244.0,720.9 245.0,721.6 246.0,722.3 247.0,723.0 248.0,723.7 249.0,724.4 250.0,725.0 251.0,725.6 252.0,726.1 253.0,726.4 254.0,726.3 255.0,726.1 256.0,725.7 257.0,725.4 258.0,725.0 259.0,724.5 260.0,724.1 261.0,723.6 262.0,723.1 263.0,722.6 264.0,722.1 265.0,721.5 266.0,721.0 267.0,720.4 268.0,719.8 269.0,719.3 270.0,718.8 271.0,718.4 272.0,717.8 273.0,717.2 274.0,716.6 275.0,716.0 276.0,715.4 277.0,714.7 278.0,714.1 279.0,713.5 280.0,713.0 281.0,712.4 282.0,711.9 283.0,711.4 284.0,710.9 285.0,710.4 286.0,709.9 287.0,709.4 288.0,708.9 289.0,708.4 290.0,707.9 291.0,707.4 292.0,706.9 293.0,706.4 294.0,706.0 295.0,705.5 296.0,705.0 297.0,704.6 298.0,704.1 299.0,703.8 300.0,703.5 301.0,703.4 302.0,703.4 303.0,703.3 304.0,703.0 305.0,702.5 306.0,701.8 307.0,701.1 308.0,700.3 309.0,699.6 310.0,698.9 311.0,698.3 312.0,697.7 313.0,697.2 314.0,696.7 315.0,696.2 316.0,695.7 317.0,695.2 318.0,694.6 319.0,694.1 320.0,693.4 321.0,692.7 322.0,692.0 323.0,691.3 324.0,690.6 325.0,689.8 326.0,689.1 327.0,688.3 328.0,687.4 329.0,686.5 330.0,685.7 331.0,684.8 332.0,684.0 333.0,683.2 334.0,682.5 335.0,681.8 336.0,681.2 337.0,680.5 338.0,679.9 339.0,679.2 340.0,678.6 341.0,678.1 342.0,677.6 343.0,677.1 344.0,676.6 345.0,676.2 346.0,675.8 347.0,675.3 348.0,674.9 349.0,674.4 350.0,674.0 351.0,673.6 352.0,673.1 353.0,672.7 354.0,672.3 355.0,671.9 356.0,671.6 357.0,671.3 358.0,671.1 359.0,670.9 360.0,670.7 361.0,670.5 362.0,670.3 363.0,670.0 364.0,669.8 365.0,669.4 366.0,669.0 367.0,668.5 368.0,668.0 369.0,667.5 370.0,667.0 371.0,666.5 372.0,666.0 373.0,665.4 374.0,664.9 375.0,664.4 376.0,663.8 377.0,663.3 378.0,662.7 379.0,662.2 380.0,661.6 381.0,661.1 382.0,660.5 383.0,660.0 384.0,659.4 385.0,658.9 386.0,658.3 387.0,657.8 388.0,657.3 389.0,656.8 390.0,656.3 391.0,655.7 392.0,655.2 393.0,654.7 394.0,654.3 395.0,653.8 396.0,653.4 397.0,652.9 398.0,652.4 399.0,651.9 400.0,651.2 401.0,650.5 402.0,649.7 403.0,648.8 404.0,648.0 405.0,647.1 406.0,646.2 407.0,645.3 408.0,644.5 409.0,643.8 410.0,643.0 411.0,642.3 412.0,641.7 413.0,641.0 414.0,640.4 415.0,639.8 416.0,639.3 417.0,638.8 418.0,638.3 419.0,637.8 420.0,637.3 421.0,636.8 422.0,636.4 423.0,636.0 424.0,635.8 425.0,635.6 426.0,635.3 427.0,635.1 428.0,634.9 429.0,634.7 430.0,634.5 431.0,634.3 432.0,634.1 433.0,634.0 434.0,633.9 435.0,634.0 436.0,634.1 437.0,634.2 438.0,634.3 439.0,634.4 440.0,634.4 441.0,634.4 442.0,634.3 443.0,634.1 444.0,633.8 445.0,633.6 446.0,633.4 447.0,633.1 448.0,632.9 449.0,632.6 450.0,632.4 451.0,632.2 452.0,631.9 453.0,631.7 454.0,631.5 455.0,631.3 456.0,631.2 457.0,631.1 458.0,631.0 459.0,630.9 460.0,630.8 461.0,630.8 462.0,631.0 463.0,631.2 464.0,631.6 465.0,631.9 466.0,632.1 467.0,632.1 468.0,631.8 469.0,631.3 470.0,630.8 471.0,630.4 472.0,629.9 473.0,629.5 474.0,629.0 475.0,628.5 476.0,627.9 477.0,627.4 478.0,626.8 479.0,626.3 480.0,625.7 481.0,625.2 482.0,624.7 483.0,624.3 484.0,624.0 485.0,623.7 486.0,623.4 487.0,623.1 488.0,622.8 489.0,622.6 490.0,622.3 491.0,622.2 492.0,622.1 493.0,622.0 494.0,622.0 495.0,621.8 496.0,621.4 497.0,620.9 498.0,620.5 499.0,620.3 500.0,620.3 501.0,620.5 502.0,620.6 503.0,620.8 504.0,620.9 505.0,620.9 506.0,620.9 507.0,620.7 508.0,620.4 509.0,620.1 510.0,619.8 511.0,619.5 512.0,619.2 513.0,619.0 514.0,618.7 515.0,618.5 516.0,618.5 517.0,618.4 518.0,618.4 519.0,618.5 520.0,618.6 521.0,618.7 522.0,618.9 523.0,619.1 524.0,619.2 525.0,619.4 526.0,619.3 527.0,619.2 528.0,618.9 529.0,618.6 530.0,618.3 531.0,617.9 532.0,617.6 533.0,617.3 534.0,617.0 535.0,616.8 536.0,616.5 537.0,616.2 538.0,616.0 539.0,615.7 540.0,615.4 541.0,615.2 542.0,614.9 543.0,614.7 544.0,614.4 545.0,614.2 546.0,614.0 547.0,613.8 548.0,613.6 549.0,613.4 550.0,613.2 551.0,613.0 552.0,612.7 553.0,612.3 554.0,611.8 555.0,611.4 556.0,610.9 557.0,610.4 558.0,609.9 559.0,609.4 560.0,608.8 561.0,608.3 562.0,607.7 563.0,607.1 564.0,606.6 565.0,606.0 566.0,605.5 567.0,605.1 568.0,604.7 569.0,604.4 570.0,604.1 571.0,603.7 572.0,603.4 573.0,603.1 574.0,602.8 575.0,602.6 576.0,602.3 577.0,602.1 578.0,601.9 579.0,601.7 580.0,601.4 581.0,601.2 582.0,601.1 583.0,600.9 584.0,600.8 585.0,600.7 586.0,600.5 587.0,600.4 588.0,600.0 589.0,599.2 590.0,598.0 591.0,596.6 592.0,595.4 593.0,594.6 594.0,594.2 595.0,593.9 596.0,593.6 597.0,593.3 598.0,593.0 599.0,592.7 600.0,592.5 601.0,592.3 602.0,592.1 603.0,591.9 604.0,591.7 605.0,591.7 606.0,591.9 607.0,592.0 608.0,591.9 609.0,591.5 610.0,590.9 611.0,590.2 612.0,589.7 613.0,589.2 614.0,588.7 615.0,588.2 616.0,587.8 617.0,587.4 618.0,587.0 619.0,586.9 620.0,586.8 621.0,586.9 622.0,586.9 623.0,587.0 624.0,587.0 625.0,586.8 626.0,586.6 627.0,586.3 628.0,586.0 629.0,585.8 630.0,585.7 631.0,585.7 632.0,585.7 633.0,585.6 634.0,585.3 635.0,584.8 636.0,584.2 637.0,583.5 638.0,582.6 639.0,581.5 640.0,580.4 641.0,579.5 642.0,578.9 643.0,578.3 644.0,577.8 645.0,577.3 646.0,576.7 647.0,576.2 648.0,575.7 649.0,575.3 650.0,574.9 651.0,574.5 652.0,574.1 653.0,573.6 654.0,573.2 655.0,572.8 656.0,572.4 657.0,572.0 658.0,571.6 659.0,571.2 660.0,570.8 661.0,570.4 662.0,570.0 663.0,569.5 664.0,569.0 665.0,568.3 666.0,567.8 667.0,567.4 668.0,567.2 669.0,567.2 670.0,567.3 671.0,567.4 672.0,567.5 673.0,567.6 674.0,567.6 675.0,567.6 676.0,567.4 677.0,567.2 678.0,566.9 679.0,566.5 680.0,566.2 681.0,565.9 682.0,565.7 683.0,565.5 684.0,565.3 685.0,565.2 686.0,565.0 687.0,564.8 688.0,564.5 689.0,564.2 690.0,563.9 691.0,563.9 692.0,564.2 693.0,564.8 694.0,565.5 695.0,566.3 696.0,567.2 697.0,568.1 698.0,569.0 699.0,569.7 700.0,570.2 701.0,570.5 702.0,570.6 703.0,570.7 704.0,570.8 705.0,570.8 706.0,570.9 707.0,571.0 708.0,571.1 709.0,571.3 710.0,571.5 711.0,571.7 712.0,572.0 713.0,572.2 714.0,572.6 715.0,573.1 716.0,573.6 717.0,573.9 718.0,573.7 719.0,573.2 720.0,572.4 721.0,571.7 722.0,571.1 723.0,570.5 724.0,570.2 725.0,569.8 726.0,569.5 727.0,569.2 728.0,568.9 729.0,568.7 730.0,568.4 731.0,568.1 732.0,567.8 733.0,567.5 734.0,567.2 735.0,566.9 736.0,566.6 737.0,566.2 738.0,565.9 739.0,565.5 740.0,565.3 741.0,565.1 742.0,565.1 743.0,565.1 744.0,565.2 745.0,565.3 746.0,565.4 747.0,565.4 748.0,565.4 749.0,565.4 750.0,565.4 751.0,565.4 752.0,565.6 753.0,566.0 754.0,566.5 755.0,567.0 756.0,567.2 757.0,567.2 758.0,567.1 759.0,566.9 760.0,566.8 761.0,566.7 762.0,566.6 763.0,566.5 764.0,566.5 765.0,566.4 766.0,566.3 767.0,566.3 768.0,566.3 769.0,566.4 770.0,566.5 771.0,566.8 772.0,567.3 773.0,568.0 774.0,568.8 775.0,569.6 776.0,570.2 777.0,570.7 778.0,571.1 779.0,571.4 780.0,571.7 781.0,571.7 782.0,571.7 783.0,571.4 784.0,571.1 785.0,570.8 786.0,570.3 787.0,569.8 788.0,569.2 789.0,568.7 790.0,568.1 791.0,567.6 792.0,567.1 793.0,566.7 794.0,566.2 795.0,565.8 796.0,565.4 797.0,565.0 798.0,564.6 799.0,564.1 800.0,563.6 801.0,563.2 802.0,562.9 803.0,562.6 804.0,562.3 805.0,562.0 806.0,561.8 807.0,561.5 808.0,561.2 809.0,560.9 810.0,560.6 811.0,560.3 812.0,559.9 813.0,559.6 814.0,559.2 815.0,558.8 816.0,558.4 817.0,557.9 818.0,557.4 819.0,556.8 820.0,556.3 821.0,555.8 822.0,555.2 823.0,554.8 824.0,554.4 825.0,554.3 826.0,554.2 827.0,554.2 828.0,554.1 829.0,554.1 830.0,554.1 831.0,554.1 832.0,554.1 833.0,554.1 834.0,554.0 835.0,554.0 836.0,553.9 837.0,553.7 838.0,553.4 839.0,553.0 840.0,552.6 841.0,552.2 842.0,551.7 843.0,551.3 844.0,550.8 845.0,550.4 846.0,549.9 847.0,549.4 848.0,548.9 849.0,548.4 850.0,547.9 851.0,547.5 852.0,547.2 853.0,546.8 854.0,546.5 855.0,546.0 856.0,545.4 857.0,544.6 858.0,543.7 859.0,542.8 860.0,541.9 861.0,541.0 862.0,540.1 863.0,539.2 864.0,538.2 865.0,537.3 866.0,536.4 867.0,535.6 868.0,534.7 869.0,534.0 870.0,533.2 871.0,532.4 872.0,531.6 873.0,530.7 874.0,529.9 875.0,529.1 876.0,528.3 877.0,527.6 878.0,526.9 879.0,526.2 880.0,525.5 881.0,524.9 882.0,524.4 883.0,524.0 884.0,523.7 885.0,523.5 886.0,523.2 887.0,523.0 888.0,522.9"/>
<polyline class="b" points="72.0,663.5 73.0,663.5 74.0,663.4 75.0,663.4 76.0,663.4 77.0,663.3 78.0,663.3 79.0,663.2 80.0,663.2 81.0,663.1 82.0,663.0 83.0,662.9 84.0,662.8 85.0,662.6 86.0,662.4 87.0,662.2 88.0,662.0 89.0,661.7 90.0,661.4 91.0,661.1 92.0,660.7 93.0,660.4 94.0,660.0 95.0,659.7 96.0,659.3 97.0,659.0 98.0,658.6 99.0,658.3 100.0,658.0 101.0,657.7 102.0,657.4 103.0,657.0 104.0,656.7 105.0,656.4 106.0,656.1 107.0,655.8 108.0,655.5 109.0,655.3 110.0,655.0 111.0,654.8 112.0,654.5 113.0,654.3 114.0,654.1 115.0,654.0 116.0,653.9 117.0,653.9 118.0,654.0 119.0,653.9 120.0,653.9 121.0,653.7 122.0,653.5 123.0,653.2 124.0,652.9 125.0,652.7 126.0,652.4 127.0,652.2 128.0,651.9 129.0,651.8 130.0,651.6 131.0,651.5 132.0,651.4 133.0,651.2 134.0,651.1 135.0,650.9 136.0,650.6 137.0,650.4 138.0,650.1 139.0,649.8 140.0,649.5 141.0,649.2 142.0,648.8 143.0,648.4 144.0,648.0 145.0,647.6 146.0,647.2 147.0,646.8 148.0,646.7 149.0,646.7 150.0,647.0 151.0,647.3 152.0,647.7 153.0,648.0 154.0,648.3 155.0,648.5 156.0,648.8 157.0,649.0 158.0,649.1 159.0,649.3 160.0,649.4 161.0,649.5 162.0,649.5 163.0,649.5 164.0,649.4 165.0,649.3 166.0,649.3 167.0,649.2 168.0,649.0 169.0,648.8 170.0,648.6 171.0,648.3 172.0,648.1 173.0,647.7 174.0,647.2 175.0,646.3 176.0,645.3 177.0,644.2 178.0,643.1 179.0,642.0 180.0,641.2 181.0,640.4 182.0,639.9 183.0,639.3 184.0,638.8 185.0,638.2 186.0,637.5 187.0,636.8 188.0,636.1 189.0,635.4 190.0,634.8 191.0,634.5 192.0,634.4 193.0,634.4 194.0,634.6 195.0,634.7 196.0,634.8 197.0,635.0 198.0,635.0 199.0,635.0 200.0,635.0 201.0,635.0 202.0,634.9 203.0,634.9 204.0,635.1 205.0,635.4 206.0,636.0 207.0,636.8 208.0,638.0 209.0,639.7 210.0,642.0 211.0,644.6 212.0,647.6 213.0,650.7 214.0,653.8 215.0,656.6 216.0,658.9 217.0,660.9 218.0,662.8 219.0,664.5 220.0,666.1 221.0,667.7 222.0,669.5 223.0,671.3 224.0,673.4 225.0,675.5 226.0,677.5 227.0,679.3 228.0,681.1 229.0,683.0 230.0,685.1 231.0,687.3 232.0,689.6 233.0,692.1 234.0,694.4 235.0,696.6 236.0,698.5 237.0,700.0 238.0,701.2 239.0,702.0 240.0,702.8 241.0,703.5 242.0,704.2 243.0,705.0 244.0,705.7 245.0,706.6 246.0,707.4 247.0,708.2 248.0,708.9 249.0,709.7 250.0,710.4 251.0,711.0 252.0,711.6 253.0,711.9 254.0,711.8 255.0,711.6 256.0,711.2 257.0,710.8 258.0,710.3 259.0,709.8 260.0,709.3 261.0,708.8 262.0,708.3 263.0,707.7 264.0,707.1 265.0,706.5 266.0,705.9 267.0,705.2 268.0,704.6 269.0,704.0 270.0,703.5 271.0,703.0 272.0,702.4 273.0,701.7 274.0,701.0 275.0,700.3 276.0,699.6 277.0,698.9 278.0,698.3 279.0,697.6 280.0,697.0 281.0,696.4 282.0,695.8 283.0,695.2 284.0,694.7 285.0,694.1 286.0,693.5 287.0,693.0 288.0,692.4 289.0,691.9 290.0,691.3 291.0,690.8 292.0,690.3 293.0,689.7 294.0,689.2 295.0,688.7 296.0,688.2 297.0,687.7 298.0,687.2 299.0,686.7 300.0,686.5 301.0,686.4 302.0,686.4 303.0,686.3 304.0,685.9 305.0,685.3 306.0,684.6 307.0,683.8 308.0,682.9 309.0,682.1 310.0,681.4 311.0,680.7 312.0,680.0 313.0,679.4 314.0,678.9 315.0,678.3 316.0,677.8 317.0,677.2 318.0,676.6 319.0,676.0 320.0,675.3 321.0,674.5 322.0,673.7 323.0,672.9 324.0,672.1 325.0,671.3 326.0,670.4 327.0,669.5 328.0,668.6 329.0,667.6 330.0,666.7 331.0,665.7 332.0,664.8 333.0,663.9 334.0,663.1 335.0,662.4 336.0,661.6 337.0,660.9 338.0,660.2 339.0,659.5 340.0,658.8 341.0,658.2 342.0,657.7 343.0,657.1 344.0,656.6 345.0,656.1 346.0,655.6 347.0,655.2 348.0,654.7 349.0,654.2 350.0,653.7 351.0,653.2 352.0,652.7 353.0,652.2 354.0,651.8 355.0,651.3 356.0,651.0 357.0,650.7 358.0,650.5 359.0,650.2 360.0,650.0 361.0,649.8 362.0,649.5 363.0,649.3 364.0,649.0 365.0,648.6 366.0,648.1 367.0,647.6 368.0,647.0 369.0,646.5 370.0,645.9 371.0,645.3 372.0,644.8 373.0,644.2 374.0,643.6 375.0,643.0 376.0,642.4 377.0,641.8 378.0,641.2 379.0,640.6 380.0,639.9 381.0,639.3 382.0,638.7 383.0,638.1 384.0,637.5 385.0,636.9 386.0,636.3 387.0,635.7 388.0,635.1 389.0,634.6 390.0,634.0 391.0,633.4 392.0,632.8 393.0,632.3 394.0,631.8 395.0,631.3 396.0,630.7 397.0,630.2 398.0,629.7 399.0,629.1 400.0,628.4 401.0,627.6 402.0,626.7 403.0,625.7 404.0,624.7 405.0,623.8 406.0,622.8 407.0,621.8 408.0,620.9 409.0,620.1 410.0,619.3 411.0,618.5 412.0,617.8 413.0,617.0 414.0,616.4 415.0,615.7 416.0,615.1 417.0,614.5 418.0,614.0 419.0,613.4 420.0,612.9 421.0,612.3 422.0,611.9 423.0,611.5 424.0,611.2 425.0,611.0 426.0,610.7 427.0,610.5 428.0,610.3 429.0,610.0 430.0,609.8 431.0,609.6 432.0,609.4 433.0,609.2 434.0,609.2 435.0,609.2 436.0,609.3 437.0,609.4 438.0,609.6 439.0,609.7 440.0,609.7 441.0,609.7 442.0,609.6 443.0,609.3 444.0,609.1 445.0,608.8 446.0,608.5 447.0,608.3 448.0,608.0 449.0,607.7 450.0,607.5 451.0,607.2 452.0,606.9 453.0,606.7 454.0,606.5 455.0,606.3 456.0,606.1 457.0,606.0 458.0,605.9 459.0,605.8 460.0,605.7 461.0,605.7 462.0,605.9 463.0,606.2 464.0,606.5 465.0,606.9 466.0,607.1 467.0,607.1 468.0,606.8 469.0,606.3 470.0,605.7 471.0,605.2 472.0,604.7 473.0,604.2 474.0,603.6 475.0,603.1 476.0,602.5 477.0,601.9 478.0,601.3 479.0,600.7 480.0,600.1 481.0,599.5 482.0,598.9 483.0,598.5 484.0,598.1 485.0,597.7 486.0,597.4 487.0,597.1 488.0,596.8 489.0,596.5 490.0,596.3 491.0,596.1 492.0,596.0 493.0,595.9 494.0,595.9 495.0,595.7 496.0,595.3 497.0,594.7 498.0,594.2 499.0,594.0 500.0,594.0 501.0,594.2 502.0,594.4 503.0,594.5 504.0,594.7 505.0,594.7 506.0,594.6 507.0,594.4 508.0,594.2 509.0,593.8 510.0,593.5 511.0,593.2 512.0,592.9 513.0,592.5 514.0,592.3 515.0,592.1 516.0,592.0 517.0,591.9 518.0,592.0 519.0,592.0 520.0,592.1 521.0,592.2 522.0,592.4 523.0,592.6 524.0,592.8 525.0,593.0 526.0,592.9 527.0,592.8 528.0,592.4 529.0,592.1 530.0,591.8 531.0,591.4 532.0,591.1 533.0,590.7 534.0,590.4 535.0,590.1 536.0,589.8 537.0,589.5 538.0,589.2 539.0,588.9 540.0,588.6 541.0,588.3 542.0,588.1 543.0,587.8 544.0,587.5 545.0,587.3 546.0,587.0 547.0,586.8 548.0,586.6 549.0,586.4 550.0,586.2 551.0,585.9 552.0,585.5 553.0,585.1 554.0,584.6 555.0,584.1 556.0,583.5 557.0,583.0 558.0,582.4 559.0,581.9 560.0,581.3 561.0,580.6 562.0,580.0 563.0,579.4 564.0,578.8 565.0,578.2 566.0,577.6 567.0,577.1 568.0,576.7 569.0,576.3 570.0,576.0 571.0,575.6 572.0,575.3 573.0,574.9 574.0,574.6 575.0,574.3 576.0,574.1 577.0,573.8 578.0,573.6 579.0,573.3 580.0,573.1 581.0,572.9 582.0,572.7 583.0,572.5 584.0,572.3 585.0,572.2 586.0,572.0 587.0,571.9 588.0,571.5 589.0,570.6 590.0,569.2 591.0,567.6 592.0,566.3 593.0,565.5 594.0,565.0 595.0,564.6 596.0,564.3 597.0,564.0 598.0,563.7 599.0,563.4 600.0,563.1 601.0,562.9 602.0,562.7 603.0,562.5 604.0,562.3 605.0,562.3 606.0,562.4 607.0,562.6 608.0,562.5 609.0,562.0 610.0,561.3 611.0,560.6 612.0,560.0 613.0,559.4 614.0,558.9 615.0,558.4 616.0,557.9 617.0,557.4 618.0,557.1 619.0,556.9 620.0,556.8 621.0,556.9 622.0,557.0 623.0,557.0 624.0,557.0 625.0,556.8 626.0,556.5 627.0,556.2 628.0,555.9 629.0,555.7 630.0,555.6 631.0,555.6 632.0,555.6 633.0,555.5 634.0,555.1 635.0,554.6 636.0,554.0 637.0,553.2 638.0,552.1 639.0,550.9 640.0,549.7 641.0,548.7 642.0,548.0 643.0,547.4 644.0,546.8 645.0,546.2 646.0,545.6 647.0,545.0 648.0,544.5 649.0,544.0 650.0,543.6 651.0,543.1 652.0,542.6 653.0,542.2 654.0,541.7 655.0,541.3 656.0,540.8 657.0,540.4 658.0,539.9 659.0,539.5 660.0,539.1 661.0,538.6 662.0,538.1 663.0,537.6 664.0,537.0 665.0,536.3 666.0,535.7 667.0,535.2 668.0,535.0 669.0,535.0 670.0,535.2 671.0,535.3 672.0,535.4 673.0,535.4 674.0,535.5 675.0,535.4 676.0,535.3 677.0,535.0 678.0,534.7 679.0,534.3 680.0,533.9 681.0,533.6 682.0,533.3 683.0,533.1 684.0,532.9 685.0,532.8 686.0,532.6 687.0,532.3 688.0,532.0 689.0,531.7 690.0,531.4 691.0,531.4 692.0,531.7 693.0,532.3 694.0,533.1 695.0,534.1 696.0,535.0 697.0,536.0 698.0,537.0 699.0,537.8 700.0,538.4 701.0,538.7 702.0,538.9 703.0,538.9 704.0,539.0 705.0,539.0 706.0,539.1 707.0,539.2 708.0,539.4 709.0,539.6 710.0,539.8 711.0,540.1 712.0,540.3 713.0,540.6 714.0,541.1 715.0,541.6 716.0,542.1 717.0,542.4 718.0,542.2 719.0,541.7 720.0,540.9 721.0,540.0 722.0,539.3 723.0,538.7 724.0,538.3 725.0,537.9 726.0,537.6 727.0,537.3 728.0,537.0 729.0,536.6 730.0,536.3 731.0,536.0 732.0,535.6 733.0,535.3 734.0,535.0 735.0,534.7 736.0,534.3 737.0,533.9 738.0,533.5 739.0,533.2 740.0,532.9 741.0,532.7 742.0,532.7 743.0,532.7 744.0,532.8 745.0,532.9 746.0,533.0 747.0,533.0 748.0,533.1 749.0,533.0 750.0,533.0 751.0,533.0 752.0,533.3 753.0,533.7 754.0,534.3 755.0,534.8 756.0,535.0 757.0,535.0 758.0,534.9 759.0,534.7 760.0,534.6 761.0,534.5 762.0,534.4 763.0,534.3 764.0,534.2 765.0,534.1 766.0,534.1 767.0,534.0 768.0,534.1 769.0,534.1 770.0,534.2 771.0,534.6 772.0,535.2 773.0,536.0 774.0,536.8 775.0,537.6 776.0,538.4 777.0,538.9 778.0,539.4 779.0,539.7 780.0,540.0 781.0,540.1 782.0,540.0 783.0,539.7 784.0,539.4 785.0,539.0 786.0,538.5 787.0,537.9 788.0,537.3 789.0,536.6 790.0,536.0 791.0,535.4 792.0,534.9 793.0,534.4 794.0,533.9 795.0,533.5 796.0,533.0 797.0,532.6 798.0,532.1 799.0,531.6 800.0,531.0 801.0,530.6 802.0,530.2 803.0,529.9 804.0,529.6 805.0,529.3 806.0,529.0 807.0,528.7 808.0,528.3 809.0,528.0 810.0,527.7 811.0,527.3 812.0,526.9 813.0,526.6 814.0,526.2 815.0,525.7 816.0,525.2 817.0,524.7 818.0,524.1 819.0,523.5 820.0,522.9 821.0,522.3 822.0,521.7 823.0,521.2 824.0,520.8 825.0,520.6 826.0,520.6 827.0,520.5 828.0,520.5 829.0,520.5 830.0,520.5 831.0,520.5 832.0,520.5 833.0,520.4 834.0,520.4 835.0,520.3 836.0,520.2 837.0,520.0 838.0,519.7 839.0,519.3 840.0,518.8 841.0,518.3 842.0,517.8 843.0,517.3 844.0,516.8 845.0,516.3 846.0,515.8 847.0,515.2 848.0,514.7 849.0,514.1 850.0,513.6 851.0,513.2 852.0,512.8 853.0,512.4 854.0,512.0 855.0,511.5 856.0,510.8 857.0,509.9 858.0,509.0 859.0,507.9 860.0,506.9 861.0,505.9 862.0,504.9 863.0,503.9 864.0,502.8 865.0,501.8 866.0,500.8 867.0,499.9 868.0,499.0 869.0,498.1 870.0,497.2 871.0,496.3 872.0,495.4 873.0,494.5 874.0,493.5 875.0,492.6 876.0,491.8 877.0,491.0 878.0,490.2 879.0,489.4 880.0,488.7 881.0,488.0 882.0,487.4 883.0,487.0 884.0,486.7 885.0,486.4 886.0,486.2 887.0,485.9 888.0,485.8"/>
<polyline class="r" points="71.9,703.5 72.2,702.8 72.5,702.4 72.9,700.7 73.2,702.9 73.6,702.9 73.9,701.5 74.2,701.7 74.6,701.2 74.9,700.1 75.3,700.7 75.6,699.7 75.9,699.1 76.3,698.2 76.6,698.6 77.0,698.0 77.3,698.0 77.6,696.9 78.0,696.8 78.3,695.7 78.7,696.4 79.0,695.8 79.3,695.4 79.7,695.0 80.0,693.5 80.4,694.1 80.7,694.9 81.0,692.1 81.4,690.8 81.7,690.3 82.1,691.6 82.4,692.7 82.7,694.7 83.1,695.8 83.4,696.6 83.8,697.9 84.1,698.8 84.4,700.7 84.8,700.7 85.1,700.7 85.5,700.8 85.8,701.6 86.1,699.5 86.5,698.3 86.8,698.0 87.2,698.7 87.5,697.7 87.8,698.2 88.2,695.5 88.5,696.7 88.9,696.6 89.2,694.3 89.5,694.5 89.9,695.0 90.2,693.9 90.6,694.0 90.9,694.6 91.2,693.3 91.6,692.2 91.9,691.2 92.3,691.8 92.6,691.1 92.9,690.6 93.3,690.3 93.6,690.5 94.0,689.1 94.3,688.1 94.6,687.4 95.0,689.2 95.3,688.8 95.7,689.6 96.0,688.5 96.3,687.5 96.7,687.9 97.0,687.4 97.4,686.2 97.7,685.9 98.0,687.7 98.4,687.0 98.7,686.6 99.1,685.8 99.4,685.1 99.7,685.9 100.1,685.2 100.4,684.3 100.8,684.3 101.1,683.6 101.4,684.0 101.8,684.6 102.1,682.9 102.5,683.9 102.8,682.2 103.1,682.1 103.5,681.0 103.8,680.9 104.2,682.5 104.5,683.5 104.8,684.5 105.2,685.7 105.5,685.7 105.9,684.8 106.2,685.2 106.5,685.6 106.9,685.9 107.2,685.6 107.6,686.3 107.9,685.0 108.2,684.1 108.6,685.9 108.9,684.5 109.3,685.8 109.6,685.0 109.9,686.0 110.3,684.7 110.6,686.8 111.0,686.5 111.3,684.8 111.6,686.1 112.0,685.2 112.3,683.6 112.7,681.5 113.0,681.1 113.3,681.4 113.7,683.2 114.0,684.2 114.4,683.1 114.7,683.9 115.0,685.6 115.4,686.5 115.7,689.0 116.1,691.7 116.4,694.7 116.7,696.7 117.1,695.1 117.4,696.8 117.8,696.6 118.1,700.0 118.4,699.0 118.8,699.3 119.1,696.9 119.5,695.8 119.8,696.1 120.1,694.9 120.5,694.9 120.8,692.0 121.2,693.6 121.5,692.5 121.8,695.6 122.2,694.2 122.5,695.6 122.9,693.2 123.2,694.8 123.5,693.9 123.9,694.2 124.2,694.2 124.6,693.3 124.9,693.2 125.2,693.3 125.6,692.8 125.9,691.3 126.3,688.9 126.6,688.5 126.9,688.7 127.3,685.9 127.6,688.3 128.0,687.4 128.3,686.7 128.6,687.6 129.0,687.0 129.3,685.8 129.7,683.4 130.0,683.8 130.3,683.6 130.7,682.6 131.0,685.2 131.4,685.7 131.7,683.1 132.0,685.4 132.4,684.7 132.7,687.9 133.1,688.9 133.4,686.4 133.7,685.7 134.1,686.5 134.4,686.0 134.8,687.9 135.1,687.5 135.4,686.5 135.8,687.6 136.1,685.0 136.5,687.5 136.8,689.2 137.1,688.8 137.5,688.3 137.8,690.1 138.2,693.5 138.5,693.2 138.8,692.4 139.2,696.1 139.5,694.1 139.9,697.2 140.2,697.8 140.5,700.6 140.9,697.9 141.2,698.7 141.6,696.9 141.9,693.0 142.2,690.9 142.6,691.1 142.9,692.4 143.3,690.4 143.6,689.6 143.9,688.8 144.3,689.5 144.6,689.0 145.0,688.5 145.3,687.0 145.6,690.6 146.0,692.8 146.3,691.1 146.7,696.0 147.0,696.5 147.3,695.4 147.7,693.7 148.0,696.7 148.4,697.8 148.7,697.1 149.0,696.2 149.4,701.0 149.7,701.6 150.1,703.2 150.4,708.7 150.7,710.5 151.1,711.8 151.4,711.3 151.8,713.4 152.1,708.1 152.4,708.4 152.8,706.2 153.1,703.6 153.5,701.2 153.8,703.4 154.1,703.6 154.5,703.7 154.8,704.7 155.2,702.7 155.5,701.4 155.8,700.0 156.2,701.3 156.5,703.0 156.9,702.0 157.2,702.6 157.5,700.0 157.9,699.9 158.2,699.3 158.6,698.8 158.9,703.4 159.2,703.5 159.6,701.5 159.9,701.2 160.3,702.3 160.6,700.9 160.9,703.4 161.3,702.8 161.6,704.9 162.0,705.6 162.3,707.5 162.6,707.9 163.0,708.4 163.3,709.5 163.7,710.6 164.0,711.8 164.3,713.0 164.7,715.6 165.0,714.5 165.4,712.1 165.7,712.1 166.0,709.5 166.4,711.0 166.7,709.6 167.1,706.0 167.4,707.1 167.7,707.2 168.1,702.2 168.4,702.8 168.8,703.1 169.1,700.8 169.4,700.9 169.8,700.8 170.1,702.4 170.5,702.3 170.8,704.6 171.1,701.4 171.5,702.1 171.8,700.5 172.2,699.9 172.5,697.3 172.8,695.0 173.2,695.7 173.5,697.7 173.9,699.2 174.2,697.9 174.5,696.9 174.9,694.3 175.2,696.4 175.6,696.1 175.9,692.5 176.2,691.6 176.6,689.2 176.9,691.6 177.3,690.1 177.6,688.2 177.9,688.9 178.3,689.7 178.6,689.2 179.0,688.2 179.3,688.3 179.6,687.8 180.0,690.1 180.3,692.8 180.7,687.1 181.0,687.6 181.3,687.5 181.7,686.1 182.0,688.2 182.4,687.4 182.7,691.3 183.0,690.3 183.4,691.6 183.7,693.3 184.1,692.6 184.4,690.9 184.7,692.7 185.1,695.7 185.4,696.4 185.8,698.2 186.1,697.9 186.4,700.6 186.8,703.2 187.1,704.1 187.5,707.9 187.8,707.2 188.1,705.6 188.5,703.7 188.8,706.5 189.2,705.3 189.5,706.0 189.8,705.1 190.2,706.1 190.5,705.4 190.9,702.8 191.2,702.9 191.5,704.0 191.9,700.9 192.2,703.7 192.6,704.2 192.9,703.9 193.2,702.1 193.6,702.2 193.9,700.3 194.3,701.5 194.6,701.1 194.9,702.0 195.3,701.5 195.6,702.5 196.0,704.2 196.3,701.2 196.6,703.4 197.0,699.8 197.3,699.0 197.7,700.9 198.0,701.7 198.3,702.6 198.7,699.8 199.0,701.1 199.4,701.8 199.7,703.5 200.0,702.1 200.4,703.1 200.7,701.7 201.1,702.7 201.4,702.8 201.7,705.8 202.1,702.8 202.4,702.3 202.8,707.1 203.1,714.3 203.4,712.2 203.8,712.0 204.1,709.6 204.5,716.3 204.8,716.5 205.1,722.8 205.5,720.6 205.8,716.4 206.2,719.1 206.5,720.3 206.8,721.7 207.2,735.3 207.5,739.6 207.9,735.2 208.2,749.0 208.5,749.4 208.9,747.7 209.2,752.5 209.6,752.9 209.9,751.2 210.2,747.1 210.6,754.1 210.9,757.9 211.3,751.0 211.6,761.3 211.9,766.6 212.3,763.0 212.6,761.3 213.0,757.6 213.3,752.5 213.6,750.8 214.0,755.6 214.3,749.7 214.7,755.7 215.0,758.9 215.3,758.6 215.7,761.1 216.0,760.6 216.4,763.9 216.7,769.2 217.0,773.3 217.4,772.8 217.7,782.4 218.1,774.6 218.4,772.1 218.7,768.6 219.1,765.4 219.4,767.8 219.8,763.1 220.1,766.8 220.4,767.0 220.8,760.2 221.1,764.0 221.5,759.8 221.8,767.4 222.1,761.4 222.5,757.5 222.8,753.3 223.2,753.6 223.5,755.5 223.8,754.7 224.2,753.4 224.5,753.8 224.9,754.7 225.2,759.2 225.5,750.7 225.9,750.8 226.2,749.1 226.6,746.2 226.9,745.5 227.2,748.7 227.6,755.9 227.9,757.0 228.3,758.1 228.6,762.9 228.9,763.4 229.3,760.9 229.6,760.9 230.0,756.9 230.3,758.6 230.6,757.9 231.0,756.0 231.3,753.6 231.7,759.9 232.0,758.4 232.3,763.2 232.7,758.5 233.0,760.3 233.4,757.9 233.7,759.5 234.0,762.0 234.4,759.6 234.7,761.2 235.1,762.8 235.4,763.8 235.7,765.8 236.1,767.9 236.4,769.0 236.8,769.1 237.1,769.0 237.4,768.4 237.8,770.0 238.1,771.8 238.5,775.5 238.8,775.7 239.1,775.0 239.5,778.1 239.8,777.2 240.2,777.5 240.5,778.7 240.8,777.8 241.2,771.5 241.5,770.0 241.9,770.3 242.2,768.8 242.5,766.6 242.9,765.5 243.2,767.4 243.6,763.9 243.9,764.4 244.2,764.3 244.6,761.7 244.9,761.9 245.3,760.0 245.6,758.8 245.9,757.0 246.3,759.3 246.6,757.5 247.0,756.2 247.3,754.4 247.6,758.1 248.0,757.0 248.3,754.8 248.7,752.8 249.0,750.4 249.3,752.1 249.7,752.3 250.0,749.2 250.4,752.0 250.7,751.8 251.0,748.6 251.4,747.9 251.7,747.5 252.1,748.0 252.4,747.5 252.7,745.0 253.1,748.7 253.4,747.9 253.8,748.8 254.1,748.9 254.4,746.6 254.8,746.6 255.1,746.9 255.5,746.9 255.8,745.4 256.1,744.2 256.5,744.6 256.8,743.4 257.2,743.2 257.5,741.1 257.8,743.1 258.2,742.1 258.5,742.3 258.9,743.0 259.2,743.7 259.5,745.8 259.9,744.4 260.2,742.0 260.6,743.2 260.9,742.6 261.2,743.6 261.6,743.5 261.9,744.1 262.3,745.2 262.6,746.0 262.9,745.6 263.3,747.4 263.6,749.2 264.0,751.7 264.3,750.7 264.6,750.1 265.0,750.7 265.3,750.7 265.7,751.6 266.0,750.7 266.3,749.6 266.7,750.5 267.0,750.4 267.4,747.4 267.7,746.3 268.0,743.3 268.4,742.9 268.7,741.4 269.1,740.9 269.4,739.6 269.7,738.8 270.1,737.9 270.4,738.2 270.8,737.6 271.1,736.3 271.4,734.9 271.8,736.7 272.1,737.2 272.5,735.0 272.8,735.1 273.1,732.8 273.5,731.8 273.8,732.6 274.2,734.4 274.5,732.2 274.8,731.5 275.2,733.5 275.5,730.3 275.9,732.1 276.2,732.5 276.5,732.1 276.9,732.4 277.2,734.6 277.6,732.1 277.9,732.2 278.2,732.3 278.6,730.9 278.9,728.7 279.3,729.7 279.6,727.7 279.9,724.0 280.3,723.3 280.6,724.9 281.0,725.7 281.3,724.5 281.6,725.8 282.0,726.8 282.3,727.5 282.7,728.1 283.0,726.6 283.3,729.6 283.7,729.3 284.0,730.8 284.4,731.4 284.7,730.5 285.0,728.6 285.4,728.8 285.7,727.3 286.1,725.9 286.4,724.3 286.7,725.4 287.1,723.2 287.4,721.0 287.8,721.3 288.1,722.4 288.4,724.9 288.8,726.3 289.1,727.2 289.5,729.9 289.8,728.7 290.1,728.8 290.5,728.6 290.8,726.7 291.2,725.3 291.5,725.1 291.8,725.5 292.2,724.7 292.5,724.3 292.9,723.8 293.2,723.7 293.5,723.7 293.9,722.3 294.2,722.0 294.6,722.5 294.9,722.1 295.2,722.7 295.6,723.3 295.9,723.0 296.3,722.6 296.6,722.3 296.9,724.4 297.3,724.4 297.6,722.8 298.0,722.4 298.3,724.0 298.6,723.9 299.0,722.3 299.3,722.4 299.7,719.8 300.0,719.9 300.3,720.2 300.7,717.8 301.0,717.6 301.4,718.5 301.7,718.8 302.0,717.2 302.4,717.2 302.7,718.1 303.1,716.5 303.4,714.9 303.7,715.3 304.1,714.9 304.4,716.0 304.8,715.1 305.1,713.8 305.4,716.1 305.8,714.5 306.1,715.0 306.5,715.4 306.8,715.8 307.1,715.5 307.5,716.7 307.8,717.2 308.2,717.0 308.5,718.6 308.8,719.8 309.2,720.7 309.5,721.4 309.9,721.4 310.2,723.3 310.5,724.5 310.9,722.1 311.2,722.3 311.6,721.3 311.9,719.5 312.2,720.3 312.6,719.4 312.9,718.8 313.3,717.9 313.6,718.6 313.9,718.3 314.3,716.7 314.6,716.0 315.0,714.5 315.3,713.6 315.6,711.9 316.0,711.5 316.3,710.1 316.7,710.3 317.0,710.6 317.3,710.0 317.7,710.3 318.0,710.8 318.4,707.5 318.7,707.9 319.0,707.2 319.4,706.9 319.7,705.8 320.1,706.4 320.4,706.0 320.7,705.2 321.1,704.9 321.4,704.1 321.8,702.2 322.1,704.0 322.4,703.1 322.8,701.8 323.1,702.2 323.5,701.1 323.8,699.2 324.1,700.9 324.5,698.7 324.8,699.1 325.2,699.1 325.5,699.9 325.8,699.6 326.2,698.2 326.5,696.6 326.9,696.0 327.2,697.1 327.5,698.0 327.9,697.7 328.2,696.8 328.6,699.3 328.9,698.8 329.2,699.1 329.6,700.0 329.9,702.6 330.3,704.6 330.6,707.8 330.9,710.6 331.3,711.8 331.6,708.0 332.0,708.1 332.3,711.0 332.6,711.9 333.0,715.6 333.3,714.0 333.7,713.6 334.0,715.3 334.3,716.4 334.7,715.4 335.0,716.4 335.4,715.0 335.7,715.2 336.0,718.5 336.4,716.5 336.7,719.3 337.1,718.9 337.4,717.6 337.7,716.3 338.1,714.4 338.4,709.1 338.8,707.9 339.1,707.2 339.4,711.3 339.8,711.1 340.1,712.9 340.5,715.1 340.8,719.2 341.1,718.3 341.5,719.4 341.8,721.1 342.2,717.7 342.5,719.2 342.8,718.2 343.2,716.0 343.5,716.3 343.9,715.2 344.2,715.9 344.5,715.8 344.9,716.8 345.2,714.7 345.6,713.7 345.9,712.1 346.2,711.9 346.6,713.0 346.9,709.2 347.3,711.0 347.6,709.7 347.9,709.8 348.3,709.8 348.6,710.2 349.0,709.3 349.3,709.0 349.6,710.3 350.0,710.8 350.3,711.1 350.7,712.2 351.0,713.7 351.3,713.8 351.7,714.4 352.0,713.4 352.4,714.7 352.7,713.8 353.0,716.5 353.4,716.1 353.7,718.4 354.1,720.1 354.4,719.1 354.7,719.2 355.1,717.4 355.4,715.1 355.8,713.4 356.1,713.1 356.4,712.8 356.8,711.0 357.1,708.2 357.5,707.3 357.8,707.5 358.1,708.6 358.5,707.8 358.8,707.4 359.2,707.7 359.5,706.5 359.8,706.0 360.2,705.5 360.5,703.9 360.9,704.9 361.2,704.9 361.5,705.2 361.9,703.3 362.2,702.8 362.6,703.8 362.9,703.3 363.2,703.8 363.6,701.9 363.9,702.0 364.3,701.1 364.6,701.3 364.9,700.5 365.3,700.7 365.6,700.9 366.0,700.3 366.3,697.8 366.6,699.0 367.0,698.6 367.3,696.9 367.7,696.3 368.0,696.5 368.3,696.7 368.7,695.6 369.0,694.0 369.4,694.7 369.7,694.6 370.0,696.0 370.4,693.2 370.7,695.4 371.1,695.1 371.4,693.8 371.7,694.4 372.1,693.1 372.4,693.3 372.8,691.7 373.1,691.7 373.4,690.0 373.8,688.3 374.1,688.3 374.5,687.3 374.8,687.5 375.1,687.5 375.5,685.6 375.8,684.6 376.2,684.5 376.5,682.7 376.8,683.7 377.2,683.7 377.5,683.5 377.9,682.4 378.2,681.2 378.5,682.2 378.9,682.9 379.2,683.9 379.6,683.9 379.9,684.1 380.2,683.1 380.6,683.4 380.9,682.1 381.3,682.3 381.6,682.6 381.9,683.5 382.3,682.2 382.6,680.2 383.0,681.9 383.3,680.3 383.6,680.4 384.0,680.2 384.3,679.4 384.7,681.2 385.0,681.0 385.3,679.7 385.7,679.9 386.0,679.4 386.4,679.5 386.7,678.1 387.0,676.7 387.4,675.9 387.7,675.3 388.1,675.2 388.4,673.5 388.7,673.2 389.1,673.4 389.4,675.1 389.8,674.2 390.1,670.3 390.4,671.0 390.8,671.3 391.1,671.8 391.5,673.1 391.8,672.8 392.1,670.2 392.5,672.3 392.8,673.0 393.2,673.8 393.5,675.3 393.8,673.8 394.2,675.7 394.5,673.9 394.9,675.1 395.2,675.9 395.5,678.0 395.9,676.1 396.2,674.8 396.6,676.7 396.9,676.2 397.2,678.2 397.6,675.7 397.9,674.2 398.3,675.1 398.6,673.6 398.9,673.4 399.3,670.4 399.6,671.8 400.0,669.5 400.3,670.3 400.6,668.8 401.0,667.8 401.3,668.8 401.7,669.5 402.0,671.1 402.3,670.4 402.7,670.5 403.0,670.0 403.4,670.6 403.7,667.9 404.0,668.3 404.4,666.6 404.7,666.0 405.1,664.6 405.4,665.3 405.7,663.2 406.1,662.8 406.4,664.0 406.8,663.5 407.1,665.4 407.4,666.4 407.8,665.2 408.1,666.5 408.5,665.7 408.8,666.2 409.1,666.6 409.5,668.7 409.8,667.5 410.2,666.3 410.5,666.1 410.8,668.1 411.2,666.0 411.5,666.7 411.9,667.0 412.2,665.9 412.5,668.1 412.9,671.0 413.2,672.0 413.6,672.0 413.9,674.3 414.2,675.6 414.6,678.2 414.9,676.8 415.3,676.1 415.6,675.9 415.9,675.4 416.3,675.1 416.6,674.5 417.0,673.5 417.3,672.0 417.6,672.2 418.0,670.6 418.3,669.7 418.7,669.2 419.0,669.4 419.3,669.0 419.7,666.4 420.0,666.2 420.4,665.9 420.7,665.6 421.0,664.4 421.4,664.3 421.7,667.1 422.1,668.5 422.4,668.7 422.7,667.9 423.1,670.6 423.4,672.7 423.8,672.9 424.1,673.8 424.4,671.9 424.8,677.7 425.1,676.1 425.5,685.6 425.8,692.5 426.1,696.9 426.5,706.0 426.8,707.4 427.2,708.8 427.5,707.7 427.8,704.5 428.2,700.2 428.5,702.1 428.9,699.0 429.2,694.9 429.5,692.3 429.9,692.3 430.2,699.4 430.6,695.7 430.9,694.1 431.2,691.8 431.6,691.2 431.9,689.9 432.3,695.6 432.6,696.8 432.9,693.5 433.3,690.8 433.6,692.7 434.0,692.2 434.3,689.4 434.6,692.5 435.0,692.6 435.3,691.9 435.7,696.1 436.0,695.0 436.3,701.3 436.7,698.5 437.0,703.0 437.4,706.0 437.7,706.2 438.0,709.1 438.4,707.6 438.7,708.1 439.1,711.8 439.4,708.8 439.7,709.2 440.1,706.3 440.4,705.1 440.8,702.3 441.1,699.4 441.4,696.6 441.8,692.8 442.1,690.9 442.5,695.8 442.8,686.8 443.1,687.2 443.5,689.5 443.8,687.8 444.2,689.0 444.5,686.2 444.8,681.2 445.2,682.4 445.5,680.3 445.9,685.9 446.2,689.0 446.5,685.4 446.9,687.0 447.2,685.4 447.6,683.6 447.9,687.0 448.2,686.6 448.6,690.1 448.9,694.2 449.3,697.9 449.6,701.4 449.9,700.2 450.3,700.9 450.6,699.8 451.0,698.6 451.3,691.2 451.6,691.0 452.0,693.0 452.3,688.9 452.7,689.1 453.0,689.6 453.3,686.1 453.7,688.4 454.0,690.3 454.4,690.9 454.7,689.5 455.0,692.1 455.4,692.2 455.7,694.3 456.1,693.6 456.4,691.8 456.7,691.6 457.1,690.2 457.4,689.4 457.8,687.9 458.1,688.1 458.4,688.6 458.8,687.7 459.1,686.8 459.5,685.6 459.8,684.8 460.1,685.2 460.5,682.9 460.8,684.8 461.2,683.1 461.5,684.1 461.8,683.0 462.2,680.8 462.5,680.7 462.9,679.7 463.2,679.1 463.5,678.5 463.9,676.5 464.2,675.2 464.6,674.3 464.9,672.6 465.2,672.4 465.6,672.2 465.9,671.5 466.3,671.6 466.6,671.2 466.9,672.2 467.3,670.0 467.6,670.9 468.0,671.3 468.3,672.7 468.6,672.9 469.0,673.2 469.3,672.6 469.7,673.4 470.0,671.9 470.3,671.6 470.7,668.9 471.0,671.0 471.4,670.9 471.7,668.2 472.0,666.9 472.4,665.6 472.7,665.3 473.1,666.5 473.4,666.5 473.7,665.1 474.1,665.5 474.4,665.3 474.8,666.2 475.1,667.0 475.4,666.5 475.8,666.9 476.1,667.0 476.5,665.3 476.8,667.0 477.1,667.5 477.5,668.7 477.8,667.7 478.2,670.7 478.5,671.1 478.8,672.9 479.2,675.1 479.5,672.9 479.9,671.6 480.2,672.7 480.5,670.6 480.9,669.5 481.2,670.1 481.6,669.0 481.9,668.9 482.2,668.3 482.6,668.0 482.9,668.8 483.3,670.1 483.6,668.5 483.9,669.4 484.3,670.6 484.6,670.9 485.0,672.2 485.3,672.3 485.6,673.4 486.0,675.4 486.3,676.6 486.7,679.0 487.0,678.2 487.3,679.5 487.7,680.3 488.0,681.7 488.4,683.9 488.7,683.2 489.0,684.9 489.4,684.6 489.7,685.1 490.1,686.6 490.4,686.4 490.7,686.1 491.1,684.8 491.4,683.4 491.8,682.2 492.1,680.0 492.4,680.0 492.8,681.2 493.1,681.9 493.5,680.9 493.8,682.9 494.1,683.4 494.5,682.2 494.8,682.4 495.2,683.4 495.5,680.4 495.8,679.2 496.2,678.4 496.5,677.0 496.9,675.5 497.2,675.9 497.5,675.4 497.9,675.7 498.2,678.2 498.6,676.3 498.9,676.8 499.2,677.6 499.6,677.5 499.9,679.3 500.3,679.3 500.6,680.2 500.9,678.3 501.3,680.9 501.6,681.8 502.0,679.7 502.3,680.1 502.6,678.8 503.0,678.3 503.3,678.3 503.7,676.6 504.0,674.9 504.3,674.9 504.7,673.5 505.0,673.2 505.4,672.8 505.7,672.4 506.0,673.5 506.4,673.4 506.7,671.8 507.1,672.8 507.4,670.7 507.7,670.7 508.1,671.0 508.4,672.0 508.8,671.8 509.1,671.2 509.4,671.1 509.8,670.2 510.1,669.9 510.5,667.6 510.8,665.7 511.1,665.4 511.5,665.6 511.8,664.5 512.2,664.0 512.5,663.0 512.8,662.6 513.2,664.0 513.5,664.0 513.9,666.3 514.2,666.1 514.5,667.6 514.9,666.6 515.2,667.8 515.6,666.4 515.9,668.3 516.2,666.6 516.6,667.3 516.9,667.1 517.3,666.3 517.6,668.0 517.9,667.3 518.3,668.8 518.6,667.4 519.0,667.3 519.3,666.6 519.6,668.5 520.0,669.5 520.3,669.1 520.7,668.4 521.0,667.3 521.3,669.4 521.7,668.5 522.0,665.9 522.4,666.1 522.7,664.6 523.0,667.1 523.4,669.4 523.7,670.4 524.1,670.4 524.4,670.7 524.7,671.0 525.1,673.4 525.4,673.9 525.8,674.9 526.1,673.8 526.4,673.2 526.8,673.3 527.1,673.4 527.5,671.6 527.8,670.7 528.1,669.2 528.5,668.4 528.8,667.9 529.2,669.0 529.5,668.5 529.8,668.6 530.2,667.9 530.5,666.8 530.9,665.6 531.2,665.6 531.5,664.6 531.9,666.7 532.2,665.8 532.6,664.8 532.9,666.1 533.2,664.3 533.6,664.1 533.9,663.1 534.3,662.9 534.6,661.9 534.9,661.9 535.3,662.2 535.6,659.6 536.0,657.8 536.3,659.4 536.6,658.5 537.0,658.3 537.3,656.9 537.7,657.4 538.0,657.4 538.3,654.4 538.7,654.6 539.0,653.1 539.4,651.3 539.7,651.4 540.0,651.7 540.4,649.7 540.7,648.8 541.1,650.3 541.4,649.5 541.7,649.2 542.1,647.5 542.4,647.1 542.8,647.3 543.1,647.1 543.4,646.7 543.8,647.7 544.1,646.7 544.5,644.7 544.8,644.5 545.1,645.0 545.5,646.2 545.8,644.7 546.2,644.3 546.5,645.3 546.8,645.5 547.2,645.9 547.5,647.0 547.9,648.9 548.2,648.2 548.5,646.2 548.9,645.2 549.2,642.5 549.6,642.7 549.9,641.8 550.2,641.1 550.6,639.0 550.9,641.3 551.3,637.7 551.6,637.7 551.9,637.6 552.3,638.8 552.6,637.0 553.0,638.2 553.3,638.4 553.6,638.5 554.0,639.7 554.3,640.8 554.7,640.3 555.0,639.8 555.3,638.1 555.7,641.4 556.0,641.5 556.4,640.8 556.7,642.9 557.0,645.2 557.4,645.2 557.7,644.5 558.1,645.9 558.4,644.1 558.7,642.5 559.1,641.8 559.4,637.9 559.8,637.8 560.1,636.9 560.4,638.2 560.8,635.5 561.1,634.0 561.5,632.2 561.8,631.5 562.1,631.2 562.5,630.9 562.8,629.8 563.2,631.1 563.5,629.8 563.8,629.1 564.2,629.2 564.5,628.1 564.9,626.3 565.2,624.8 565.5,626.7 565.9,626.6 566.2,628.9 566.6,628.0 566.9,627.0 567.2,628.9 567.6,630.8 567.9,630.5 568.3,631.1 568.6,631.5 568.9,633.4 569.3,633.0 569.6,632.9 570.0,632.6 570.3,632.0 570.6,636.0 571.0,638.0 571.3,637.8 571.7,640.2 572.0,641.7 572.3,640.8 572.7,639.2 573.0,638.5 573.4,635.5 573.7,634.2 574.0,633.1 574.4,632.1 574.7,630.7 575.1,629.8 575.4,629.0 575.7,626.5 576.1,625.8 576.4,624.1 576.8,624.7 577.1,621.9 577.4,621.9 577.8,622.4 578.1,621.2 578.5,620.5 578.8,619.7 579.1,619.9 579.5,618.2 579.8,618.4 580.2,618.1 580.5,616.3 580.8,618.0 581.2,618.0 581.5,619.0 581.9,620.0 582.2,620.1 582.5,618.9 582.9,620.2 583.2,619.0 583.6,620.2 583.9,623.5 584.2,623.5 584.6,625.7 584.9,625.3 585.3,626.0 585.6,625.8 585.9,628.3 586.3,628.5 586.6,629.8 587.0,630.5 587.3,631.4 587.6,630.5 588.0,629.0 588.3,627.9 588.7,626.2 589.0,623.7 589.3,624.6 589.7,625.6 590.0,624.3 590.4,623.9 590.7,622.0 591.0,619.1 591.4,617.5 591.7,618.4 592.1,619.0 592.4,619.1 592.7,620.4 593.1,619.7 593.4,621.2 593.8,621.3 594.1,622.1 594.4,623.6 594.8,621.0 595.1,620.5 595.5,619.1 595.8,615.4 596.1,616.2 596.5,612.5 596.8,612.3 597.2,612.8 597.5,609.7 597.8,611.7 598.2,612.2 598.5,610.8 598.9,610.4 599.2,610.0 599.5,609.1 599.9,609.8 600.2,608.6 600.6,608.6 600.9,609.0 601.2,609.6 601.6,610.1 601.9,607.6 602.3,606.3 602.6,607.8 602.9,608.3 603.3,607.5 603.6,608.6 604.0,609.1 604.3,608.9 604.6,610.0 605.0,607.5 605.3,607.7 605.7,609.6 606.0,608.8 606.3,606.6 606.7,607.1 607.0,608.2 607.4,609.1 607.7,608.6 608.0,609.2 608.4,607.4 608.7,608.1 609.1,610.0 609.4,608.8 609.7,609.6 610.1,608.4 610.4,610.7 610.8,608.7 611.1,608.0 611.4,604.8 611.8,603.2 612.1,605.3 612.5,603.5 612.8,602.5 613.1,602.9 613.5,602.8 613.8,599.8 614.2,599.6 614.5,600.3 614.8,600.2 615.2,600.4 615.5,599.5 615.9,599.2 616.2,599.5 616.5,598.5 616.9,597.8 617.2,597.8 617.6,598.2 617.9,600.6 618.2,603.3 618.6,606.5 618.9,609.8 619.3,613.3 619.6,615.0 619.9,611.7 620.3,611.8 620.6,608.1 621.0,607.9 621.3,605.4 621.6,605.1 622.0,604.5 622.3,600.4 622.7,600.7 623.0,599.6 623.3,597.5 623.7,596.8 624.0,594.7 624.4,594.6 624.7,593.3 625.0,594.7 625.4,594.8 625.7,594.9 626.1,593.3 626.4,595.4 626.7,595.8 627.1,593.9 627.4,592.8 627.8,592.4 628.1,593.3 628.4,594.0 628.8,592.2 629.1,590.2 629.5,592.2 629.8,592.2 630.1,592.4 630.5,592.8 630.8,591.1 631.2,591.8 631.5,591.5 631.8,594.0 632.2,597.3 632.5,598.5 632.9,599.6 633.2,603.6 633.5,604.8 633.9,603.1 634.2,600.5 634.6,600.2 634.9,600.7 635.2,600.8 635.6,599.2 635.9,599.3 636.3,597.8 636.6,597.7 636.9,598.6 637.3,597.9 637.6,598.1 638.0,598.9 638.3,599.3 638.6,597.6 639.0,597.3 639.3,596.1 639.7,595.7 640.0,597.2 640.3,596.7 640.7,595.0 641.0,597.0 641.4,596.0 641.7,596.2 642.0,597.0 642.4,597.1 642.7,596.5 643.1,593.5 643.4,594.6 643.7,593.1 644.1,591.1 644.4,589.5 644.8,591.6 645.1,590.4 645.4,589.4 645.8,589.4 646.1,588.3 646.5,586.2 646.8,587.6 647.1,588.0 647.5,587.3 647.8,587.9 648.2,588.1 648.5,585.0 648.8,584.3 649.2,585.3 649.5,584.5 649.9,584.1 650.2,584.6 650.5,584.2 650.9,582.6 651.2,582.9 651.6,582.6 651.9,583.5 652.2,583.2 652.6,582.7 652.9,584.4 653.3,585.2 653.6,587.5 653.9,589.2 654.3,588.1 654.6,588.4 655.0,587.5 655.3,587.0 655.6,587.8 656.0,588.1 656.3,589.0 656.7,589.3 657.0,592.2 657.3,591.9 657.7,591.1 658.0,593.6 658.4,594.3 658.7,594.9 659.0,595.1 659.4,592.6 659.7,591.7 660.1,591.4 660.4,589.0 660.7,588.8 661.1,588.4 661.4,588.2 661.8,588.2 662.1,587.3 662.4,586.6 662.8,584.0 663.1,582.3 663.5,582.3 663.8,585.1 664.1,584.1 664.5,580.6 664.8,581.5 665.2,582.8 665.5,580.8 665.8,583.5 666.2,582.4 666.5,585.0 666.9,584.8 667.2,587.8 667.5,584.7 667.9,586.0 668.2,585.2 668.6,589.1 668.9,589.8 669.2,591.9 669.6,592.3 669.9,591.6 670.3,593.1 670.6,593.7 670.9,595.1 671.3,598.0 671.6,601.0 672.0,602.9 672.3,605.2 672.6,606.4 673.0,610.0 673.3,608.5 673.7,606.2 674.0,604.1 674.3,599.9 674.7,596.3 675.0,594.8 675.4,595.0 675.7,592.9 676.0,589.9 676.4,589.5 676.7,587.6 677.1,589.6 677.4,587.4 677.7,584.5 678.1,585.7 678.4,586.4 678.8,585.8 679.1,584.3 679.4,584.2 679.8,584.1 680.1,584.7 680.5,583.8 680.8,585.7 681.1,582.9 681.5,584.1 681.8,582.2 682.2,579.0 682.5,578.5 682.8,577.2 683.2,577.4 683.5,582.0 683.9,581.3 684.2,583.3 684.5,582.3 684.9,583.7 685.2,583.9 685.6,587.5 685.9,588.0 686.2,588.9 686.6,590.5 686.9,592.8 687.3,589.1 687.6,586.8 687.9,581.6 688.3,579.2 688.6,578.4 689.0,575.5 689.3,578.8 689.6,578.1 690.0,577.2 690.3,576.4 690.7,577.4 691.0,578.9 691.3,583.2 691.7,584.9 692.0,587.4 692.4,586.9 692.7,585.0 693.0,587.0 693.4,583.8 693.7,583.2 694.1,584.4 694.4,584.9 694.7,581.4 695.1,581.3 695.4,581.0 695.8,580.1 696.1,578.1 696.4,579.0 696.8,577.0 697.1,576.2 697.5,572.6 697.8,573.7 698.1,571.1 698.5,573.5 698.8,573.5 699.2,571.6 699.5,571.5 699.8,570.9 700.2,569.9 700.5,569.8 700.9,569.0 701.2,568.3 701.5,567.5 701.9,570.7 702.2,569.5 702.6,568.7 702.9,569.5 703.2,568.0 703.6,568.4 703.9,571.4 704.3,574.0 704.6,575.5 704.9,573.9 705.3,573.5 705.6,572.2 706.0,571.4 706.3,568.2 706.6,565.9 707.0,565.5 707.3,563.9 707.7,563.3 708.0,564.4 708.3,566.1 708.7,565.4 709.0,566.5 709.4,563.8 709.7,565.3 710.0,564.7 710.4,563.3 710.7,563.5 711.1,563.0 711.4,563.7 711.7,563.2 712.1,565.8 712.4,564.4 712.8,562.6 713.1,564.5 713.4,566.4 713.8,566.6 714.1,568.8 714.5,567.6 714.8,567.9 715.1,571.9 715.5,571.5 715.8,571.0 716.2,570.2 716.5,569.4 716.8,567.8 717.2,566.3 717.5,567.0 717.9,564.4 718.2,563.9 718.5,564.6 718.9,563.4 719.2,561.6 719.6,563.8 719.9,565.4 720.2,564.8 720.6,562.1 720.9,564.5 721.3,567.0 721.6,563.1 721.9,561.3 722.3,563.1 722.6,564.5 723.0,566.1 723.3,566.7 723.6,566.1 724.0,566.7 724.3,566.8 724.7,566.6 725.0,565.8 725.3,564.8 725.7,565.0 726.0,564.1 726.4,562.1 726.7,563.3 727.0,562.3 727.4,563.4 727.7,565.0 728.1,563.5 728.4,565.7 728.7,568.4 729.1,569.3 729.4,567.3 729.8,567.5 730.1,567.6 730.4,569.0 730.8,570.0 731.1,568.6 731.5,571.1 731.8,572.0 732.1,572.6 732.5,572.5 732.8,573.6 733.2,572.3 733.5,575.0 733.8,576.2 734.2,576.2 734.5,574.0 734.9,575.9 735.2,575.7 735.5,571.3 735.9,572.3 736.2,571.7 736.6,567.1 736.9,569.6 737.2,571.0 737.6,571.7 737.9,570.6 738.3,568.0 738.6,567.4 738.9,575.2 739.3,585.3 739.6,589.6 740.0,596.9 740.3,598.7 740.6,590.8 741.0,593.3 741.3,591.2 741.7,584.6 742.0,588.4 742.3,584.2 742.7,587.0 743.0,589.2 743.4,583.8 743.7,582.2 744.0,584.3 744.4,581.0 744.7,585.5 745.1,585.5 745.4,588.6 745.7,585.7 746.1,590.9 746.4,594.8 746.8,593.2 747.1,599.4 747.4,593.4 747.8,592.8 748.1,587.8 748.5,588.5 748.8,588.6 749.1,585.1 749.5,584.1 749.8,586.1 750.2,583.2 750.5,583.1 750.8,584.3 751.2,583.8 751.5,585.6 751.9,585.2 752.2,585.7 752.5,582.2 752.9,582.9 753.2,579.0 753.6,580.7 753.9,582.5 754.2,582.5 754.6,577.3 754.9,578.6 755.3,581.5 755.6,580.1 755.9,583.2 756.3,585.0 756.6,584.2 757.0,584.7 757.3,584.8 757.6,585.7 758.0,587.0 758.3,584.6 758.7,586.6 759.0,579.5 759.3,577.9 759.7,579.2 760.0,574.9 760.4,578.2 760.7,581.4 761.0,582.0 761.4,582.3 761.7,586.0 762.1,587.0 762.4,589.0 762.7,590.2 763.1,587.9 763.4,585.9 763.8,586.7 764.1,588.0 764.4,587.4 764.8,589.6 765.1,588.6 765.5,589.7 765.8,588.5 766.1,587.0 766.5,590.7 766.8,591.6 767.2,589.4 767.5,590.4 767.8,599.1 768.2,591.4 768.5,599.9 768.9,602.0 769.2,604.1 769.5,606.0 769.9,607.9 770.2,615.9 770.6,612.8 770.9,612.4 771.2,614.7 771.6,614.9 771.9,614.2 772.3,614.1 772.6,612.5 772.9,616.7 773.3,613.3 773.6,609.1 774.0,612.6 774.3,612.3 774.6,610.5 775.0,608.1 775.3,613.8 775.7,613.7 776.0,614.1 776.3,618.7 776.7,618.7 777.0,617.1 777.4,617.6 777.7,614.4 778.0,610.2 778.4,607.6 778.7,607.3 779.1,604.1 779.4,601.6 779.7,596.7 780.1,596.3 780.4,593.0 780.8,593.2 781.1,591.7 781.4,590.8 781.8,592.4 782.1,589.3 782.5,590.6 782.8,586.5 783.1,587.0 783.5,588.0 783.8,589.5 784.2,584.8 784.5,584.4 784.8,584.5 785.2,583.9 785.5,582.2 785.9,580.5 786.2,580.3 786.5,581.7 786.9,580.1 787.2,583.8 787.6,583.9 787.9,579.3 788.2,579.7 788.6,582.0 788.9,582.6 789.3,581.8 789.6,577.8 789.9,577.7 790.3,579.3 790.6,577.9 791.0,576.4 791.3,576.8 791.6,577.2 792.0,576.7 792.3,576.9 792.7,578.4 793.0,576.7 793.3,575.9 793.7,578.4 794.0,576.4 794.4,578.7 794.7,577.8 795.0,580.3 795.4,578.1 795.7,581.6 796.1,581.5 796.4,580.9 796.7,580.0 797.1,581.3 797.4,579.6 797.8,577.6 798.1,580.3 798.4,579.5 798.8,579.7 799.1,574.1 799.5,570.4 799.8,569.1 800.1,566.2 800.5,568.9 800.8,565.0 801.2,570.5 801.5,569.8 801.8,568.7 802.2,570.2 802.5,571.6 802.9,570.3 803.2,569.7 803.5,568.2 803.9,568.7 804.2,573.9 804.6,576.4 804.9,582.9 805.2,584.9 805.6,583.7 805.9,577.7 806.3,576.9 806.6,571.6 806.9,567.7 807.3,565.5 807.6,564.8 808.0,563.5 808.3,562.5 808.6,564.6 809.0,563.2 809.3,560.4 809.7,560.4 810.0,562.4 810.3,561.2 810.7,561.4 811.0,562.8 811.4,560.1 811.7,560.4 812.0,559.2 812.4,559.5 812.7,560.2 813.1,558.2 813.4,559.2 813.7,559.5 814.1,560.5 814.4,558.9 814.8,557.5 815.1,558.9 815.4,557.5 815.8,558.5 816.1,559.2 816.5,557.7 816.8,558.0 817.1,556.8 817.5,555.2 817.8,554.9 818.2,554.7 818.5,556.1 818.8,555.3 819.2,555.9 819.5,556.1 819.9,557.2 820.2,555.7 820.5,556.0 820.9,559.4 821.2,563.5 821.6,564.6 821.9,567.2 822.2,566.0 822.6,564.6 822.9,562.7 823.3,563.3 823.6,562.7 823.9,562.1 824.3,564.3 824.6,562.7 825.0,563.1 825.3,562.6 825.6,564.3 826.0,563.4 826.3,565.6 826.7,564.1 827.0,565.0 827.3,565.8 827.7,564.9 828.0,566.0 828.4,565.8 828.7,565.0 829.0,565.2 829.4,566.5 829.7,568.7 830.1,567.9 830.4,569.4 830.7,569.2 831.1,570.9 831.4,570.5 831.8,571.7 832.1,573.5 832.4,574.1 832.8,571.5 833.1,569.2 833.5,564.7 833.8,560.1 834.1,555.5 834.5,553.0 834.8,553.3 835.2,550.9 835.5,548.9 835.8,548.1 836.2,546.8 836.5,546.6 836.9,544.8 837.2,543.4 837.5,541.9 837.9,542.3 838.2,541.9 838.6,541.4 838.9,539.5 839.2,536.6 839.6,536.1 839.9,532.2 840.3,532.3 840.6,532.6 840.9,533.2 841.3,534.8 841.6,535.0 842.0,535.5 842.3,538.4 842.6,536.6 843.0,536.3 843.3,536.8 843.7,537.6 844.0,537.7 844.3,536.8 844.7,536.2 845.0,536.0 845.4,536.9 845.7,535.2 846.0,533.4 846.4,535.2 846.7,534.2 847.1,535.1 847.4,536.9 847.7,535.9 848.1,537.4 848.4,534.0 848.8,534.8 849.1,535.1 849.4,535.5 849.8,533.7 850.1,534.0 850.5,533.9 850.8,533.7 851.1,531.7 851.5,530.0 851.8,531.5 852.2,531.2 852.5,530.2 852.8,530.0 853.2,529.8 853.5,526.8 853.9,527.5 854.2,528.1 854.5,527.4 854.9,526.3 855.2,525.7 855.6,522.8 855.9,522.5 856.2,523.8 856.6,524.2 856.9,524.0 857.3,523.5 857.6,524.3 857.9,526.1 858.3,528.5 858.6,528.5 859.0,527.6 859.3,529.1 859.6,529.6 860.0,531.6 860.3,530.8 860.7,530.1 861.0,529.9 861.3,528.8 861.7,528.8 862.0,529.5 862.4,529.4 862.7,530.3 863.0,530.4 863.4,531.3 863.7,532.0 864.1,530.8 864.4,529.9 864.7,527.8 865.1,529.8 865.4,531.6 865.8,531.4 866.1,532.4 866.4,533.1 866.8,535.9 867.1,534.8 867.5,533.8 867.8,529.8 868.1,531.2 868.5,527.0 868.8,524.3 869.2,524.1 869.5,523.8 869.8,526.4 870.2,525.1 870.5,524.5 870.9,526.3 871.2,527.3 871.5,525.7 871.9,526.5 872.2,527.6 872.6,528.9 872.9,531.9 873.2,533.1 873.6,534.0 873.9,535.1 874.3,532.9 874.6,532.4 874.9,530.6 875.3,528.7 875.6,529.9 876.0,526.1 876.3,526.3 876.6,525.5 877.0,523.9 877.3,524.4 877.7,524.6 878.0,524.8 878.3,523.2 878.7,524.0 879.0,523.6 879.4,523.8 879.7,521.0 880.0,521.5 880.4,521.3 880.7,522.3 881.1,521.1 881.4,520.8 881.7,520.0 882.1,520.2 882.4,520.8 882.8,523.2 883.1,522.2 883.4,521.3 883.8,523.5 884.1,523.9 884.5,525.3 884.8,525.0 885.1,523.6 885.5,522.6 885.8,521.7 886.2,521.4 886.5,520.2 886.8,520.5 887.2,521.3 887.5,519.2 887.9,518.3 888.2,517.6 888.5,518.2"/>
<rect x="71.5" y="456.6" width="928.1" height="343.1" fill="none" stroke="#000" stroke-width="3"/>
<text x="33.96" y="805.10" textLength="23.04" lengthAdjust="spacingAndGlyphs" style='font-family:"Liberation Serif","Times New Roman",serif;font-size:16.00px;font-weight:normal;font-style:normal;fill:#000'>300</text>
<text x="1014.40" y="805.10" textLength="23.04" lengthAdjust="spacingAndGlyphs" style='font-family:"Liberation Serif","Times New Roman",serif;font-size:16.00px;font-weight:normal;font-style:normal;fill:#000'>300</text>
<text x="33.96" y="747.88" textLength="23.04" lengthAdjust="spacingAndGlyphs" style='font-family:"Liberation Serif","Times New Roman",serif;font-size:16.00px;font-weight:normal;font-style:normal;fill:#000'>600</text>
<text x="1014.40" y="747.88" textLength="23.04" lengthAdjust="spacingAndGlyphs" style='font-family:"Liberation Serif","Times New Roman",serif;font-size:16.00px;font-weight:normal;font-style:normal;fill:#000'>600</text>
<text x="33.96" y="690.67" textLength="23.04" lengthAdjust="spacingAndGlyphs" style='font-family:"Liberation Serif","Times New Roman",serif;font-size:16.00px;font-weight:normal;font-style:normal;fill:#000'>900</text>
<text x="1014.40" y="690.67" textLength="23.04" lengthAdjust="spacingAndGlyphs" style='font-family:"Liberation Serif","Times New Roman",serif;font-size:16.00px;font-weight:normal;font-style:normal;fill:#000'>900</text>
<text x="26.28" y="633.45" textLength="30.72" lengthAdjust="spacingAndGlyphs" style='font-family:"Liberation Serif","Times New Roman",serif;font-size:16.00px;font-weight:normal;font-style:normal;fill:#000'>1200</text>
<text x="1014.40" y="633.45" textLength="30.72" lengthAdjust="spacingAndGlyphs" style='font-family:"Liberation Serif","Times New Roman",serif;font-size:16.00px;font-weight:normal;font-style:normal;fill:#000'>1200</text>
<text x="26.28" y="576.23" textLength="30.72" lengthAdjust="spacingAndGlyphs" style='font-family:"Liberation Serif","Times New Roman",serif;font-size:16.00px;font-weight:normal;font-style:normal;fill:#000'>1500</text>
<text x="1014.40" y="576.23" textLength="30.72" lengthAdjust="spacingAndGlyphs" style='font-family:"Liberation Serif","Times New Roman",serif;font-size:16.00px;font-weight:normal;font-style:normal;fill:#000'>1500</text>
<text x="26.28" y="519.02" textLength="30.72" lengthAdjust="spacingAndGlyphs" style='font-family:"Liberation Serif","Times New Roman",serif;font-size:16.00px;font-weight:normal;font-style:normal;fill:#000'>1800</text>
<text x="1014.40" y="519.02" textLength="30.72" lengthAdjust="spacingAndGlyphs" style='font-family:"Liberation Serif","Times New Roman",serif;font-size:16.00px;font-weight:normal;font-style:normal;fill:#000'>1800</text>
<text x="26.28" y="461.80" textLength="30.72" lengthAdjust="spacingAndGlyphs" style='font-family:"Liberation Serif","Times New Roman",serif;font-size:16.00px;font-weight:normal;font-style:normal;fill:#000'>2100</text>
<text x="1014.40" y="461.80" textLength="30.72" lengthAdjust="spacingAndGlyphs" style='font-family:"Liberation Serif","Times New Roman",serif;font-size:16.00px;font-weight:normal;font-style:normal;fill:#000'>2100</text>
<path d="M59.2 799.5H70.3M1001 799.5H1011.2M65 780.5H70.3M1001 780.5H1006.2M65 761.5H70.3M1001 761.5H1006.2M59.2 742.5H70.3M1001 742.5H1011.2M65 723.5H70.3M1001 723.5H1006.2M65 704.5H70.3M1001 704.5H1006.2M59.2 685.5H70.3M1001 685.5H1011.2M65 666.5H70.3M1001 666.5H1006.2M65 647.5H70.3M1001 647.5H1006.2M59.2 627.5H70.3M1001 627.5H1011.2M65 608.5H70.3M1001 608.5H1006.2M65 589.5H70.3M1001 589.5H1006.2M59.2 570.5H70.3M1001 570.5H1011.2M65 551.5H70.3M1001 551.5H1006.2M65 532.5H70.3M1001 532.5H1006.2M59.2 513.5H70.3M1001 513.5H1011.2M65 494.5H70.3M1001 494.5H1006.2M65 475.5H70.3M1001 475.5H1006.2M59.2 456.5H70.3M1001 456.5H1011.2" stroke="#000" stroke-width="1.15" fill="none"/>
<path d="M71.0 801.1V813.7M148.0 801.1V813.7M226.0 801.1V813.7M303.0 801.1V813.7M380.0 801.1V813.7M458.0 801.1V813.7M535.0 801.1V813.7M612.0 801.1V813.7M690.0 801.1V813.7M767.0 801.1V813.7M844.0 801.1V813.7M922.0 801.1V813.7M999.0 801.1V813.7" stroke="#000" stroke-width="2" fill="none"/>
<text x="94.27" y="819.70" textLength="30.47" lengthAdjust="spacingAndGlyphs" style='font-family:"Liberation Serif","Times New Roman",serif;font-size:16.00px;font-weight:normal;font-style:normal;fill:#000'>2007</text>
<text x="171.61" y="819.70" textLength="30.62" lengthAdjust="spacingAndGlyphs" style='font-family:"Liberation Serif","Times New Roman",serif;font-size:16.00px;font-weight:normal;font-style:normal;fill:#000'>2008</text>
<text x="248.96" y="819.70" textLength="30.62" lengthAdjust="spacingAndGlyphs" style='font-family:"Liberation Serif","Times New Roman",serif;font-size:16.00px;font-weight:normal;font-style:normal;fill:#000'>2009</text>
<text x="326.31" y="819.70" textLength="30.62" lengthAdjust="spacingAndGlyphs" style='font-family:"Liberation Serif","Times New Roman",serif;font-size:16.00px;font-weight:normal;font-style:normal;fill:#000'>2010</text>
<text x="403.64" y="819.70" textLength="31.03" lengthAdjust="spacingAndGlyphs" style='font-family:"Liberation Serif","Times New Roman",serif;font-size:16.00px;font-weight:normal;font-style:normal;fill:#000'>2011</text>
<text x="481.01" y="819.70" textLength="30.79" lengthAdjust="spacingAndGlyphs" style='font-family:"Liberation Serif","Times New Roman",serif;font-size:16.00px;font-weight:normal;font-style:normal;fill:#000'>2012</text>
<text x="558.36" y="819.70" textLength="30.63" lengthAdjust="spacingAndGlyphs" style='font-family:"Liberation Serif","Times New Roman",serif;font-size:16.00px;font-weight:normal;font-style:normal;fill:#000'>2013</text>
<text x="635.72" y="819.70" textLength="30.15" lengthAdjust="spacingAndGlyphs" style='font-family:"Liberation Serif","Times New Roman",serif;font-size:16.00px;font-weight:normal;font-style:normal;fill:#000'>2014</text>
<text x="713.06" y="819.70" textLength="30.63" lengthAdjust="spacingAndGlyphs" style='font-family:"Liberation Serif","Times New Roman",serif;font-size:16.00px;font-weight:normal;font-style:normal;fill:#000'>2015</text>
<text x="790.42" y="819.70" textLength="30.47" lengthAdjust="spacingAndGlyphs" style='font-family:"Liberation Serif","Times New Roman",serif;font-size:16.00px;font-weight:normal;font-style:normal;fill:#000'>2016</text>
<text x="867.77" y="819.70" textLength="30.47" lengthAdjust="spacingAndGlyphs" style='font-family:"Liberation Serif","Times New Roman",serif;font-size:16.00px;font-weight:normal;font-style:normal;fill:#000'>2017</text>
<text x="945.11" y="819.70" textLength="30.63" lengthAdjust="spacingAndGlyphs" style='font-family:"Liberation Serif","Times New Roman",serif;font-size:16.00px;font-weight:normal;font-style:normal;fill:#000'>2018</text>
<rect x="71.5" y="847.6" width="928.1" height="343.9" fill="#ffffe6"/>
<polyline class="b" points="72.0,1152.9 73.0,1152.9 74.0,1152.9 75.0,1152.9 76.0,1152.9 77.0,1153.0 78.0,1153.0 79.0,1153.0 80.0,1153.0 81.0,1153.1 82.0,1153.1 83.0,1153.1 84.0,1153.0 85.0,1152.9 86.0,1152.8 87.0,1152.7 88.0,1152.6 89.0,1152.5 90.0,1152.4 91.0,1152.2 92.0,1152.1 93.0,1152.0 94.0,1151.9 95.0,1151.7 96.0,1151.6 97.0,1151.4 98.0,1151.1 99.0,1150.9 100.0,1150.7 101.0,1150.4 102.0,1150.2 103.0,1150.0 104.0,1149.8 105.0,1149.5 106.0,1149.4 107.0,1149.2 108.0,1149.0 109.0,1148.8 110.0,1148.6 111.0,1148.5 112.0,1148.4 113.0,1148.3 114.0,1148.2 115.0,1148.1 116.0,1148.1 117.0,1148.2 118.0,1148.2 119.0,1148.3 120.0,1148.3 121.0,1148.3 122.0,1148.2 123.0,1148.2 124.0,1148.1 125.0,1148.0 126.0,1148.0 127.0,1147.9 128.0,1147.9 129.0,1147.8 130.0,1147.8 131.0,1147.7 132.0,1147.7 133.0,1147.7 134.0,1147.7 135.0,1147.8 136.0,1147.9 137.0,1148.0 138.0,1148.1 139.0,1148.1 140.0,1148.2 141.0,1148.2 142.0,1148.2 143.0,1148.2 144.0,1148.2 145.0,1148.2 146.0,1148.2 147.0,1148.1 148.0,1148.1 149.0,1148.1 150.0,1148.2 151.0,1148.2 152.0,1148.3 153.0,1148.4 154.0,1148.6 155.0,1148.9 156.0,1149.2 157.0,1149.5 158.0,1149.8 159.0,1150.0 160.0,1150.1 161.0,1150.2 162.0,1150.2 163.0,1150.1 164.0,1150.0 165.0,1149.9 166.0,1149.8 167.0,1149.7 168.0,1149.6 169.0,1149.4 170.0,1149.3 171.0,1149.3 172.0,1149.4 173.0,1149.6 174.0,1149.8 175.0,1149.9 176.0,1150.1 177.0,1150.1 178.0,1150.0 179.0,1149.9 180.0,1149.5 181.0,1149.1 182.0,1148.5 183.0,1147.7 184.0,1146.8 185.0,1146.1 186.0,1145.5 187.0,1145.0 188.0,1144.8 189.0,1144.7 190.0,1144.8 191.0,1145.0 192.0,1145.3 193.0,1145.6 194.0,1146.0 195.0,1146.4 196.0,1146.7 197.0,1146.8 198.0,1146.9 199.0,1146.8 200.0,1146.7 201.0,1146.6 202.0,1146.5 203.0,1146.4 204.0,1146.3 205.0,1146.3 206.0,1146.4 207.0,1146.7 208.0,1147.2 209.0,1148.0 210.0,1149.1 211.0,1150.5 212.0,1152.2 213.0,1154.0 214.0,1155.7 215.0,1157.4 216.0,1159.0 217.0,1160.6 218.0,1162.1 219.0,1163.4 220.0,1164.4 221.0,1165.3 222.0,1166.1 223.0,1166.9 224.0,1167.5 225.0,1168.2 226.0,1168.9 227.0,1169.7 228.0,1170.5 229.0,1171.3 230.0,1172.3 231.0,1173.4 232.0,1174.6 233.0,1175.8 234.0,1177.1 235.0,1178.3 236.0,1179.4 237.0,1180.4 238.0,1181.3 239.0,1182.0 240.0,1182.7 241.0,1183.3 242.0,1183.9 243.0,1184.4 244.0,1184.8 245.0,1185.2 246.0,1185.5 247.0,1185.9 248.0,1186.2 249.0,1186.6 250.0,1187.0 251.0,1187.3 252.0,1187.7 253.0,1188.0 254.0,1188.3 255.0,1188.3 256.0,1188.3 257.0,1188.1 258.0,1187.9 259.0,1187.7 260.0,1187.4 261.0,1187.2 262.0,1186.9 263.0,1186.7 264.0,1186.4 265.0,1186.1 266.0,1185.9 267.0,1185.6 268.0,1185.4 269.0,1185.1 270.0,1184.8 271.0,1184.6 272.0,1184.3 273.0,1184.0 274.0,1183.8 275.0,1183.5 276.0,1183.2 277.0,1182.9 278.0,1182.5 279.0,1182.1 280.0,1181.7 281.0,1181.2 282.0,1180.8 283.0,1180.4 284.0,1179.9 285.0,1179.5 286.0,1179.0 287.0,1178.6 288.0,1178.2 289.0,1177.7 290.0,1177.3 291.0,1176.9 292.0,1176.5 293.0,1176.1 294.0,1175.8 295.0,1175.4 296.0,1175.1 297.0,1174.7 298.0,1174.4 299.0,1174.0 300.0,1173.7 301.0,1173.5 302.0,1173.2 303.0,1173.0 304.0,1172.8 305.0,1172.6 306.0,1172.3 307.0,1172.1 308.0,1172.0 309.0,1171.8 310.0,1171.7 311.0,1171.6 312.0,1171.5 313.0,1171.3 314.0,1171.2 315.0,1171.0 316.0,1170.9 317.0,1170.7 318.0,1170.5 319.0,1170.4 320.0,1170.1 321.0,1169.7 322.0,1169.0 323.0,1168.2 324.0,1167.4 325.0,1166.7 326.0,1166.1 327.0,1165.5 328.0,1165.0 329.0,1164.5 330.0,1164.0 331.0,1163.6 332.0,1163.2 333.0,1162.8 334.0,1162.4 335.0,1162.1 336.0,1161.8 337.0,1161.6 338.0,1161.4 339.0,1161.2 340.0,1161.0 341.0,1160.8 342.0,1160.5 343.0,1160.2 344.0,1159.9 345.0,1159.6 346.0,1159.3 347.0,1158.9 348.0,1158.6 349.0,1158.3 350.0,1158.0 351.0,1157.6 352.0,1157.3 353.0,1157.0 354.0,1156.7 355.0,1156.5 356.0,1156.3 357.0,1156.1 358.0,1155.9 359.0,1155.7 360.0,1155.5 361.0,1155.3 362.0,1155.0 363.0,1154.8 364.0,1154.5 365.0,1154.2 366.0,1153.9 367.0,1153.7 368.0,1153.4 369.0,1153.0 370.0,1152.7 371.0,1152.4 372.0,1152.1 373.0,1151.8 374.0,1151.4 375.0,1151.1 376.0,1150.7 377.0,1150.3 378.0,1149.9 379.0,1149.5 380.0,1149.2 381.0,1148.8 382.0,1148.4 383.0,1148.1 384.0,1147.7 385.0,1147.4 386.0,1147.0 387.0,1146.7 388.0,1146.4 389.0,1146.1 390.0,1145.8 391.0,1145.5 392.0,1145.2 393.0,1145.0 394.0,1144.9 395.0,1144.8 396.0,1144.8 397.0,1144.7 398.0,1144.6 399.0,1144.4 400.0,1144.1 401.0,1143.8 402.0,1143.4 403.0,1143.1 404.0,1142.7 405.0,1142.3 406.0,1141.8 407.0,1141.3 408.0,1140.8 409.0,1140.3 410.0,1139.8 411.0,1139.3 412.0,1139.0 413.0,1138.6 414.0,1138.3 415.0,1138.0 416.0,1137.7 417.0,1137.4 418.0,1137.1 419.0,1136.8 420.0,1136.6 421.0,1136.4 422.0,1136.2 423.0,1136.1 424.0,1135.9 425.0,1135.7 426.0,1135.6 427.0,1135.4 428.0,1135.3 429.0,1135.2 430.0,1135.1 431.0,1135.0 432.0,1134.9 433.0,1134.9 434.0,1134.9 435.0,1134.9 436.0,1134.9 437.0,1135.0 438.0,1135.1 439.0,1135.1 440.0,1135.2 441.0,1135.2 442.0,1135.3 443.0,1135.4 444.0,1135.5 445.0,1135.5 446.0,1135.5 447.0,1135.5 448.0,1135.3 449.0,1135.1 450.0,1134.8 451.0,1134.5 452.0,1134.1 453.0,1133.6 454.0,1133.1 455.0,1132.5 456.0,1132.0 457.0,1131.7 458.0,1131.4 459.0,1131.2 460.0,1131.0 461.0,1130.8 462.0,1130.6 463.0,1130.5 464.0,1130.4 465.0,1130.3 466.0,1130.2 467.0,1130.2 468.0,1130.1 469.0,1130.1 470.0,1130.0 471.0,1129.8 472.0,1129.6 473.0,1129.4 474.0,1129.2 475.0,1129.0 476.0,1128.8 477.0,1128.6 478.0,1128.3 479.0,1128.1 480.0,1127.9 481.0,1127.7 482.0,1127.5 483.0,1127.3 484.0,1127.1 485.0,1127.0 486.0,1126.9 487.0,1126.9 488.0,1126.9 489.0,1126.8 490.0,1126.8 491.0,1126.7 492.0,1126.6 493.0,1126.5 494.0,1126.3 495.0,1126.2 496.0,1126.0 497.0,1125.9 498.0,1125.8 499.0,1125.7 500.0,1125.6 501.0,1125.7 502.0,1125.8 503.0,1126.0 504.0,1126.1 505.0,1126.2 506.0,1126.2 507.0,1126.0 508.0,1125.7 509.0,1125.5 510.0,1125.2 511.0,1124.9 512.0,1124.7 513.0,1124.4 514.0,1124.1 515.0,1123.8 516.0,1123.6 517.0,1123.4 518.0,1123.2 519.0,1123.0 520.0,1122.9 521.0,1122.7 522.0,1122.6 523.0,1122.7 524.0,1122.9 525.0,1123.1 526.0,1123.2 527.0,1123.2 528.0,1123.0 529.0,1122.7 530.0,1122.4 531.0,1122.2 532.0,1121.9 533.0,1121.7 534.0,1121.4 535.0,1121.2 536.0,1121.0 537.0,1120.8 538.0,1120.6 539.0,1120.4 540.0,1120.2 541.0,1120.1 542.0,1119.9 543.0,1119.8 544.0,1119.7 545.0,1119.5 546.0,1119.4 547.0,1119.3 548.0,1119.2 549.0,1119.2 550.0,1119.3 551.0,1119.4 552.0,1119.4 553.0,1119.5 554.0,1119.4 555.0,1119.4 556.0,1119.3 557.0,1119.2 558.0,1119.0 559.0,1118.9 560.0,1118.8 561.0,1118.6 562.0,1118.2 563.0,1117.9 564.0,1117.5 565.0,1117.1 566.0,1116.7 567.0,1116.3 568.0,1115.9 569.0,1115.5 570.0,1115.1 571.0,1114.8 572.0,1114.4 573.0,1114.0 574.0,1113.7 575.0,1113.3 576.0,1112.9 577.0,1112.5 578.0,1112.2 579.0,1111.8 580.0,1111.4 581.0,1111.1 582.0,1110.7 583.0,1110.4 584.0,1110.1 585.0,1109.7 586.0,1109.4 587.0,1109.1 588.0,1108.8 589.0,1108.5 590.0,1108.1 591.0,1107.8 592.0,1107.4 593.0,1107.1 594.0,1106.7 595.0,1106.3 596.0,1106.0 597.0,1105.6 598.0,1105.4 599.0,1105.2 600.0,1105.2 601.0,1105.2 602.0,1105.1 603.0,1105.0 604.0,1104.8 605.0,1104.7 606.0,1104.5 607.0,1104.3 608.0,1104.2 609.0,1104.0 610.0,1103.8 611.0,1103.6 612.0,1103.5 613.0,1103.2 614.0,1103.0 615.0,1102.7 616.0,1102.4 617.0,1102.2 618.0,1102.0 619.0,1101.9 620.0,1101.9 621.0,1102.0 622.0,1102.2 623.0,1102.3 624.0,1102.5 625.0,1102.8 626.0,1103.0 627.0,1103.2 628.0,1103.2 629.0,1102.9 630.0,1102.5 631.0,1102.1 632.0,1101.6 633.0,1101.2 634.0,1100.9 635.0,1100.7 636.0,1100.5 637.0,1100.3 638.0,1100.1 639.0,1100.0 640.0,1100.0 641.0,1100.1 642.0,1100.0 643.0,1099.9 644.0,1099.6 645.0,1099.2 646.0,1098.8 647.0,1098.4 648.0,1098.0 649.0,1097.6 650.0,1097.2 651.0,1096.9 652.0,1096.5 653.0,1096.2 654.0,1095.7 655.0,1095.2 656.0,1094.6 657.0,1094.1 658.0,1093.7 659.0,1093.3 660.0,1093.0 661.0,1092.8 662.0,1092.5 663.0,1092.3 664.0,1092.0 665.0,1091.8 666.0,1091.6 667.0,1091.3 668.0,1091.1 669.0,1090.9 670.0,1090.8 671.0,1090.7 672.0,1090.6 673.0,1090.5 674.0,1090.5 675.0,1090.4 676.0,1090.3 677.0,1090.2 678.0,1090.2 679.0,1090.1 680.0,1090.0 681.0,1089.9 682.0,1089.8 683.0,1089.8 684.0,1089.7 685.0,1089.6 686.0,1089.6 687.0,1089.7 688.0,1089.8 689.0,1089.9 690.0,1090.0 691.0,1090.2 692.0,1090.4 693.0,1090.7 694.0,1091.0 695.0,1091.4 696.0,1091.9 697.0,1092.3 698.0,1092.7 699.0,1093.2 700.0,1093.7 701.0,1094.2 702.0,1094.6 703.0,1095.1 704.0,1095.5 705.0,1095.7 706.0,1095.8 707.0,1095.8 708.0,1095.8 709.0,1095.7 710.0,1095.7 711.0,1095.7 712.0,1095.7 713.0,1095.7 714.0,1095.7 715.0,1095.7 716.0,1095.7 717.0,1095.6 718.0,1095.5 719.0,1095.3 720.0,1095.1 721.0,1094.8 722.0,1094.5 723.0,1094.2 724.0,1093.8 725.0,1093.4 726.0,1092.9 727.0,1092.2 728.0,1091.4 729.0,1090.7 730.0,1090.0 731.0,1089.4 732.0,1088.9 733.0,1088.6 734.0,1088.4 735.0,1088.2 736.0,1088.2 737.0,1088.1 738.0,1088.0 739.0,1087.9 740.0,1087.8 741.0,1087.7 742.0,1087.5 743.0,1087.4 744.0,1087.2 745.0,1087.0 746.0,1086.9 747.0,1086.7 748.0,1086.6 749.0,1086.6 750.0,1086.8 751.0,1087.1 752.0,1087.4 753.0,1087.6 754.0,1087.8 755.0,1087.9 756.0,1088.1 757.0,1088.2 758.0,1088.3 759.0,1088.4 760.0,1088.5 761.0,1088.6 762.0,1088.7 763.0,1088.7 764.0,1088.8 765.0,1088.9 766.0,1089.0 767.0,1089.0 768.0,1089.1 769.0,1089.2 770.0,1089.3 771.0,1089.4 772.0,1089.5 773.0,1089.7 774.0,1089.9 775.0,1090.1 776.0,1090.5 777.0,1090.9 778.0,1091.3 779.0,1091.7 780.0,1092.1 781.0,1092.4 782.0,1092.7 783.0,1092.9 784.0,1092.9 785.0,1092.7 786.0,1092.4 787.0,1092.1 788.0,1091.7 789.0,1091.2 790.0,1090.7 791.0,1090.0 792.0,1089.3 793.0,1088.7 794.0,1088.2 795.0,1087.8 796.0,1087.5 797.0,1087.3 798.0,1087.0 799.0,1086.7 800.0,1086.4 801.0,1086.2 802.0,1085.9 803.0,1085.6 804.0,1085.4 805.0,1085.1 806.0,1084.9 807.0,1084.6 808.0,1084.3 809.0,1084.0 810.0,1083.7 811.0,1083.5 812.0,1083.2 813.0,1082.9 814.0,1082.6 815.0,1082.3 816.0,1081.9 817.0,1081.6 818.0,1081.2 819.0,1080.8 820.0,1080.3 821.0,1079.7 822.0,1079.2 823.0,1078.5 824.0,1077.7 825.0,1076.9 826.0,1076.2 827.0,1075.7 828.0,1075.6 829.0,1075.7 830.0,1076.0 831.0,1076.2 832.0,1076.5 833.0,1076.7 834.0,1076.9 835.0,1077.0 836.0,1077.0 837.0,1076.8 838.0,1076.5 839.0,1076.1 840.0,1075.8 841.0,1075.4 842.0,1075.0 843.0,1074.6 844.0,1074.3 845.0,1074.0 846.0,1073.7 847.0,1073.4 848.0,1073.1 849.0,1072.8 850.0,1072.5 851.0,1072.3 852.0,1072.0 853.0,1071.7 854.0,1071.5 855.0,1071.4 856.0,1071.5 857.0,1071.7 858.0,1071.9 859.0,1072.0 860.0,1072.1 861.0,1072.1 862.0,1072.0 863.0,1071.9 864.0,1071.7 865.0,1071.5 866.0,1071.1 867.0,1070.7 868.0,1070.2 869.0,1069.6 870.0,1069.2 871.0,1068.8 872.0,1068.6 873.0,1068.4 874.0,1068.2 875.0,1068.0 876.0,1067.7 877.0,1067.3 878.0,1066.8 879.0,1066.3 880.0,1065.8 881.0,1065.2 882.0,1064.6 883.0,1064.0 884.0,1063.4 885.0,1062.9 886.0,1062.4 887.0,1062.1 888.0,1062.0"/>
<polyline class="b" points="72.0,1132.5 73.0,1132.5 74.0,1132.5 75.0,1132.5 76.0,1132.5 77.0,1132.5 78.0,1132.5 79.0,1132.5 80.0,1132.6 81.0,1132.6 82.0,1132.6 83.0,1132.6 84.0,1132.5 85.0,1132.4 86.0,1132.3 87.0,1132.2 88.0,1132.0 89.0,1131.9 90.0,1131.8 91.0,1131.6 92.0,1131.5 93.0,1131.3 94.0,1131.2 95.0,1131.0 96.0,1130.8 97.0,1130.6 98.0,1130.3 99.0,1130.0 100.0,1129.7 101.0,1129.4 102.0,1129.1 103.0,1128.9 104.0,1128.6 105.0,1128.4 106.0,1128.1 107.0,1127.9 108.0,1127.7 109.0,1127.5 110.0,1127.3 111.0,1127.1 112.0,1127.0 113.0,1126.8 114.0,1126.7 115.0,1126.7 116.0,1126.7 117.0,1126.7 118.0,1126.8 119.0,1126.8 120.0,1126.9 121.0,1126.8 122.0,1126.8 123.0,1126.7 124.0,1126.6 125.0,1126.5 126.0,1126.5 127.0,1126.4 128.0,1126.3 129.0,1126.3 130.0,1126.2 131.0,1126.2 132.0,1126.2 133.0,1126.2 134.0,1126.2 135.0,1126.3 136.0,1126.4 137.0,1126.5 138.0,1126.6 139.0,1126.7 140.0,1126.8 141.0,1126.8 142.0,1126.8 143.0,1126.8 144.0,1126.8 145.0,1126.7 146.0,1126.7 147.0,1126.7 148.0,1126.7 149.0,1126.7 150.0,1126.7 151.0,1126.8 152.0,1126.8 153.0,1127.0 154.0,1127.2 155.0,1127.6 156.0,1128.0 157.0,1128.3 158.0,1128.6 159.0,1128.9 160.0,1129.0 161.0,1129.1 162.0,1129.1 163.0,1129.0 164.0,1128.9 165.0,1128.8 166.0,1128.7 167.0,1128.6 168.0,1128.4 169.0,1128.2 170.0,1128.1 171.0,1128.1 172.0,1128.2 173.0,1128.4 174.0,1128.6 175.0,1128.8 176.0,1129.0 177.0,1129.0 178.0,1129.0 179.0,1128.7 180.0,1128.4 181.0,1127.8 182.0,1127.1 183.0,1126.1 184.0,1125.1 185.0,1124.2 186.0,1123.5 187.0,1123.0 188.0,1122.7 189.0,1122.6 190.0,1122.7 191.0,1122.9 192.0,1123.3 193.0,1123.7 194.0,1124.2 195.0,1124.6 196.0,1125.0 197.0,1125.1 198.0,1125.2 199.0,1125.1 200.0,1125.0 201.0,1124.9 202.0,1124.7 203.0,1124.6 204.0,1124.5 205.0,1124.4 206.0,1124.6 207.0,1124.9 208.0,1125.6 209.0,1126.5 210.0,1127.8 211.0,1129.6 212.0,1131.6 213.0,1133.7 214.0,1135.8 215.0,1137.8 216.0,1139.7 217.0,1141.7 218.0,1143.5 219.0,1145.0 220.0,1146.3 221.0,1147.3 222.0,1148.3 223.0,1149.1 224.0,1150.0 225.0,1150.8 226.0,1151.6 227.0,1152.5 228.0,1153.5 229.0,1154.5 230.0,1155.7 231.0,1157.0 232.0,1158.4 233.0,1159.9 234.0,1161.4 235.0,1162.9 236.0,1164.2 237.0,1165.5 238.0,1166.5 239.0,1167.4 240.0,1168.1 241.0,1168.9 242.0,1169.6 243.0,1170.2 244.0,1170.7 245.0,1171.1 246.0,1171.5 247.0,1172.0 248.0,1172.4 249.0,1172.8 250.0,1173.3 251.0,1173.7 252.0,1174.2 253.0,1174.6 254.0,1174.8 255.0,1174.9 256.0,1174.8 257.0,1174.6 258.0,1174.4 259.0,1174.1 260.0,1173.8 261.0,1173.5 262.0,1173.2 263.0,1172.9 264.0,1172.6 265.0,1172.3 266.0,1172.0 267.0,1171.7 268.0,1171.3 269.0,1171.0 270.0,1170.7 271.0,1170.4 272.0,1170.1 273.0,1169.8 274.0,1169.4 275.0,1169.1 276.0,1168.8 277.0,1168.4 278.0,1167.9 279.0,1167.5 280.0,1166.9 281.0,1166.4 282.0,1165.9 283.0,1165.4 284.0,1164.8 285.0,1164.3 286.0,1163.8 287.0,1163.2 288.0,1162.7 289.0,1162.2 290.0,1161.7 291.0,1161.2 292.0,1160.7 293.0,1160.3 294.0,1159.9 295.0,1159.4 296.0,1159.0 297.0,1158.6 298.0,1158.1 299.0,1157.7 300.0,1157.4 301.0,1157.1 302.0,1156.8 303.0,1156.5 304.0,1156.3 305.0,1156.0 306.0,1155.7 307.0,1155.5 308.0,1155.3 309.0,1155.1 310.0,1155.0 311.0,1154.8 312.0,1154.7 313.0,1154.5 314.0,1154.4 315.0,1154.2 316.0,1154.0 317.0,1153.8 318.0,1153.6 319.0,1153.3 320.0,1153.0 321.0,1152.5 322.0,1151.8 323.0,1150.8 324.0,1149.8 325.0,1149.0 326.0,1148.2 327.0,1147.5 328.0,1146.9 329.0,1146.3 330.0,1145.7 331.0,1145.2 332.0,1144.7 333.0,1144.2 334.0,1143.8 335.0,1143.4 336.0,1143.1 337.0,1142.8 338.0,1142.6 339.0,1142.4 340.0,1142.1 341.0,1141.8 342.0,1141.5 343.0,1141.2 344.0,1140.8 345.0,1140.4 346.0,1140.0 347.0,1139.7 348.0,1139.3 349.0,1138.9 350.0,1138.5 351.0,1138.1 352.0,1137.7 353.0,1137.3 354.0,1137.0 355.0,1136.7 356.0,1136.5 357.0,1136.3 358.0,1136.0 359.0,1135.8 360.0,1135.5 361.0,1135.2 362.0,1134.9 363.0,1134.6 364.0,1134.3 365.0,1134.0 366.0,1133.7 367.0,1133.3 368.0,1132.9 369.0,1132.6 370.0,1132.2 371.0,1131.8 372.0,1131.4 373.0,1131.0 374.0,1130.6 375.0,1130.2 376.0,1129.7 377.0,1129.3 378.0,1128.8 379.0,1128.4 380.0,1127.9 381.0,1127.5 382.0,1127.0 383.0,1126.6 384.0,1126.2 385.0,1125.7 386.0,1125.3 387.0,1125.0 388.0,1124.6 389.0,1124.2 390.0,1123.8 391.0,1123.5 392.0,1123.2 393.0,1122.9 394.0,1122.8 395.0,1122.7 396.0,1122.7 397.0,1122.6 398.0,1122.4 399.0,1122.2 400.0,1121.8 401.0,1121.4 402.0,1121.1 403.0,1120.6 404.0,1120.2 405.0,1119.6 406.0,1119.0 407.0,1118.4 408.0,1117.8 409.0,1117.2 410.0,1116.7 411.0,1116.1 412.0,1115.7 413.0,1115.3 414.0,1114.9 415.0,1114.5 416.0,1114.1 417.0,1113.8 418.0,1113.4 419.0,1113.1 420.0,1112.9 421.0,1112.6 422.0,1112.4 423.0,1112.2 424.0,1112.0 425.0,1111.8 426.0,1111.6 427.0,1111.5 428.0,1111.3 429.0,1111.2 430.0,1111.0 431.0,1110.9 432.0,1110.8 433.0,1110.8 434.0,1110.7 435.0,1110.8 436.0,1110.8 437.0,1110.9 438.0,1111.0 439.0,1111.1 440.0,1111.1 441.0,1111.2 442.0,1111.3 443.0,1111.4 444.0,1111.5 445.0,1111.6 446.0,1111.6 447.0,1111.5 448.0,1111.3 449.0,1111.0 450.0,1110.7 451.0,1110.3 452.0,1109.9 453.0,1109.3 454.0,1108.6 455.0,1107.9 456.0,1107.4 457.0,1106.9 458.0,1106.6 459.0,1106.3 460.0,1106.1 461.0,1105.9 462.0,1105.7 463.0,1105.5 464.0,1105.4 465.0,1105.3 466.0,1105.2 467.0,1105.1 468.0,1105.1 469.0,1105.0 470.0,1104.9 471.0,1104.7 472.0,1104.5 473.0,1104.2 474.0,1104.0 475.0,1103.7 476.0,1103.4 477.0,1103.2 478.0,1102.9 479.0,1102.7 480.0,1102.4 481.0,1102.2 482.0,1101.9 483.0,1101.7 484.0,1101.4 485.0,1101.3 486.0,1101.2 487.0,1101.2 488.0,1101.2 489.0,1101.1 490.0,1101.1 491.0,1101.0 492.0,1100.8 493.0,1100.7 494.0,1100.5 495.0,1100.3 496.0,1100.2 497.0,1100.0 498.0,1099.8 499.0,1099.7 500.0,1099.7 501.0,1099.7 502.0,1099.9 503.0,1100.1 504.0,1100.3 505.0,1100.4 506.0,1100.3 507.0,1100.1 508.0,1099.8 509.0,1099.5 510.0,1099.2 511.0,1098.8 512.0,1098.5 513.0,1098.2 514.0,1097.8 515.0,1097.5 516.0,1097.2 517.0,1097.0 518.0,1096.7 519.0,1096.5 520.0,1096.4 521.0,1096.2 522.0,1096.1 523.0,1096.1 524.0,1096.4 525.0,1096.6 526.0,1096.8 527.0,1096.7 528.0,1096.5 529.0,1096.2 530.0,1095.8 531.0,1095.5 532.0,1095.2 533.0,1094.9 534.0,1094.6 535.0,1094.4 536.0,1094.1 537.0,1093.8 538.0,1093.6 539.0,1093.4 540.0,1093.2 541.0,1093.0 542.0,1092.9 543.0,1092.7 544.0,1092.5 545.0,1092.4 546.0,1092.2 547.0,1092.1 548.0,1092.0 549.0,1092.0 550.0,1092.1 551.0,1092.2 552.0,1092.2 553.0,1092.3 554.0,1092.3 555.0,1092.2 556.0,1092.0 557.0,1091.9 558.0,1091.8 559.0,1091.6 560.0,1091.4 561.0,1091.2 562.0,1090.8 563.0,1090.4 564.0,1089.9 565.0,1089.4 566.0,1088.9 567.0,1088.4 568.0,1088.0 569.0,1087.5 570.0,1087.1 571.0,1086.6 572.0,1086.2 573.0,1085.7 574.0,1085.3 575.0,1084.9 576.0,1084.4 577.0,1084.0 578.0,1083.5 579.0,1083.1 580.0,1082.6 581.0,1082.2 582.0,1081.8 583.0,1081.4 584.0,1081.0 585.0,1080.6 586.0,1080.2 587.0,1079.9 588.0,1079.5 589.0,1079.1 590.0,1078.7 591.0,1078.2 592.0,1077.8 593.0,1077.4 594.0,1077.0 595.0,1076.5 596.0,1076.1 597.0,1075.7 598.0,1075.4 599.0,1075.2 600.0,1075.1 601.0,1075.1 602.0,1075.0 603.0,1074.9 604.0,1074.7 605.0,1074.5 606.0,1074.3 607.0,1074.1 608.0,1073.9 609.0,1073.7 610.0,1073.5 611.0,1073.3 612.0,1073.1 613.0,1072.8 614.0,1072.5 615.0,1072.2 616.0,1071.8 617.0,1071.5 618.0,1071.3 619.0,1071.2 620.0,1071.2 621.0,1071.4 622.0,1071.5 623.0,1071.7 624.0,1072.0 625.0,1072.2 626.0,1072.5 627.0,1072.7 628.0,1072.7 629.0,1072.4 630.0,1072.0 631.0,1071.4 632.0,1070.9 633.0,1070.4 634.0,1070.0 635.0,1069.7 636.0,1069.5 637.0,1069.2 638.0,1069.1 639.0,1068.9 640.0,1068.9 641.0,1069.0 642.0,1069.0 643.0,1068.8 644.0,1068.4 645.0,1068.0 646.0,1067.5 647.0,1067.0 648.0,1066.5 649.0,1066.0 650.0,1065.6 651.0,1065.2 652.0,1064.8 653.0,1064.3 654.0,1063.8 655.0,1063.1 656.0,1062.5 657.0,1061.8 658.0,1061.3 659.0,1060.9 660.0,1060.6 661.0,1060.2 662.0,1059.9 663.0,1059.6 664.0,1059.3 665.0,1059.1 666.0,1058.8 667.0,1058.5 668.0,1058.3 669.0,1058.0 670.0,1057.9 671.0,1057.8 672.0,1057.7 673.0,1057.6 674.0,1057.5 675.0,1057.4 676.0,1057.3 677.0,1057.2 678.0,1057.1 679.0,1057.0 680.0,1056.9 681.0,1056.8 682.0,1056.7 683.0,1056.6 684.0,1056.6 685.0,1056.5 686.0,1056.5 687.0,1056.6 688.0,1056.7 689.0,1056.8 690.0,1057.0 691.0,1057.1 692.0,1057.4 693.0,1057.7 694.0,1058.1 695.0,1058.6 696.0,1059.1 697.0,1059.7 698.0,1060.2 699.0,1060.7 700.0,1061.3 701.0,1061.9 702.0,1062.5 703.0,1063.0 704.0,1063.5 705.0,1063.8 706.0,1063.9 707.0,1063.9 708.0,1063.8 709.0,1063.8 710.0,1063.8 711.0,1063.8 712.0,1063.7 713.0,1063.7 714.0,1063.7 715.0,1063.7 716.0,1063.7 717.0,1063.6 718.0,1063.5 719.0,1063.3 720.0,1063.0 721.0,1062.7 722.0,1062.3 723.0,1061.9 724.0,1061.5 725.0,1061.0 726.0,1060.4 727.0,1059.6 728.0,1058.6 729.0,1057.7 730.0,1056.9 731.0,1056.2 732.0,1055.6 733.0,1055.2 734.0,1055.0 735.0,1054.8 736.0,1054.7 737.0,1054.6 738.0,1054.5 739.0,1054.4 740.0,1054.3 741.0,1054.2 742.0,1054.0 743.0,1053.8 744.0,1053.6 745.0,1053.4 746.0,1053.1 747.0,1052.9 748.0,1052.8 749.0,1052.9 750.0,1053.1 751.0,1053.5 752.0,1053.8 753.0,1054.1 754.0,1054.3 755.0,1054.4 756.0,1054.6 757.0,1054.8 758.0,1054.9 759.0,1055.0 760.0,1055.1 761.0,1055.2 762.0,1055.3 763.0,1055.4 764.0,1055.5 765.0,1055.6 766.0,1055.7 767.0,1055.8 768.0,1055.9 769.0,1056.0 770.0,1056.1 771.0,1056.2 772.0,1056.4 773.0,1056.5 774.0,1056.8 775.0,1057.1 776.0,1057.5 777.0,1058.0 778.0,1058.4 779.0,1058.9 780.0,1059.4 781.0,1059.8 782.0,1060.2 783.0,1060.4 784.0,1060.4 785.0,1060.1 786.0,1059.8 787.0,1059.4 788.0,1059.0 789.0,1058.4 790.0,1057.7 791.0,1056.9 792.0,1056.1 793.0,1055.3 794.0,1054.7 795.0,1054.3 796.0,1054.0 797.0,1053.6 798.0,1053.3 799.0,1053.0 800.0,1052.6 801.0,1052.3 802.0,1052.0 803.0,1051.7 804.0,1051.4 805.0,1051.1 806.0,1050.7 807.0,1050.4 808.0,1050.1 809.0,1049.7 810.0,1049.4 811.0,1049.1 812.0,1048.7 813.0,1048.4 814.0,1048.0 815.0,1047.6 816.0,1047.2 817.0,1046.8 818.0,1046.4 819.0,1045.9 820.0,1045.3 821.0,1044.6 822.0,1043.9 823.0,1043.1 824.0,1042.2 825.0,1041.2 826.0,1040.3 827.0,1039.8 828.0,1039.6 829.0,1039.8 830.0,1040.1 831.0,1040.4 832.0,1040.7 833.0,1041.0 834.0,1041.2 835.0,1041.3 836.0,1041.3 837.0,1041.0 838.0,1040.7 839.0,1040.3 840.0,1039.8 841.0,1039.4 842.0,1038.9 843.0,1038.5 844.0,1038.0 845.0,1037.7 846.0,1037.3 847.0,1037.0 848.0,1036.6 849.0,1036.3 850.0,1036.0 851.0,1035.6 852.0,1035.3 853.0,1035.0 854.0,1034.7 855.0,1034.7 856.0,1034.7 857.0,1034.9 858.0,1035.1 859.0,1035.3 860.0,1035.4 861.0,1035.4 862.0,1035.3 863.0,1035.2 864.0,1035.0 865.0,1034.7 866.0,1034.2 867.0,1033.7 868.0,1033.1 869.0,1032.5 870.0,1031.9 871.0,1031.5 872.0,1031.2 873.0,1031.0 874.0,1030.7 875.0,1030.5 876.0,1030.2 877.0,1029.7 878.0,1029.1 879.0,1028.5 880.0,1027.9 881.0,1027.2 882.0,1026.5 883.0,1025.8 884.0,1025.0 885.0,1024.4 886.0,1023.8 887.0,1023.5 888.0,1023.3"/>
<polyline class="b" points="72.0,1112.0 73.0,1112.0 74.0,1112.0 75.0,1112.0 76.0,1112.0 77.0,1112.0 78.0,1112.0 79.0,1112.1 80.0,1112.1 81.0,1112.2 82.0,1112.2 83.0,1112.2 84.0,1112.1 85.0,1111.9 86.0,1111.8 87.0,1111.6 88.0,1111.5 89.0,1111.3 90.0,1111.1 91.0,1111.0 92.0,1110.8 93.0,1110.6 94.0,1110.5 95.0,1110.3 96.0,1110.0 97.0,1109.7 98.0,1109.4 99.0,1109.1 100.0,1108.8 101.0,1108.4 102.0,1108.1 103.0,1107.8 104.0,1107.5 105.0,1107.2 106.0,1106.9 107.0,1106.7 108.0,1106.4 109.0,1106.2 110.0,1105.9 111.0,1105.7 112.0,1105.6 113.0,1105.4 114.0,1105.3 115.0,1105.2 116.0,1105.2 117.0,1105.3 118.0,1105.3 119.0,1105.4 120.0,1105.4 121.0,1105.4 122.0,1105.3 123.0,1105.2 124.0,1105.2 125.0,1105.1 126.0,1105.0 127.0,1104.9 128.0,1104.8 129.0,1104.8 130.0,1104.7 131.0,1104.7 132.0,1104.6 133.0,1104.6 134.0,1104.7 135.0,1104.8 136.0,1104.9 137.0,1105.0 138.0,1105.1 139.0,1105.2 140.0,1105.3 141.0,1105.4 142.0,1105.4 143.0,1105.3 144.0,1105.3 145.0,1105.3 146.0,1105.3 147.0,1105.2 148.0,1105.2 149.0,1105.2 150.0,1105.3 151.0,1105.3 152.0,1105.4 153.0,1105.6 154.0,1105.9 155.0,1106.3 156.0,1106.7 157.0,1107.2 158.0,1107.5 159.0,1107.8 160.0,1108.0 161.0,1108.1 162.0,1108.1 163.0,1108.0 164.0,1107.9 165.0,1107.8 166.0,1107.6 167.0,1107.5 168.0,1107.3 169.0,1107.0 170.0,1106.9 171.0,1106.8 172.0,1107.0 173.0,1107.2 174.0,1107.5 175.0,1107.7 176.0,1107.9 177.0,1108.0 178.0,1107.9 179.0,1107.6 180.0,1107.2 181.0,1106.6 182.0,1105.7 183.0,1104.6 184.0,1103.4 185.0,1102.3 186.0,1101.5 187.0,1100.9 188.0,1100.5 189.0,1100.4 190.0,1100.5 191.0,1100.8 192.0,1101.3 193.0,1101.7 194.0,1102.3 195.0,1102.8 196.0,1103.2 197.0,1103.4 198.0,1103.5 199.0,1103.4 200.0,1103.3 201.0,1103.1 202.0,1103.0 203.0,1102.8 204.0,1102.6 205.0,1102.6 206.0,1102.8 207.0,1103.2 208.0,1103.9 209.0,1105.0 210.0,1106.6 211.0,1108.6 212.0,1111.0 213.0,1113.4 214.0,1115.8 215.0,1118.1 216.0,1120.5 217.0,1122.7 218.0,1124.8 219.0,1126.6 220.0,1128.1 221.0,1129.3 222.0,1130.4 223.0,1131.4 224.0,1132.4 225.0,1133.3 226.0,1134.3 227.0,1135.4 228.0,1136.5 229.0,1137.7 230.0,1139.1 231.0,1140.6 232.0,1142.3 233.0,1144.0 234.0,1145.8 235.0,1147.5 236.0,1149.1 237.0,1150.5 238.0,1151.7 239.0,1152.7 240.0,1153.6 241.0,1154.5 242.0,1155.3 243.0,1156.0 244.0,1156.6 245.0,1157.1 246.0,1157.6 247.0,1158.1 248.0,1158.5 249.0,1159.1 250.0,1159.6 251.0,1160.1 252.0,1160.6 253.0,1161.1 254.0,1161.4 255.0,1161.5 256.0,1161.4 257.0,1161.2 258.0,1160.9 259.0,1160.6 260.0,1160.3 261.0,1159.9 262.0,1159.5 263.0,1159.2 264.0,1158.8 265.0,1158.4 266.0,1158.1 267.0,1157.7 268.0,1157.3 269.0,1157.0 270.0,1156.6 271.0,1156.3 272.0,1155.9 273.0,1155.5 274.0,1155.1 275.0,1154.7 276.0,1154.3 277.0,1153.9 278.0,1153.4 279.0,1152.8 280.0,1152.2 281.0,1151.6 282.0,1151.0 283.0,1150.3 284.0,1149.7 285.0,1149.1 286.0,1148.5 287.0,1147.9 288.0,1147.3 289.0,1146.7 290.0,1146.1 291.0,1145.5 292.0,1145.0 293.0,1144.4 294.0,1143.9 295.0,1143.4 296.0,1142.9 297.0,1142.4 298.0,1141.9 299.0,1141.5 300.0,1141.0 301.0,1140.7 302.0,1140.4 303.0,1140.0 304.0,1139.7 305.0,1139.4 306.0,1139.1 307.0,1138.8 308.0,1138.6 309.0,1138.4 310.0,1138.2 311.0,1138.1 312.0,1137.9 313.0,1137.7 314.0,1137.5 315.0,1137.3 316.0,1137.1 317.0,1136.8 318.0,1136.6 319.0,1136.3 320.0,1136.0 321.0,1135.4 322.0,1134.5 323.0,1133.4 324.0,1132.2 325.0,1131.2 326.0,1130.3 327.0,1129.6 328.0,1128.8 329.0,1128.1 330.0,1127.4 331.0,1126.8 332.0,1126.3 333.0,1125.7 334.0,1125.2 335.0,1124.7 336.0,1124.4 337.0,1124.1 338.0,1123.8 339.0,1123.5 340.0,1123.3 341.0,1122.9 342.0,1122.5 343.0,1122.1 344.0,1121.7 345.0,1121.3 346.0,1120.8 347.0,1120.4 348.0,1119.9 349.0,1119.4 350.0,1119.0 351.0,1118.5 352.0,1118.1 353.0,1117.6 354.0,1117.3 355.0,1117.0 356.0,1116.7 357.0,1116.4 358.0,1116.2 359.0,1115.9 360.0,1115.5 361.0,1115.2 362.0,1114.9 363.0,1114.5 364.0,1114.1 365.0,1113.8 366.0,1113.4 367.0,1113.0 368.0,1112.5 369.0,1112.1 370.0,1111.6 371.0,1111.2 372.0,1110.8 373.0,1110.3 374.0,1109.8 375.0,1109.3 376.0,1108.8 377.0,1108.3 378.0,1107.7 379.0,1107.2 380.0,1106.7 381.0,1106.1 382.0,1105.6 383.0,1105.1 384.0,1104.6 385.0,1104.1 386.0,1103.7 387.0,1103.2 388.0,1102.8 389.0,1102.3 390.0,1101.9 391.0,1101.5 392.0,1101.1 393.0,1100.9 394.0,1100.7 395.0,1100.6 396.0,1100.5 397.0,1100.4 398.0,1100.2 399.0,1099.9 400.0,1099.6 401.0,1099.1 402.0,1098.7 403.0,1098.2 404.0,1097.6 405.0,1097.0 406.0,1096.3 407.0,1095.6 408.0,1094.9 409.0,1094.2 410.0,1093.5 411.0,1092.9 412.0,1092.4 413.0,1091.9 414.0,1091.5 415.0,1091.0 416.0,1090.6 417.0,1090.2 418.0,1089.8 419.0,1089.4 420.0,1089.1 421.0,1088.8 422.0,1088.6 423.0,1088.3 424.0,1088.1 425.0,1087.9 426.0,1087.7 427.0,1087.5 428.0,1087.3 429.0,1087.1 430.0,1087.0 431.0,1086.8 432.0,1086.7 433.0,1086.6 434.0,1086.6 435.0,1086.7 436.0,1086.7 437.0,1086.8 438.0,1086.9 439.0,1087.0 440.0,1087.1 441.0,1087.2 442.0,1087.3 443.0,1087.4 444.0,1087.5 445.0,1087.6 446.0,1087.6 447.0,1087.5 448.0,1087.3 449.0,1086.9 450.0,1086.6 451.0,1086.1 452.0,1085.6 453.0,1084.9 454.0,1084.1 455.0,1083.4 456.0,1082.7 457.0,1082.2 458.0,1081.8 459.0,1081.5 460.0,1081.2 461.0,1081.0 462.0,1080.7 463.0,1080.5 464.0,1080.4 465.0,1080.3 466.0,1080.2 467.0,1080.1 468.0,1080.0 469.0,1079.9 470.0,1079.8 471.0,1079.6 472.0,1079.3 473.0,1079.0 474.0,1078.7 475.0,1078.4 476.0,1078.1 477.0,1077.8 478.0,1077.5 479.0,1077.2 480.0,1076.9 481.0,1076.6 482.0,1076.3 483.0,1076.0 484.0,1075.8 485.0,1075.6 486.0,1075.5 487.0,1075.5 488.0,1075.4 489.0,1075.4 490.0,1075.4 491.0,1075.2 492.0,1075.1 493.0,1074.9 494.0,1074.7 495.0,1074.5 496.0,1074.3 497.0,1074.1 498.0,1073.9 499.0,1073.8 500.0,1073.7 501.0,1073.8 502.0,1073.9 503.0,1074.2 504.0,1074.4 505.0,1074.6 506.0,1074.5 507.0,1074.2 508.0,1073.9 509.0,1073.5 510.0,1073.1 511.0,1072.7 512.0,1072.3 513.0,1072.0 514.0,1071.6 515.0,1071.2 516.0,1070.9 517.0,1070.6 518.0,1070.3 519.0,1070.1 520.0,1069.9 521.0,1069.6 522.0,1069.5 523.0,1069.6 524.0,1069.8 525.0,1070.2 526.0,1070.4 527.0,1070.3 528.0,1070.0 529.0,1069.6 530.0,1069.3 531.0,1068.9 532.0,1068.5 533.0,1068.2 534.0,1067.8 535.0,1067.5 536.0,1067.2 537.0,1066.9 538.0,1066.6 539.0,1066.4 540.0,1066.1 541.0,1065.9 542.0,1065.8 543.0,1065.6 544.0,1065.4 545.0,1065.2 546.0,1065.0 547.0,1064.8 548.0,1064.8 549.0,1064.8 550.0,1064.8 551.0,1064.9 552.0,1065.0 553.0,1065.1 554.0,1065.1 555.0,1065.0 556.0,1064.8 557.0,1064.7 558.0,1064.5 559.0,1064.3 560.0,1064.1 561.0,1063.8 562.0,1063.4 563.0,1062.9 564.0,1062.3 565.0,1061.7 566.0,1061.2 567.0,1060.6 568.0,1060.1 569.0,1059.6 570.0,1059.0 571.0,1058.5 572.0,1058.0 573.0,1057.5 574.0,1056.9 575.0,1056.4 576.0,1055.9 577.0,1055.4 578.0,1054.9 579.0,1054.3 580.0,1053.8 581.0,1053.3 582.0,1052.8 583.0,1052.4 584.0,1051.9 585.0,1051.5 586.0,1051.0 587.0,1050.6 588.0,1050.2 589.0,1049.7 590.0,1049.2 591.0,1048.7 592.0,1048.2 593.0,1047.7 594.0,1047.2 595.0,1046.7 596.0,1046.2 597.0,1045.7 598.0,1045.4 599.0,1045.2 600.0,1045.1 601.0,1045.0 602.0,1045.0 603.0,1044.8 604.0,1044.6 605.0,1044.4 606.0,1044.1 607.0,1043.9 608.0,1043.7 609.0,1043.4 610.0,1043.2 611.0,1042.9 612.0,1042.7 613.0,1042.4 614.0,1042.0 615.0,1041.6 616.0,1041.2 617.0,1040.8 618.0,1040.6 619.0,1040.5 620.0,1040.5 621.0,1040.7 622.0,1040.9 623.0,1041.1 624.0,1041.4 625.0,1041.7 626.0,1042.0 627.0,1042.3 628.0,1042.3 629.0,1041.9 630.0,1041.4 631.0,1040.8 632.0,1040.1 633.0,1039.6 634.0,1039.1 635.0,1038.8 636.0,1038.5 637.0,1038.2 638.0,1038.0 639.0,1037.9 640.0,1037.9 641.0,1037.9 642.0,1037.9 643.0,1037.7 644.0,1037.3 645.0,1036.7 646.0,1036.1 647.0,1035.5 648.0,1035.0 649.0,1034.5 650.0,1034.0 651.0,1033.5 652.0,1033.0 653.0,1032.5 654.0,1031.8 655.0,1031.1 656.0,1030.3 657.0,1029.6 658.0,1029.0 659.0,1028.5 660.0,1028.1 661.0,1027.7 662.0,1027.3 663.0,1027.0 664.0,1026.7 665.0,1026.3 666.0,1026.0 667.0,1025.7 668.0,1025.4 669.0,1025.2 670.0,1024.9 671.0,1024.8 672.0,1024.7 673.0,1024.6 674.0,1024.5 675.0,1024.4 676.0,1024.3 677.0,1024.2 678.0,1024.1 679.0,1024.0 680.0,1023.8 681.0,1023.7 682.0,1023.6 683.0,1023.5 684.0,1023.4 685.0,1023.3 686.0,1023.3 687.0,1023.4 688.0,1023.6 689.0,1023.7 690.0,1023.9 691.0,1024.1 692.0,1024.3 693.0,1024.8 694.0,1025.3 695.0,1025.8 696.0,1026.4 697.0,1027.0 698.0,1027.7 699.0,1028.3 700.0,1029.0 701.0,1029.7 702.0,1030.3 703.0,1031.0 704.0,1031.5 705.0,1031.8 706.0,1031.9 707.0,1032.0 708.0,1031.9 709.0,1031.9 710.0,1031.8 711.0,1031.8 712.0,1031.8 713.0,1031.8 714.0,1031.8 715.0,1031.8 716.0,1031.7 717.0,1031.7 718.0,1031.6 719.0,1031.3 720.0,1030.9 721.0,1030.5 722.0,1030.1 723.0,1029.6 724.0,1029.2 725.0,1028.6 726.0,1027.9 727.0,1026.9 728.0,1025.8 729.0,1024.8 730.0,1023.8 731.0,1023.0 732.0,1022.3 733.0,1021.9 734.0,1021.6 735.0,1021.4 736.0,1021.3 737.0,1021.1 738.0,1021.0 739.0,1020.9 740.0,1020.8 741.0,1020.6 742.0,1020.4 743.0,1020.2 744.0,1019.9 745.0,1019.7 746.0,1019.4 747.0,1019.2 748.0,1019.1 749.0,1019.1 750.0,1019.4 751.0,1019.8 752.0,1020.2 753.0,1020.5 754.0,1020.8 755.0,1020.9 756.0,1021.1 757.0,1021.3 758.0,1021.5 759.0,1021.6 760.0,1021.8 761.0,1021.9 762.0,1022.0 763.0,1022.1 764.0,1022.2 765.0,1022.3 766.0,1022.4 767.0,1022.5 768.0,1022.6 769.0,1022.8 770.0,1022.9 771.0,1023.1 772.0,1023.2 773.0,1023.4 774.0,1023.7 775.0,1024.0 776.0,1024.5 777.0,1025.1 778.0,1025.6 779.0,1026.2 780.0,1026.7 781.0,1027.3 782.0,1027.7 783.0,1027.9 784.0,1027.8 785.0,1027.6 786.0,1027.2 787.0,1026.7 788.0,1026.2 789.0,1025.6 790.0,1024.8 791.0,1023.8 792.0,1022.9 793.0,1022.0 794.0,1021.3 795.0,1020.8 796.0,1020.4 797.0,1020.0 798.0,1019.6 799.0,1019.2 800.0,1018.9 801.0,1018.5 802.0,1018.1 803.0,1017.7 804.0,1017.4 805.0,1017.0 806.0,1016.6 807.0,1016.2 808.0,1015.9 809.0,1015.5 810.0,1015.1 811.0,1014.7 812.0,1014.3 813.0,1013.9 814.0,1013.4 815.0,1013.0 816.0,1012.5 817.0,1012.1 818.0,1011.6 819.0,1011.0 820.0,1010.2 821.0,1009.5 822.0,1008.7 823.0,1007.7 824.0,1006.7 825.0,1005.5 826.0,1004.5 827.0,1003.8 828.0,1003.7 829.0,1003.8 830.0,1004.2 831.0,1004.5 832.0,1004.9 833.0,1005.2 834.0,1005.5 835.0,1005.7 836.0,1005.6 837.0,1005.3 838.0,1004.9 839.0,1004.4 840.0,1003.9 841.0,1003.4 842.0,1002.8 843.0,1002.3 844.0,1001.8 845.0,1001.4 846.0,1001.0 847.0,1000.6 848.0,1000.2 849.0,999.8 850.0,999.4 851.0,999.0 852.0,998.6 853.0,998.2 854.0,998.0 855.0,997.9 856.0,998.0 857.0,998.2 858.0,998.4 859.0,998.6 860.0,998.7 861.0,998.7 862.0,998.6 863.0,998.5 864.0,998.2 865.0,997.9 866.0,997.4 867.0,996.8 868.0,996.1 869.0,995.3 870.0,994.7 871.0,994.2 872.0,993.8 873.0,993.6 874.0,993.3 875.0,993.0 876.0,992.6 877.0,992.1 878.0,991.4 879.0,990.7 880.0,989.9 881.0,989.1 882.0,988.3 883.0,987.5 884.0,986.6 885.0,985.9 886.0,985.2 887.0,984.8 888.0,984.6"/>
<polyline class="b" points="72.0,1091.5 73.0,1091.5 74.0,1091.5 75.0,1091.5 76.0,1091.5 77.0,1091.5 78.0,1091.5 79.0,1091.6 80.0,1091.6 81.0,1091.7 82.0,1091.7 83.0,1091.7 84.0,1091.6 85.0,1091.4 86.0,1091.3 87.0,1091.1 88.0,1090.9 89.0,1090.7 90.0,1090.5 91.0,1090.3 92.0,1090.1 93.0,1089.9 94.0,1089.7 95.0,1089.5 96.0,1089.3 97.0,1088.9 98.0,1088.6 99.0,1088.2 100.0,1087.8 101.0,1087.4 102.0,1087.1 103.0,1086.7 104.0,1086.4 105.0,1086.0 106.0,1085.7 107.0,1085.4 108.0,1085.1 109.0,1084.8 110.0,1084.6 111.0,1084.4 112.0,1084.1 113.0,1084.0 114.0,1083.8 115.0,1083.7 116.0,1083.8 117.0,1083.8 118.0,1083.9 119.0,1084.0 120.0,1084.0 121.0,1084.0 122.0,1083.9 123.0,1083.8 124.0,1083.7 125.0,1083.6 126.0,1083.5 127.0,1083.4 128.0,1083.3 129.0,1083.3 130.0,1083.2 131.0,1083.1 132.0,1083.1 133.0,1083.1 134.0,1083.1 135.0,1083.2 136.0,1083.4 137.0,1083.5 138.0,1083.6 139.0,1083.8 140.0,1083.9 141.0,1083.9 142.0,1083.9 143.0,1083.9 144.0,1083.9 145.0,1083.8 146.0,1083.8 147.0,1083.8 148.0,1083.8 149.0,1083.8 150.0,1083.8 151.0,1083.9 152.0,1084.0 153.0,1084.2 154.0,1084.5 155.0,1085.0 156.0,1085.5 157.0,1086.0 158.0,1086.4 159.0,1086.7 160.0,1086.9 161.0,1087.0 162.0,1087.0 163.0,1086.9 164.0,1086.8 165.0,1086.7 166.0,1086.5 167.0,1086.3 168.0,1086.1 169.0,1085.9 170.0,1085.7 171.0,1085.6 172.0,1085.8 173.0,1086.0 174.0,1086.4 175.0,1086.6 176.0,1086.8 177.0,1086.9 178.0,1086.8 179.0,1086.5 180.0,1086.0 181.0,1085.3 182.0,1084.3 183.0,1083.0 184.0,1081.7 185.0,1080.5 186.0,1079.5 187.0,1078.8 188.0,1078.4 189.0,1078.3 190.0,1078.4 191.0,1078.8 192.0,1079.2 193.0,1079.8 194.0,1080.4 195.0,1081.0 196.0,1081.5 197.0,1081.7 198.0,1081.8 199.0,1081.7 200.0,1081.5 201.0,1081.4 202.0,1081.2 203.0,1081.0 204.0,1080.8 205.0,1080.8 206.0,1081.0 207.0,1081.5 208.0,1082.3 209.0,1083.5 210.0,1085.3 211.0,1087.6 212.0,1090.3 213.0,1093.1 214.0,1095.9 215.0,1098.5 216.0,1101.2 217.0,1103.8 218.0,1106.2 219.0,1108.2 220.0,1109.9 221.0,1111.3 222.0,1112.6 223.0,1113.7 224.0,1114.8 225.0,1115.9 226.0,1117.0 227.0,1118.2 228.0,1119.5 229.0,1120.9 230.0,1122.5 231.0,1124.2 232.0,1126.1 233.0,1128.1 234.0,1130.1 235.0,1132.0 236.0,1133.9 237.0,1135.5 238.0,1136.8 239.0,1138.0 240.0,1139.1 241.0,1140.1 242.0,1141.0 243.0,1141.8 244.0,1142.5 245.0,1143.0 246.0,1143.6 247.0,1144.1 248.0,1144.7 249.0,1145.3 250.0,1145.9 251.0,1146.5 252.0,1147.1 253.0,1147.6 254.0,1148.0 255.0,1148.1 256.0,1148.0 257.0,1147.7 258.0,1147.4 259.0,1147.1 260.0,1146.7 261.0,1146.3 262.0,1145.8 263.0,1145.4 264.0,1145.0 265.0,1144.6 266.0,1144.2 267.0,1143.7 268.0,1143.3 269.0,1142.9 270.0,1142.5 271.0,1142.1 272.0,1141.7 273.0,1141.2 274.0,1140.8 275.0,1140.3 276.0,1139.9 277.0,1139.4 278.0,1138.8 279.0,1138.1 280.0,1137.5 281.0,1136.8 282.0,1136.0 283.0,1135.3 284.0,1134.6 285.0,1133.9 286.0,1133.2 287.0,1132.5 288.0,1131.8 289.0,1131.1 290.0,1130.5 291.0,1129.8 292.0,1129.2 293.0,1128.6 294.0,1128.0 295.0,1127.4 296.0,1126.9 297.0,1126.3 298.0,1125.7 299.0,1125.2 300.0,1124.7 301.0,1124.3 302.0,1123.9 303.0,1123.6 304.0,1123.2 305.0,1122.8 306.0,1122.5 307.0,1122.2 308.0,1121.9 309.0,1121.7 310.0,1121.5 311.0,1121.3 312.0,1121.1 313.0,1120.9 314.0,1120.7 315.0,1120.4 316.0,1120.2 317.0,1119.9 318.0,1119.6 319.0,1119.3 320.0,1118.9 321.0,1118.3 322.0,1117.2 323.0,1116.0 324.0,1114.7 325.0,1113.5 326.0,1112.5 327.0,1111.6 328.0,1110.7 329.0,1109.9 330.0,1109.2 331.0,1108.5 332.0,1107.8 333.0,1107.2 334.0,1106.6 335.0,1106.1 336.0,1105.6 337.0,1105.3 338.0,1105.0 339.0,1104.7 340.0,1104.4 341.0,1104.0 342.0,1103.5 343.0,1103.1 344.0,1102.6 345.0,1102.1 346.0,1101.6 347.0,1101.1 348.0,1100.6 349.0,1100.0 350.0,1099.5 351.0,1099.0 352.0,1098.4 353.0,1097.9 354.0,1097.5 355.0,1097.2 356.0,1096.9 357.0,1096.6 358.0,1096.3 359.0,1095.9 360.0,1095.6 361.0,1095.2 362.0,1094.8 363.0,1094.4 364.0,1093.9 365.0,1093.5 366.0,1093.1 367.0,1092.6 368.0,1092.1 369.0,1091.6 370.0,1091.1 371.0,1090.6 372.0,1090.1 373.0,1089.6 374.0,1089.0 375.0,1088.5 376.0,1087.9 377.0,1087.2 378.0,1086.6 379.0,1086.0 380.0,1085.4 381.0,1084.8 382.0,1084.2 383.0,1083.6 384.0,1083.1 385.0,1082.5 386.0,1082.0 387.0,1081.5 388.0,1081.0 389.0,1080.5 390.0,1080.0 391.0,1079.5 392.0,1079.1 393.0,1078.8 394.0,1078.6 395.0,1078.5 396.0,1078.4 397.0,1078.3 398.0,1078.1 399.0,1077.7 400.0,1077.3 401.0,1076.8 402.0,1076.3 403.0,1075.7 404.0,1075.1 405.0,1074.4 406.0,1073.6 407.0,1072.8 408.0,1072.0 409.0,1071.2 410.0,1070.4 411.0,1069.7 412.0,1069.1 413.0,1068.6 414.0,1068.1 415.0,1067.6 416.0,1067.1 417.0,1066.6 418.0,1066.1 419.0,1065.7 420.0,1065.3 421.0,1065.0 422.0,1064.7 423.0,1064.5 424.0,1064.2 425.0,1063.9 426.0,1063.7 427.0,1063.5 428.0,1063.3 429.0,1063.1 430.0,1062.9 431.0,1062.8 432.0,1062.6 433.0,1062.5 434.0,1062.5 435.0,1062.6 436.0,1062.7 437.0,1062.7 438.0,1062.8 439.0,1062.9 440.0,1063.0 441.0,1063.1 442.0,1063.3 443.0,1063.4 444.0,1063.5 445.0,1063.6 446.0,1063.6 447.0,1063.5 448.0,1063.2 449.0,1062.9 450.0,1062.5 451.0,1062.0 452.0,1061.3 453.0,1060.6 454.0,1059.7 455.0,1058.8 456.0,1058.0 457.0,1057.4 458.0,1057.0 459.0,1056.7 460.0,1056.3 461.0,1056.0 462.0,1055.8 463.0,1055.5 464.0,1055.3 465.0,1055.2 466.0,1055.1 467.0,1055.1 468.0,1055.0 469.0,1054.9 470.0,1054.7 471.0,1054.5 472.0,1054.2 473.0,1053.8 474.0,1053.5 475.0,1053.1 476.0,1052.8 477.0,1052.4 478.0,1052.1 479.0,1051.8 480.0,1051.4 481.0,1051.1 482.0,1050.7 483.0,1050.4 484.0,1050.1 485.0,1049.9 486.0,1049.8 487.0,1049.8 488.0,1049.7 489.0,1049.7 490.0,1049.6 491.0,1049.5 492.0,1049.3 493.0,1049.1 494.0,1048.9 495.0,1048.6 496.0,1048.4 497.0,1048.2 498.0,1048.0 499.0,1047.8 500.0,1047.7 501.0,1047.8 502.0,1048.0 503.0,1048.3 504.0,1048.6 505.0,1048.7 506.0,1048.6 507.0,1048.3 508.0,1047.9 509.0,1047.5 510.0,1047.1 511.0,1046.6 512.0,1046.2 513.0,1045.8 514.0,1045.3 515.0,1044.9 516.0,1044.5 517.0,1044.1 518.0,1043.9 519.0,1043.6 520.0,1043.3 521.0,1043.1 522.0,1043.0 523.0,1043.0 524.0,1043.3 525.0,1043.7 526.0,1043.9 527.0,1043.8 528.0,1043.5 529.0,1043.1 530.0,1042.7 531.0,1042.2 532.0,1041.8 533.0,1041.4 534.0,1041.0 535.0,1040.7 536.0,1040.3 537.0,1040.0 538.0,1039.6 539.0,1039.4 540.0,1039.1 541.0,1038.9 542.0,1038.7 543.0,1038.5 544.0,1038.2 545.0,1038.0 546.0,1037.8 547.0,1037.6 548.0,1037.5 549.0,1037.5 550.0,1037.6 551.0,1037.7 552.0,1037.8 553.0,1037.9 554.0,1037.9 555.0,1037.8 556.0,1037.6 557.0,1037.4 558.0,1037.2 559.0,1037.0 560.0,1036.8 561.0,1036.4 562.0,1036.0 563.0,1035.4 564.0,1034.7 565.0,1034.1 566.0,1033.4 567.0,1032.8 568.0,1032.2 569.0,1031.6 570.0,1031.0 571.0,1030.4 572.0,1029.8 573.0,1029.2 574.0,1028.6 575.0,1028.0 576.0,1027.4 577.0,1026.8 578.0,1026.2 579.0,1025.6 580.0,1025.0 581.0,1024.5 582.0,1023.9 583.0,1023.4 584.0,1022.9 585.0,1022.4 586.0,1021.8 587.0,1021.3 588.0,1020.8 589.0,1020.3 590.0,1019.8 591.0,1019.2 592.0,1018.6 593.0,1018.0 594.0,1017.5 595.0,1016.9 596.0,1016.3 597.0,1015.8 598.0,1015.4 599.0,1015.2 600.0,1015.1 601.0,1015.0 602.0,1014.9 603.0,1014.7 604.0,1014.5 605.0,1014.2 606.0,1013.9 607.0,1013.7 608.0,1013.4 609.0,1013.1 610.0,1012.9 611.0,1012.6 612.0,1012.3 613.0,1011.9 614.0,1011.5 615.0,1011.1 616.0,1010.6 617.0,1010.2 618.0,1009.9 619.0,1009.8 620.0,1009.8 621.0,1010.0 622.0,1010.2 623.0,1010.5 624.0,1010.8 625.0,1011.2 626.0,1011.6 627.0,1011.8 628.0,1011.8 629.0,1011.5 630.0,1010.8 631.0,1010.1 632.0,1009.4 633.0,1008.7 634.0,1008.2 635.0,1007.8 636.0,1007.5 637.0,1007.2 638.0,1006.9 639.0,1006.8 640.0,1006.8 641.0,1006.8 642.0,1006.8 643.0,1006.6 644.0,1006.1 645.0,1005.5 646.0,1004.8 647.0,1004.1 648.0,1003.5 649.0,1002.9 650.0,1002.3 651.0,1001.8 652.0,1001.2 653.0,1000.6 654.0,999.9 655.0,999.0 656.0,998.1 657.0,997.3 658.0,996.6 659.0,996.1 660.0,995.6 661.0,995.2 662.0,994.8 663.0,994.4 664.0,994.0 665.0,993.6 666.0,993.3 667.0,992.9 668.0,992.6 669.0,992.3 670.0,992.0 671.0,991.9 672.0,991.7 673.0,991.6 674.0,991.5 675.0,991.4 676.0,991.3 677.0,991.1 678.0,991.0 679.0,990.9 680.0,990.8 681.0,990.6 682.0,990.5 683.0,990.4 684.0,990.3 685.0,990.2 686.0,990.2 687.0,990.3 688.0,990.4 689.0,990.6 690.0,990.8 691.0,991.0 692.0,991.3 693.0,991.8 694.0,992.4 695.0,993.0 696.0,993.7 697.0,994.4 698.0,995.1 699.0,995.9 700.0,996.6 701.0,997.4 702.0,998.2 703.0,998.9 704.0,999.5 705.0,999.9 706.0,1000.0 707.0,1000.0 708.0,1000.0 709.0,1000.0 710.0,999.9 711.0,999.9 712.0,999.8 713.0,999.8 714.0,999.8 715.0,999.8 716.0,999.8 717.0,999.7 718.0,999.6 719.0,999.3 720.0,998.9 721.0,998.4 722.0,997.9 723.0,997.4 724.0,996.9 725.0,996.2 726.0,995.4 727.0,994.3 728.0,993.1 729.0,991.8 730.0,990.7 731.0,989.8 732.0,989.0 733.0,988.5 734.0,988.1 735.0,987.9 736.0,987.8 737.0,987.7 738.0,987.6 739.0,987.4 740.0,987.3 741.0,987.1 742.0,986.8 743.0,986.6 744.0,986.3 745.0,986.0 746.0,985.7 747.0,985.5 748.0,985.3 749.0,985.4 750.0,985.7 751.0,986.2 752.0,986.7 753.0,987.0 754.0,987.2 755.0,987.5 756.0,987.7 757.0,987.9 758.0,988.1 759.0,988.2 760.0,988.4 761.0,988.5 762.0,988.6 763.0,988.7 764.0,988.9 765.0,989.0 766.0,989.1 767.0,989.2 768.0,989.4 769.0,989.5 770.0,989.7 771.0,989.9 772.0,990.0 773.0,990.3 774.0,990.6 775.0,991.0 776.0,991.5 777.0,992.1 778.0,992.8 779.0,993.4 780.0,994.0 781.0,994.7 782.0,995.2 783.0,995.4 784.0,995.3 785.0,995.0 786.0,994.6 787.0,994.1 788.0,993.5 789.0,992.7 790.0,991.8 791.0,990.7 792.0,989.6 793.0,988.6 794.0,987.9 795.0,987.3 796.0,986.8 797.0,986.4 798.0,985.9 799.0,985.5 800.0,985.1 801.0,984.6 802.0,984.2 803.0,983.8 804.0,983.4 805.0,982.9 806.0,982.5 807.0,982.1 808.0,981.6 809.0,981.2 810.0,980.8 811.0,980.3 812.0,979.8 813.0,979.4 814.0,978.9 815.0,978.4 816.0,977.9 817.0,977.3 818.0,976.7 819.0,976.0 820.0,975.2 821.0,974.4 822.0,973.4 823.0,972.4 824.0,971.1 825.0,969.8 826.0,968.6 827.0,967.9 828.0,967.7 829.0,967.9 830.0,968.3 831.0,968.7 832.0,969.1 833.0,969.5 834.0,969.8 835.0,970.0 836.0,969.9 837.0,969.6 838.0,969.1 839.0,968.6 840.0,968.0 841.0,967.4 842.0,966.8 843.0,966.2 844.0,965.6 845.0,965.1 846.0,964.6 847.0,964.2 848.0,963.7 849.0,963.3 850.0,962.8 851.0,962.4 852.0,961.9 853.0,961.5 854.0,961.2 855.0,961.1 856.0,961.2 857.0,961.4 858.0,961.7 859.0,962.0 860.0,962.1 861.0,962.0 862.0,961.9 863.0,961.8 864.0,961.5 865.0,961.1 866.0,960.5 867.0,959.8 868.0,959.0 869.0,958.2 870.0,957.5 871.0,956.9 872.0,956.5 873.0,956.1 874.0,955.9 875.0,955.5 876.0,955.1 877.0,954.5 878.0,953.7 879.0,952.9 880.0,952.0 881.0,951.1 882.0,950.2 883.0,949.2 884.0,948.2 885.0,947.4 886.0,946.6 887.0,946.2 888.0,945.9"/>
<polyline class="b" points="72.0,1071.0 73.0,1071.0 74.0,1071.0 75.0,1071.0 76.0,1071.0 77.0,1071.0 78.0,1071.0 79.0,1071.1 80.0,1071.2 81.0,1071.2 82.0,1071.3 83.0,1071.2 84.0,1071.1 85.0,1070.9 86.0,1070.7 87.0,1070.5 88.0,1070.3 89.0,1070.1 90.0,1069.9 91.0,1069.7 92.0,1069.5 93.0,1069.3 94.0,1069.0 95.0,1068.8 96.0,1068.5 97.0,1068.1 98.0,1067.7 99.0,1067.3 100.0,1066.9 101.0,1066.4 102.0,1066.0 103.0,1065.6 104.0,1065.2 105.0,1064.9 106.0,1064.5 107.0,1064.2 108.0,1063.8 109.0,1063.5 110.0,1063.2 111.0,1063.0 112.0,1062.7 113.0,1062.5 114.0,1062.4 115.0,1062.3 116.0,1062.3 117.0,1062.4 118.0,1062.5 119.0,1062.5 120.0,1062.6 121.0,1062.5 122.0,1062.5 123.0,1062.3 124.0,1062.2 125.0,1062.1 126.0,1062.0 127.0,1061.9 128.0,1061.8 129.0,1061.7 130.0,1061.7 131.0,1061.6 132.0,1061.5 133.0,1061.5 134.0,1061.6 135.0,1061.7 136.0,1061.9 137.0,1062.0 138.0,1062.2 139.0,1062.3 140.0,1062.4 141.0,1062.5 142.0,1062.5 143.0,1062.5 144.0,1062.4 145.0,1062.4 146.0,1062.4 147.0,1062.3 148.0,1062.3 149.0,1062.3 150.0,1062.4 151.0,1062.4 152.0,1062.6 153.0,1062.8 154.0,1063.1 155.0,1063.7 156.0,1064.2 157.0,1064.8 158.0,1065.3 159.0,1065.6 160.0,1065.8 161.0,1066.0 162.0,1066.0 163.0,1065.9 164.0,1065.7 165.0,1065.6 166.0,1065.4 167.0,1065.2 168.0,1064.9 169.0,1064.7 170.0,1064.4 171.0,1064.4 172.0,1064.5 173.0,1064.9 174.0,1065.2 175.0,1065.6 176.0,1065.8 177.0,1065.9 178.0,1065.7 179.0,1065.4 180.0,1064.9 181.0,1064.0 182.0,1062.9 183.0,1061.5 184.0,1060.0 185.0,1058.6 186.0,1057.5 187.0,1056.7 188.0,1056.3 189.0,1056.1 190.0,1056.3 191.0,1056.7 192.0,1057.2 193.0,1057.8 194.0,1058.5 195.0,1059.2 196.0,1059.7 197.0,1060.0 198.0,1060.1 199.0,1060.0 200.0,1059.8 201.0,1059.6 202.0,1059.4 203.0,1059.2 204.0,1059.0 205.0,1058.9 206.0,1059.2 207.0,1059.7 208.0,1060.6 209.0,1062.0 210.0,1064.0 211.0,1066.7 212.0,1069.7 213.0,1072.8 214.0,1075.9 215.0,1078.9 216.0,1081.9 217.0,1084.8 218.0,1087.5 219.0,1089.8 220.0,1091.7 221.0,1093.3 222.0,1094.7 223.0,1096.0 224.0,1097.3 225.0,1098.5 226.0,1099.7 227.0,1101.1 228.0,1102.5 229.0,1104.1 230.0,1105.8 231.0,1107.8 232.0,1110.0 233.0,1112.2 234.0,1114.4 235.0,1116.6 236.0,1118.7 237.0,1120.5 238.0,1122.0 239.0,1123.3 240.0,1124.5 241.0,1125.7 242.0,1126.7 243.0,1127.6 244.0,1128.3 245.0,1129.0 246.0,1129.6 247.0,1130.2 248.0,1130.9 249.0,1131.5 250.0,1132.2 251.0,1132.9 252.0,1133.6 253.0,1134.1 254.0,1134.5 255.0,1134.6 256.0,1134.5 257.0,1134.3 258.0,1133.9 259.0,1133.5 260.0,1133.1 261.0,1132.6 262.0,1132.2 263.0,1131.7 264.0,1131.2 265.0,1130.7 266.0,1130.3 267.0,1129.8 268.0,1129.3 269.0,1128.8 270.0,1128.4 271.0,1127.9 272.0,1127.4 273.0,1127.0 274.0,1126.4 275.0,1125.9 276.0,1125.4 277.0,1124.9 278.0,1124.2 279.0,1123.5 280.0,1122.7 281.0,1121.9 282.0,1121.1 283.0,1120.3 284.0,1119.5 285.0,1118.7 286.0,1117.9 287.0,1117.1 288.0,1116.4 289.0,1115.6 290.0,1114.9 291.0,1114.1 292.0,1113.4 293.0,1112.7 294.0,1112.1 295.0,1111.4 296.0,1110.8 297.0,1110.1 298.0,1109.5 299.0,1108.9 300.0,1108.4 301.0,1107.9 302.0,1107.5 303.0,1107.1 304.0,1106.7 305.0,1106.3 306.0,1105.9 307.0,1105.5 308.0,1105.2 309.0,1105.0 310.0,1104.8 311.0,1104.5 312.0,1104.3 313.0,1104.1 314.0,1103.8 315.0,1103.6 316.0,1103.3 317.0,1103.0 318.0,1102.6 319.0,1102.3 320.0,1101.9 321.0,1101.1 322.0,1099.9 323.0,1098.5 324.0,1097.1 325.0,1095.8 326.0,1094.6 327.0,1093.6 328.0,1092.6 329.0,1091.7 330.0,1090.9 331.0,1090.1 332.0,1089.4 333.0,1088.7 334.0,1088.0 335.0,1087.4 336.0,1086.9 337.0,1086.5 338.0,1086.2 339.0,1085.9 340.0,1085.5 341.0,1085.1 342.0,1084.6 343.0,1084.0 344.0,1083.5 345.0,1082.9 346.0,1082.4 347.0,1081.8 348.0,1081.2 349.0,1080.6 350.0,1080.0 351.0,1079.4 352.0,1078.8 353.0,1078.3 354.0,1077.8 355.0,1077.4 356.0,1077.0 357.0,1076.7 358.0,1076.4 359.0,1076.0 360.0,1075.6 361.0,1075.2 362.0,1074.7 363.0,1074.2 364.0,1073.8 365.0,1073.3 366.0,1072.8 367.0,1072.3 368.0,1071.7 369.0,1071.1 370.0,1070.6 371.0,1070.0 372.0,1069.4 373.0,1068.8 374.0,1068.2 375.0,1067.6 376.0,1066.9 377.0,1066.2 378.0,1065.5 379.0,1064.8 380.0,1064.2 381.0,1063.5 382.0,1062.8 383.0,1062.2 384.0,1061.5 385.0,1060.9 386.0,1060.3 387.0,1059.7 388.0,1059.2 389.0,1058.6 390.0,1058.0 391.0,1057.5 392.0,1057.0 393.0,1056.7 394.0,1056.5 395.0,1056.4 396.0,1056.3 397.0,1056.2 398.0,1055.9 399.0,1055.5 400.0,1055.0 401.0,1054.5 402.0,1053.9 403.0,1053.3 404.0,1052.5 405.0,1051.7 406.0,1050.9 407.0,1050.0 408.0,1049.1 409.0,1048.2 410.0,1047.3 411.0,1046.5 412.0,1045.8 413.0,1045.2 414.0,1044.6 415.0,1044.1 416.0,1043.5 417.0,1043.0 418.0,1042.5 419.0,1042.0 420.0,1041.6 421.0,1041.2 422.0,1040.9 423.0,1040.6 424.0,1040.3 425.0,1040.0 426.0,1039.7 427.0,1039.5 428.0,1039.3 429.0,1039.0 430.0,1038.9 431.0,1038.7 432.0,1038.5 433.0,1038.4 434.0,1038.4 435.0,1038.5 436.0,1038.6 437.0,1038.7 438.0,1038.8 439.0,1038.9 440.0,1039.0 441.0,1039.1 442.0,1039.2 443.0,1039.4 444.0,1039.5 445.0,1039.6 446.0,1039.6 447.0,1039.5 448.0,1039.2 449.0,1038.8 450.0,1038.3 451.0,1037.8 452.0,1037.1 453.0,1036.2 454.0,1035.2 455.0,1034.2 456.0,1033.4 457.0,1032.7 458.0,1032.2 459.0,1031.8 460.0,1031.5 461.0,1031.1 462.0,1030.8 463.0,1030.5 464.0,1030.3 465.0,1030.2 466.0,1030.1 467.0,1030.0 468.0,1029.9 469.0,1029.8 470.0,1029.6 471.0,1029.4 472.0,1029.0 473.0,1028.6 474.0,1028.3 475.0,1027.9 476.0,1027.5 477.0,1027.1 478.0,1026.7 479.0,1026.3 480.0,1025.9 481.0,1025.5 482.0,1025.2 483.0,1024.8 484.0,1024.5 485.0,1024.2 486.0,1024.1 487.0,1024.0 488.0,1024.0 489.0,1024.0 490.0,1023.9 491.0,1023.8 492.0,1023.5 493.0,1023.3 494.0,1023.0 495.0,1022.8 496.0,1022.5 497.0,1022.3 498.0,1022.1 499.0,1021.9 500.0,1021.8 501.0,1021.9 502.0,1022.1 503.0,1022.4 504.0,1022.7 505.0,1022.9 506.0,1022.8 507.0,1022.4 508.0,1022.0 509.0,1021.5 510.0,1021.0 511.0,1020.5 512.0,1020.0 513.0,1019.5 514.0,1019.1 515.0,1018.6 516.0,1018.1 517.0,1017.7 518.0,1017.4 519.0,1017.1 520.0,1016.8 521.0,1016.6 522.0,1016.4 523.0,1016.5 524.0,1016.8 525.0,1017.3 526.0,1017.5 527.0,1017.4 528.0,1017.1 529.0,1016.6 530.0,1016.1 531.0,1015.6 532.0,1015.1 533.0,1014.7 534.0,1014.2 535.0,1013.8 536.0,1013.4 537.0,1013.0 538.0,1012.7 539.0,1012.3 540.0,1012.1 541.0,1011.8 542.0,1011.6 543.0,1011.3 544.0,1011.1 545.0,1010.8 546.0,1010.6 547.0,1010.4 548.0,1010.3 549.0,1010.3 550.0,1010.4 551.0,1010.5 552.0,1010.6 553.0,1010.7 554.0,1010.7 555.0,1010.6 556.0,1010.4 557.0,1010.2 558.0,1009.9 559.0,1009.7 560.0,1009.5 561.0,1009.1 562.0,1008.5 563.0,1007.8 564.0,1007.1 565.0,1006.4 566.0,1005.7 567.0,1005.0 568.0,1004.3 569.0,1003.6 570.0,1002.9 571.0,1002.3 572.0,1001.6 573.0,1000.9 574.0,1000.2 575.0,999.6 576.0,998.9 577.0,998.2 578.0,997.6 579.0,996.9 580.0,996.2 581.0,995.6 582.0,995.0 583.0,994.4 584.0,993.8 585.0,993.2 586.0,992.7 587.0,992.1 588.0,991.5 589.0,990.9 590.0,990.3 591.0,989.7 592.0,989.0 593.0,988.4 594.0,987.7 595.0,987.1 596.0,986.4 597.0,985.8 598.0,985.4 599.0,985.1 600.0,985.0 601.0,984.9 602.0,984.8 603.0,984.6 604.0,984.4 605.0,984.1 606.0,983.8 607.0,983.5 608.0,983.2 609.0,982.9 610.0,982.6 611.0,982.2 612.0,981.9 613.0,981.5 614.0,981.1 615.0,980.6 616.0,980.0 617.0,979.5 618.0,979.2 619.0,979.0 620.0,979.1 621.0,979.3 622.0,979.6 623.0,979.9 624.0,980.2 625.0,980.6 626.0,981.1 627.0,981.4 628.0,981.4 629.0,981.0 630.0,980.3 631.0,979.4 632.0,978.6 633.0,977.9 634.0,977.3 635.0,976.9 636.0,976.5 637.0,976.2 638.0,975.9 639.0,975.7 640.0,975.7 641.0,975.8 642.0,975.7 643.0,975.5 644.0,974.9 645.0,974.2 646.0,973.5 647.0,972.7 648.0,972.0 649.0,971.3 650.0,970.7 651.0,970.1 652.0,969.4 653.0,968.8 654.0,968.0 655.0,967.0 656.0,966.0 657.0,965.0 658.0,964.3 659.0,963.6 660.0,963.1 661.0,962.7 662.0,962.2 663.0,961.7 664.0,961.3 665.0,960.9 666.0,960.5 667.0,960.1 668.0,959.7 669.0,959.4 670.0,959.1 671.0,958.9 672.0,958.8 673.0,958.7 674.0,958.5 675.0,958.4 676.0,958.3 677.0,958.1 678.0,958.0 679.0,957.8 680.0,957.7 681.0,957.5 682.0,957.4 683.0,957.3 684.0,957.1 685.0,957.0 686.0,957.0 687.0,957.1 688.0,957.3 689.0,957.5 690.0,957.7 691.0,958.0 692.0,958.3 693.0,958.8 694.0,959.5 695.0,960.2 696.0,961.0 697.0,961.8 698.0,962.6 699.0,963.4 700.0,964.3 701.0,965.2 702.0,966.0 703.0,966.8 704.0,967.5 705.0,967.9 706.0,968.1 707.0,968.1 708.0,968.1 709.0,968.0 710.0,968.0 711.0,967.9 712.0,967.9 713.0,967.9 714.0,967.9 715.0,967.9 716.0,967.8 717.0,967.8 718.0,967.6 719.0,967.3 720.0,966.8 721.0,966.3 722.0,965.7 723.0,965.1 724.0,964.5 725.0,963.8 726.0,962.8 727.0,961.6 728.0,960.3 729.0,958.9 730.0,957.6 731.0,956.6 732.0,955.7 733.0,955.1 734.0,954.7 735.0,954.5 736.0,954.4 737.0,954.2 738.0,954.1 739.0,953.9 740.0,953.8 741.0,953.5 742.0,953.3 743.0,953.0 744.0,952.6 745.0,952.3 746.0,952.0 747.0,951.7 748.0,951.5 749.0,951.6 750.0,952.0 751.0,952.5 752.0,953.1 753.0,953.4 754.0,953.7 755.0,954.0 756.0,954.2 757.0,954.4 758.0,954.6 759.0,954.8 760.0,955.0 761.0,955.1 762.0,955.3 763.0,955.4 764.0,955.5 765.0,955.7 766.0,955.8 767.0,956.0 768.0,956.1 769.0,956.3 770.0,956.5 771.0,956.7 772.0,956.9 773.0,957.1 774.0,957.4 775.0,957.9 776.0,958.5 777.0,959.2 778.0,959.9 779.0,960.7 780.0,961.4 781.0,962.1 782.0,962.6 783.0,962.9 784.0,962.8 785.0,962.5 786.0,961.9 787.0,961.4 788.0,960.7 789.0,959.9 790.0,958.9 791.0,957.6 792.0,956.4 793.0,955.3 794.0,954.4 795.0,953.8 796.0,953.2 797.0,952.7 798.0,952.2 799.0,951.8 800.0,951.3 801.0,950.8 802.0,950.3 803.0,949.8 804.0,949.4 805.0,948.9 806.0,948.4 807.0,947.9 808.0,947.4 809.0,946.9 810.0,946.4 811.0,945.9 812.0,945.4 813.0,944.9 814.0,944.3 815.0,943.7 816.0,943.2 817.0,942.6 818.0,941.9 819.0,941.1 820.0,940.2 821.0,939.2 822.0,938.2 823.0,937.0 824.0,935.6 825.0,934.1 826.0,932.8 827.0,931.9 828.0,931.7 829.0,932.0 830.0,932.4 831.0,932.9 832.0,933.3 833.0,933.8 834.0,934.1 835.0,934.3 836.0,934.2 837.0,933.8 838.0,933.3 839.0,932.7 840.0,932.1 841.0,931.4 842.0,930.7 843.0,930.0 844.0,929.4 845.0,928.8 846.0,928.3 847.0,927.8 848.0,927.3 849.0,926.8 850.0,926.2 851.0,925.7 852.0,925.2 853.0,924.7 854.0,924.4 855.0,924.3 856.0,924.4 857.0,924.7 858.0,925.0 859.0,925.3 860.0,925.4 861.0,925.4 862.0,925.2 863.0,925.1 864.0,924.7 865.0,924.3 866.0,923.7 867.0,922.9 868.0,922.0 869.0,921.0 870.0,920.2 871.0,919.6 872.0,919.1 873.0,918.7 874.0,918.4 875.0,918.0 876.0,917.5 877.0,916.8 878.0,916.0 879.0,915.0 880.0,914.1 881.0,913.1 882.0,912.0 883.0,910.9 884.0,909.9 885.0,908.8 886.0,908.0 887.0,907.5 888.0,907.3"/>
<polyline class="b" points="72.0,1050.5 73.0,1050.5 74.0,1050.5 75.0,1050.5 76.0,1050.5 77.0,1050.5 78.0,1050.6 79.0,1050.6 80.0,1050.7 81.0,1050.8 82.0,1050.8 83.0,1050.8 84.0,1050.6 85.0,1050.4 86.0,1050.2 87.0,1050.0 88.0,1049.8 89.0,1049.6 90.0,1049.3 91.0,1049.1 92.0,1048.8 93.0,1048.6 94.0,1048.3 95.0,1048.1 96.0,1047.7 97.0,1047.3 98.0,1046.9 99.0,1046.4 100.0,1045.9 101.0,1045.4 102.0,1045.0 103.0,1044.5 104.0,1044.1 105.0,1043.7 106.0,1043.3 107.0,1042.9 108.0,1042.5 109.0,1042.2 110.0,1041.9 111.0,1041.6 112.0,1041.3 113.0,1041.1 114.0,1040.9 115.0,1040.8 116.0,1040.8 117.0,1040.9 118.0,1041.0 119.0,1041.1 120.0,1041.2 121.0,1041.1 122.0,1041.0 123.0,1040.9 124.0,1040.8 125.0,1040.6 126.0,1040.5 127.0,1040.4 128.0,1040.3 129.0,1040.2 130.0,1040.1 131.0,1040.0 132.0,1040.0 133.0,1040.0 134.0,1040.1 135.0,1040.2 136.0,1040.4 137.0,1040.5 138.0,1040.7 139.0,1040.9 140.0,1041.0 141.0,1041.0 142.0,1041.1 143.0,1041.0 144.0,1041.0 145.0,1040.9 146.0,1040.9 147.0,1040.9 148.0,1040.9 149.0,1040.9 150.0,1040.9 151.0,1041.0 152.0,1041.1 153.0,1041.4 154.0,1041.8 155.0,1042.3 156.0,1043.0 157.0,1043.6 158.0,1044.1 159.0,1044.5 160.0,1044.8 161.0,1044.9 162.0,1044.9 163.0,1044.8 164.0,1044.6 165.0,1044.5 166.0,1044.3 167.0,1044.1 168.0,1043.8 169.0,1043.5 170.0,1043.2 171.0,1043.1 172.0,1043.3 173.0,1043.7 174.0,1044.1 175.0,1044.5 176.0,1044.7 177.0,1044.8 178.0,1044.7 179.0,1044.3 180.0,1043.7 181.0,1042.8 182.0,1041.5 183.0,1039.9 184.0,1038.3 185.0,1036.7 186.0,1035.5 187.0,1034.7 188.0,1034.2 189.0,1034.0 190.0,1034.2 191.0,1034.6 192.0,1035.2 193.0,1035.9 194.0,1036.6 195.0,1037.4 196.0,1038.0 197.0,1038.3 198.0,1038.3 199.0,1038.2 200.0,1038.1 201.0,1037.9 202.0,1037.6 203.0,1037.4 204.0,1037.1 205.0,1037.1 206.0,1037.3 207.0,1038.0 208.0,1039.0 209.0,1040.6 210.0,1042.8 211.0,1045.7 212.0,1049.0 213.0,1052.6 214.0,1056.0 215.0,1059.3 216.0,1062.6 217.0,1065.9 218.0,1068.8 219.0,1071.4 220.0,1073.5 221.0,1075.3 222.0,1076.8 223.0,1078.3 224.0,1079.7 225.0,1081.0 226.0,1082.4 227.0,1083.9 228.0,1085.5 229.0,1087.3 230.0,1089.2 231.0,1091.4 232.0,1093.8 233.0,1096.3 234.0,1098.8 235.0,1101.2 236.0,1103.5 237.0,1105.5 238.0,1107.2 239.0,1108.6 240.0,1110.0 241.0,1111.2 242.0,1112.4 243.0,1113.4 244.0,1114.2 245.0,1115.0 246.0,1115.6 247.0,1116.3 248.0,1117.0 249.0,1117.8 250.0,1118.5 251.0,1119.3 252.0,1120.0 253.0,1120.7 254.0,1121.1 255.0,1121.2 256.0,1121.1 257.0,1120.8 258.0,1120.4 259.0,1120.0 260.0,1119.5 261.0,1119.0 262.0,1118.5 263.0,1117.9 264.0,1117.4 265.0,1116.9 266.0,1116.4 267.0,1115.8 268.0,1115.3 269.0,1114.8 270.0,1114.3 271.0,1113.8 272.0,1113.2 273.0,1112.7 274.0,1112.1 275.0,1111.6 276.0,1111.0 277.0,1110.3 278.0,1109.6 279.0,1108.8 280.0,1108.0 281.0,1107.1 282.0,1106.2 283.0,1105.3 284.0,1104.4 285.0,1103.6 286.0,1102.7 287.0,1101.8 288.0,1100.9 289.0,1100.1 290.0,1099.2 291.0,1098.4 292.0,1097.6 293.0,1096.9 294.0,1096.2 295.0,1095.4 296.0,1094.7 297.0,1094.0 298.0,1093.3 299.0,1092.6 300.0,1092.0 301.0,1091.5 302.0,1091.0 303.0,1090.6 304.0,1090.1 305.0,1089.7 306.0,1089.3 307.0,1088.9 308.0,1088.5 309.0,1088.3 310.0,1088.0 311.0,1087.8 312.0,1087.5 313.0,1087.3 314.0,1087.0 315.0,1086.7 316.0,1086.4 317.0,1086.0 318.0,1085.7 319.0,1085.3 320.0,1084.8 321.0,1084.0 322.0,1082.7 323.0,1081.1 324.0,1079.5 325.0,1078.0 326.0,1076.8 327.0,1075.6 328.0,1074.5 329.0,1073.5 330.0,1072.6 331.0,1071.7 332.0,1070.9 333.0,1070.1 334.0,1069.4 335.0,1068.7 336.0,1068.2 337.0,1067.8 338.0,1067.4 339.0,1067.0 340.0,1066.6 341.0,1066.1 342.0,1065.6 343.0,1065.0 344.0,1064.4 345.0,1063.8 346.0,1063.1 347.0,1062.5 348.0,1061.8 349.0,1061.2 350.0,1060.5 351.0,1059.8 352.0,1059.2 353.0,1058.6 354.0,1058.1 355.0,1057.6 356.0,1057.2 357.0,1056.9 358.0,1056.5 359.0,1056.1 360.0,1055.6 361.0,1055.1 362.0,1054.6 363.0,1054.1 364.0,1053.6 365.0,1053.0 366.0,1052.5 367.0,1051.9 368.0,1051.3 369.0,1050.7 370.0,1050.0 371.0,1049.4 372.0,1048.8 373.0,1048.1 374.0,1047.4 375.0,1046.7 376.0,1046.0 377.0,1045.2 378.0,1044.4 379.0,1043.7 380.0,1042.9 381.0,1042.2 382.0,1041.4 383.0,1040.7 384.0,1040.0 385.0,1039.3 386.0,1038.6 387.0,1038.0 388.0,1037.4 389.0,1036.7 390.0,1036.1 391.0,1035.5 392.0,1035.0 393.0,1034.6 394.0,1034.4 395.0,1034.3 396.0,1034.2 397.0,1034.0 398.0,1033.8 399.0,1033.3 400.0,1032.8 401.0,1032.1 402.0,1031.5 403.0,1030.8 404.0,1030.0 405.0,1029.1 406.0,1028.1 407.0,1027.1 408.0,1026.1 409.0,1025.1 410.0,1024.2 411.0,1023.3 412.0,1022.5 413.0,1021.8 414.0,1021.2 415.0,1020.6 416.0,1020.0 417.0,1019.4 418.0,1018.8 419.0,1018.3 420.0,1017.8 421.0,1017.4 422.0,1017.1 423.0,1016.7 424.0,1016.4 425.0,1016.1 426.0,1015.8 427.0,1015.5 428.0,1015.2 429.0,1015.0 430.0,1014.8 431.0,1014.6 432.0,1014.4 433.0,1014.3 434.0,1014.3 435.0,1014.4 436.0,1014.5 437.0,1014.6 438.0,1014.7 439.0,1014.8 440.0,1015.0 441.0,1015.1 442.0,1015.2 443.0,1015.4 444.0,1015.5 445.0,1015.6 446.0,1015.7 447.0,1015.5 448.0,1015.2 449.0,1014.8 450.0,1014.2 451.0,1013.6 452.0,1012.8 453.0,1011.9 454.0,1010.7 455.0,1009.6 456.0,1008.7 457.0,1008.0 458.0,1007.4 459.0,1007.0 460.0,1006.6 461.0,1006.2 462.0,1005.8 463.0,1005.5 464.0,1005.3 465.0,1005.2 466.0,1005.1 467.0,1005.0 468.0,1004.9 469.0,1004.7 470.0,1004.6 471.0,1004.3 472.0,1003.9 473.0,1003.5 474.0,1003.0 475.0,1002.6 476.0,1002.1 477.0,1001.7 478.0,1001.3 479.0,1000.8 480.0,1000.4 481.0,1000.0 482.0,999.6 483.0,999.2 484.0,998.8 485.0,998.5 486.0,998.4 487.0,998.3 488.0,998.3 489.0,998.3 490.0,998.2 491.0,998.0 492.0,997.8 493.0,997.5 494.0,997.2 495.0,996.9 496.0,996.6 497.0,996.4 498.0,996.1 499.0,995.9 500.0,995.8 501.0,995.9 502.0,996.2 503.0,996.6 504.0,996.9 505.0,997.0 506.0,996.9 507.0,996.6 508.0,996.1 509.0,995.5 510.0,995.0 511.0,994.4 512.0,993.9 513.0,993.3 514.0,992.8 515.0,992.3 516.0,991.8 517.0,991.3 518.0,991.0 519.0,990.6 520.0,990.3 521.0,990.0 522.0,989.8 523.0,989.9 524.0,990.3 525.0,990.8 526.0,991.1 527.0,991.0 528.0,990.6 529.0,990.0 530.0,989.5 531.0,988.9 532.0,988.4 533.0,987.9 534.0,987.5 535.0,987.0 536.0,986.5 537.0,986.1 538.0,985.7 539.0,985.3 540.0,985.0 541.0,984.8 542.0,984.5 543.0,984.2 544.0,983.9 545.0,983.7 546.0,983.4 547.0,983.2 548.0,983.0 549.0,983.1 550.0,983.2 551.0,983.3 552.0,983.5 553.0,983.5 554.0,983.5 555.0,983.3 556.0,983.1 557.0,982.9 558.0,982.7 559.0,982.4 560.0,982.1 561.0,981.7 562.0,981.1 563.0,980.3 564.0,979.5 565.0,978.7 566.0,977.9 567.0,977.1 568.0,976.4 569.0,975.6 570.0,974.9 571.0,974.1 572.0,973.4 573.0,972.6 574.0,971.9 575.0,971.2 576.0,970.4 577.0,969.7 578.0,968.9 579.0,968.2 580.0,967.4 581.0,966.7 582.0,966.0 583.0,965.4 584.0,964.7 585.0,964.1 586.0,963.5 587.0,962.8 588.0,962.2 589.0,961.5 590.0,960.8 591.0,960.1 592.0,959.4 593.0,958.7 594.0,958.0 595.0,957.3 596.0,956.5 597.0,955.9 598.0,955.4 599.0,955.1 600.0,955.0 601.0,954.9 602.0,954.8 603.0,954.5 604.0,954.2 605.0,953.9 606.0,953.6 607.0,953.2 608.0,952.9 609.0,952.6 610.0,952.2 611.0,951.9 612.0,951.5 613.0,951.1 614.0,950.6 615.0,950.0 616.0,949.4 617.0,948.9 618.0,948.5 619.0,948.3 620.0,948.4 621.0,948.7 622.0,949.0 623.0,949.3 624.0,949.7 625.0,950.1 626.0,950.6 627.0,950.9 628.0,950.9 629.0,950.5 630.0,949.7 631.0,948.8 632.0,947.9 633.0,947.1 634.0,946.4 635.0,945.9 636.0,945.5 637.0,945.1 638.0,944.8 639.0,944.6 640.0,944.6 641.0,944.7 642.0,944.7 643.0,944.4 644.0,943.8 645.0,943.0 646.0,942.1 647.0,941.3 648.0,940.5 649.0,939.8 650.0,939.0 651.0,938.4 652.0,937.7 653.0,936.9 654.0,936.0 655.0,935.0 656.0,933.8 657.0,932.8 658.0,931.9 659.0,931.2 660.0,930.7 661.0,930.1 662.0,929.6 663.0,929.1 664.0,928.6 665.0,928.2 666.0,927.7 667.0,927.3 668.0,926.9 669.0,926.5 670.0,926.2 671.0,926.0 672.0,925.8 673.0,925.7 674.0,925.5 675.0,925.4 676.0,925.2 677.0,925.1 678.0,924.9 679.0,924.8 680.0,924.6 681.0,924.5 682.0,924.3 683.0,924.1 684.0,924.0 685.0,923.9 686.0,923.9 687.0,924.0 688.0,924.2 689.0,924.4 690.0,924.6 691.0,924.9 692.0,925.3 693.0,925.9 694.0,926.6 695.0,927.5 696.0,928.3 697.0,929.2 698.0,930.0 699.0,931.0 700.0,931.9 701.0,932.9 702.0,933.9 703.0,934.8 704.0,935.5 705.0,936.0 706.0,936.2 707.0,936.2 708.0,936.1 709.0,936.1 710.0,936.0 711.0,936.0 712.0,936.0 713.0,935.9 714.0,935.9 715.0,935.9 716.0,935.9 717.0,935.8 718.0,935.6 719.0,935.2 720.0,934.7 721.0,934.2 722.0,933.5 723.0,932.9 724.0,932.2 725.0,931.4 726.0,930.3 727.0,929.0 728.0,927.5 729.0,925.9 730.0,924.6 731.0,923.4 732.0,922.4 733.0,921.8 734.0,921.3 735.0,921.1 736.0,920.9 737.0,920.8 738.0,920.6 739.0,920.4 740.0,920.2 741.0,920.0 742.0,919.7 743.0,919.4 744.0,919.0 745.0,918.7 746.0,918.3 747.0,918.0 748.0,917.8 749.0,917.8 750.0,918.3 751.0,918.9 752.0,919.5 753.0,919.9 754.0,920.2 755.0,920.5 756.0,920.7 757.0,921.0 758.0,921.2 759.0,921.4 760.0,921.6 761.0,921.8 762.0,921.9 763.0,922.1 764.0,922.2 765.0,922.4 766.0,922.5 767.0,922.7 768.0,922.9 769.0,923.0 770.0,923.3 771.0,923.5 772.0,923.7 773.0,924.0 774.0,924.3 775.0,924.9 776.0,925.6 777.0,926.3 778.0,927.1 779.0,927.9 780.0,928.7 781.0,929.5 782.0,930.1 783.0,930.4 784.0,930.3 785.0,929.9 786.0,929.3 787.0,928.7 788.0,928.0 789.0,927.1 790.0,925.9 791.0,924.6 792.0,923.2 793.0,922.0 794.0,921.0 795.0,920.2 796.0,919.7 797.0,919.1 798.0,918.6 799.0,918.0 800.0,917.5 801.0,916.9 802.0,916.4 803.0,915.9 804.0,915.4 805.0,914.8 806.0,914.3 807.0,913.7 808.0,913.2 809.0,912.6 810.0,912.1 811.0,911.5 812.0,911.0 813.0,910.4 814.0,909.7 815.0,909.1 816.0,908.5 817.0,907.8 818.0,907.1 819.0,906.2 820.0,905.2 821.0,904.1 822.0,902.9 823.0,901.6 824.0,900.1 825.0,898.4 826.0,897.0 827.0,896.0 828.0,895.8 829.0,896.0 830.0,896.5 831.0,897.0 832.0,897.5 833.0,898.0 834.0,898.4 835.0,898.6 836.0,898.5 837.0,898.1 838.0,897.5 839.0,896.9 840.0,896.1 841.0,895.4 842.0,894.6 843.0,893.8 844.0,893.1 845.0,892.5 846.0,891.9 847.0,891.4 848.0,890.8 849.0,890.2 850.0,889.7 851.0,889.1 852.0,888.5 853.0,888.0 854.0,887.6 855.0,887.5 856.0,887.6 857.0,887.9 858.0,888.3 859.0,888.6 860.0,888.7 861.0,888.7 862.0,888.6 863.0,888.3 864.0,888.0 865.0,887.5 866.0,886.8 867.0,885.9 868.0,884.9 869.0,883.9 870.0,883.0 871.0,882.3 872.0,881.7 873.0,881.3 874.0,881.0 875.0,880.5 876.0,880.0 877.0,879.2 878.0,878.3 879.0,877.2 880.0,876.2 881.0,875.0 882.0,873.9 883.0,872.7 884.0,871.5 885.0,870.3 886.0,869.4 887.0,868.9 888.0,868.6"/>
<polyline class="r" points="71.9,1085.1 72.2,1083.1 72.5,1084.4 72.9,1083.9 73.2,1083.7 73.6,1083.7 73.9,1082.1 74.2,1082.9 74.6,1082.5 74.9,1084.7 75.3,1083.3 75.6,1082.0 75.9,1081.3 76.3,1080.5 76.6,1079.7 77.0,1079.6 77.3,1079.9 77.6,1079.2 78.0,1079.7 78.3,1078.7 78.7,1078.4 79.0,1079.2 79.3,1078.4 79.7,1077.2 80.0,1076.8 80.4,1077.0 80.7,1077.9 81.0,1076.2 81.4,1075.5 81.7,1076.0 82.1,1074.5 82.4,1076.0 82.7,1078.3 83.1,1079.8 83.4,1081.0 83.8,1083.0 84.1,1082.4 84.4,1086.0 84.8,1086.8 85.1,1085.8 85.5,1086.2 85.8,1086.0 86.1,1084.5 86.5,1083.0 86.8,1082.8 87.2,1082.3 87.5,1082.7 87.8,1081.9 88.2,1080.8 88.5,1080.6 88.9,1079.4 89.2,1078.3 89.5,1078.8 89.9,1078.8 90.2,1077.9 90.6,1077.0 90.9,1077.2 91.2,1075.1 91.6,1076.5 91.9,1076.6 92.3,1074.7 92.6,1075.3 92.9,1074.5 93.3,1075.4 93.6,1073.4 94.0,1073.5 94.3,1074.5 94.6,1075.0 95.0,1072.5 95.3,1072.8 95.7,1073.3 96.0,1072.6 96.3,1074.0 96.7,1072.1 97.0,1072.6 97.4,1071.6 97.7,1073.1 98.0,1072.3 98.4,1071.7 98.7,1070.3 99.1,1072.4 99.4,1072.2 99.7,1072.0 100.1,1071.9 100.4,1070.9 100.8,1069.6 101.1,1068.8 101.4,1068.2 101.8,1069.4 102.1,1067.3 102.5,1067.1 102.8,1066.9 103.1,1067.0 103.5,1067.1 103.8,1066.7 104.2,1066.8 104.5,1068.8 104.8,1070.9 105.2,1071.8 105.5,1071.1 105.9,1069.9 106.2,1069.6 106.5,1068.6 106.9,1068.6 107.2,1067.1 107.6,1067.7 107.9,1067.9 108.2,1068.6 108.6,1068.7 108.9,1070.4 109.3,1070.7 109.6,1070.8 109.9,1068.3 110.3,1068.1 110.6,1067.4 111.0,1067.9 111.3,1064.7 111.6,1067.1 112.0,1067.4 112.3,1064.1 112.7,1063.0 113.0,1064.1 113.3,1066.7 113.7,1069.4 114.0,1073.3 114.4,1072.0 114.7,1073.9 115.0,1074.3 115.4,1077.6 115.7,1077.9 116.1,1079.7 116.4,1077.4 116.7,1078.9 117.1,1079.2 117.4,1083.3 117.8,1083.5 118.1,1082.5 118.4,1082.4 118.8,1084.0 119.1,1083.2 119.5,1081.7 119.8,1082.1 120.1,1083.8 120.5,1079.9 120.8,1077.2 121.2,1075.0 121.5,1074.7 121.8,1077.6 122.2,1079.1 122.5,1078.6 122.9,1079.2 123.2,1079.3 123.5,1079.6 123.9,1077.4 124.2,1077.5 124.6,1077.9 124.9,1076.3 125.2,1075.7 125.6,1074.6 125.9,1074.6 126.3,1075.9 126.6,1074.1 126.9,1073.5 127.3,1074.4 127.6,1074.0 128.0,1075.0 128.3,1069.3 128.6,1071.5 129.0,1069.5 129.3,1069.2 129.7,1069.6 130.0,1069.5 130.3,1068.8 130.7,1068.0 131.0,1070.4 131.4,1068.6 131.7,1068.7 132.0,1070.6 132.4,1069.5 132.7,1073.6 133.1,1073.5 133.4,1075.1 133.7,1073.3 134.1,1072.4 134.4,1073.3 134.8,1074.8 135.1,1073.7 135.4,1075.6 135.8,1076.2 136.1,1079.4 136.5,1077.6 136.8,1080.2 137.1,1079.2 137.5,1079.1 137.8,1080.1 138.2,1080.4 138.5,1083.1 138.8,1085.9 139.2,1086.2 139.5,1087.7 139.9,1090.2 140.2,1089.8 140.5,1090.3 140.9,1088.7 141.2,1085.6 141.6,1087.2 141.9,1083.5 142.2,1085.0 142.6,1084.0 142.9,1085.1 143.3,1083.3 143.6,1081.4 143.9,1082.1 144.3,1080.7 144.6,1080.8 145.0,1081.0 145.3,1080.7 145.6,1080.4 146.0,1079.3 146.3,1080.5 146.7,1079.1 147.0,1082.3 147.3,1082.7 147.7,1086.8 148.0,1089.1 148.4,1086.4 148.7,1089.4 149.0,1090.9 149.4,1090.9 149.7,1094.2 150.1,1094.6 150.4,1093.6 150.7,1096.4 151.1,1098.3 151.4,1100.1 151.8,1099.5 152.1,1103.0 152.4,1105.1 152.8,1102.4 153.1,1100.3 153.5,1099.1 153.8,1096.6 154.1,1098.1 154.5,1094.7 154.8,1092.2 155.2,1091.8 155.5,1092.9 155.8,1097.1 156.2,1094.3 156.5,1093.9 156.9,1094.3 157.2,1093.4 157.5,1096.9 157.9,1093.3 158.2,1094.2 158.6,1093.4 158.9,1093.9 159.2,1091.3 159.6,1096.3 159.9,1095.4 160.3,1096.1 160.6,1095.5 160.9,1096.4 161.3,1099.8 161.6,1102.6 162.0,1104.1 162.3,1106.3 162.6,1107.3 163.0,1106.7 163.3,1106.8 163.7,1105.8 164.0,1103.9 164.3,1104.0 164.7,1104.3 165.0,1102.3 165.4,1100.3 165.7,1100.9 166.0,1102.5 166.4,1099.2 166.7,1097.9 167.1,1096.9 167.4,1098.4 167.7,1093.7 168.1,1095.7 168.4,1097.5 168.8,1094.6 169.1,1097.3 169.4,1096.3 169.8,1094.1 170.1,1094.5 170.5,1091.6 170.8,1092.1 171.1,1096.0 171.5,1092.6 171.8,1095.8 172.2,1093.5 172.5,1094.4 172.8,1092.9 173.2,1088.5 173.5,1089.8 173.9,1091.2 174.2,1089.3 174.5,1088.2 174.9,1090.5 175.2,1089.4 175.6,1087.1 175.9,1088.0 176.2,1090.6 176.6,1089.1 176.9,1090.8 177.3,1092.1 177.6,1089.9 177.9,1087.2 178.3,1086.0 178.6,1087.7 179.0,1089.7 179.3,1089.1 179.6,1089.4 180.0,1087.7 180.3,1088.4 180.7,1086.9 181.0,1086.2 181.3,1083.8 181.7,1082.1 182.0,1083.0 182.4,1081.8 182.7,1083.0 183.0,1087.0 183.4,1087.8 183.7,1092.9 184.1,1093.2 184.4,1091.2 184.7,1093.7 185.1,1094.6 185.4,1093.9 185.8,1097.4 186.1,1096.2 186.4,1094.5 186.8,1099.0 187.1,1099.3 187.5,1103.4 187.8,1102.0 188.1,1101.5 188.5,1106.2 188.8,1104.4 189.2,1104.6 189.5,1105.8 189.8,1103.4 190.2,1101.7 190.5,1100.8 190.9,1101.1 191.2,1098.2 191.5,1099.0 191.9,1098.8 192.2,1100.6 192.6,1097.0 192.9,1094.5 193.2,1096.1 193.6,1094.4 193.9,1094.6 194.3,1094.1 194.6,1095.1 194.9,1091.8 195.3,1091.2 195.6,1086.9 196.0,1087.1 196.3,1090.8 196.6,1087.7 197.0,1086.1 197.3,1084.6 197.7,1087.7 198.0,1088.2 198.3,1086.2 198.7,1089.0 199.0,1089.4 199.4,1090.6 199.7,1088.8 200.0,1092.5 200.4,1091.7 200.7,1090.8 201.1,1089.9 201.4,1090.3 201.7,1093.6 202.1,1091.7 202.4,1096.1 202.8,1096.2 203.1,1099.0 203.4,1097.1 203.8,1091.4 204.1,1078.0 204.5,1086.1 204.8,1092.9 205.1,1094.2 205.5,1099.3 205.8,1097.3 206.2,1099.3 206.5,1098.9 206.8,1113.7 207.2,1113.4 207.5,1112.7 207.9,1112.5 208.2,1122.5 208.5,1136.2 208.9,1137.7 209.2,1135.2 209.6,1143.5 209.9,1145.3 210.2,1143.1 210.6,1140.9 210.9,1141.5 211.3,1139.5 211.6,1142.9 211.9,1139.0 212.3,1150.3 212.6,1150.2 213.0,1159.8 213.3,1144.0 213.6,1149.4 214.0,1151.1 214.3,1145.0 214.7,1145.5 215.0,1147.6 215.3,1150.1 215.7,1148.2 216.0,1151.2 216.4,1158.3 216.7,1163.2 217.0,1162.2 217.4,1163.8 217.7,1165.3 218.1,1165.8 218.4,1157.2 218.7,1151.8 219.1,1153.7 219.4,1148.1 219.8,1148.1 220.1,1150.3 220.4,1151.9 220.8,1146.4 221.1,1151.2 221.5,1142.8 221.8,1148.4 222.1,1141.9 222.5,1140.8 222.8,1147.2 223.2,1145.1 223.5,1142.9 223.8,1143.2 224.2,1146.3 224.5,1145.2 224.9,1144.7 225.2,1148.1 225.5,1142.7 225.9,1141.7 226.2,1140.6 226.6,1145.6 226.9,1145.8 227.2,1146.3 227.6,1141.3 227.9,1139.5 228.3,1145.3 228.6,1144.9 228.9,1150.7 229.3,1154.1 229.6,1152.8 230.0,1153.7 230.3,1153.1 230.6,1157.8 231.0,1158.9 231.3,1153.9 231.7,1151.6 232.0,1143.9 232.3,1148.2 232.7,1149.0 233.0,1146.6 233.4,1151.3 233.7,1146.5 234.0,1149.0 234.4,1150.9 234.7,1148.1 235.1,1153.0 235.4,1155.7 235.7,1151.9 236.1,1152.1 236.4,1158.3 236.8,1159.9 237.1,1159.0 237.4,1162.1 237.8,1164.7 238.1,1166.6 238.5,1170.3 238.8,1171.7 239.1,1175.9 239.5,1177.5 239.8,1177.9 240.2,1177.3 240.5,1175.8 240.8,1172.9 241.2,1167.0 241.5,1167.7 241.9,1165.2 242.2,1167.1 242.5,1164.1 242.9,1163.4 243.2,1162.2 243.6,1163.7 243.9,1160.7 244.2,1158.3 244.6,1158.1 244.9,1156.1 245.3,1156.0 245.6,1155.2 245.9,1154.9 246.3,1157.3 246.6,1153.1 247.0,1152.1 247.3,1150.9 247.6,1151.6 248.0,1148.0 248.3,1147.3 248.7,1147.8 249.0,1148.6 249.3,1147.2 249.7,1145.5 250.0,1143.9 250.4,1145.5 250.7,1147.2 251.0,1145.3 251.4,1144.2 251.7,1143.8 252.1,1140.9 252.4,1140.8 252.7,1140.4 253.1,1141.3 253.4,1141.5 253.8,1140.0 254.1,1143.7 254.4,1146.0 254.8,1143.8 255.1,1144.5 255.5,1144.9 255.8,1145.6 256.1,1141.4 256.5,1144.1 256.8,1141.1 257.2,1142.0 257.5,1139.8 257.8,1137.8 258.2,1136.8 258.5,1137.4 258.9,1135.7 259.2,1136.1 259.5,1136.3 259.9,1135.0 260.2,1138.9 260.6,1139.3 260.9,1138.9 261.2,1140.6 261.6,1138.7 261.9,1139.7 262.3,1142.7 262.6,1143.0 262.9,1139.5 263.3,1139.5 263.6,1140.2 264.0,1143.9 264.3,1143.0 264.6,1142.7 265.0,1143.3 265.3,1141.5 265.7,1142.0 266.0,1142.6 266.3,1142.2 266.7,1141.7 267.0,1139.7 267.4,1139.4 267.7,1137.3 268.0,1137.9 268.4,1138.0 268.7,1134.1 269.1,1130.1 269.4,1130.1 269.7,1130.2 270.1,1130.4 270.4,1130.4 270.8,1127.7 271.1,1126.6 271.4,1128.5 271.8,1125.9 272.1,1127.4 272.5,1126.0 272.8,1126.4 273.1,1126.5 273.5,1126.5 273.8,1126.5 274.2,1124.3 274.5,1125.0 274.8,1124.9 275.2,1125.1 275.5,1126.1 275.9,1125.1 276.2,1124.6 276.5,1124.8 276.9,1125.6 277.2,1127.4 277.6,1126.5 277.9,1128.7 278.2,1128.7 278.6,1127.4 278.9,1124.8 279.3,1124.8 279.6,1124.4 279.9,1120.8 280.3,1122.0 280.6,1122.0 281.0,1119.7 281.3,1119.1 281.6,1121.4 282.0,1121.6 282.3,1119.7 282.7,1120.5 283.0,1121.0 283.3,1121.5 283.7,1120.0 284.0,1122.5 284.4,1120.9 284.7,1120.6 285.0,1119.6 285.4,1119.7 285.7,1117.9 286.1,1116.2 286.4,1116.4 286.7,1116.8 287.1,1116.7 287.4,1119.2 287.8,1119.7 288.1,1120.0 288.4,1122.9 288.8,1122.5 289.1,1124.9 289.5,1125.1 289.8,1125.1 290.1,1122.9 290.5,1122.0 290.8,1122.8 291.2,1121.7 291.5,1120.9 291.8,1120.2 292.2,1120.6 292.5,1118.9 292.9,1118.4 293.2,1119.1 293.5,1118.4 293.9,1118.2 294.2,1118.7 294.6,1119.0 294.9,1119.1 295.2,1121.0 295.6,1121.1 295.9,1121.4 296.3,1120.5 296.6,1119.9 296.9,1119.0 297.3,1119.8 297.6,1118.6 298.0,1119.5 298.3,1120.3 298.6,1120.9 299.0,1120.0 299.3,1117.5 299.7,1117.6 300.0,1115.9 300.3,1116.5 300.7,1115.3 301.0,1115.4 301.4,1116.0 301.7,1115.0 302.0,1115.1 302.4,1113.6 302.7,1112.3 303.1,1113.2 303.4,1113.6 303.7,1111.3 304.1,1111.0 304.4,1109.2 304.8,1109.6 305.1,1110.6 305.4,1109.7 305.8,1108.7 306.1,1107.3 306.5,1109.0 306.8,1110.4 307.1,1111.0 307.5,1111.2 307.8,1110.1 308.2,1113.2 308.5,1113.2 308.8,1113.8 309.2,1115.6 309.5,1114.1 309.9,1116.3 310.2,1117.6 310.5,1119.2 310.9,1121.1 311.2,1119.9 311.6,1116.9 311.9,1116.8 312.2,1116.7 312.6,1116.0 312.9,1114.0 313.3,1112.4 313.6,1113.5 313.9,1112.7 314.3,1111.4 314.6,1108.6 315.0,1110.2 315.3,1105.7 315.6,1105.7 316.0,1107.3 316.3,1104.9 316.7,1104.1 317.0,1102.2 317.3,1103.8 317.7,1101.3 318.0,1101.7 318.4,1101.4 318.7,1099.7 319.0,1100.8 319.4,1098.5 319.7,1098.1 320.1,1098.3 320.4,1097.7 320.7,1098.1 321.1,1098.4 321.4,1097.0 321.8,1096.0 322.1,1095.4 322.4,1095.1 322.8,1095.9 323.1,1094.8 323.5,1094.8 323.8,1094.0 324.1,1092.6 324.5,1093.5 324.8,1091.4 325.2,1091.4 325.5,1092.5 325.8,1089.8 326.2,1089.6 326.5,1087.4 326.9,1087.5 327.2,1085.8 327.5,1086.3 327.9,1086.8 328.2,1088.3 328.6,1091.4 328.9,1090.8 329.2,1091.6 329.6,1091.1 329.9,1091.9 330.3,1093.6 330.6,1094.7 330.9,1100.2 331.3,1106.4 331.6,1105.8 332.0,1104.2 332.3,1107.3 332.6,1105.1 333.0,1104.3 333.3,1103.3 333.7,1103.6 334.0,1104.9 334.3,1108.5 334.7,1105.9 335.0,1103.6 335.4,1103.3 335.7,1103.6 336.0,1101.1 336.4,1103.0 336.7,1104.2 337.1,1104.2 337.4,1105.1 337.7,1102.7 338.1,1101.7 338.4,1106.3 338.8,1107.7 339.1,1104.5 339.4,1106.4 339.8,1107.4 340.1,1109.6 340.5,1110.7 340.8,1111.0 341.1,1113.0 341.5,1114.5 341.8,1115.6 342.2,1114.5 342.5,1114.6 342.8,1113.9 343.2,1112.0 343.5,1113.1 343.9,1113.2 344.2,1111.6 344.5,1109.6 344.9,1109.0 345.2,1109.8 345.6,1106.7 345.9,1107.5 346.2,1106.8 346.6,1105.3 346.9,1106.0 347.3,1103.0 347.6,1104.7 347.9,1102.7 348.3,1102.4 348.6,1102.0 349.0,1104.3 349.3,1103.8 349.6,1105.7 350.0,1105.3 350.3,1108.8 350.7,1111.4 351.0,1110.7 351.3,1112.9 351.7,1112.8 352.0,1115.2 352.4,1114.5 352.7,1113.1 353.0,1116.7 353.4,1116.8 353.7,1115.7 354.1,1114.9 354.4,1113.0 354.7,1113.3 355.1,1111.9 355.4,1113.2 355.8,1112.2 356.1,1109.2 356.4,1107.8 356.8,1107.7 357.1,1106.0 357.5,1106.5 357.8,1106.1 358.1,1104.8 358.5,1104.1 358.8,1104.2 359.2,1104.5 359.5,1104.4 359.8,1102.9 360.2,1102.8 360.5,1101.1 360.9,1101.3 361.2,1099.9 361.5,1100.6 361.9,1098.8 362.2,1098.2 362.6,1098.6 362.9,1098.9 363.2,1096.9 363.6,1096.8 363.9,1097.0 364.3,1096.9 364.6,1095.5 364.9,1095.7 365.3,1095.0 365.6,1096.1 366.0,1095.3 366.3,1093.0 366.6,1091.4 367.0,1092.5 367.3,1093.5 367.7,1092.6 368.0,1092.6 368.3,1091.1 368.7,1089.6 369.0,1090.8 369.4,1090.4 369.7,1090.6 370.0,1088.4 370.4,1089.0 370.7,1088.2 371.1,1089.1 371.4,1087.7 371.7,1086.8 372.1,1086.1 372.4,1087.3 372.8,1086.1 373.1,1084.6 373.4,1083.4 373.8,1082.7 374.1,1084.5 374.5,1081.3 374.8,1080.8 375.1,1081.7 375.5,1082.0 375.8,1080.3 376.2,1080.2 376.5,1079.7 376.8,1079.4 377.2,1078.2 377.5,1079.2 377.9,1077.8 378.2,1078.5 378.5,1075.8 378.9,1076.8 379.2,1074.7 379.6,1073.5 379.9,1075.0 380.2,1073.9 380.6,1074.7 380.9,1073.4 381.3,1075.8 381.6,1074.9 381.9,1073.4 382.3,1074.3 382.6,1075.3 383.0,1074.0 383.3,1074.9 383.6,1077.2 384.0,1077.0 384.3,1076.3 384.7,1075.9 385.0,1077.2 385.3,1075.8 385.7,1075.3 386.0,1076.4 386.4,1076.0 386.7,1078.2 387.0,1076.8 387.4,1074.7 387.7,1073.5 388.1,1074.3 388.4,1072.7 388.7,1072.0 389.1,1071.8 389.4,1071.5 389.8,1070.9 390.1,1070.3 390.4,1070.9 390.8,1071.0 391.1,1067.0 391.5,1069.8 391.8,1068.2 392.1,1069.4 392.5,1067.9 392.8,1068.9 393.2,1069.4 393.5,1069.8 393.8,1071.0 394.2,1071.4 394.5,1070.4 394.9,1072.2 395.2,1074.6 395.5,1076.2 395.9,1076.6 396.2,1077.7 396.6,1077.1 396.9,1075.0 397.2,1073.4 397.6,1075.0 397.9,1072.7 398.3,1071.7 398.6,1069.8 398.9,1070.5 399.3,1070.7 399.6,1068.3 400.0,1067.9 400.3,1065.9 400.6,1067.5 401.0,1066.7 401.3,1064.0 401.7,1065.0 402.0,1064.3 402.3,1064.4 402.7,1064.5 403.0,1063.6 403.4,1063.7 403.7,1065.1 404.0,1064.9 404.4,1064.1 404.7,1067.0 405.1,1064.7 405.4,1063.2 405.7,1062.1 406.1,1062.8 406.4,1062.9 406.8,1061.6 407.1,1061.5 407.4,1058.4 407.8,1059.2 408.1,1059.6 408.5,1060.5 408.8,1061.5 409.1,1059.3 409.5,1064.2 409.8,1062.0 410.2,1062.7 410.5,1063.7 410.8,1064.3 411.2,1064.2 411.5,1062.3 411.9,1064.2 412.2,1067.8 412.5,1068.1 412.9,1069.0 413.2,1069.2 413.6,1073.5 413.9,1075.0 414.2,1073.1 414.6,1072.8 414.9,1072.3 415.3,1070.6 415.6,1070.5 415.9,1070.5 416.3,1070.4 416.6,1070.6 417.0,1068.6 417.3,1066.8 417.6,1066.4 418.0,1064.5 418.3,1062.5 418.7,1063.8 419.0,1061.8 419.3,1061.1 419.7,1060.7 420.0,1057.9 420.4,1058.3 420.7,1058.7 421.0,1058.6 421.4,1059.5 421.7,1058.8 422.1,1057.3 422.4,1059.3 422.7,1059.5 423.1,1061.9 423.4,1063.2 423.8,1063.5 424.1,1065.8 424.4,1070.6 424.8,1073.0 425.1,1073.9 425.5,1079.4 425.8,1083.1 426.1,1088.6 426.5,1096.5 426.8,1100.8 427.2,1102.5 427.5,1097.3 427.8,1093.1 428.2,1091.0 428.5,1093.5 428.9,1099.0 429.2,1099.4 429.5,1091.9 429.9,1087.3 430.2,1092.9 430.6,1093.1 430.9,1086.9 431.2,1092.2 431.6,1090.5 431.9,1093.2 432.3,1090.4 432.6,1091.4 432.9,1091.0 433.3,1087.8 433.6,1089.8 434.0,1089.9 434.3,1095.3 434.6,1092.2 435.0,1090.6 435.3,1097.2 435.7,1100.5 436.0,1102.4 436.3,1102.1 436.7,1094.8 437.0,1095.1 437.4,1095.8 437.7,1097.6 438.0,1092.4 438.4,1099.7 438.7,1104.9 439.1,1105.5 439.4,1109.9 439.7,1110.0 440.1,1104.8 440.4,1103.6 440.8,1100.9 441.1,1096.2 441.4,1092.5 441.8,1086.9 442.1,1089.5 442.5,1084.4 442.8,1081.3 443.1,1083.4 443.5,1079.0 443.8,1080.0 444.2,1081.2 444.5,1077.8 444.8,1077.4 445.2,1080.0 445.5,1080.6 445.9,1074.6 446.2,1073.8 446.5,1081.3 446.9,1081.2 447.2,1074.7 447.6,1076.1 447.9,1081.9 448.2,1082.4 448.6,1087.8 448.9,1089.8 449.3,1092.8 449.6,1091.1 449.9,1096.4 450.3,1100.7 450.6,1093.4 451.0,1094.7 451.3,1092.8 451.6,1090.0 452.0,1086.2 452.3,1081.4 452.7,1079.1 453.0,1080.9 453.3,1082.2 453.7,1082.9 454.0,1082.6 454.4,1082.3 454.7,1080.0 455.0,1078.1 455.4,1079.8 455.7,1080.6 456.1,1079.6 456.4,1076.8 456.7,1076.8 457.1,1075.3 457.4,1076.2 457.8,1074.7 458.1,1074.7 458.4,1074.7 458.8,1074.1 459.1,1074.7 459.5,1071.8 459.8,1069.4 460.1,1071.4 460.5,1072.0 460.8,1071.8 461.2,1070.0 461.5,1069.3 461.8,1068.1 462.2,1065.8 462.5,1065.4 462.9,1066.0 463.2,1064.4 463.5,1065.8 463.9,1061.8 464.2,1061.1 464.6,1061.9 464.9,1059.5 465.2,1057.5 465.6,1055.9 465.9,1055.5 466.3,1058.8 466.6,1059.1 466.9,1059.8 467.3,1059.4 467.6,1061.3 468.0,1061.5 468.3,1061.0 468.6,1061.9 469.0,1063.3 469.3,1065.3 469.7,1065.1 470.0,1066.1 470.3,1066.8 470.7,1063.4 471.0,1061.1 471.4,1062.1 471.7,1061.1 472.0,1059.8 472.4,1059.4 472.7,1058.3 473.1,1058.4 473.4,1057.2 473.7,1057.6 474.1,1055.2 474.4,1054.5 474.8,1055.0 475.1,1054.3 475.4,1055.1 475.8,1054.3 476.1,1053.3 476.5,1053.6 476.8,1053.7 477.1,1053.2 477.5,1054.2 477.8,1055.4 478.2,1056.7 478.5,1058.4 478.8,1060.7 479.2,1061.8 479.5,1064.3 479.9,1065.3 480.2,1064.9 480.5,1065.8 480.9,1065.0 481.2,1062.7 481.6,1062.3 481.9,1062.5 482.2,1061.2 482.6,1061.1 482.9,1060.0 483.3,1060.5 483.6,1060.2 483.9,1061.3 484.3,1061.4 484.6,1062.9 485.0,1061.6 485.3,1064.0 485.6,1066.3 486.0,1067.1 486.3,1067.4 486.7,1068.8 487.0,1068.6 487.3,1069.2 487.7,1070.6 488.0,1071.5 488.4,1073.4 488.7,1072.6 489.0,1074.7 489.4,1073.4 489.7,1074.2 490.1,1075.6 490.4,1077.6 490.7,1076.1 491.1,1074.0 491.4,1075.5 491.8,1075.3 492.1,1074.0 492.4,1073.4 492.8,1073.3 493.1,1073.8 493.5,1073.8 493.8,1071.2 494.1,1073.4 494.5,1071.2 494.8,1069.7 495.2,1069.6 495.5,1068.2 495.8,1069.0 496.2,1067.6 496.5,1065.0 496.9,1063.4 497.2,1062.1 497.5,1061.4 497.9,1063.2 498.2,1062.9 498.6,1065.5 498.9,1065.1 499.2,1065.4 499.6,1067.1 499.9,1065.1 500.3,1065.7 500.6,1067.5 500.9,1067.8 501.3,1068.0 501.6,1068.7 502.0,1068.3 502.3,1068.8 502.6,1067.4 503.0,1065.4 503.3,1066.9 503.7,1064.5 504.0,1063.1 504.3,1063.9 504.7,1063.6 505.0,1061.8 505.4,1060.9 505.7,1060.7 506.0,1059.5 506.4,1060.3 506.7,1059.8 507.1,1059.3 507.4,1059.3 507.7,1058.8 508.1,1059.2 508.4,1058.6 508.8,1054.8 509.1,1055.7 509.4,1053.5 509.8,1052.1 510.1,1053.1 510.5,1051.4 510.8,1050.6 511.1,1051.1 511.5,1048.9 511.8,1047.4 512.2,1047.5 512.5,1048.6 512.8,1049.1 513.2,1047.8 513.5,1048.9 513.9,1050.3 514.2,1053.3 514.5,1053.8 514.9,1054.0 515.2,1054.5 515.6,1053.4 515.9,1054.0 516.2,1054.4 516.6,1053.3 516.9,1054.1 517.3,1055.0 517.6,1053.9 517.9,1055.6 518.3,1056.2 518.6,1056.9 519.0,1055.6 519.3,1056.3 519.6,1058.0 520.0,1058.2 520.3,1057.0 520.7,1057.8 521.0,1059.4 521.3,1058.5 521.7,1058.8 522.0,1060.5 522.4,1059.2 522.7,1058.8 523.0,1057.9 523.4,1058.0 523.7,1060.1 524.1,1060.4 524.4,1061.0 524.7,1062.8 525.1,1065.4 525.4,1068.2 525.8,1068.6 526.1,1068.0 526.4,1065.7 526.8,1064.7 527.1,1063.4 527.5,1062.1 527.8,1060.4 528.1,1059.9 528.5,1060.0 528.8,1058.2 529.2,1058.6 529.5,1058.7 529.8,1058.9 530.2,1057.7 530.5,1056.8 530.9,1056.6 531.2,1055.4 531.5,1055.2 531.9,1055.4 532.2,1055.0 532.6,1053.4 532.9,1053.2 533.2,1051.2 533.6,1052.6 533.9,1051.4 534.3,1051.3 534.6,1049.5 534.9,1049.4 535.3,1049.4 535.6,1049.4 536.0,1046.8 536.3,1047.6 536.6,1046.4 537.0,1045.0 537.3,1045.3 537.7,1044.2 538.0,1043.3 538.3,1042.2 538.7,1042.3 539.0,1041.9 539.4,1041.2 539.7,1040.0 540.0,1039.7 540.4,1040.2 540.7,1040.8 541.1,1039.5 541.4,1040.1 541.7,1038.8 542.1,1037.2 542.4,1038.2 542.8,1036.9 543.1,1037.6 543.4,1038.3 543.8,1037.0 544.1,1036.7 544.5,1038.6 544.8,1036.6 545.1,1035.5 545.5,1035.2 545.8,1033.8 546.2,1033.0 546.5,1034.4 546.8,1032.9 547.2,1036.8 547.5,1036.3 547.9,1036.8 548.2,1037.9 548.5,1036.6 548.9,1034.1 549.2,1033.9 549.6,1031.6 549.9,1030.5 550.2,1028.5 550.6,1027.7 550.9,1028.3 551.3,1028.4 551.6,1028.7 551.9,1029.3 552.3,1028.6 552.6,1027.7 553.0,1027.9 553.3,1029.8 553.6,1028.8 554.0,1028.8 554.3,1028.4 554.7,1028.7 555.0,1029.3 555.3,1029.3 555.7,1029.4 556.0,1029.0 556.4,1029.1 556.7,1030.6 557.0,1031.6 557.4,1032.7 557.7,1033.7 558.1,1034.3 558.4,1037.1 558.7,1039.1 559.1,1036.0 559.4,1036.2 559.8,1035.1 560.1,1034.8 560.4,1031.0 560.8,1028.7 561.1,1029.1 561.5,1025.7 561.8,1024.8 562.1,1023.2 562.5,1021.8 562.8,1019.6 563.2,1020.1 563.5,1021.0 563.8,1020.2 564.2,1019.4 564.5,1017.8 564.9,1018.6 565.2,1017.3 565.5,1017.0 565.9,1014.3 566.2,1015.8 566.6,1014.8 566.9,1016.3 567.2,1016.7 567.6,1015.7 567.9,1016.9 568.3,1018.5 568.6,1018.4 568.9,1018.7 569.3,1017.4 569.6,1017.8 570.0,1017.9 570.3,1019.7 570.6,1021.8 571.0,1022.2 571.3,1022.3 571.7,1021.7 572.0,1023.6 572.3,1022.7 572.7,1019.5 573.0,1017.8 573.4,1017.7 573.7,1016.2 574.0,1017.5 574.4,1015.2 574.7,1012.4 575.1,1011.2 575.4,1012.1 575.7,1008.7 576.1,1008.6 576.4,1007.3 576.8,1007.0 577.1,1005.9 577.4,1004.2 577.8,1004.4 578.1,1003.7 578.5,1004.2 578.8,1002.9 579.1,1004.5 579.5,1002.3 579.8,1002.0 580.2,1000.4 580.5,1000.5 580.8,1000.9 581.2,1001.4 581.5,1002.6 581.9,1001.6 582.2,1001.2 582.5,1003.5 582.9,1002.9 583.2,1002.5 583.6,1004.9 583.9,1005.7 584.2,1002.7 584.6,1004.7 584.9,1007.1 585.3,1008.3 585.6,1007.7 585.9,1010.2 586.3,1008.1 586.6,1007.4 587.0,1007.1 587.3,1006.4 587.6,1006.6 588.0,1006.4 588.3,1004.7 588.7,1005.3 589.0,1002.8 589.3,1002.0 589.7,1003.5 590.0,1001.6 590.4,1001.7 590.7,999.6 591.0,998.6 591.4,998.0 591.7,997.8 592.1,996.8 592.4,996.5 592.7,996.8 593.1,997.2 593.4,995.7 593.8,997.1 594.1,998.9 594.4,998.3 594.8,998.6 595.1,1001.7 595.5,1000.1 595.8,996.6 596.1,994.3 596.5,990.6 596.8,987.3 597.2,986.7 597.5,984.5 597.8,986.5 598.2,985.0 598.5,985.5 598.9,987.3 599.2,987.3 599.5,984.8 599.9,985.4 600.2,982.9 600.6,982.5 600.9,983.3 601.2,984.6 601.6,982.5 601.9,983.0 602.3,982.4 602.6,980.4 602.9,981.0 603.3,983.0 603.6,981.5 604.0,981.3 604.3,981.1 604.6,978.7 605.0,979.8 605.3,980.1 605.7,979.8 606.0,978.9 606.3,975.9 606.7,975.2 607.0,975.5 607.4,976.0 607.7,976.9 608.0,979.9 608.4,981.9 608.7,980.5 609.1,982.4 609.4,980.3 609.7,979.5 610.1,977.6 610.4,975.4 610.8,975.9 611.1,975.2 611.4,973.5 611.8,972.0 612.1,970.3 612.5,971.1 612.8,970.8 613.1,971.8 613.5,970.2 613.8,971.6 614.2,972.3 614.5,973.5 614.8,973.6 615.2,972.4 615.5,970.9 615.9,968.9 616.2,970.5 616.5,972.7 616.9,973.6 617.2,968.5 617.6,969.1 617.9,971.8 618.2,973.7 618.6,977.5 618.9,980.2 619.3,982.0 619.6,984.9 619.9,985.7 620.3,985.5 620.6,984.0 621.0,984.5 621.3,980.4 621.6,979.7 622.0,979.5 622.3,977.3 622.7,977.0 623.0,974.3 623.3,974.0 623.7,973.6 624.0,974.1 624.4,971.9 624.7,971.2 625.0,968.4 625.4,966.8 625.7,967.4 626.1,965.7 626.4,966.4 626.7,965.7 627.1,967.0 627.4,966.9 627.8,964.0 628.1,966.2 628.4,965.0 628.8,964.6 629.1,963.7 629.5,964.4 629.8,962.3 630.1,962.3 630.5,962.3 630.8,963.7 631.2,965.1 631.5,965.3 631.8,965.0 632.2,963.7 632.5,962.1 632.9,966.7 633.2,969.4 633.5,972.2 633.9,976.0 634.2,976.8 634.6,976.8 634.9,973.3 635.2,975.4 635.6,974.8 635.9,973.2 636.3,973.7 636.6,971.6 636.9,971.1 637.3,974.3 637.6,974.7 638.0,975.7 638.3,976.4 638.6,977.1 639.0,977.4 639.3,980.5 639.7,979.5 640.0,980.8 640.3,980.6 640.7,981.1 641.0,978.7 641.4,977.9 641.7,980.9 642.0,981.3 642.4,978.5 642.7,977.6 643.1,977.5 643.4,975.0 643.7,977.1 644.1,973.5 644.4,972.2 644.8,969.5 645.1,972.3 645.4,970.9 645.8,971.9 646.1,968.2 646.5,968.2 646.8,967.8 647.1,967.6 647.5,969.7 647.8,969.5 648.2,969.1 648.5,966.3 648.8,966.8 649.2,967.4 649.5,966.3 649.9,965.7 650.2,965.1 650.5,962.4 650.9,962.5 651.2,963.7 651.6,960.1 651.9,959.8 652.2,961.6 652.6,960.4 652.9,962.5 653.3,962.0 653.6,964.1 653.9,964.6 654.3,966.2 654.6,968.1 655.0,969.6 655.3,970.6 655.6,968.9 656.0,973.6 656.3,973.3 656.7,972.7 657.0,973.7 657.3,975.7 657.7,975.2 658.0,976.3 658.4,977.1 658.7,978.1 659.0,976.1 659.4,976.5 659.7,975.9 660.1,974.5 660.4,975.3 660.7,973.5 661.1,970.8 661.4,971.5 661.8,971.1 662.1,970.5 662.4,970.3 662.8,972.6 663.1,970.2 663.5,969.5 663.8,967.9 664.1,969.2 664.5,967.4 664.8,965.4 665.2,964.3 665.5,967.0 665.8,968.4 666.2,965.8 666.5,966.5 666.9,969.1 667.2,970.7 667.5,968.1 667.9,969.2 668.2,972.6 668.6,972.5 668.9,973.6 669.2,974.7 669.6,974.9 669.9,977.9 670.3,980.0 670.6,978.9 670.9,981.7 671.3,984.8 671.6,985.3 672.0,987.5 672.3,987.5 672.6,991.7 673.0,991.2 673.3,994.7 673.7,990.7 674.0,988.1 674.3,985.9 674.7,984.9 675.0,982.2 675.4,979.2 675.7,976.9 676.0,975.9 676.4,974.0 676.7,969.8 677.1,969.5 677.4,964.1 677.7,962.6 678.1,961.8 678.4,964.2 678.8,961.1 679.1,960.2 679.4,964.1 679.8,965.7 680.1,965.4 680.5,960.9 680.8,962.5 681.1,964.6 681.5,964.3 681.8,961.8 682.2,963.4 682.5,962.0 682.8,962.7 683.2,968.0 683.5,966.4 683.9,961.9 684.2,959.8 684.5,961.8 684.9,960.3 685.2,963.8 685.6,964.1 685.9,966.2 686.2,968.9 686.6,968.9 686.9,968.9 687.3,968.6 687.6,966.1 687.9,963.8 688.3,960.9 688.6,958.1 689.0,958.4 689.3,955.7 689.6,958.2 690.0,959.4 690.3,956.7 690.7,957.5 691.0,961.9 691.3,964.4 691.7,966.4 692.0,967.6 692.4,966.1 692.7,964.8 693.0,967.1 693.4,968.4 693.7,965.1 694.1,965.4 694.4,965.4 694.7,963.7 695.1,962.1 695.4,961.6 695.8,958.3 696.1,959.9 696.4,959.7 696.8,963.2 697.1,961.9 697.5,959.2 697.8,958.5 698.1,960.3 698.5,960.0 698.8,956.8 699.2,954.7 699.5,951.2 699.8,951.5 700.2,951.7 700.5,950.6 700.9,954.1 701.2,949.0 701.5,950.1 701.9,951.0 702.2,951.1 702.6,953.3 702.9,950.2 703.2,951.4 703.6,954.0 703.9,955.8 704.3,956.5 704.6,954.5 704.9,955.0 705.3,950.1 705.6,947.9 706.0,949.0 706.3,948.8 706.6,947.7 707.0,944.4 707.3,943.4 707.7,942.9 708.0,942.3 708.3,943.2 708.7,946.2 709.0,945.3 709.4,943.9 709.7,943.8 710.0,943.4 710.4,947.5 710.7,943.8 711.1,946.8 711.4,945.2 711.7,945.6 712.1,944.5 712.4,947.7 712.8,946.6 713.1,949.8 713.4,945.0 713.8,942.9 714.1,944.6 714.5,944.7 714.8,944.6 715.1,943.3 715.5,949.8 715.8,951.7 716.2,953.2 716.5,952.9 716.8,953.6 717.2,951.3 717.5,951.0 717.9,950.0 718.2,951.5 718.5,948.6 718.9,947.3 719.2,948.8 719.6,947.9 719.9,947.2 720.2,946.5 720.6,948.1 720.9,946.0 721.3,947.1 721.6,949.8 721.9,947.9 722.3,945.1 722.6,943.2 723.0,944.5 723.3,942.4 723.6,940.8 724.0,941.4 724.3,940.7 724.7,943.4 725.0,939.8 725.3,943.0 725.7,939.6 726.0,939.4 726.4,939.6 726.7,938.8 727.0,941.0 727.4,940.0 727.7,939.2 728.1,942.7 728.4,942.6 728.7,944.7 729.1,948.0 729.4,947.5 729.8,947.1 730.1,946.5 730.4,947.8 730.8,947.7 731.1,945.2 731.5,947.0 731.8,945.0 732.1,946.1 732.5,946.6 732.8,950.2 733.2,952.1 733.5,952.5 733.8,953.5 734.2,955.1 734.5,956.2 734.9,955.8 735.2,954.0 735.5,953.4 735.9,954.8 736.2,949.9 736.6,951.6 736.9,949.0 737.2,953.4 737.6,950.4 737.9,950.3 738.3,947.2 738.6,949.7 738.9,957.3 739.3,967.3 739.6,965.8 740.0,972.4 740.3,984.9 740.6,982.4 741.0,976.6 741.3,975.2 741.7,965.0 742.0,972.3 742.3,969.3 742.7,963.8 743.0,969.4 743.4,966.0 743.7,963.7 744.0,967.1 744.4,967.6 744.7,965.3 745.1,965.5 745.4,963.6 745.7,965.0 746.1,973.2 746.4,978.4 746.8,979.5 747.1,981.1 747.4,976.7 747.8,974.4 748.1,970.1 748.5,973.6 748.8,967.5 749.1,966.3 749.5,963.3 749.8,959.2 750.2,965.2 750.5,961.1 750.8,958.5 751.2,959.3 751.5,956.7 751.9,957.7 752.2,955.4 752.5,957.9 752.9,957.2 753.2,953.3 753.6,957.4 753.9,956.4 754.2,952.7 754.6,954.7 754.9,954.9 755.3,957.9 755.6,951.7 755.9,955.1 756.3,956.5 756.6,960.7 757.0,962.0 757.3,964.7 757.6,964.3 758.0,958.9 758.3,954.0 758.7,956.2 759.0,954.7 759.3,954.4 759.7,954.6 760.0,951.2 760.4,955.9 760.7,955.7 761.0,957.4 761.4,961.3 761.7,963.2 762.1,963.3 762.4,964.8 762.7,964.1 763.1,965.3 763.4,968.6 763.8,972.5 764.1,968.5 764.4,969.4 764.8,971.4 765.1,970.0 765.5,964.6 765.8,965.2 766.1,964.9 766.5,965.6 766.8,966.4 767.2,966.1 767.5,967.2 767.8,969.0 768.2,970.7 768.5,975.0 768.9,979.2 769.2,984.7 769.5,985.6 769.9,987.8 770.2,991.2 770.6,987.8 770.9,989.6 771.2,992.9 771.6,991.5 771.9,988.2 772.3,991.2 772.6,989.1 772.9,985.9 773.3,990.9 773.6,984.7 774.0,988.3 774.3,989.6 774.6,993.4 775.0,997.2 775.3,996.6 775.7,999.3 776.0,1001.4 776.3,1000.4 776.7,1002.4 777.0,999.7 777.4,996.7 777.7,993.7 778.0,992.2 778.4,991.5 778.7,988.5 779.1,989.1 779.4,979.8 779.7,976.9 780.1,976.8 780.4,972.0 780.8,972.4 781.1,969.7 781.4,971.6 781.8,971.5 782.1,972.8 782.5,972.1 782.8,972.1 783.1,970.4 783.5,970.6 783.8,969.2 784.2,966.4 784.5,964.0 784.8,962.9 785.2,965.3 785.5,960.5 785.9,963.2 786.2,962.0 786.5,963.8 786.9,963.0 787.2,961.0 787.6,961.6 787.9,957.8 788.2,960.7 788.6,961.7 788.9,958.2 789.3,961.2 789.6,960.5 789.9,960.2 790.3,956.8 790.6,958.2 791.0,957.8 791.3,956.1 791.6,953.3 792.0,954.6 792.3,955.1 792.7,953.7 793.0,955.3 793.3,953.6 793.7,955.0 794.0,956.4 794.4,957.1 794.7,961.9 795.0,961.4 795.4,959.9 795.7,963.0 796.1,961.1 796.4,964.2 796.7,966.9 797.1,966.0 797.4,964.7 797.8,960.8 798.1,960.1 798.4,956.5 798.8,958.9 799.1,955.6 799.5,950.9 799.8,944.8 800.1,950.8 800.5,952.3 800.8,951.5 801.2,951.3 801.5,951.9 801.8,951.2 802.2,955.8 802.5,952.6 802.9,947.5 803.2,947.4 803.5,946.2 803.9,954.0 804.2,958.8 804.6,964.0 804.9,967.3 805.2,966.5 805.6,963.5 805.9,960.8 806.3,957.3 806.6,952.0 806.9,949.7 807.3,946.2 807.6,944.6 808.0,941.1 808.3,938.3 808.6,937.1 809.0,936.9 809.3,936.1 809.7,936.3 810.0,937.4 810.3,937.5 810.7,938.5 811.0,938.4 811.4,937.6 811.7,934.7 812.0,936.2 812.4,937.3 812.7,934.1 813.1,933.3 813.4,933.1 813.7,932.8 814.1,933.7 814.4,932.9 814.8,934.4 815.1,932.3 815.4,932.8 815.8,932.1 816.1,931.0 816.5,933.1 816.8,932.0 817.1,932.1 817.5,930.5 817.8,931.3 818.2,931.3 818.5,930.1 818.8,927.3 819.2,929.9 819.5,930.4 819.9,929.6 820.2,929.3 820.5,929.9 820.9,932.7 821.2,933.9 821.6,937.4 821.9,940.9 822.2,937.7 822.6,934.5 822.9,935.6 823.3,932.9 823.6,931.7 823.9,931.2 824.3,928.8 824.6,929.1 825.0,931.1 825.3,934.0 825.6,930.8 826.0,932.0 826.3,936.1 826.7,936.0 827.0,935.9 827.3,937.3 827.7,936.3 828.0,936.3 828.4,938.0 828.7,939.2 829.0,937.5 829.4,940.8 829.7,938.1 830.1,939.1 830.4,944.0 830.7,942.6 831.1,945.2 831.4,945.4 831.8,947.7 832.1,949.3 832.4,951.6 832.8,948.6 833.1,944.6 833.5,938.2 833.8,933.1 834.1,926.1 834.5,923.5 834.8,918.3 835.2,916.7 835.5,912.9 835.8,910.8 836.2,911.1 836.5,909.0 836.9,906.6 837.2,903.8 837.5,902.7 837.9,902.2 838.2,900.7 838.6,896.2 838.9,893.1 839.2,891.2 839.6,888.4 839.9,891.0 840.3,890.6 840.6,890.5 840.9,887.5 841.3,887.8 841.6,888.9 842.0,889.8 842.3,889.1 842.6,890.8 843.0,890.8 843.3,890.1 843.7,887.2 844.0,891.0 844.3,889.7 844.7,890.7 845.0,890.1 845.4,891.5 845.7,893.5 846.0,894.1 846.4,895.9 846.7,895.5 847.1,899.0 847.4,895.3 847.7,896.3 848.1,899.0 848.4,898.5 848.8,898.5 849.1,897.0 849.4,900.2 849.8,896.5 850.1,898.2 850.5,897.9 850.8,898.4 851.1,898.9 851.5,895.7 851.8,894.3 852.2,893.9 852.5,891.1 852.8,892.9 853.2,891.1 853.5,890.6 853.9,888.0 854.2,888.1 854.5,886.5 854.9,886.5 855.2,885.8 855.6,888.8 855.9,887.8 856.2,885.9 856.6,889.2 856.9,890.0 857.3,890.4 857.6,895.8 857.9,894.8 858.3,893.7 858.6,895.1 859.0,897.5 859.3,898.1 859.6,900.9 860.0,902.2 860.3,901.0 860.7,900.8 861.0,900.8 861.3,899.0 861.7,897.8 862.0,898.6 862.4,897.7 862.7,894.6 863.0,894.1 863.4,894.9 863.7,896.4 864.1,896.8 864.4,900.2 864.7,899.1 865.1,899.3 865.4,901.7 865.8,900.1 866.1,900.3 866.4,900.7 866.8,897.0 867.1,895.1 867.5,895.6 867.8,893.7 868.1,891.2 868.5,889.4 868.8,887.1 869.2,888.7 869.5,889.0 869.8,892.9 870.2,892.2 870.5,891.3 870.9,891.9 871.2,892.7 871.5,891.7 871.9,893.0 872.2,897.2 872.6,895.6 872.9,897.0 873.2,900.2 873.6,902.5 873.9,901.0 874.3,901.9 874.6,899.1 874.9,899.8 875.3,897.7 875.6,895.2 876.0,894.8 876.3,893.9 876.6,891.6 877.0,894.0 877.3,891.2 877.7,891.7 878.0,889.4 878.3,886.6 878.7,886.1 879.0,887.1 879.4,888.9 879.7,891.0 880.0,890.0 880.4,889.5 880.7,888.6 881.1,890.0 881.4,891.2 881.7,888.8 882.1,891.6 882.4,891.8 882.8,892.4 883.1,889.0 883.4,888.5 883.8,888.0 884.1,885.8 884.5,885.3 884.8,885.4 885.1,887.5 885.5,888.3 885.8,889.8 886.2,888.5 886.5,886.4 886.8,886.7 887.2,885.7 887.5,884.9 887.9,884.3 888.2,881.1 888.5,883.1 888.9,882.3"/>
<rect x="71.5" y="847.6" width="928.1" height="343.9" fill="none" stroke="#000" stroke-width="3"/>
<text x="33.96" y="1196.50" textLength="23.04" lengthAdjust="spacingAndGlyphs" style='font-family:"Liberation Serif","Times New Roman",serif;font-size:16.00px;font-weight:normal;font-style:normal;fill:#000'>150</text>
<text x="1014.40" y="1196.50" textLength="23.04" lengthAdjust="spacingAndGlyphs" style='font-family:"Liberation Serif","Times New Roman",serif;font-size:16.00px;font-weight:normal;font-style:normal;fill:#000'>150</text>
<text x="33.96" y="1153.56" textLength="23.04" lengthAdjust="spacingAndGlyphs" style='font-family:"Liberation Serif","Times New Roman",serif;font-size:16.00px;font-weight:normal;font-style:normal;fill:#000'>250</text>
<text x="1014.40" y="1153.56" textLength="23.04" lengthAdjust="spacingAndGlyphs" style='font-family:"Liberation Serif","Times New Roman",serif;font-size:16.00px;font-weight:normal;font-style:normal;fill:#000'>250</text>
<text x="33.96" y="1110.62" textLength="23.04" lengthAdjust="spacingAndGlyphs" style='font-family:"Liberation Serif","Times New Roman",serif;font-size:16.00px;font-weight:normal;font-style:normal;fill:#000'>350</text>
<text x="1014.40" y="1110.62" textLength="23.04" lengthAdjust="spacingAndGlyphs" style='font-family:"Liberation Serif","Times New Roman",serif;font-size:16.00px;font-weight:normal;font-style:normal;fill:#000'>350</text>
<text x="33.96" y="1067.69" textLength="23.04" lengthAdjust="spacingAndGlyphs" style='font-family:"Liberation Serif","Times New Roman",serif;font-size:16.00px;font-weight:normal;font-style:normal;fill:#000'>450</text>
<text x="1014.40" y="1067.69" textLength="23.04" lengthAdjust="spacingAndGlyphs" style='font-family:"Liberation Serif","Times New Roman",serif;font-size:16.00px;font-weight:normal;font-style:normal;fill:#000'>450</text>
<text x="33.96" y="1024.75" textLength="23.04" lengthAdjust="spacingAndGlyphs" style='font-family:"Liberation Serif","Times New Roman",serif;font-size:16.00px;font-weight:normal;font-style:normal;fill:#000'>550</text>
<text x="1014.40" y="1024.75" textLength="23.04" lengthAdjust="spacingAndGlyphs" style='font-family:"Liberation Serif","Times New Roman",serif;font-size:16.00px;font-weight:normal;font-style:normal;fill:#000'>550</text>
<text x="33.96" y="981.81" textLength="23.04" lengthAdjust="spacingAndGlyphs" style='font-family:"Liberation Serif","Times New Roman",serif;font-size:16.00px;font-weight:normal;font-style:normal;fill:#000'>650</text>
<text x="1014.40" y="981.81" textLength="23.04" lengthAdjust="spacingAndGlyphs" style='font-family:"Liberation Serif","Times New Roman",serif;font-size:16.00px;font-weight:normal;font-style:normal;fill:#000'>650</text>
<text x="33.96" y="938.88" textLength="23.04" lengthAdjust="spacingAndGlyphs" style='font-family:"Liberation Serif","Times New Roman",serif;font-size:16.00px;font-weight:normal;font-style:normal;fill:#000'>750</text>
<text x="1014.40" y="938.88" textLength="23.04" lengthAdjust="spacingAndGlyphs" style='font-family:"Liberation Serif","Times New Roman",serif;font-size:16.00px;font-weight:normal;font-style:normal;fill:#000'>750</text>
<text x="33.96" y="895.94" textLength="23.04" lengthAdjust="spacingAndGlyphs" style='font-family:"Liberation Serif","Times New Roman",serif;font-size:16.00px;font-weight:normal;font-style:normal;fill:#000'>850</text>
<text x="1014.40" y="895.94" textLength="23.04" lengthAdjust="spacingAndGlyphs" style='font-family:"Liberation Serif","Times New Roman",serif;font-size:16.00px;font-weight:normal;font-style:normal;fill:#000'>850</text>
<text x="33.96" y="853.00" textLength="23.04" lengthAdjust="spacingAndGlyphs" style='font-family:"Liberation Serif","Times New Roman",serif;font-size:16.00px;font-weight:normal;font-style:normal;fill:#000'>950</text>
<text x="1014.40" y="853.00" textLength="23.04" lengthAdjust="spacingAndGlyphs" style='font-family:"Liberation Serif","Times New Roman",serif;font-size:16.00px;font-weight:normal;font-style:normal;fill:#000'>950</text>
<path d="M59.2 1190.5H70.3M1001 1190.5H1011.2M65 1169.5H70.3M1001 1169.5H1006.2M59.2 1148.5H70.3M1001 1148.5H1011.2M65 1126.5H70.3M1001 1126.5H1006.2M59.2 1105.5H70.3M1001 1105.5H1011.2M65 1083.5H70.3M1001 1083.5H1006.2M59.2 1062.5H70.3M1001 1062.5H1011.2M65 1040.5H70.3M1001 1040.5H1006.2M59.2 1019.5H70.3M1001 1019.5H1011.2M65 997.5H70.3M1001 997.5H1006.2M59.2 976.5H70.3M1001 976.5H1011.2M65 954.5H70.3M1001 954.5H1006.2M59.2 933.5H70.3M1001 933.5H1011.2M65 911.5H70.3M1001 911.5H1006.2M59.2 890.5H70.3M1001 890.5H1011.2M65 868.5H70.3M1001 868.5H1006.2M59.2 847.5H70.3M1001 847.5H1011.2" stroke="#000" stroke-width="1.15" fill="none"/>
<path d="M71.0 1192.9V1205.5M148.0 1192.9V1205.5M226.0 1192.9V1205.5M303.0 1192.9V1205.5M380.0 1192.9V1205.5M458.0 1192.9V1205.5M535.0 1192.9V1205.5M612.0 1192.9V1205.5M690.0 1192.9V1205.5M767.0 1192.9V1205.5M844.0 1192.9V1205.5M922.0 1192.9V1205.5M999.0 1192.9V1205.5" stroke="#000" stroke-width="2" fill="none"/>
<text x="94.27" y="1211.00" textLength="30.47" lengthAdjust="spacingAndGlyphs" style='font-family:"Liberation Serif","Times New Roman",serif;font-size:16.00px;font-weight:normal;font-style:normal;fill:#000'>2007</text>
<text x="171.61" y="1211.00" textLength="30.62" lengthAdjust="spacingAndGlyphs" style='font-family:"Liberation Serif","Times New Roman",serif;font-size:16.00px;font-weight:normal;font-style:normal;fill:#000'>2008</text>
<text x="248.96" y="1211.00" textLength="30.62" lengthAdjust="spacingAndGlyphs" style='font-family:"Liberation Serif","Times New Roman",serif;font-size:16.00px;font-weight:normal;font-style:normal;fill:#000'>2009</text>
<text x="326.31" y="1211.00" textLength="30.62" lengthAdjust="spacingAndGlyphs" style='font-family:"Liberation Serif","Times New Roman",serif;font-size:16.00px;font-weight:normal;font-style:normal;fill:#000'>2010</text>
<text x="403.64" y="1211.00" textLength="31.03" lengthAdjust="spacingAndGlyphs" style='font-family:"Liberation Serif","Times New Roman",serif;font-size:16.00px;font-weight:normal;font-style:normal;fill:#000'>2011</text>
<text x="481.01" y="1211.00" textLength="30.79" lengthAdjust="spacingAndGlyphs" style='font-family:"Liberation Serif","Times New Roman",serif;font-size:16.00px;font-weight:normal;font-style:normal;fill:#000'>2012</text>
<text x="558.36" y="1211.00" textLength="30.63" lengthAdjust="spacingAndGlyphs" style='font-family:"Liberation Serif","Times New Roman",serif;font-size:16.00px;font-weight:normal;font-style:normal;fill:#000'>2013</text>
<text x="635.72" y="1211.00" textLength="30.15" lengthAdjust="spacingAndGlyphs" style='font-family:"Liberation Serif","Times New Roman",serif;font-size:16.00px;font-weight:normal;font-style:normal;fill:#000'>2014</text>
<text x="713.06" y="1211.00" textLength="30.63" lengthAdjust="spacingAndGlyphs" style='font-family:"Liberation Serif","Times New Roman",serif;font-size:16.00px;font-weight:normal;font-style:normal;fill:#000'>2015</text>
<text x="790.42" y="1211.00" textLength="30.47" lengthAdjust="spacingAndGlyphs" style='font-family:"Liberation Serif","Times New Roman",serif;font-size:16.00px;font-weight:normal;font-style:normal;fill:#000'>2016</text>
<text x="867.77" y="1211.00" textLength="30.47" lengthAdjust="spacingAndGlyphs" style='font-family:"Liberation Serif","Times New Roman",serif;font-size:16.00px;font-weight:normal;font-style:normal;fill:#000'>2017</text>
<text x="945.11" y="1211.00" textLength="30.63" lengthAdjust="spacingAndGlyphs" style='font-family:"Liberation Serif","Times New Roman",serif;font-size:16.00px;font-weight:normal;font-style:normal;fill:#000'>2018</text>
<text x="81.62" y="82.90" textLength="621.83" lengthAdjust="spacingAndGlyphs" style='font-family:"Liberation Sans",Arial,sans-serif;font-size:18.80px;font-weight:bold;font-style:normal;fill:#000'>S&amp;P STOCK PRICE INDEXES, FORWARD EARNINGS, &amp; VALUATION</text>
<path d="M214.8 104.0H248.1" stroke="#ff0000" stroke-width="2"/>
<path d="M216.2 151.9H247" stroke="#0000ff" stroke-width="4" stroke-linecap="round"/>
<text x="256.74" y="109.90" textLength="67.63" lengthAdjust="spacingAndGlyphs" style='font-family:"Liberation Sans",Arial,sans-serif;font-size:16.50px;font-weight:normal;font-style:normal;fill:#000'>S&amp;P 500</text>
<text x="256.91" y="130.80" textLength="66.71" lengthAdjust="spacingAndGlyphs" style='font-family:"Liberation Sans",Arial,sans-serif;font-size:16.50px;font-weight:normal;font-style:normal;fill:#000'>07/31/17</text>
<text x="256.73" y="157.40" textLength="164.23" lengthAdjust="spacingAndGlyphs" style='font-family:"Liberation Sans",Arial,sans-serif;font-size:16.50px;font-weight:normal;font-style:normal;fill:#000'>S&amp;P 500 Blue Angels</text>
<text x="256.06" y="174.40" textLength="152.53" lengthAdjust="spacingAndGlyphs" style='font-family:"Liberation Sans",Arial,sans-serif;font-size:16.50px;font-weight:normal;font-style:normal;fill:#000'>Implied Price Index*</text>
<text x="256.91" y="192.60" textLength="66.71" lengthAdjust="spacingAndGlyphs" style='font-family:"Liberation Sans",Arial,sans-serif;font-size:16.50px;font-weight:normal;font-style:normal;fill:#000'>07/27/17</text>
<path d="M214.8 497.2H248.1" stroke="#ff0000" stroke-width="2"/>
<path d="M216.2 552.2H247" stroke="#0000ff" stroke-width="4" stroke-linecap="round"/>
<text x="256.74" y="502.80" textLength="67.63" lengthAdjust="spacingAndGlyphs" style='font-family:"Liberation Sans",Arial,sans-serif;font-size:16.50px;font-weight:normal;font-style:normal;fill:#000'>S&amp;P 400</text>
<text x="256.91" y="523.80" textLength="66.71" lengthAdjust="spacingAndGlyphs" style='font-family:"Liberation Sans",Arial,sans-serif;font-size:16.50px;font-weight:normal;font-style:normal;fill:#000'>07/31/17</text>
<text x="256.73" y="557.70" textLength="164.23" lengthAdjust="spacingAndGlyphs" style='font-family:"Liberation Sans",Arial,sans-serif;font-size:16.50px;font-weight:normal;font-style:normal;fill:#000'>S&amp;P 400 Blue Angels</text>
<text x="256.06" y="575.50" textLength="152.53" lengthAdjust="spacingAndGlyphs" style='font-family:"Liberation Sans",Arial,sans-serif;font-size:16.50px;font-weight:normal;font-style:normal;fill:#000'>Implied Price Index*</text>
<text x="256.91" y="592.60" textLength="66.71" lengthAdjust="spacingAndGlyphs" style='font-family:"Liberation Sans",Arial,sans-serif;font-size:16.50px;font-weight:normal;font-style:normal;fill:#000'>07/27/17</text>
<path d="M214.8 909.6H248.1" stroke="#ff0000" stroke-width="2"/>
<path d="M216.2 964.8H247" stroke="#0000ff" stroke-width="4" stroke-linecap="round"/>
<text x="256.74" y="915.80" textLength="67.63" lengthAdjust="spacingAndGlyphs" style='font-family:"Liberation Sans",Arial,sans-serif;font-size:16.50px;font-weight:normal;font-style:normal;fill:#000'>S&amp;P 600</text>
<text x="256.91" y="935.60" textLength="66.71" lengthAdjust="spacingAndGlyphs" style='font-family:"Liberation Sans",Arial,sans-serif;font-size:16.50px;font-weight:normal;font-style:normal;fill:#000'>07/31/17</text>
<text x="256.73" y="970.70" textLength="164.23" lengthAdjust="spacingAndGlyphs" style='font-family:"Liberation Sans",Arial,sans-serif;font-size:16.50px;font-weight:normal;font-style:normal;fill:#000'>S&amp;P 600 Blue Angels</text>
<text x="256.06" y="987.70" textLength="152.53" lengthAdjust="spacingAndGlyphs" style='font-family:"Liberation Sans",Arial,sans-serif;font-size:16.50px;font-weight:normal;font-style:normal;fill:#000'>Implied Price Index*</text>
<text x="256.91" y="1004.60" textLength="66.71" lengthAdjust="spacingAndGlyphs" style='font-family:"Liberation Sans",Arial,sans-serif;font-size:16.50px;font-weight:normal;font-style:normal;fill:#000'>07/27/17</text>
<text x="897.74" y="98.90" textLength="25.11" lengthAdjust="spacingAndGlyphs" style='font-family:"Liberation Sans",Arial,sans-serif;font-size:15.40px;font-weight:normal;font-style:normal;fill:#0000ff'>x18</text>
<text x="897.74" y="144.00" textLength="25.11" lengthAdjust="spacingAndGlyphs" style='font-family:"Liberation Sans",Arial,sans-serif;font-size:15.40px;font-weight:normal;font-style:normal;fill:#0000ff'>x16</text>
<text x="897.75" y="189.40" textLength="24.80" lengthAdjust="spacingAndGlyphs" style='font-family:"Liberation Sans",Arial,sans-serif;font-size:15.40px;font-weight:normal;font-style:normal;fill:#0000ff'>x14</text>
<text x="897.74" y="235.50" textLength="25.11" lengthAdjust="spacingAndGlyphs" style='font-family:"Liberation Sans",Arial,sans-serif;font-size:15.40px;font-weight:normal;font-style:normal;fill:#0000ff'>x12</text>
<text x="897.75" y="280.60" textLength="24.95" lengthAdjust="spacingAndGlyphs" style='font-family:"Liberation Sans",Arial,sans-serif;font-size:15.40px;font-weight:normal;font-style:normal;fill:#0000ff'>x10</text>
<text x="897.44" y="490.60" textLength="27.57" lengthAdjust="spacingAndGlyphs" style='font-family:"Liberation Sans",Arial,sans-serif;font-size:15.40px;font-weight:normal;font-style:normal;fill:#0000ff'>X20</text>
<text x="897.43" y="527.80" textLength="27.73" lengthAdjust="spacingAndGlyphs" style='font-family:"Liberation Sans",Arial,sans-serif;font-size:15.40px;font-weight:normal;font-style:normal;fill:#0000ff'>X18</text>
<text x="897.74" y="564.90" textLength="25.11" lengthAdjust="spacingAndGlyphs" style='font-family:"Liberation Sans",Arial,sans-serif;font-size:15.40px;font-weight:normal;font-style:normal;fill:#0000ff'>x16</text>
<text x="897.75" y="602.00" textLength="24.80" lengthAdjust="spacingAndGlyphs" style='font-family:"Liberation Sans",Arial,sans-serif;font-size:15.40px;font-weight:normal;font-style:normal;fill:#0000ff'>x14</text>
<text x="897.74" y="639.20" textLength="25.11" lengthAdjust="spacingAndGlyphs" style='font-family:"Liberation Sans",Arial,sans-serif;font-size:15.40px;font-weight:normal;font-style:normal;fill:#0000ff'>x12</text>
<text x="897.75" y="676.30" textLength="24.95" lengthAdjust="spacingAndGlyphs" style='font-family:"Liberation Sans",Arial,sans-serif;font-size:15.40px;font-weight:normal;font-style:normal;fill:#0000ff'>x10</text>
<text x="897.75" y="873.80" textLength="24.95" lengthAdjust="spacingAndGlyphs" style='font-family:"Liberation Sans",Arial,sans-serif;font-size:15.40px;font-weight:normal;font-style:normal;fill:#0000ff'>x20</text>
<text x="897.74" y="912.20" textLength="25.11" lengthAdjust="spacingAndGlyphs" style='font-family:"Liberation Sans",Arial,sans-serif;font-size:15.40px;font-weight:normal;font-style:normal;fill:#0000ff'>x18</text>
<text x="897.74" y="950.80" textLength="25.11" lengthAdjust="spacingAndGlyphs" style='font-family:"Liberation Sans",Arial,sans-serif;font-size:15.40px;font-weight:normal;font-style:normal;fill:#0000ff'>x16</text>
<text x="897.75" y="989.50" textLength="24.80" lengthAdjust="spacingAndGlyphs" style='font-family:"Liberation Sans",Arial,sans-serif;font-size:15.40px;font-weight:normal;font-style:normal;fill:#0000ff'>x14</text>
<text x="897.74" y="1028.50" textLength="25.11" lengthAdjust="spacingAndGlyphs" style='font-family:"Liberation Sans",Arial,sans-serif;font-size:15.40px;font-weight:normal;font-style:normal;fill:#0000ff'>x12</text>
<text x="897.75" y="1066.90" textLength="24.95" lengthAdjust="spacingAndGlyphs" style='font-family:"Liberation Sans",Arial,sans-serif;font-size:15.40px;font-weight:normal;font-style:normal;fill:#0000ff'>x10</text>
<text x="901.66" y="1184.50" textLength="90.34" lengthAdjust="spacingAndGlyphs" style='font-family:"Liberation Serif","Times New Roman",serif;font-size:15.50px;font-weight:normal;font-style:italic;fill:#000' stroke="#000" stroke-width="0.45">yardeni.com</text>
<text x="51.25" y="1244.70" textLength="7.50" lengthAdjust="spacingAndGlyphs" style='font-family:"Liberation Serif","Times New Roman",serif;font-size:15.30px;font-weight:normal;font-style:normal;fill:#000'>*</text>
<text x="61.99" y="1244.70" textLength="791.31" lengthAdjust="spacingAndGlyphs" style='font-family:"Liberation Serif","Times New Roman",serif;font-size:15.30px;font-weight:normal;font-style:normal;fill:#000'>Implied stock price index calculated using actual 52-week consensus expected forward earnings times hypothetical forward P/Es.</text>
<text x="61.53" y="1258.60" textLength="355.73" lengthAdjust="spacingAndGlyphs" style='font-family:"Liberation Serif","Times New Roman",serif;font-size:15.30px;font-weight:normal;font-style:normal;fill:#000'>Source: Standard &amp; Poor’s and Thomson Reuters I/B/E/S.</text>
</svg>
</body></html>
